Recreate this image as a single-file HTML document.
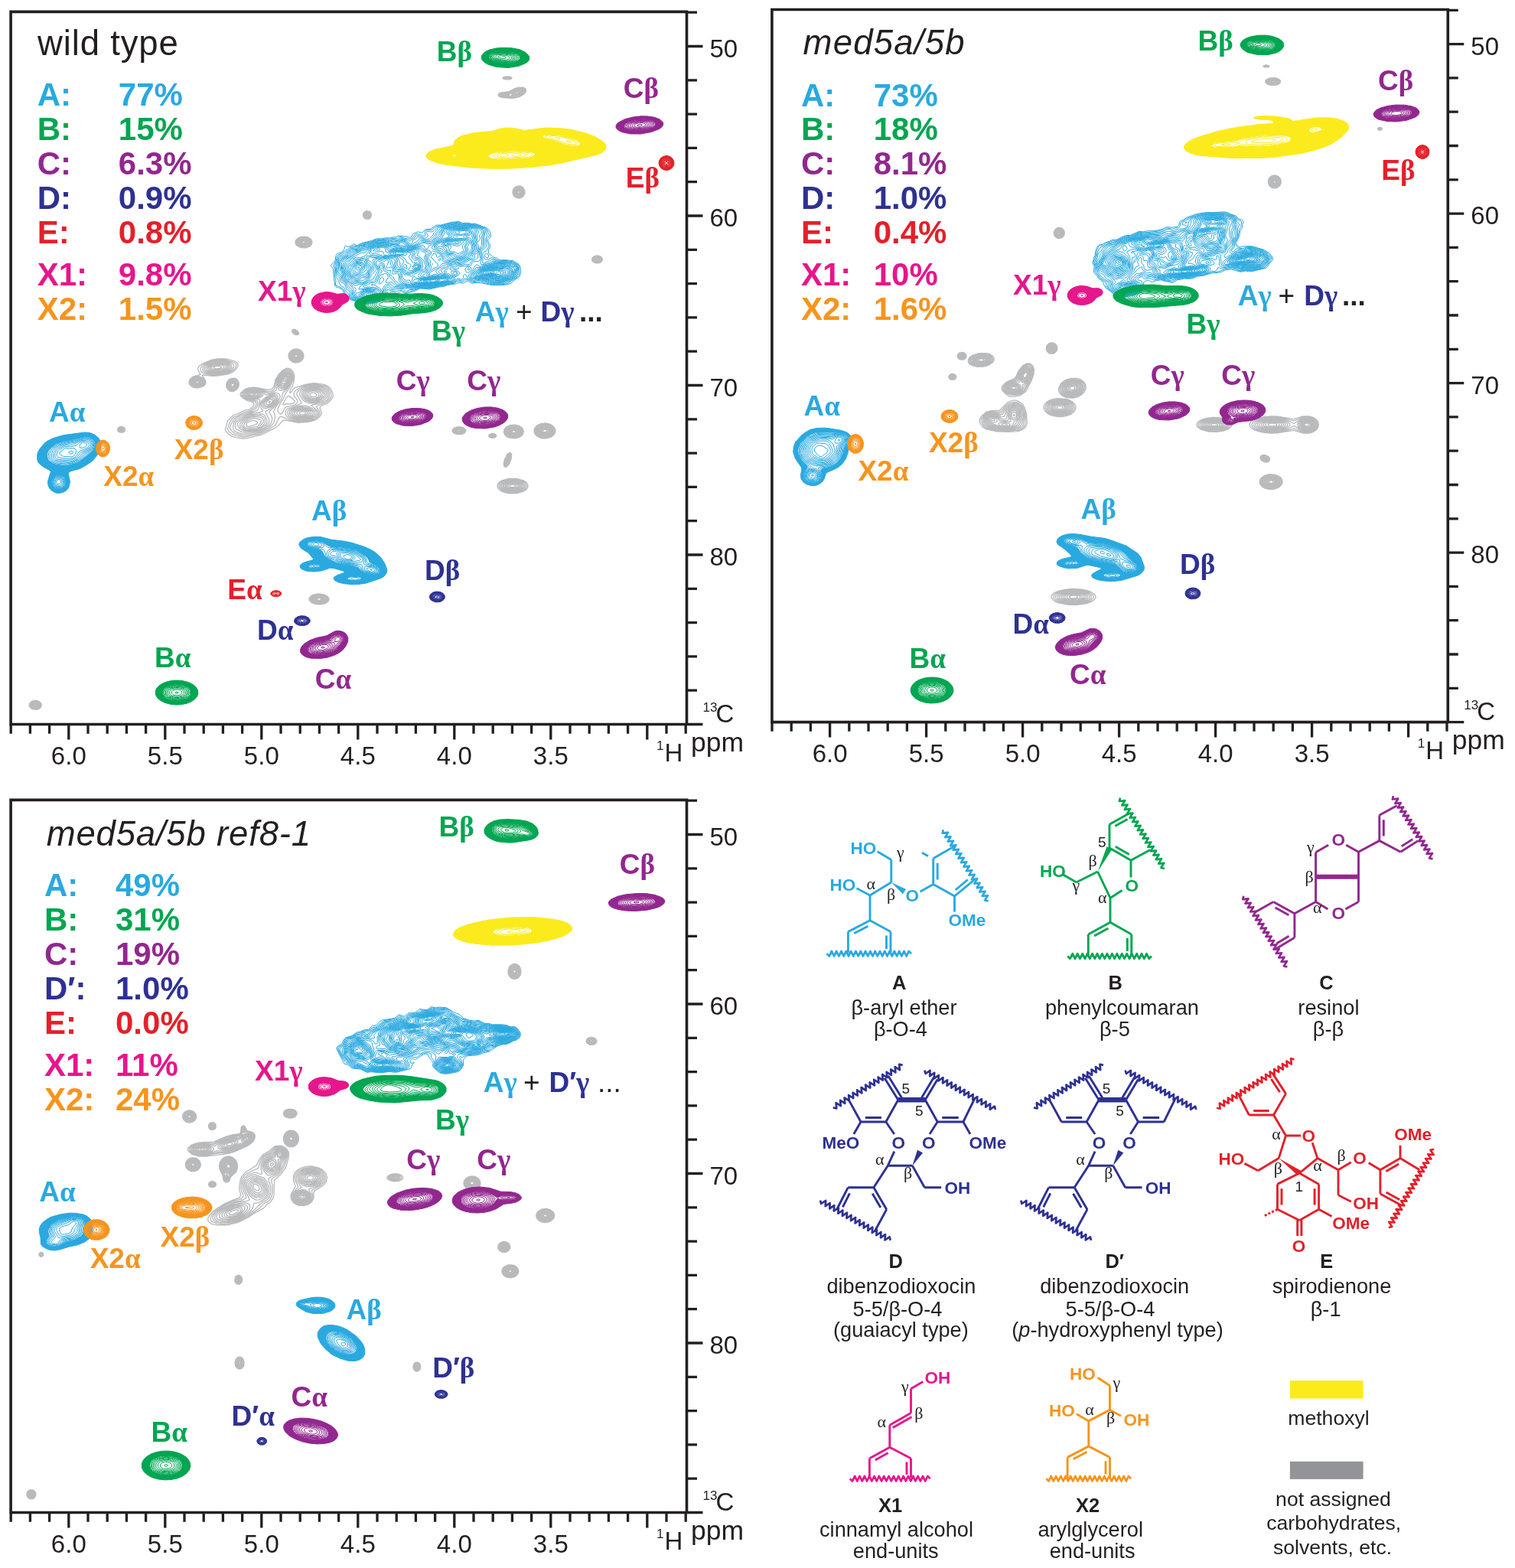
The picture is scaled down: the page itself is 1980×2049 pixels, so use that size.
<!DOCTYPE html>
<html><head><meta charset="utf-8"><title>HSQC NMR spectra</title><style>html,body{margin:0;padding:0;background:#fff;overflow:hidden}svg{display:block}</style></head><body>
<svg width="1980" height="2049" viewBox="0 0 1980 2049" font-family="'Liberation Sans', Arial, Helvetica, sans-serif">
<rect width="1980" height="2049" fill="#fff"/>
<g stroke-width="1" stroke-linejoin="round">
<path fill="none" stroke="#b9babc" stroke-width="1.35" d="M665.3 103.9l-6-.3-1.8-.8-.5-1 1.8-1.3 4-.6 4 .5 2.2 1.4-.7 1.1zM666.3 103.4l-6 .2-2-.8-.6-1 2.6-1.4 5.5 .1 2.5 1.3-.6 1zM665.3 103.3l-5 0-1.5-.7-.4-.8 1.4-.9 3-.5 3.5 .5 1.3 .9-.7 1zM663.3 103.3l-3-.3-1.2-1.2 3.7-1.2 2.5 .3 1.6 .9-1.1 1.1zM664.8 102.9l-3.5 .1-1.5-1.2 2-.9 3 .1 1.4 .8zM663.8 102.8l-2.5-.1-.9-.9 2.4-.7 2.8 .7zM664.3 102.5l-2 .1-1.1-.8 2.6-.4 1 .4zM663.3 102.3l-1-.5 1.4 0z"/>
<path fill="#b9babc" fill-rule="evenodd" d="M672.5 128.2l-5 .1-11.5-.9-4-1.6-1-2.2 1-1.3 2-1.1 11.5-1.6 7-3.7 4.5-1.5 6-.2 2.5 .8 1.4 1.1 .6 1.5-.3 2-3.2 3.9-5 2.9zM674.5 126.6l-16.5 .3-4-1.2-1.3-1.6 .9-1.5 2.9-1.2 10-.6 5.5-3.5 4-1.5 5-.5 3.6 1.3 .8 2.5-1.8 3-4.1 2.8z"/>
<path fill="none" stroke="#b9babc" stroke-width="1.35" d="M672.5 128.2l-5 .1-11.5-.9-4-1.6-1-2.2 1-1.3 2-1.1 11.5-1.6 7-3.7 4.5-1.5 6-.2 2.5 .8 1.4 1.1 .6 1.5-.3 2-3.2 3.9-5 2.9zM674.5 126.6l-16.5 .3-4-1.2-1.3-1.6 .9-1.5 2.9-1.2 10-.6 5.5-3.5 4-1.5 5-.5 3.6 1.3 .8 2.5-1.8 3-4.1 2.8zM662.5 126.6l-6.5-.5-1.9-1-.5-1.5 1.4-1.3 3-.8 8.5 .1 6-3.9 5-1.7 4.5 .2 2.3 1.9-.2 2-1.4 2-5.2 3.1-4.5 1.1-6-.2zM663 126.1l-6.5-.3-1.9-1.2-.1-1 1.5-1.2 3-.7 8 .8 4.5-3.6 5-2.1 4.5-.2 2.3 1.5 .1 1.5-1.1 2-4.3 2.9-4.5 1.1-6-.5zM676 124.6l-5 .3-1.8-.8-.4-1 2-3 3.7-2.2 4.5-.9 3 1 .5 1.6-1.1 2-2.4 1.8zM663 125.7l-5.5 0-2.1-1.1-.1-1 1.7-1.1 3-.5 3.5 .5 2.1 1.1-.2 1zM675.5 124.2l-4.5-.2-.8-.9 .3-1.5 2-2.1 3-1.4 3.5-.5 2 .7 .6 1.3-1.1 2zM660.5 125.6l-3.3-.5-.8-.5-.2-1 3.8-1.2 2.5 .3 1.7 .9-.7 1.3zM675.5 123.7l-3.5-.3-.7-.8 .4-1.5 1.8-1.6 3-1.2 2.5 0 1.4 .8 .2 1-1 1.5zM661 125.2l-3-.3-1-.8 .2-.5 2.8-.8 3 .8-.2 1zM675 123.2l-2.4-.6-.2-1 1.1-1.3 3.5-1.4 2.4 .7 0 1-.9 1.1zM661 124.6l-2.8-.5 .8-.7 2 0 .9 .7zM676 122.2l-2-.1-.1-1 2.1-1.3 2 .2-.1 1.1z"/>
<path fill="#b9babc" fill-rule="evenodd" d="M678.9 259l-3-.3-3-1.5-1.9-2.3-1-3 .3-3 1.5-3 2.1-1.8 3-1 3 .1 3 1.5 2 2.2 1 3-.1 3-1.5 3-2.4 2.1zM679.4 257.4l-2.5 .1-2.5-1-1.7-1.6-1.1-2.5-.1-2.5 1-2.5 1.9-1.9 2-.9 2.5-.1 2.5 .9 1.7 1.5 1.3 2.5 .1 2.5-.9 2.5-1.7 1.9z"/>
<path fill="none" stroke="#b9babc" stroke-width="1.35" d="M678.9 259l-3-.3-3-1.5-1.9-2.3-1-3 .3-3 1.5-3 2.1-1.8 3-1 3 .1 3 1.5 2 2.2 1 3-.1 3-1.5 3-2.4 2.1zM679.4 257.4l-2.5 .1-2.5-1-1.7-1.6-1.1-2.5-.1-2.5 1-2.5 1.9-1.9 2-.9 2.5-.1 2.5 .9 1.7 1.5 1.3 2.5 .1 2.5-.9 2.5-1.7 1.9zM679.9 256.6l-2.5 .3-2-.6-1.8-1.4-1.2-2-.3-2.5 .6-2 3.2-2.9 2.5-.4 2 .5 1.8 1.3 1.3 2 .4 2.5-.5 2-1.5 2zM679.4 256l-2 .2-2-.7-2.4-3.1-.2-2 .7-2 2.9-2.4 2-.2 2 .6 2.6 3 .2 2-.6 2-1.2 1.6zM678.9 255.5l-3.5-.8-1.9-2.8 .8-3.5 2.6-1.8 3.5 .5 2 2.8-.5 3.5zM679.4 254.6l-3 0-2-2.2 0-3 2.5-2.1 3 .3 1.8 2.3-.3 3zM678.9 254.1l-2.5-.3-1.5-1.9 .3-2.5 1.7-1.4 2.5 .1 1.6 1.8-.1 2.5zM678.4 253.4l-2-.5-.8-1.5 .3-1.7 1.5-1.1 2 .4 1 1.4-.4 2zM678.4 252.5l-1.1-.1-.8-1 .9-1.8 1-.1 1 .9 0 1.2z"/>
<path fill="#b9babc" fill-rule="evenodd" d="M480.9 286.4l-4-.8-1.6-1.7-.7-2 0-2 .9-2 3.4-2.3 4 .7 1.7 1.6 .8 2-.7 4-1.8 1.8zM480.9 285.4l-3.5-.7-1.8-2.8 .7-3.5 2.6-1.8 3.5 .6 2 2.7-.6 3.5z"/>
<path fill="none" stroke="#b9babc" stroke-width="1.35" d="M480.9 286.4l-4-.8-1.6-1.7-.7-2 0-2 .9-2 3.4-2.3 4 .7 1.7 1.6 .8 2-.7 4-1.8 1.8zM480.9 285.4l-3.5-.7-1.8-2.8 .7-3.5 2.6-1.8 3.5 .6 2 2.7-.6 3.5zM480.9 284.9l-3-.4-1.9-2.6 .5-3 2.4-1.8 3 .3 2 2.5-.3 3zM480.9 284.5l-2.5-.3-1.9-2.3 .3-2.5 2.1-1.8 2.5 .1 2 2.2-.4 3zM480.9 284l-2.5-.3-1.4-1.8 .3-2.5 1.6-1.3 2.5 .1 1.5 1.7-.1 2.5zM480.9 283.5l-2-.1-1.4-1.5 0-2 1.4-1.4 2 0 1.5 1.4 .1 2zM480.9 283l-1.5 .1-1.4-1.2-.1-1.5 1-1.3 1.5-.3 1.5 1.1 .1 2zM480.9 282.4l-1.5 .2-.8-.7-.3-1 .6-1.2 1-.4 1.4 .6 .4 1.5zM480.4 282l-1.4-.6 .1-1 .8-.5 1.2 1z"/>
<path fill="#b9babc" fill-rule="evenodd" d="M399.3 323.9l-6-.2-5.3-2.8-1.5-2-.5-2 .5-2.5 1.4-2 3.9-2.4 5-.9 5.5 .9 3.8 2.4 1.9 3.5-.8 3.5-2.9 2.8zM399.8 322.4l-5.5 .1-4.4-2.1-1.9-3.5 1.3-3.5 3-2.1 4-.8 4.5 .5 3.4 1.9 1.6 2.5-.2 3-2.3 2.6z"/>
<path fill="none" stroke="#b9babc" stroke-width="1.35" d="M399.3 323.9l-6-.2-5.3-2.8-1.5-2-.5-2 .5-2.5 1.4-2 3.9-2.4 5-.9 5.5 .9 3.8 2.4 1.9 3.5-.8 3.5-2.9 2.8zM399.8 322.4l-5.5 .1-4.4-2.1-1.9-3.5 1.3-3.5 3-2.1 4-.8 4.5 .5 3.4 1.9 1.6 2.5-.2 3-2.3 2.6zM398.8 322l-5-.3-3.5-2-1.4-3.3 1.5-3 2.9-1.7 3.5-.6 4 .6 2.8 1.7 1.4 2.5-.4 2.5-2.3 2.4zM398.3 321.4l-4-.3-3.5-2.1-1-2.6 1.5-2.8 2.5-1.4 3.5-.5 3 .6 2.7 1.6 1.1 2-.4 2.5-2.2 2zM399.8 320.4l-3.5 .4-3.5-1-2-2.4 .5-2.5 2-1.8 2.5-.7 3 .1 2.5 1 1.7 1.9 .2 2-1.4 1.9zM398.8 320l-3 .2-3-1.3-1.1-2 .6-2 1.5-1.2 2.5-.7 4.5 1 1.3 1.4 .1 2-1 1.5zM398.3 319.5l-2.5 0-2.3-1.1-.9-1.5 .8-2 3.4-1.3 3.8 1.3 .7 2.5-1 1.2zM397.3 318.9l-2-.3-1.5-1.2 0-1.5 .9-1 3.1-.5 2.4 1.5-.4 2zM397.8 317.9l-2.5-.4-.2-1.6 1.7-.7 2 .6 .3 1.1z"/>
<path fill="#b9babc" fill-rule="evenodd" d="M783.1 343.6l-4.5 .2-3.5-1.6-1.6-2.6 .8-3 2.3-1.8 3-.8 3.5 .3 2.5 1.3 1.6 2 .1 2.5-1.7 2.3zM782.6 342.7l-3.5 .2-2.9-1.3-1.3-2 .6-2.5 1.6-1.3 2.5-.8 3 .3 2 .9 1.4 1.9-.1 2-1.3 1.7z"/>
<path fill="none" stroke="#b9babc" stroke-width="1.35" d="M783.1 343.6l-4.5 .2-3.5-1.6-1.6-2.6 .8-3 2.3-1.8 3-.8 3.5 .3 2.5 1.3 1.6 2 .1 2.5-1.7 2.3zM782.6 342.7l-3.5 .2-2.9-1.3-1.3-2 .6-2.5 1.6-1.3 2.5-.8 3 .3 2 .9 1.4 1.9-.1 2-1.3 1.7zM782.6 342.2l-3.5 .2-2.5-1.2-1.1-2.1 .8-2 1.8-1.2 2-.5 4.1 1.2 1.1 1.5 .1 1.5-.9 1.5zM780.6 342.1l-3-.8-1.4-1.7 .9-2.5 2.5-1.2 3.5 .6 1.7 2.1-1.1 2.5zM781.1 341.6l-2.5-.3-1.5-1.2-.3-1.5 1.3-1.6 3.5-.5 2.4 1.6-.4 2.4zM781.1 341.2l-2-.2-1.3-.9-.3-1.5 .6-1 2.5-.8 2.5 1 .4 1.8zM781.1 340.7l-2.4-.6-.6-1 .4-1 2.1-.8 1.9 .8 .2 1.5zM780.6 340.1l-1.5-.6 .5-1.4 1.5-.1 .9 .6-.2 1z"/>
<path fill="none" stroke="#b9babc" stroke-width="1.35" d="M388.5 437.6l-2.5-.3-3-1.8-1.5-2.5 .5-1.9 1.5-.7 2 .2 3.5 1.9 1.6 3-.6 1.4zM388.5 436.8l-2 0-2.5-1.3-1.3-1.5-.2-2 2.5-.9 3 1.4 1.7 2.5zM388 436.1l-1.5 .1-2-1-1.3-1.7 .1-1 1.7-.7 2.5 1 1.3 1.7zM387 435.5l-2.4-1-.5-1 .4-.9 1.5 0 1.4 .9 .5 1.5zM386.5 434.7l-1-.4-.3-.8 1.3 .2z"/>
<path fill="#b9babc" fill-rule="evenodd" d="M390 473.6l-4 .4-3.5-1-3-2-1.9-3-.6-3.5 .8-3 2.2-2.9 3-1.9 4-.7 4 .7 3.5 2.3 1.9 3 .6 3.5-1 3.5-2.5 2.8zM389.5 472l-3 .4-3-.7-2.5-1.7-1.7-2.5-.5-2.5 .5-2.5 1.7-2.5 2.5-1.7 3-.7 3.5 .5 3 1.9 1.7 2.5 .5 3-1 3-2.2 2.4z"/>
<path fill="none" stroke="#b9babc" stroke-width="1.35" d="M390 473.6l-4 .4-3.5-1-3-2-1.9-3-.6-3.5 .8-3 2.2-2.9 3-1.9 4-.7 4 .7 3.5 2.3 1.9 3 .6 3.5-1 3.5-2.5 2.8zM389.5 472l-3 .4-3-.7-2.5-1.7-1.7-2.5-.5-2.5 .5-2.5 1.7-2.5 2.5-1.7 3-.7 3.5 .5 3 1.9 1.7 2.5 .5 3-1 3-2.2 2.4zM388 471.6l-2.5-.1-2.5-1-2-1.7-1.2-2.3-.1-2.5 1.1-2.5 1.7-1.7 2.5-1.2 2.5-.2 3 .8 2.4 1.8 1.3 2.5 0 3-1.2 2.3-2.5 2zM389 470.6l-2.5 .3-2.5-.7-1.8-1.2-1.3-2 0-4 1.3-2 1.8-1.2 2.5-.7 3 .5 2.3 1.4 1.3 2 .4 2.5-.6 2-1.7 2zM388 470l-4-.6-1.6-1.4-1-2 .6-3.5 1.5-1.5 2-.9 2.5-.1 2 .6 1.6 1.4 1 2 0 2-1 2zM388.5 469.2l-3.5-.2-2.3-2-.4-3 2.2-2.8 4-.4 2.8 2.2 .5 1.5-.2 2-1.1 1.5zM387.5 468.6l-3-.8-1.5-2.3 .7-2.5 2.8-1.6 3 .8 1.5 2.3-.7 2.5zM388 467.6l-2.3-.1-1.6-1.5 0-2 1.4-1.4 2.5-.2 1.9 1.6 0 2zM387.5 466.7l-1.5-.2-.9-1 .9-2 1.5-.2 1.4 1.2-.3 1.5z"/>
<path fill="none" stroke="#b9babc" stroke-width="1.35" d="M303.7 511.5l-3.5-.5-2.6-2-1.6-3-.2-3.5 1.1-3.5 2.3-2.8 3.5-1.9 3-.2 3 1 2 1.9 1.4 3 .1 3-.8 3-2.2 3-2.5 1.8zM304.7 510l-3 0-2.5-1.3-1.6-2.2-.6-3 .6-3 1.6-2.5 2.5-1.9 3-.7 2.5 .5 2 1.4 1.3 2.2 .5 2.5-.4 2.5-1.3 2.5-2.1 2zM305.2 508.6l-2.5 .3-2-.8-1.6-1.6-.8-2.5 .2-2.5 1.4-2.5 1.8-1.5 2.5-.8 2 .2 1.8 1.1 1.7 3.5-.2 2.5-.9 2zM304.7 507.5l-2 .1-1.5-.7-1.3-1.4-.5-2 1.3-3.7 1.5-1.3 2-.6 3 1.1 1.4 3-1.1 3.5zM305.2 506l-2.5 .2-2-2.2 .6-3 2.4-1.7 2 .2 1.6 2-.2 2.5zM304.7 504.7l-1.5 .1-1.1-1.3 .1-1.5 1.5-1.2 1.5 .2 .7 1-.1 1.5z"/>
<path fill="none" stroke="#b9babc" stroke-width="1.35" d="M259.3 506.8l-5-.2-4-1.8-2.6-2.5-.7-3.5 1.7-3.5 3.1-2.9 10-2.7 0-.9-2.9-5-.2-2.5 1.7-3 3.7-3 11.7-4.8 7-1.3 7.5-.5 6 .5 10 2.7 2.5 1.1 1.8 1.8 .5 3.5-2.7 4.5-4.1 3.3-6 2.8-14 2.3-7.5 .1-10-1.3-2.8 .3 4.6 7 .3 3.5-1.1 2-2.5 2.1zM321.8 572.8l-5 .2-9.5-1.7-5-1.7-2.5-1.4-2.6-2.4-2.2-2.5-.7-2 2.8-10.5 6.2-6.8 2.5-1.6 5.5-1.8 8.5-4.5 7-1.3 2.5-2 2.6-3.5 .1-2-1.4-1.5-9.3-3.2-4.3-2.8-2.3-2.5-.6-2 .6-2 5.1-4.3 4.5-1.8 6.5-1 8 .9 11 2.4 5.5-1.2 2.5-2.3 2.1-9.7 4.6-7.5 6.3-5.8 3-1.5 2.5-.4 3 .9 3 2.7 1.6 3.1 .8 4-.7 8-5.2 11.4 0 2.4 1.5-.7 3.5-5.1 2-1.2 13.5-4.1 10.5-1.9 11 1.3 4 1 5 2.7 2.8 3.2 2.5 6 .1 2.5-.6 2.5-2.3 3-4.5 4.2-7.5 3.2-2 1.6-.3 2 2.1 4.5 .1 2.5-2.3 3.5-4.6 3.9-5 1.9-7.5 1.5-11 .7-17-3.1-2.5 .2-2 1.2-3.5 4.7-4 3-19 9.8zM371.3 528.8l3-1.2 5 .4 3-.6 2.4-1.6 .3-2-2.2-2.4-5-4-1-.1-2.5 2.4-4.1 7.6-.4 1.5zM288.8 489.8l-12 .4-9.5-2.1-2.9-1.3-1.6-1.5-.9-2 .2-2 1.9-3.5 2.8-2.2 8-3.6 8-1.8 7-.5 5 .4 11.1 3.7 2.3 1.5 .6 2-.5 2-2 3-2.5 2.3-6.5 3.4zM319.8 571.4l-11.5-2.3-5.1-1.8-4.3-3.5-1.7-3.5 2.8-8 4.8-6.9 6.9-2.6 7.6-4.1 8.5-2.4 5-4 1.8-2.5 .3-3-1.1-1.6-12-3.8-3-1.8-2.3-2.3-.5-1.5 .4-2 4.9-4.4 5-1.8 5.5-.4 9 1.3 9.5 3.5 4.8-1.2 2.7-1.4 1.3-1.6 2-11 3-5.5 2.6-3.5 3.6-3 3.5-1.8 3-.2 2.5 1.2 2.2 2.3 1.4 3 .5 3.5-.4 4-4.5 9.5-5.8 8.5-2.2 6-4.2 6.1-2.8 6.4-.5 2.5 .4 2 1.4 2.2 2 1.1 2.5-1.7 2.1-5.1 2.4-2.5 8.9-2 3.7-1.5 1.9-1.5 .7-1.5-.2-2.1-4.4-5.9-.5-3 2.2-4 7.2-4.2 8.5-2.9 10.5-1.2 12.5 2.5 3.6 2.3 2.5 3 1.4 3.5 .6 3.5-.5 2.5-1.7 2.5-4.9 4.4-10.1 3.6-2.3 1.5 4.1 6 .7 3-1.9 3.4-4.5 3.6-4.5 1.7-7.5 1.6-10.5 .4-11.5-2.4-11-4.7-3 2.8-2.3 6.1-1.5 2.5-9.7 6.7-10.5 5-12 2.2zM260.8 505.8l-6 .2-3.5-1.5-2.1-1.7-1-2-.1-2 1-2.5 2.2-2.4 4-1.7 5-.4 3 1.1 2.7 2.4 1.7 3-.2 3-2.7 2.9zM288.3 488.8l-11.5 .3-7.5-1.9-2.7-1.4-1.4-1.5-.5-2 .3-2 2.1-3 6.7-3.7 4.5-1.7 6.5-1 6-.2 4.5 .7 5.5 2.1 4.3 2.8 .6 1.5-.4 2-1.4 2.5-2.1 2-5.5 2.9zM320.3 569.3l-4-.2-10-3-3.4-2.8-1.9-2.5-.6-2 1.3-4 4.6-7.6 12.5-6.2 10.4-3.7 5.1-3.5 2-2.6 .7-4.4-.7-2.7-12-3-3.5-1.5-3-3.3 .6-3 1.9-2 3-1.8 6.5-1.5 11 1.4 9 4.5 2.5-.2 7-2.6 1.2-.8 .7-1.5 1-11.5 3.8-7 3.3-3.4 3.5-2.1 3-.5 2.5 .9 2.2 2.1 1.2 2.5 .5 3.5-.7 4-5.5 10-6.2 6-1.6 7-10.6 16.5-.1 1.5 1.6 3.5 .5 3.5-1 5-1.4 3.5-6.9 6.1-9 5zM259.8 505.3l-5.5-.2-4.3-2.8-.9-2 .1-2 1-2 2.1-2 3.5-1.4 4.5-.1 3 1.3 2.5 2.7 1 2.5-.7 2.5-2.8 2.4zM395.3 549.8l-6.5-.1-10-2.6-4.1-2.8-1.4-3 0-4.5 1.6-2.5 12.8-4.5 6.5-3-6-10.5-.4-2 .8-2 2.4-2.5 4.3-2.8 4.5-2.1 4-.8 9.5-.7 8.5 1.7 4 1.9 3.2 3.3 1.3 4 .2 4-1.7 2.9-2.5 2.4-2.5 1.4-9.5 3-6.5 1-1.1 .8 8.7 7.5 .9 2.5-1 2.5-3.5 3.2-4 2-8 2zM288.3 487.8l-10.5 .4-5-1-5-2.9-.9-2 .2-2 2-2.5 5.7-3.6 3.5-1.3 5-.9 6-.4 4.5 .5 5 1.9 3.1 2.3 .9 1.5 .1 2-.8 2-1.8 1.9-5 2.7zM367.8 510.4l-3-.8-1.7-2.8-.4-5 .8-5 3-5.5 2.8-3 4-2.3 3.5 .1 2.3 1.7 1.4 2.5 .5 3.5-.8 4-3 5.5-2.9 3.9-3 2.2zM258.8 504.8l-5-.6-3.4-2.9 0-3.5 2.9-3.2 3.5-1.1 3.5 .2 2.5 1.1 2.3 2.5 .6 2.5-.7 2-2.7 2zM412.3 526.8l-10-.3-4.5-2.3-3.5-3.5-2.3-3.9-.4-3 1.1-2.5 2.7-2.5 4.4-2.5 9-1.7 7 .5 5.5 1.4 3.5 1.9 2.2 2.4 1.1 2.5 .5 3.5-.8 2.5-4.5 3.7zM319.3 567.3l-3-.3-7-2.2-2.5-1.5-1.6-2.5-.8-3 1.4-6 2.5-3.3 9.5-5 19-7.7 1.3-2.5 1.5-10.5-1.3-.9-8-.3-8-2.5-2.8-2.8-.1-1.5 1-2 4.9-3.2 7-.8 5.5 .8 4 1.2 2.6 1.5 2.9 3.5 1 .3 10-2.8 3.5 .3 2.8 1.2 1.2 1.8 .2 2.2-3 7-4.3 6-6.5 5.5 .1 2 2.8 5 .7 3-.9 4.5-2.1 3.5-4.5 3.8-8.5 4.8zM399.8 548.3l-10 .3-9.5-2.7-2.4-1.6-1.4-2-.8-3 .5-2.5 2.1-1.8 6-2.4 6.5-2.1 3.5-.4 6 .4 3.5 .9 7 4.1 2.7 2.3 .6 1.5-.1 1.5-2.7 3.1-4.5 2.6zM288.3 486.8l-9 .4-5-.6-4.5-2.8-.7-1.5 0-1.5 1.8-2.5 3.9-2.9 3-1.4 4.5-1 6.5-.5 4 .4 4.5 1.7 2.8 2.2 .9 3-2.2 3.5-4 2.2zM370.8 507.8l-3.5 .2-2.4-1.7-1-3 .3-5 1.9-4.5 2.7-3.7 3.5-2.4 3.5-.4 2 1.1 1.4 1.9 .6 3-.3 3-3.9 7.5-2.3 2.5zM260.3 503.9l-4.5 .2-3.6-1.8-1.3-3 1.4-3 2-1.4 3-.8 3 .4 2.5 1.3 1.8 2.5 .1 2-1.4 2zM413.3 525.3l-3.5 .4-5.5-.6-4.5-1.8-3.5-3.5-1.8-3-.3-3 1.1-2.5 5.5-4 8.5-1.6 6 .6 8 3.1 1.8 1.9 1.2 2.5 .2 2.5-.7 2-4 3.2zM335.3 520.8l-5-.1-6.5-2-2.7-2.4 .2-2.5 3.5-3 5.5-1.2 8 .9 4.6 2.3 1.2 2-.8 2.5-3.5 2.2zM320.8 565.3l-4-.6-8-3.9-1.1-2-.4-3 .3-2.5 1.2-2.4 10.5-6.4 7-3 5.5-1.9 7-.6 4.5-1.6 .3-.6-2.7-4-.7-3 .3-3.5 1.4-2.5 4.9-4.2 7-3.7 4.5-1 3.4 1.4 1.4 2 .1 2.5-1 3.5-2 3.5-3.9 4.2-9.7 5.8 5.1 10.5 0 4-1.6 3-2.8 2.4-8 5zM399.3 547.4l-9 .1-8-2.3-2.2-1.4-1.5-2-.6-2 .3-2 2-1.9 5-2.2 5-1.7 4-.4 9.5 1.5 7.2 4.7 .8 2.5-2.3 3-3.7 2.1zM288.3 485.8l-8 .5-5-.6-3.2-1.9-.8-1.5 0-1.5 1.1-2 2.9-2.5 6-2.2 10-.4 4 1.2 2.8 1.9 1.1 3-1.4 2.6-3.5 2.1zM370.3 506.4l-2.5-.1-2-1.7-.8-2.8 .4-4 1.8-4 2.2-3 2.9-1.9 3-.2 1.5 .8 1.4 1.8 .3 5-3.7 6.8-2 2.1zM259.8 503.3l-4 .1-3-1.6-1-2.5 1.5-2.9 2.5-1.4 2.5-.2 2.5 .6 1.9 1.4 1.1 2-.3 2-1.4 1.5zM412.3 524.4l-7.5-.5-4.4-2.1-2.7-3-1.4-2.5 0-2.5 1.3-2.5 4.7-3.2 8-1.3 5 .8 7.1 3.2 2 3.5 0 2-.8 1.5-4.3 3.3zM335.3 519.8l-4 .3-5.5-1.6-2.6-1.7-.6-2.5 2.7-2.7 4.5-1.2 6.5 .5 4.5 1.9 1.2 1.5-.4 2-2.4 2zM347.3 533.8l-3-.7-2-2.3-.6-3 1.3-3 3.8-3.4 6.5-4 3.5-.9 3 .8 1.4 2 .2 2.5-.8 3-1.9 3-4.4 3.9zM398.8 546.4l-8 0-7-2-3.1-2.6-.6-2 .4-1.5 1.8-1.7 4-2 8-1.8 8.5 1.3 5.7 3.7 .9 2-1.3 2.5-3.8 2.3zM325.3 563.4l-6 .1-5.5-3.2-3.3-4-.2-2.5 1-2 9-6.2 9.5-3.9 12-.9 3.5 1.3 2.1 3.2 1.6 5-.1 2.5-1.4 2.5-8.7 6.2zM283.3 485.3l-5-.1-3.3-.9-1.8-2 .2-2.5 1.9-2.2 3-1.8 8-1.3 6.5 .7 3 1.4 1.5 1.7-.2 2.5-2.8 2.4-4.5 1.4zM370.3 504.9l-2-.2-1.5-1.4-.7-2.5 .4-3 3.3-6 2.5-1.7 2.5-.1 2.4 2.3 .1 4.5-3.2 5.5zM259.3 502.8l-3.5 0-2.4-1.5-.7-2 1.2-2.5 1.9-1.1 2.5-.2 2 .5 1.8 1.3 .8 2-.4 1.5zM411.3 523.3l-6.5-.6-4-2.5-2.1-2.9-.6-2 .4-2 1.5-2 4.8-2.6 6-.7 4.5 1 6 3.3 1.1 2.5-1.3 3-5.8 4.2zM335.3 518.9l-4 .3-4-1.1-2.8-1.8-.4-2 1.7-1.8 3-1.1 4-.2 4.5 .8 2.1 1.3 .8 2-1.6 2zM349.8 531.9l-3 0-2.2-1.1-1.2-2.5 .6-2.5 2.8-2.9 6-4 3-.9 2.5 .5 1.1 1.3 .5 2-1.5 4.5-3.6 3.7zM398.8 545.3l-5.5 .3-7-1.5-3.5-2.3-.5-2.5 3-2.8 6.5-2.3 4.5-.3 5.5 1.2 4.2 2.7 .8 2.5-2.5 2.7zM323.3 562.3l-2.5-.1-2.5-.9-4.3-4-.6-3.5 2.3-3 6.1-4.3 9-3.6 10.5 .1 3.3 1.8 1.7 3.5 .3 4-1.3 2.3-4.8 4.2-4.7 2.1zM283.8 484.3l-4.5-.1-3-.8-1.4-1.6 .2-2 1.7-2 2-1.1 6.5-1.2 6 .5 3.9 2.3 .2 2-2.2 2-3.9 1.3zM370.3 503.3l-1.5-.2-1.1-1.3-.4-2 .4-2.5 2.6-4.6 2-1.3 2-.1 2 2 0 3.5-2.7 4.5zM258.3 502.3l-2.5-.3-2-1.7 0-2 2-1.8 3.5-.1 2.4 1.9-.3 2.5zM412.3 521.9l-5.5-.1-4-1.7-2.6-3.8 0-2 .8-1.5 3.8-2.6 4.5-.9 4.5 .8 4.8 2.7 1.3 2-.8 2.5-3.3 2.9zM333.8 518.3l-3 0-3-1-1.9-1.5-.1-1.5 1.6-1.5 3.4-.8 4 .2 2.7 1.1 1 1.5-.6 1.5zM350.3 530.4l-2.5 0-2-1.1-.6-1.5 .5-2 2.1-2.2 4.5-3 2.5-1 2 .2 1.5 2.5-1.1 3.5-2.9 3.1zM398.3 544.3l-4.5 .2-5.6-1.2-3.2-2-.2-2 2.5-2.2 5-1.9 4-.2 4 .9 3.2 1.9 .8 2.5-2 2.3zM324.3 560.9l-2.5 0-2.5-.9-3.2-3.7 .3-3 4.1-4 3.8-2.2 7-2.6 9.5 .9 2.5 1.6 .9 2.3-.1 2.5-5.3 6.3-3.5 1.5zM283.3 483.3l-5.5-.9-1-1.1 .1-1.5 2.9-2.3 5.5-.8 4.5 .2 3 1.9-.1 1.5-1.9 1.4zM371.3 501.3l-2.2-.5-.2-3.5 1.9-3.5 1.5-1 1.5-.1 1.4 1.6-.1 2.5-1.8 3zM259.3 501.3l-3.5-.1-1.2-1.4 .3-1.5 2.4-1.4 2.5 .5 1.1 1.9zM412.3 520.4l-4 .2-4-1.3-2-2.5 .4-3 2.3-2 3.3-1.1 3.5 .5 3.2 1.6 1.8 1.8 .2 1.7-1.9 2.5zM333.8 517.3l-4.6-.5-1.3-1-.1-1.5 3-1.4 4.5 .5 1.2 .9 .2 1-.9 1.1zM350.3 528.8l-2.8-1 .5-2.5 4.8-3.5 3-.1 .7 2.1-1.2 2.4-2 1.7zM397.3 543.3l-3.5 .1-4-1.1-2-1.5 0-1.5 2-1.8 3.5-1.2 3-.2 3 .8 2.1 1.4 .5 2-1.6 1.9zM324.3 559.4l-3.6-.6-1.6-1.5-.5-1.5 1-3 3.2-3 9-3.4 7.5 1.6 1.7 1.3 .2 1.5-.7 2-3.7 4.3zM284.3 481.8l-4-.3-.8-.7 0-1 1.8-1.1 3.5-.5 3 .1 1.5 1-1 1.5zM371.3 498.8l-.7-1 .3-1.5 .9-1.3 1.3-.2 .5 1-.3 1.5zM258.8 500.5l-2.5-.2-.4-1.5 1.4-1 1.5 .2 .9 1.3zM411.8 518.5l-2.5 .3-3-.8-1.4-1.2 0-2 2.9-2.1 3.7 .6 2.4 2.5-.5 1.5zM333.8 515.8l-2.5 .3-1-1.3 3-.6 .9 .6zM352.8 525.8l-1.5 .5-.4-.5 1.9-1.6 .6 .6zM397.3 541.9l-4.5-.3-1.5-.9-.2-1.4 3.2-1.7 3.5 .3 1.7 1.9-.7 1.3zM325.8 557.4l-2.9-.1-1.4-1.5 .4-2.5 2.2-2 6.7-2 2.7 .5 2.8 1.5 0 2-1.5 1.4z"/>
<path fill="#b9babc" fill-rule="evenodd" d="M602.7 567.6l-4.5 .1-4.5-1.3-2.4-2.4 0-2.5 2.4-2.3 4-1.2 4.5-.1 4 1.3 2.5 2.3 0 2.5-2 2.1zM602.7 566.5l-4 .3-3.5-1-2.1-1.8-.2-2 1.3-1.6 3-1.3 4-.3 3.5 .9 2.2 1.8 .2 2-1.4 1.8z"/>
<path fill="none" stroke="#b9babc" stroke-width="1.35" d="M602.7 567.6l-4.5 .1-4.5-1.3-2.4-2.4 0-2.5 2.4-2.3 4-1.2 4.5-.1 4 1.3 2.5 2.3 0 2.5-2 2.1zM602.7 566.5l-4 .3-3.5-1-2.1-1.8-.2-2 1.3-1.6 3-1.3 4-.3 3.5 .9 2.2 1.8 .2 2-1.4 1.8zM602.7 566l-3.5 .3-3-.6-2.2-1.7-.2-2 1.4-1.6 3-1 3-.1 3 .8 1.8 1.4 .3 2-1.3 1.5zM602.7 565.5l-3 .4-3-.6-1.9-1.3-.2-2 1.1-1.2 2.5-1 5 .4 1.9 1.3 .5 1.5-.9 1.5zM602.2 565.2l-3 .2-2.5-.7-1.3-1.2 0-1.5 3.3-1.8 4.5 .6 1.4 1.2 .2 1-.6 1.1zM602.2 564.6l-4 .2-1.5-.8-.6-1.5 2.1-1.7 4 .2 1.5 1 .2 1zM600.2 564.5l-3-1 .1-1.5 2.9-.9 2.5 .9 .1 1.5zM601.2 563.7l-2.5 0-.7-1.2 1.2-.7 2 .1 .8 1.1z"/>
<path fill="none" stroke="#b9babc" stroke-width="1.35" d="M646.2 572l-3 .4-2.5-.6-1.7-1.4 0-2 3.2-1.9 4.5 .5 1.3 .9 .7 1.5-.7 1.5zM645.7 571.5l-2.5 .3-2-.5-1.1-.9-.3-1.5 2.4-1.8 4 .4 1.5 1.9-.5 1.1zM645.2 571l-3.5-.2-.9-.9 0-1 1.9-1.3 3 .4 1.1 1.4zM644.7 570.5l-2.5-.2-.4-1.4 1.4-.8 2 .4 .6 .9zM643.7 570l-1-.6 .5-.5 1.5 .5z"/>
<path fill="#b9babc" fill-rule="evenodd" d="M673.3 572.9l-7.5-.8-3-1.3-2.7-2.4-1.4-2.5-.2-3 1-2.5 2.3-2.5 5-2.3 6.5-.5 5.5 1.5 4.2 3.3 1.4 4-1.3 4-3.8 3.3zM674.8 571l-6 .2-5.5-2.4-1.7-1.9-.8-2 .2-2.5 1.1-2 3.7-2.7 4.5-1.1 5 .5 4.4 2.3 2.1 3-.1 3.5-2.4 3.1z"/>
<path fill="none" stroke="#b9babc" stroke-width="1.35" d="M673.3 572.9l-7.5-.8-3-1.3-2.7-2.4-1.4-2.5-.2-3 1-2.5 2.3-2.5 5-2.3 6.5-.5 5.5 1.5 4.2 3.3 1.4 4-1.3 4-3.8 3.3zM674.8 571l-6 .2-5.5-2.4-1.7-1.9-.8-2 .2-2.5 1.1-2 3.7-2.7 4.5-1.1 5 .5 4.4 2.3 2.1 3-.1 3.5-2.4 3.1zM673.3 570.5l-5.5-.4-4.6-2.7-1.1-2-.2-2 2-3.5 3.4-1.9 4.5-.6 4 .7 3.6 2.3 1.5 3-.6 3-3 2.8zM674.3 569.5l-5 .2-4.5-2-1.9-3.3 1.3-3.5 2.6-1.8 4-1 4 .5 3.3 1.8 1.6 2.5-.1 2.5-1.9 2.5zM673.3 569l-4.5-.2-3.5-1.9-1.3-3 1.3-2.8 2.5-1.6 3.5-.6 3.5 .5 2.5 1.5 1.3 2-.1 2.5-1.7 2.1zM673.8 568.1l-4 .1-3.1-1.3-1.6-2.5 .7-2.5 2-1.5 3-.8 3 .3 2.5 1.3 1.2 1.7 .1 2-1.3 1.9zM672.8 567.5l-3.5-.2-2.3-1.4-.8-2 1-2 1.6-1 2.5-.5 2.5 .4 1.8 1.1 .9 1.5-.3 2-1.4 1.3zM673.3 566.4l-2.5 .3-2-.6-1.4-1.7 .3-1.5 2.6-1.6 3.7 .6 1.1 1 .3 1.5zM672.8 565.4l-2.9 0-1-1 .1-1 1.8-1.1 2 .3 1.1 1.3z"/>
<path fill="none" stroke="#b9babc" stroke-width="1.35" d="M715.2 572.7l-4.5 .3-4-.7-4-1.8-2.7-2.3-1.7-3-.3-3 1-3 2.1-2.5 5.1-2.8 6.5-.9 6.5 1.4 4.7 3.3 2.1 4.5-1 4.5-3.8 3.8zM715.2 571.8l-4 .3-3.5-.5-3.5-1.4-2.6-2-1.7-2.5-.6-3 .6-2.5 1.8-2.5 4.5-2.8 6-1 5.5 1 4.6 2.8 2.3 4-.7 4.5-3.3 3.5zM715.7 570.8l-7 .1-5.6-2.7-1.7-2-.8-2.5 .2-2.5 1.4-2.5 4-2.8 5-1.1 5.5 .7 4.1 2.2 2.4 3.5-.1 4-2.8 3.5zM713.7 570.2l-6.5-.7-2.5-1.3-2-2-.9-2 .1-2.5 .9-2 1.9-1.9 4-1.8 5-.2 4.5 1.3 3 2.6 1.1 3-1 3.5-3.1 2.7zM714.7 569.2l-6-.1-4.2-2.4-1.3-2-.3-2 1.7-3.5 3.6-2.1 4-.6 4 .7 3.2 2 1.7 3-.5 3-2.4 2.6zM715.2 568.2l-5 .4-4-1.7-2.1-3.2 1-3.5 2.6-2 3.5-.9 3.5 .3 3.2 1.6 1.9 2.5 0 2.5-1.6 2.4zM713.7 567.7l-4-.1-3.4-1.9-1.1-3 1.2-2.5 2.8-1.6 3-.5 3 .6 2.4 1.5 1.1 2-.3 2.5-1.7 1.8zM713.7 566.8l-3.5 0-2.9-1.6-.9-2.5 1-2 2.3-1.4 2.5-.3 2.5 .5 1.9 1.2 .9 1.5-.1 2-1.2 1.5zM713.7 565.8l-2.5 .2-2.2-.8-1.2-1.5 .3-2 3.1-1.7 2 0 2 .9 1 1.3 0 1.5zM713.2 564.7l-3-.3-.9-1.2 .2-1 2.2-1.1 2.3 .6 .7 1.5z"/>
<path fill="none" stroke="#b9babc" stroke-width="1.35" d="M662 610.1l-2 .3-1.3-1.9-.3-3 .7-4 3.6-7.5 2.3-2.1 2-.3 1.2 1.4 .4 2-.7 5.5-2.6 6zM662 609.1l-1.5 .2-1.3-1.8 .4-6 3.1-6.5 1.8-1.8 2-.5 1 1 .4 1.8-.5 5-2.1 5zM662 608.1l-1.5-.1-.8-1.5 .5-5.5 2.8-5.5 1.5-1.4 1.5-.3 1.3 2.2-.5 5-2.1 4.5zM662 607.2l-1-.2-.8-1.5 .5-4.5 2.3-4.6 2.5-1.6 1.3 1.7-.5 4.5-1.9 4zM662.5 606.1l-1 0-.7-1.1 .4-4 2-4 1.3-1.1 1 0 .8 2.1-.5 3-1.6 3.5zM662.5 605.1l-1.2-1.1 .3-3 1.5-3 1.9-1.1 .7 1.6-.3 2.5-1.4 2.8zM662.5 604l-.6-1 .4-2.5 1.2-2 1-.5 .6 1-.4 2.5-1.2 2zM663 602.5l-.2-1.5 1.2-1.5 .2 1.5z"/>
<path fill="none" stroke="#b9babc" stroke-width="1.35" d="M676 644.5l-10.5 .3-5-1-4.5-1.7-3.3-2.1-2.1-2.5-.6-2.5 .6-2.5 2.1-2.5 3.3-2.1 9-2.6 10 0 9 2.6 3.3 2.1 2.1 2.5 .6 2.5-.6 2.5-2.1 2.5-2.8 1.9zM672 644l-9-.6-7-2.6-3.7-3.8-.4-2.5 .6-2 2.5-2.6 4-2.1 5-1.4 5-.5 5.5 .3 5 1.1 4.5 1.9 2.8 2.3 1.1 2 .2 2-.6 2-1.7 2-5.8 3.1zM673.5 643l-8-.1-7-2.1-2.8-1.8-1.6-2-.5-2 .5-2 1.9-2.3 3-1.8 4-1.3 5-.7 9.5 .8 4 1.5 2.8 1.8 2.1 3.5-.3 2-1.3 2-4.3 2.8zM674 642.1l-7.5 0-6.5-1.7-2.5-1.5-1.6-1.9-.6-1.5 .3-2 1.5-2 2.4-1.6 7.5-2.1 8.5 .4 6.5 2.6 2.6 3.2 .1 1.5-.9 2-3.8 2.9zM670.5 641.5l-6-.6-4.8-1.9-2.6-3 .5-3 1.9-1.9 2.5-1.2 7.5-1.4 7.5 1 3 1.3 2 1.7 1 3-2 3-4.5 2.2zM672.5 640.6l-6-.2-4.6-1.4-2.9-2.5-.4-1.5 .4-1.5 3.5-2.8 6-1.4 6.5 .6 4.7 2.1 1.6 2.5-.6 2.5-3.2 2.3zM673.5 639.5l-5.5 .3-4.5-1.2-2.8-2.1-.2-2.5 2.5-2.4 4-1.2 5-.2 4.5 1.2 2.8 2.1 .2 2.5-2 2.1zM670.5 639l-3.5-.3-3.3-1.2-1.5-1.5 0-2 2.8-2.1 4.5-.9 5 .7 2.9 1.8 .6 2-1 1.5-2.5 1.3zM671 638l-3-.1-2.7-.9-1.4-1.5 .3-1.5 2.2-1.5 3.1-.6 3.5 .4 2.4 1.2 .8 1.5-.8 1.5zM672 636.7l-4.5-.2-1.2-1 0-1 2.7-1.4 3.5 .4 1.4 1.5z"/>
<path fill="none" stroke="#b9babc" stroke-width="1.35" d="M160.5 565.1l-3.5 .1-2.4-1.3-1.1-2.5 1.1-2.5 1.9-1.2 2-.3 2 .3 1.9 1.2 1 1.5 0 2-1 1.5zM158.5 564.9l-3.1-1-1.3-2.5 1.3-2.5 3.1-1 3.1 1 1.3 2.5-1.3 2.5zM159 564.4l-2.5-.4-1.6-1.6 0-2 2.1-1.8 3 0 2.1 1.8-.2 2.5zM159 564l-2.5-.5-1.2-1.6 .2-1.5 1.5-1.3 3 0 1.7 1.8-.5 2zM159.5 563.4l-2 0-1.4-1-.3-1.5 .7-1 2.5-.7 1.9 1.2 .3 1.5zM159.5 563l-2.5-.3-.7-1.3 .4-1 1.8-.8 1.5 .5 .7 1.3zM159 562.6l-2-.7 .5-1.5 1.5-.2 1 .7 0 1zM158.5 562l-.8-.6 .8-.6 .8 .6z"/>
<path fill="#b9babc" fill-rule="evenodd" d="M418.9 789.9l-6-.2-5.5-2-3.1-3.3-.3-2 .6-1.5 1.8-2 2.5-1.4 6.5-1.5 7 .6 5.8 2.8 1.8 3-.3 2-.9 1.5-3.9 2.7zM419.9 788.4l-5 .1-5-1.4-3-2.7 .1-3 2.9-2.5 4.5-1.4 5.5 .1 4.5 1.4 2.6 2.4 .1 3-2.7 2.6z"/>
<path fill="none" stroke="#b9babc" stroke-width="1.35" d="M418.9 789.9l-6-.2-5.5-2-3.1-3.3-.3-2 .6-1.5 1.8-2 2.5-1.4 6.5-1.5 7 .6 5.8 2.8 1.8 3-.3 2-.9 1.5-3.9 2.7zM419.9 788.4l-5 .1-5-1.4-3-2.7 .1-3 2.9-2.5 4.5-1.4 5.5 .1 4.5 1.4 2.6 2.4 .1 3-2.7 2.6zM418.4 787.9l-4.5-.2-4-1.5-2-2.3 .3-2.5 3.2-2.4 4.5-1 5.5 .6 3.5 1.8 1.3 2-.7 2.5-3.1 2.1zM420.4 786.9l-4.5 .4-4-.9-2.5-2-.2-2.5 1.7-1.7 3.5-1.3 4-.2 3.5 .8 2.6 1.9 .5 2-1.3 2zM419.4 786.5l-3.5 .2-3.5-.9-2.1-1.9 .1-2 2-1.7 3-.8 3.5 0 3 1 1.7 1.5 .1 2-1.4 1.5zM418.4 786l-3 0-2.5-.9-1.6-1.7 .4-1.5 1.7-1.3 2.5-.6 3 .1 2.3 .8 1.4 1.5-.1 1.5-1.6 1.3zM419.4 785l-2.5 .4-2.5-.5-1.5-1-.2-1.5 2.7-1.6 4 .2 2 1.9-.5 1.2zM417.9 784.5l-3-.4-.7-.7 .1-1 2.1-.9 2.7 .4 .7 1.5z"/>
<path fill="#b9babc" fill-rule="evenodd" d="M47.6 927.3l-5.5-.7-3.2-2.8-.7-2 .3-2 1.3-2 1.8-1.3 3.5-1.1 3.5 .3 3 1.3 2.1 2.3 .5 2.5-1 2.5-2.1 1.9zM46.6 926.3l-4.5-1.1-2.4-2.9 .1-2 .8-1.5 4-2.2 3 0 2.5 .8 1.7 1.4 .9 2-.2 2-1.4 1.9z"/>
<path fill="none" stroke="#b9babc" stroke-width="1.35" d="M47.6 927.3l-5.5-.7-3.2-2.8-.7-2 .3-2 1.3-2 1.8-1.3 3.5-1.1 3.5 .3 3 1.3 2.1 2.3 .5 2.5-1 2.5-2.1 1.9zM46.6 926.3l-4.5-1.1-2.4-2.9 .1-2 .8-1.5 4-2.2 3 0 2.5 .8 1.7 1.4 .9 2-.2 2-1.4 1.9zM46.1 925.8l-4.3-1.5-1.2-1.5-.2-2 2.2-2.9 4.5-.9 3.9 1.8 1.1 3-2 2.9zM46.1 925.3l-3.5-1.1-1.3-1.4-.3-1.5 .4-1.5 1.6-1.5 4.1-.8 3 1.3 1.1 1.5 .2 1.5-1.8 2.6zM46.6 924.8l-3-.6-1.8-1.9 .1-2 2.2-1.9 3.5-.3 2.9 2.2 .2 1.5-.7 1.5zM46.6 924.3l-2.5-.4-1.6-1.6 .1-2 1.5-1.4 3-.4 2.7 1.8-.2 2.5zM46.1 923.8l-2.5-1-.5-2 1.5-1.5 2.5-.2 2 1.2 .3 1.5-1.2 1.5zM47.6 922.9l-3-.1-.8-1 .1-1 1.7-1.2 2 .3 1.1 1.4zM47.1 922.3l-1.9 0-.3-1.5 2.2-.3 .6 .8z"/>
<path fill="none" stroke="#b9babc" stroke-width="1.35" d="M1657.2 87.8l-4 .1-1.8-.7-.3-1 3.1-1.2 3.5 .4 1.3 1.3zM1657.2 87.4l-4 .1-1.3-1.3 1.8-.9 3 .1 1.4 .8zM1656.2 87.3l-2.5 0-1.1-.6 .1-.5 2.5-.7 2.1 .7 .1 .5zM1656.2 86.9l-2.8-.2 .3-.6 1.5-.3 1.3 .4z"/>
<path fill="#b9babc" fill-rule="evenodd" d="M1667.7 111.2l-5.5 .4-5-1.2-3-2.3-.3-2.5 2.3-2.3 4.5-1.5 5-.1 4.5 1.1 3 2.3 .3 2.5-2.3 2.3zM1665.2 110.6l-4-.1-3.5-1.1-2-1.8 0-2 2.5-2 4.5-1.1 4.5 .4 3.7 1.7 1 2-.7 1.7-2.5 1.6z"/>
<path fill="none" stroke="#b9babc" stroke-width="1.35" d="M1667.7 111.2l-5.5 .4-5-1.2-3-2.3-.3-2.5 2.3-2.3 4.5-1.5 5-.1 4.5 1.1 3 2.3 .3 2.5-2.3 2.3zM1665.2 110.6l-4-.1-3.5-1.1-2-1.8 0-2 2.5-2 4.5-1.1 4.5 .4 3.7 1.7 1 2-.7 1.7-2.5 1.6zM1665.7 110.1l-3.5 .1-3.5-.9-2.1-1.7 0-2 2.1-1.7 4-1 4 .3 3.2 1.4 1.1 1.5-.6 2-1.7 1.2zM1666.2 109.6l-3.5 .2-3-.6-2.2-1.6-.2-1.5 1.4-1.6 3-1 6 .5 2.2 1.6 .2 1.5-1.3 1.5zM1666.2 109.2l-3 .3-3-.6-1.8-1.3-.3-1.5 1.1-1.2 2.5-1 5.5 .4 1.8 1.3 .3 1.5-1.1 1.2zM1666.2 108.7l-3 .3-2.5-.5-1.4-.9-.4-1.5 1.3-1.2 2-.6 4.5 .4 1.9 1.9-.5 1zM1663.7 108.6l-3-.7-.9-.8 0-1 1.4-1.1 2.5-.4 2.5 .4 1.4 1.1 0 1-.9 .8zM1664.2 108.1l-2.8-.5-.6-1.5 2.9-1 2.9 1-.4 1.4zM1665.2 107.2l-2 .3-1.4-.9 .9-.8 1.5-.1 1.2 .4z"/>
<path fill="none" stroke="#b9babc" stroke-width="1.35" d="M1804.4 170.2l-2 0-1.5-.9-.4-1.1 .5-1 2.4-.9 2.5 .8 .6 1.6zM1804.4 169.8l-2.5-.3-.8-.8 .2-1 1.6-1 2.4 .5 .5 1.5zM1804.4 169.4l-2.1-.2-.4-1.5 1.5-.7 1.5 .5 .4 1.2zM1804.4 168.9l-1.5 .2-.7-.9 1.7-.7 .9 .7z"/>
<path fill="#b9babc" fill-rule="evenodd" d="M1667.6 245.8l-3.5 0-3-1.2-2.3-2.3-1.3-3 0-3.5 1.2-3 2.4-2.4 3-1.2 3.5 0 3 1.3 2.3 2.3 1.2 3 .1 3-1.4 3.5-2.2 2.2zM1667.1 244.4l-2.5 0-2.5-1-2.2-2.1-1-2.5 0-2.5 1-2.5 2.2-2.2 2.5-1 2.5 0 2.5 1 2.1 2.2 1 2.5 0 2.5-1.1 2.5-2 2z"/>
<path fill="none" stroke="#b9babc" stroke-width="1.35" d="M1667.6 245.8l-3.5 0-3-1.2-2.3-2.3-1.3-3 0-3.5 1.2-3 2.4-2.4 3-1.2 3.5 0 3 1.3 2.3 2.3 1.2 3 .1 3-1.4 3.5-2.2 2.2zM1667.1 244.4l-2.5 0-2.5-1-2.2-2.1-1-2.5 0-2.5 1-2.5 2.2-2.2 2.5-1 2.5 0 2.5 1 2.1 2.2 1 2.5 0 2.5-1.1 2.5-2 2zM1668.1 243.3l-2.5 .4-2.5-.6-1.8-1.3-1.3-2-.4-2.5 .6-2.5 1.4-1.9 2-1.3 2.5-.3 2.5 .6 1.8 1.4 1.2 2 .4 2.5-.6 2.5-1.3 1.7zM1667.1 242.9l-4-.6-1.8-1.5-.9-2 .6-4 1.6-1.8 2-.9 4 .6 1.7 1.6 .9 2-.6 4-1.5 1.7zM1666.1 242.3l-3.5-1.2-1.6-3.3 1.2-3.5 3.4-1.6 3.5 1.3 1.5 3.3-1.3 3.5zM1667.1 241.4l-3-.1-2.2-2.5 .1-3 2.6-2.3 3 .3 2.2 2.5-.3 3zM1666.6 240.8l-2.5-.3-1.6-2.2 .3-2.5 2.3-1.6 2.5 .4 1.5 2.2-.4 2.5zM1666.6 240l-2-.2-1.3-1.5 .2-2 1.6-1.3 2 .2 1.2 1.6-.2 2zM1666.6 238.9l-1 .2-1.2-.8-.1-1.5 .8-.8 1-.1 1.2 .9 .1 1z"/>
<path fill="#b9babc" fill-rule="evenodd" d="M1386.4 311.2l-2.5 .3-2.5-.6-2.4-1.8-1.4-2.5-.3-2.5 .9-3 1.7-2 2.5-1.4 2.5-.2 3 1 1.9 1.6 1.3 2.5 .2 2.5-.7 2.5-1.7 2.2zM1385.4 310.1l-4-.6-1.9-1.9-.8-2 0-2.5 1-2 1.7-1.6 2-.7 2.5 .2 2 1 2.1 3.6-.9 4-1.7 1.7z"/>
<path fill="none" stroke="#b9babc" stroke-width="1.35" d="M1386.4 311.2l-2.5 .3-2.5-.6-2.4-1.8-1.4-2.5-.3-2.5 .9-3 1.7-2 2.5-1.4 2.5-.2 3 1 1.9 1.6 1.3 2.5 .2 2.5-.7 2.5-1.7 2.2zM1385.4 310.1l-4-.6-1.9-1.9-.8-2 0-2.5 1-2 1.7-1.6 2-.7 2.5 .2 2 1 2.1 3.6-.9 4-1.7 1.7zM1384.9 309.6l-3.7-1-1.3-1.5-.7-2 .1-2 1.1-2 3.5-1.7 3.8 1.2 1.7 3.5-1 3.5-1.5 1.3zM1385.9 308.8l-3.5-.2-2.4-2.5 .1-3.5 2.3-2.3 3.5-.1 2.5 2.4 .2 3.5-.9 1.5zM1385.9 308.2l-3 0-2.3-2.1 0-3 2.3-2.3 3 0 2.1 2.3 0 3zM1385.4 307.7l-2.5-.1-1.8-2 .1-2.5 2.2-1.9 2.5 .3 1.7 2.1-.3 2.5zM1384.9 307.3l-2-.4-1.4-1.8 .4-2.1 2-1.3 2 .5 1.2 1.9-.5 2zM1384.4 306.7l-1.5-.6-.8-1.5 .6-1.5 1.7-.8 1.5 .8 .6 1.5-.6 1.3zM1384.9 305.7l-1.8-.6-.1-1 .9-.9 1.7 .9z"/>
<path fill="#b9babc" fill-rule="evenodd" d="M1376.8 461.7l-2.5 .3-2.5-.6-2.4-1.8-1.4-2.5-.3-2.5 .9-3 1.7-2 2.5-1.4 2.5-.2 3 1 1.9 1.6 1.3 2.5 .2 2.5-.7 2.5-1.7 2.2zM1375.8 460.6l-4-.6-1.9-1.9-.8-2 0-2.5 1-2 1.7-1.6 2-.7 2.5 .2 2 1 2.1 3.6-.9 4-1.7 1.7z"/>
<path fill="none" stroke="#b9babc" stroke-width="1.35" d="M1376.8 461.7l-2.5 .3-2.5-.6-2.4-1.8-1.4-2.5-.3-2.5 .9-3 1.7-2 2.5-1.4 2.5-.2 3 1 1.9 1.6 1.3 2.5 .2 2.5-.7 2.5-1.7 2.2zM1375.8 460.6l-4-.6-1.9-1.9-.8-2 0-2.5 1-2 1.7-1.6 2-.7 2.5 .2 2 1 2.1 3.6-.9 4-1.7 1.7zM1375.3 460.1l-3.7-1-1.3-1.5-.7-2 .1-2 1.1-2 3.5-1.7 3.8 1.2 1.7 3.5-1 3.5-1.5 1.3zM1376.3 459.3l-3.5-.2-2.4-2.5 .1-3.5 2.3-2.3 3.5-.1 2.5 2.4 .2 3.5-.9 1.5zM1376.3 458.7l-3 0-2.3-2.1 0-3 2.3-2.3 3 0 2.1 2.3 0 3zM1375.8 458.2l-2.5-.1-1.8-2 .1-2.5 2.2-1.9 2.5 .3 1.7 2.1-.3 2.5zM1375.3 457.8l-2-.4-1.4-1.8 .4-2.1 2-1.3 2 .5 1.2 1.9-.5 2zM1374.8 457.2l-1.5-.6-.8-1.5 .6-1.5 1.7-.8 1.5 .8 .6 1.5-.6 1.3zM1375.3 456.2l-1.8-.6-.1-1 .9-.9 1.7 .9z"/>
<path fill="none" stroke="#b9babc" stroke-width="1.35" d="M1258.3 470.2l-4-.4-2.9-2.7 0-3.5 2.9-2.8 2.5-.5 2.5 .4 2 1.1 1.4 1.8 .3 2-.7 2-1.5 1.6zM1257.8 469.7l-3.5-.6-2.4-2.5 .2-3 2.7-2.3 2.5-.4 2 .4 1.9 1.3 .9 1.5 .1 2-.7 1.5-1.7 1.4zM1257.3 469.1l-3.4-1-1.5-2.5 .9-2.6 3-1.5 3.5 .8 1.3 1.3 .5 1.5-1.3 2.9zM1258.8 468.2l-3 .2-2-1.2-.7-2.1 1-2 2.7-1.1 3.1 1.1 1 2.5-.6 1.5zM1258.3 467.8l-2.5 .1-1.7-1.3-.4-1.5 1.1-1.8 2.5-.7 2.5 1.3 .4 2.2zM1258.3 467.2l-1.5 .3-1.5-.5-.9-1.4 .4-1.5 2-1 2 .6 .8 1.9zM1257.8 466.7l-1.5 .1-.9-.7-.3-1 .7-1 1.5-.4 1.4 .9 .2 1zM1257.8 465.7l-1 .4-.7-1 1.2-.6z"/>
<path fill="none" stroke="#b9babc" stroke-width="1.35" d="M1285.4 479.1l-8.5 .2-7-2-2.7-1.8-1.4-2-.5-2 .7-2.5 1.9-2.5 3-2.1 8.5-2.7 9.5 0 4 1 3.5 1.8 2 2 .8 2-.1 2-1.2 2.5-5 3.8zM1283.4 478.5l-7.5-.2-6-2.3-1.8-1.5-1.1-2 0-2 .8-2 2.1-2.2 3.5-2 8-2 8.5 .5 4 1.5 2.3 1.7 1.5 3.5-.5 2-1.4 2-5.4 3.4zM1284.9 477.5l-7 .2-6-1.7-3.1-3-.4-2 .6-2 1.8-2 2.6-1.7 7-2.1 7.5 .1 6 2.3 1.4 1.4 .9 2-1.1 3.5-4.2 3.2zM1282.4 477l-6-.4-4.5-1.9-2-2.7 .1-2 .9-1.5 4.5-3.2 7-1.5 6.5 .6 4.8 2.6 1 3-2.1 3.5-4.2 2.3zM1284.4 476l-5.5 .2-5-1.5-2.3-2.2 .1-3 3.2-3 5.5-1.8 6 0 5 1.8 1.9 2.5-.8 3-3.1 2.5zM1282.4 475.5l-4.5-.2-3.5-1.5-1.7-2.3 .7-2.5 3-2.3 5.5-1.4 5.5 .4 3.5 1.8 1 2.5-1.3 2.5-3.7 2.1zM1284.4 474.5l-4.5 .3-3.5-1-2.1-1.8-.1-2 2.2-2.3 4-1.5 4.5-.1 3.5 1 2 1.9-.1 2-2.4 2.3zM1282.4 474l-3-.1-2.5-1-1.3-1.4 .4-2 2.4-1.8 3.5-.9 4 .3 2.6 1.4 .6 1.5-1.1 2-2.6 1.4zM1283.4 473.1l-5-.6-1.1-1-.1-1.5 1.7-1.5 2.5-.8 3 0 2.1 .8 .9 1-.2 1.5-1.3 1.2zM1282.9 472.1l-3-.4-.8-.7 .1-1 3.2-1.4 2.9 .9-.1 1.5z"/>
<path fill="none" stroke="#b9babc" stroke-width="1.35" d="M1246.8 496.2l-3.5 .1-2.4-1.3-1.1-2.5 1.1-2.5 1.9-1.2 2-.3 2 .3 1.9 1.2 1 1.5 0 2-1 1.5zM1244.8 496l-3.1-1-1.3-2.5 1.3-2.5 3.1-1 3.1 1 1.3 2.5-1.3 2.5zM1245.3 495.5l-2.5-.4-1.6-1.6 0-2 2.1-1.8 3 0 2.1 1.8-.2 2.5zM1245.3 495.1l-2.5-.5-1.2-1.6 .2-1.5 1.5-1.3 3 0 1.7 1.8-.5 2zM1245.8 494.5l-2 0-1.4-1-.3-1.5 .7-1 2.5-.7 1.9 1.2 .3 1.5zM1245.8 494.1l-2.5-.3-.7-1.3 .4-1 1.8-.8 1.5 .5 .7 1.3zM1245.3 493.7l-2-.7 .5-1.5 1.5-.2 1 .7 0 1zM1244.8 493.1l-.8-.6 .8-.6 .8 .6z"/>
<path fill="#b9babc" fill-rule="evenodd" d="M1376.4 461.9l-2.5 .3-2.5-.6-2.4-1.8-1.4-2.5-.3-2.5 .9-3 1.7-2 2.5-1.4 2.5-.2 3 1 1.9 1.6 1.3 2.5 .2 2.5-.7 2.5-1.7 2.2zM1375.4 460.8l-4-.6-1.9-1.9-.8-2 0-2.5 1-2 1.7-1.6 2-.7 2.5 .2 2 1 2.1 3.6-.9 4-1.7 1.7z"/>
<path fill="none" stroke="#b9babc" stroke-width="1.35" d="M1376.4 461.9l-2.5 .3-2.5-.6-2.4-1.8-1.4-2.5-.3-2.5 .9-3 1.7-2 2.5-1.4 2.5-.2 3 1 1.9 1.6 1.3 2.5 .2 2.5-.7 2.5-1.7 2.2zM1375.4 460.8l-4-.6-1.9-1.9-.8-2 0-2.5 1-2 1.7-1.6 2-.7 2.5 .2 2 1 2.1 3.6-.9 4-1.7 1.7zM1374.9 460.3l-3.7-1-1.3-1.5-.7-2 .1-2 1.1-2 3.5-1.7 3.8 1.2 1.7 3.5-1 3.5-1.5 1.3zM1375.9 459.5l-3.5-.2-2.4-2.5 .1-3.5 2.3-2.3 3.5-.1 2.5 2.4 .2 3.5-.9 1.5zM1375.9 458.9l-3 0-2.3-2.1 0-3 2.3-2.3 3 0 2.1 2.3 0 3zM1375.4 458.4l-2.5-.1-1.8-2 .1-2.5 2.2-1.9 2.5 .3 1.7 2.1-.3 2.5zM1374.9 458l-2-.4-1.4-1.8 .4-2.1 2-1.3 2 .5 1.2 1.9-.5 2zM1374.4 457.4l-1.5-.6-.8-1.5 .6-1.5 1.7-.8 1.5 .8 .6 1.5-.6 1.3zM1374.9 456.4l-1.8-.6-.1-1 .9-.9 1.7 .9z"/>
<path fill="none" stroke="#b9babc" stroke-width="1.35" d="M1325.9 518.3l-6 0-3.5-1.9-6.4-6.1-.8-2.5 .5-2.5 2.2-3 4.5-3.7 8-3.1 2-1.4 1.9-2.8 2.8-6.5 5.8-7.3 5.5-2.7 4 .3 3.4 3.2 1.6 4.5-.6 7-2.1 6-6.7 13.5-2.2 3-5.9 4.2zM1317.4 564.3l-14.5-.4-14.5-3.1-3.9-2.5-2.4-3-1.7-4-.1-3.5 2-3.5 6.6-5.8 7-1.9 10.5-.4 11-10.6 7-2.5 3 0 3.5 1.3 4 2.7 2.2 2.2 2 3.5 2.4 8 .7 11-.3 3-2.6 4.5-5.4 3.2-5 1.4zM1327.4 516.3l-7-.1-5-2.3-4-4.1-.5-2.5 .5-2 2.4-3 4.1-3.3 7.4-2.2 2.1-1.4 4.8-10.6 4.7-6 4.5-2.3 2.5-.3 2 .4 2.9 2.7 1.4 4-.4 6-1.8 5.5-9.2 16.5-4.9 3.6zM1314.9 563.3l-13.5-.7-13-3.3-2.6-2-2.1-3.5-1.4-4 .4-3 3.8-5 3.9-2.7 7-1.5 10 .4 1.7-1.2 4.8-5.8 5-3.9 6.5-1.8 4.5 .7 6.1 4.3 3.5 7.5 .9 6.5-.4 8.5-.8 3.5-2.8 3.3-6 2.5zM1329.4 514.8l-7 .3-5.5-1.7-4-3.6-.6-2 .4-2 2.2-3 3.5-2.8 8-2.1 2-1.2 4.3-10.9 4.7-6.1 4-1.8 4 .2 2.4 2.2 1.3 3.5-.1 4.5-1.3 5-9.9 17-3.9 3.2zM1314.9 562.3l-13.5-.7-12-3.4-2.4-1.9-1.4-2.5-1.3-4 .3-3 2.8-4.2 3.5-2.5 7-1.3 8.5 1.1 2-.3 1.8-1.3 4.6-6 4.6-3.5 6-1.8 4.5 .7 3 1.8 2.4 2.3 3.2 8 .5 5-1.8 11-2.3 2.6-5.5 2.4zM1328.9 513.8l-6.5 .2-5-1.6-3.3-3.1-.1-3.5 2.3-3 3.1-2.2 10-2.3 1-1.5 2.8-10 2.4-4 2.3-2.3 2-1 2.5-.3 2.5 .5 2 1.7 1.2 3.4-.1 4-1.3 4.5-3 5-4.6 5.5-3.2 6.5-3 2.4zM1315.9 561.3l-5.5 .2-8.5-.8-11.5-3.7-2.1-1.7-1.8-3.5-.6-3 .5-2.5 3.5-4.3 4.5-1.8 5-.3 8 1.7 2.5-.2 1.5-1.3 3.6-5.8 4.4-3.7 5.5-2 4.5 .5 2.9 1.7 1.9 2 3.1 8 .2 4.5-2.3 9.5-2.2 2.5-4.6 2.3zM1328.9 512.9l-6 .2-5-1.5-2.7-2.8 .1-3 2.1-2.7 3-1.9 11-1.4 .7-1 .1-4.5 .8-4.5 2.4-5.5 4-3.4 2.5-.4 2.5 .6 1.8 1.7 1 3-.1 3.5-1.3 4-3.9 5.7-5 3.8-1.1 5-1.1 2-2.3 1.9zM1316.9 560.3l-5.5 .4-8-.8-5.5-1.3-5.8-2.3-2.6-2-1.6-3-.5-3 .7-2.5 3.3-3.5 5-1.4 5.5 .5 8 3 2 .2 1-.9 2.6-7.4 3.4-3.7 5.5-2.5 3 0 2.5 .9 3.4 3.3 2.7 8-.4 4.5-2.3 6.5-1.9 2.8-3.5 2.1-4.5 1.3zM1338.4 499.9l-2.5-.1-1.9-2-.7-3 .4-4 1.5-4.5 1.7-2.5 2.5-1.8 3-.2 2 .9 1.2 1.6 .7 2.5-.3 3.5-3.1 6-2 2.1zM1325.9 512.3l-4.5-.4-4-2-1.2-2.6 .9-2.5 2.8-2.3 3.5-1 5.5-.1 4 1.4 1.6 3-1.1 3.5-3 2.2zM1314.4 559.8l-4.5 0-8-1.2-8.6-3.3-2.4-1.9-1.6-2.6-.5-2.5 .7-2.5 3.4-3.1 5.5-.8 6 1.7 6.5 4.2 3.5 .1 1.3-1.6 .5-7.5 2.3-4 4.9-3.1 3-.2 2.5 .8 3.2 3 2.3 7-.5 4.5-2.8 6-2.2 2.9-3.5 2.1zM1338.4 498.3l-2-.3-1.5-1.7-.6-2.5 .3-3.5 1.2-3.5 1.6-2.3 2-1.4 2.5-.2 1.9 .9 1.1 1.5 .6 2.5-.3 2.5-2.8 5.2-2 1.9zM1326.9 511.3l-4.5 0-3.4-1.5-1.5-2 .6-2.5 2.3-2 3.5-1 4.5 .1 3 1.3 1.4 2.1-.3 2.5-2.1 2zM1315.9 558.8l-4 .4-4.5-.5-10.5-3.2-3.5-2-2.1-2.2-1.1-2.5 .4-2.5 1.3-1.7 2-1.2 5-.4 5 1.7 5.5 4.6 7.5 .3 1.1-1.3-.4-8 1.5-4 1.8-1.8 2.5-1.3 2.5-.2 2 .6 2.6 2.2 2 4.5 .4 4-1.1 3.5-6.6 8.5-3.3 1.5zM1338.9 496.8l-2-.2-1.1-1.3-.5-2 .2-3 2.4-5 1.5-1 2-.3 2.5 1.8 .5 4-2 4.3zM1327.4 510.4l-3.5 .2-3-.8-2-2 .2-2 1.8-1.7 2.5-.9 3-.1 3 .8 1.6 1.4 .4 2-1.4 2zM1313.9 558.3l-7.5-.9-11-4.4-3.3-3.2-.5-2 .5-1.5 2.8-2.1 4-.1 4.3 1.7 4.2 4.7 12.5 .8 1.1-1-2-6.5 .1-3.5 .9-2.5 1.4-1.8 2-1.2 2.5-.2 2 .8 2.2 2.4 1.3 3.5 0 3-1.1 3-1.9 2.2-3.6 2.3-.9 3-1 1.1-2.5 1.1zM1338.9 495.4l-1.5-.4-.9-1.2 .1-4 1.8-3.5 1.5-1 1.5 0 2 2 0 3-2 3.5zM1327.4 509.3l-2.5 .4-2.6-.4-1.8-1.5-.1-1.5 1-1.2 2-.9 4.5 .3 1.3 .8 .7 1.5-.7 1.5zM1325.4 548.8l-2-.3-1.5-1.1-1.2-2.1-.4-2.5 1.2-4.5 1.4-1.5 2-.6 2 .4 1.5 1.3 1.7 4.4-1.2 4.3-1.5 1.5zM1300.9 551.9l-3.5 .1-2.6-1.2-1.6-2.5 .7-2 1.5-1 2-.3 4.5 1.7 1.1 1.6 .2 1.5-.8 1.4zM1314.9 557.3l-3 .2-3.6-.7-2.9-1.5-.7-1.5 1.7-1.1 6-.6 4.7 .7 3.2 1.5-1 1.5zM1339.9 493.4l-1 .3-1-.6-.4-2.3 1.1-3 2.3-1.1 1.3 1.1 .2 2-1 2.3zM1326.4 508.4l-3.2-.1-1.1-1 .2-1 2.1-1.1 2.5 .3 1.1 1.3zM1325.4 546.9l-2.5-1-1.1-3.1 1-3.5 2.1-1.2 2.5 1.2 1.2 3-.8 3zM1298.9 549.9l-3-.5-.6-1.1 .2-1 1.9-.8 2.2 .8 .6 1.5zM1313.9 556.4l-4-.5-.9-.6-.1-1 3.5-1 3.6 1 .1 1zM1325.4 543.8l-1.2-1 .7-1.5 1.2 1z"/>
<path fill="none" stroke="#b9babc" stroke-width="1.35" d="M1402.8 520.1l-8-.2-6.5-2.7-2.3-2.1-1.6-2.5-.8-2.5 .1-3 2.5-5.5 5.6-4.7 7.5-2.5 8-.1 5.5 1.9 3.8 2.9 2.3 4 .2 4.5-2 4.5-3.8 3.9-5 2.7zM1400.8 519.1l-7-.8-5.7-3.2-1.9-2.5-.9-2.5-.1-2.5 .9-3 1.7-2.8 2.5-2.4 6.5-3.2 7.5-.9 7 1.7 3.5 2.4 2.2 3.2 .6 3.5-1 4-2.5 3.5-3.8 2.8-4.5 1.9zM1403.3 517.7l-6 .2-5-1.5-3.6-2.8-1.8-3.5 .2-4 2.2-4 4-3.2 5.5-2.1 6-.3 5.5 1.4 3.6 2.7 2 4-.3 4-2.4 4-4.4 3.3zM1402.8 516.7l-5.5 0-5-1.8-2.9-2.8-1.1-4 1.2-4 3.4-3.5 4.9-2.4 5.5-.7 4.5 .8 3.5 1.8 2.3 2.5 .9 3.5-.8 3.5-2.4 3.1-4 2.6zM1402.3 515.6l-5.5-.2-4-1.7-2.5-3.1-.5-3.5 1.6-3.5 3.9-3.2 5-1.6 5 0 3.5 1.2 2.5 1.9 1.4 2.2 .3 3-1.2 3-2.2 2.5-3.3 1.9zM1401.8 514.6l-4.5-.2-3.7-1.8-2.1-3 .1-3.5 2-3 3.7-2.4 4.5-1 4.5 .6 2.7 1.3 1.8 2 .7 2-.2 2.5-1.4 2.5-2.1 1.9zM1400.8 513.6l-4-.6-2.9-1.9-1.1-2.5 .5-3 2.1-2.5 3.4-1.8 4-.5 4 1 2.9 2.8 .4 2-.5 2-3.3 3.5zM1403.3 512.1l-4.5 .2-3.5-1.8-.8-1.4-.2-2 1.8-3 2.7-1.6 3.5-.6 3 .6 2.3 1.6 .9 2-.4 2.5-1.8 2zM1402.3 511.1l-3.5-.1-2.5-1.9 0-3 2.5-2.2 4.5-.6 2.1 .8 1.3 1.5 .1 2-.9 1.5zM1401.8 509.7l-2.5-.3-1.4-1.8 1.1-2 2.8-1 2.5 1 .6 1.5-1.1 1.7z"/>
<path fill="none" stroke="#b9babc" stroke-width="1.35" d="M1388.8 544.3l-5.5 .2-6-.8-5-1.6-3.5-2-3-2.8-1.6-3 0-3.5 1.5-3 2.6-2.6 4-2.3 4.5-1.5 5.5-.8 10.5 .8 5 1.6 3.5 1.9 3 2.9 1.5 3 .1 3-1.3 3-2.3 2.5-3.5 2.3-5 1.8zM1387.3 543.3l-9.5-.7-4.5-1.5-3.5-2-2.3-2.3-1.4-3 .1-3 1.2-2.5 2.6-2.5 3.8-2.1 9-2 10 .8 4 1.4 3.5 2.1 2.3 2.3 1.4 3-.2 3-1.3 2.5-2.2 2.2-3.5 2.1-4.5 1.5zM1386.3 542.3l-8.5-.9-4-1.4-3-1.9-2-2.3-1-2.5 .2-2.5 1.4-2.5 2.4-2.1 3.5-1.8 8.5-1.7 8.5 .9 4 1.5 3 1.9 2 2.3 .9 2.5-.3 2.5-1.4 2.5-2.3 2-3.4 1.8zM1385.8 541.3l-7.5-.9-6-2.9-1.9-2.2-.8-2 .3-2.5 1.1-2 2.2-2 3.1-1.6 8-1.5 7.5 .9 6.3 3.2 1.6 2 .7 2.5-.3 2-1.3 2.1-2.5 2.1-3 1.4zM1385.8 540.3l-6.5-.7-5.5-2.6-2.4-3.7 .1-2 1-2 4.8-3.3 7-1.3 7 .9 5.2 2.7 2.1 3.5-.1 2-1.2 2.1-5 3.2zM1385.8 539.3l-6-.6-4.7-2.4-2-3.5 1.3-3.5 4.4-2.6 5.5-1 6 .7 4.8 2.4 1.9 3.5-1.5 3.5-4.2 2.5zM1385.8 538.3l-5.5-.6-3.7-1.9-1.8-3 1.1-3 3.4-2.2 5-.9 5 .5 4.2 2.1 1.7 3-1.2 3-3.7 2.2zM1385.3 537.3l-4.5-.6-3-1.7-1.2-2.2 .9-2.5 2.8-1.8 4-.8 4.5 .5 3.2 1.6 1.4 2.5-1 2.5-3.1 1.8zM1387.8 535.8l-3.5 .4-3.5-.9-2.1-2 .2-2 1.7-1.5 2.7-.9 3 0 3 .8 1.8 1.6 .4 1.5-1.2 1.8zM1385.3 534.8l-3.7-1-.6-1 .5-1.5 3.3-1.1 3.7 1.1 .5 1.5-.6 1z"/>
<path fill="none" stroke="#b9babc" stroke-width="1.35" d="M1589.9 564.4l-10-.4-9.5-2.4-5.3-3.7-1-2 .2-2.5 2.6-3 5-2.6 6.5-1.6 8-.7 8 .5 7 1.6 5 2.3 3 3 .6 2-.5 2-3.6 3.5-7 2.7zM1591.4 563.4l-10.5-.1-8.5-2.1-3.4-1.8-2.1-2-.8-2 .4-2 2.4-2.7 4.5-2.3 5.5-1.4 7.5-.6 6.5 .3 6.5 1.4 5 2.1 2.9 2.7 .5 1.5-.2 2-2.7 3-6 2.7zM1592.4 562.5l-9 .2-8.5-1.7-5.4-3.1-1.2-2 0-2 2-2.5 4.1-2.2 5.5-1.4 5.5-.6 6.5 .3 5.5 1 4.5 1.7 2.9 2.2 1 3-1.8 3-5.1 2.6zM1589.4 561.9l-8-.3-6.5-1.7-4.2-3-.4-3 2.1-2.4 3.5-1.8 4.5-1.1 6-.6 5.5 .3 5.5 1.2 4 1.9 2 2 .2 3-2.6 2.5-5.1 2zM1591.4 560.9l-7.5 .2-7-1.5-4.2-2.7-.7-1.5 .3-1.5 1.7-2 2.9-1.5 9-1.6 9 .9 4 1.5 2.2 1.7 .9 2.5-1.8 2.5-3.8 1.9zM1587.4 560.4l-5.5-.4-5-1.6-2.5-2-.2-2.5 1.7-1.8 3-1.4 8-1.1 8 1.1 3 1.3 1.9 1.9-.2 2.5-2.4 2-4.3 1.4zM1590.4 559.4l-5.5 .1-5-.9-3.1-1.7-.9-2.5 1.1-1.5 2.4-1.3 6.5-1.2 7 .7 4.6 2.3 .7 2-1 1.5-2.8 1.6zM1590.9 558.5l-5 .3-4.5-.8-3-1.6-.5-2 2.5-2.1 5.5-1.1 5.5 .4 4 1.8 .8 1.5-.6 1.5zM1587.9 557.9l-6.3-1-1.3-1-.2-1.5 2.3-1.6 4.5-.7 4.5 .6 2.5 1.7 .1 1-1.1 1.2zM1589.9 556.4l-5 .2-1.8-.7-.6-1 2.3-1.5 4.1-.1 2.6 1.6z"/>
<path fill="none" stroke="#b9babc" stroke-width="1.35" d="M1711.5 566l-8 .1-13-3.7-21 3.4-9 .2-8.5-.7-7.5-1.6-6.7-2.7-3.7-3-1.1-3.5 1.5-3 4.3-3 6.2-2.3 7.5-1.5 9-.7 8.5 .2 20.5 3.4 12-3.5 8-.3 5 1.3 4 2.4 2.9 3.5 .9 3.5-.7 4-2.6 3.5-4 2.6zM1711 565l-4 .3-4.5-.6-11.5-4.5-12.5 3.2-7.5 1.2-9 .4-9-.7-7.5-1.6-5.5-2.3-3.4-2.9-.8-3 1.7-3 3.5-2.4 5-1.9 7.5-1.6 8.5-.6 9 .4 7.5 1.2 12.5 3.2 11.5-4.5 8-.4 4.5 1.3 3.7 2.3 2.4 3 .8 3.5-.8 3.5-2.4 3-3.7 2.3zM1710.5 564l-4.5 .2-4.5-1-3.5-1.7-5.5-4.5-1.5-.5-8 4.1-7.5 2.3-10 1.1-10.5-.5-7-1.3-5.5-2.2-3.1-2.5-1-3 1.4-2.5 3.7-2.5 5-1.8 7-1.3 10.5-.4 9.5 1.1 7.5 2.3 8 4.1 9.5-6.3 5-1.3 4.5 0 4 1 3.5 2.1 2.3 3 .7 3-.7 3-2.3 3-3 1.9zM1666 563l-10-.3-8.5-1.9-5.5-3.3-.9-1.5 0-2 2.4-2.8 5-2.3 7-1.5 7.5-.5 7.5 .5 7 1.4 5.5 2.4 2.7 2.8 .2 1.5-.8 1.5-4.1 2.9-7 2.2zM1710.5 563l-7-.3-5.5-3-1.8-2.2-.7-2 .2-2 1.6-2.5 4.2-3 5.5-1.3 5.5 .8 4.4 2.5 2.2 4-.7 4-2.9 3.1zM1667 562l-9.5-.1-8-1.7-4.8-2.7-1.1-1.5 0-2 2.3-2.5 4.1-1.9 6-1.3 6.5-.5 6.5 .4 6 1.1 5 2 2.5 2.2 .4 1.5-.4 1.5-3 2.5-5 1.8zM1710.5 562.1l-6.5-.3-4.8-2.8-1.4-2-.4-2 .4-2 1.4-2 3.8-2.4 4.5-.9 4.5 .6 3.8 2.2 2 3.5-.5 3.5-2.8 3zM1668 561l-8.5 .1-7.5-1.3-4.7-2.3-1.2-1.5-.1-1.5 1.3-2 3.7-2 5-1.2 5.5-.6 11.5 1.2 4.3 1.6 2.5 2 .2 2.5-1.9 2-4.1 1.8zM1710.5 561.1l-5 0-4.5-2.1-2-3.5 .2-2 1.3-2 3-2 4-.9 4 .6 3.2 1.8 1.8 3-.3 3-2.2 2.6zM1668 560l-7.5 .3-6.5-1.1-4.5-2.2-1-2.5 1-1.5 3-1.7 9-1.6 10 .9 3.5 1.3 2.1 1.6 .5 2-1.6 2-3.5 1.6zM1710.5 560.1l-4.5 .2-4-2-1.6-3.3 1.2-3 2.4-1.6 3.5-.8 3.5 .4 2.6 1.5 1.7 2.5-.2 2.5-1.6 2.1zM1668 559l-6 .4-6-.8-4-1.8-1-2.3 1.3-1.5 2.7-1.3 7.5-1.1 7.9 .9 2.6 1 1.8 1.5 .2 1.5-1.2 1.5zM1710.5 559.1l-4 .3-3.1-1.4-1.6-2.5 1-3 2.2-1.4 2.5-.6 2.5 .3 2.5 1.2 1.4 2 0 2-1.4 2zM1667 558.1l-5 .3-4.5-.7-2.8-1.2-.9-2 2.9-2 5.8-.9 6 .7 3.4 1.7 .3 1.5-.9 1zM1710 558.1l-3 .3-2.3-.9-1.4-2 .4-2 3.3-1.9 2.5 .1 1.7 .8 1.3 1.5 .1 1.5-.8 1.5zM1665 557l-5.5-.3-1.7-.7-.6-1 1.6-1.5 3.7-.6 4 .4 2.2 1.2-.5 1.5zM1709 557.1l-3.2-.6-.8-1.5 .5-1.2 2-1 2.7 .7 .7 2z"/>
<path fill="none" stroke="#b9babc" stroke-width="1.35" d="M1655.4 604l-3.5-.5-3.5-2.1-1.5-3 1-2.7 2.5-1.2 3 .1 3 1.2 1.9 1.6 1.1 2-.1 2-1.4 1.7zM1656.4 603l-3.5 .2-3-1.4-2.1-2.9 .7-2.5 1.9-1.1 2-.2 4.5 1.8 1.2 1.5 .5 2-.6 1.5zM1655.9 602.4l-2.5 .2-3-1.2-1.8-2.5 .5-2 1.3-.9 2-.3 4 1.6 1.2 1.6 .2 1.5zM1654.9 602l-2.5-.2-2-1.2-1-1.7 .5-1.7 3-.9 3.2 1.6 .8 2.5zM1654.4 601.5l-2-.3-1.8-1.3-.4-1.5 .7-1 2.5-.4 2.3 1.4 .4 2zM1654.9 600.5l-2.5 0-1.2-1.1-.1-1 1.3-.8 1.7 .3 1.2 1.5zM1653.9 599.9l-1 0-.7-1 .7-.5 1 .4z"/>
<path fill="none" stroke="#b9babc" stroke-width="1.35" d="M1665.7 639.1l-4 .5-4.5-.4-4-1.1-3.4-2-2.4-2.5-1.1-3 .2-3 1.3-2.5 4.9-3.7 6.5-1.7 7.5 .6 5.9 2.8 2 2 1.3 2.5 .3 2.5-.7 2.5-3.8 4.1zM1662.7 638.6l-7.5-.8-3-1.4-2.8-2.3-1.5-2.5-.3-2.5 1-3 2.1-2.3 5-2.5 6.5-.8 6 1.3 4.8 3.3 1.8 4-.3 2.5-1.1 2-4.2 3.4zM1663.7 637.6l-7-.4-3.5-1.4-2.3-1.7-1.4-2-.6-2.5 .6-2.5 1.4-2 4.3-2.7 6-1 6 1 4.3 2.7 1.9 3.5-.8 4-3.4 3.2zM1664.2 636.7l-6.5-.1-5.2-2.5-1.7-2-.6-2 .2-2 1.1-2 3.7-2.7 5-1.1 5.5 .6 4.2 2.2 2.2 3.5-.5 3.5-2.9 2.9zM1661.7 636.1l-5.5-.9-4-3.1-.7-3.5 1-2 1.7-1.5 4-1.7 5-.2 4 1.3 3 2.6 .7 3-1.5 3-3.2 2.1zM1663.2 635.1l-5-.2-4-2-1.5-3.3 1.2-3 3.3-2 4-.7 4 .7 3 1.7 1.5 2.8-.5 2.5-2.5 2.4zM1663.7 634.2l-4.5 .1-3.5-1.5-1.8-2.7 .6-2.5 2.2-1.8 3.5-1 3.5 .2 3 1.4 1.6 2.2 0 2-1.6 2.2zM1661.2 633.6l-3.5-.7-2.3-2.3 .2-2.5 2.1-1.8 2.5-.7 3 .2 2.5 1.1 1.3 1.7 0 2-1.1 1.5-2.2 1.2zM1662.2 632.6l-2.5-.1-2-.9-1.1-1.5 .6-2 3.5-1.6 4 1.1 1.1 1.5-.2 1.5-1.4 1.3zM1662.7 631.3l-3.3-.2-1-1 0-1 1.8-1.3 2.8 .3 1.1 1.5z"/>
<path fill="none" stroke="#b9babc" stroke-width="1.35" d="M1409.7 790.2l-14 0-12-2.4-4.5-1.8-3.3-2.3-1.7-2.5 0-2.5 3-3.5 6-2.9 8.5-2 10-.8 9.5 .4 9 1.6 7 2.7 4.1 3.5 .7 2-.4 2-1.5 2-2.4 1.8-7.5 3zM1409.7 789.2l-12.5 .1-12-2.3-4-1.6-3-2.2-1.3-2 0-2.5 2.6-3 5.7-2.7 8.5-1.9 8.5-.6 9 .4 8 1.6 6 2.4 3.7 3.3 .4 1.5-.4 2-3.7 3.4-7 2.7zM1410.2 788.2l-12 .2-10.5-1.8-6.8-3.4-1.4-2-.2-2 2.4-3 4.5-2.3 7.5-1.8 8-.7 8.5 .4 7 1.3 6 2.4 3.1 2.7 .2 3-2.8 3-5.5 2.4zM1404.2 787.7l-9.5-.6-7.5-1.9-4.6-3-.8-1.5 .2-2 2.7-2.6 5-2.1 6-1.2 7.5-.5 7.5 .5 6 1.3 4.8 2.1 2.5 2.5 .3 1.5-.5 1.5-4.1 3.1-7 2.1zM1406.7 786.7l-9-.1-7.5-1.6-5.1-2.8-.9-1.5 0-1.5 2-2.3 4-1.9 6-1.4 6-.4 6.5 .3 6 1.1 4.5 1.9 2.3 2.2 .1 2.5-2.9 2.6-5 1.8zM1407.7 785.7l-8 .2-7.5-1.4-4.5-2.3-1.1-1.5 0-1.5 1.8-2 3.8-1.7 10-1.5 11 1.3 3.6 1.4 2.3 2 .3 2-2.2 2.3-4.5 1.8zM1408.2 784.8l-7 .3-6.5-1-4.4-1.9-1.4-2.5 .9-1.5 2.9-1.7 9-1.6 9.5 .9 3.5 1.3 1.9 1.6 .4 2-1.3 1.5-3 1.5zM1403.7 784.2l-5-.3-4.5-1.1-2.4-1.6-.2-2 1.6-1.5 2.5-1 7.5-.9 7.5 1 3.7 2.4-.2 2-2 1.4-4 1.2zM1404.2 783.2l-7.5-.9-2-1.1-.6-1.5 2.6-2 5.5-.9 6 .6 3.5 1.8 0 1.5-1.1 1zM1405.7 781.8l-5.8-.1-2.2-1-.3-1 1.3-1 3.5-.7 3.5 .2 2.5 1 .1 1.5z"/>
<path fill="#b9babc" fill-rule="evenodd" d="M675 1279.1l-3.5 .3-3-1.1-2.8-2.8-1.4-3.5-.2-4 1.3-4 2.6-3 3-1.4 3 0 3 1.4 2.3 2.5 1.4 3.5 .2 4-1 3.5-1.9 2.6zM674 1277.5l-3 0-2.5-1.3-1.8-2.2-1.1-3 0-3 1.1-3 2.2-2.5 2.6-1.1 2.5 .1 2.5 1.3 1.8 2.2 1.1 3 0 3-1.1 3-1.8 2.2z"/>
<path fill="none" stroke="#b9babc" stroke-width="1.35" d="M675 1279.1l-3.5 .3-3-1.1-2.8-2.8-1.4-3.5-.2-4 1.3-4 2.6-3 3-1.4 3 0 3 1.4 2.3 2.5 1.4 3.5 .2 4-1 3.5-1.9 2.6zM674 1277.5l-3 0-2.5-1.3-1.8-2.2-1.1-3 0-3 1.1-3 2.2-2.5 2.6-1.1 2.5 .1 2.5 1.3 1.8 2.2 1.1 3 0 3-1.1 3-1.8 2.2zM674 1276.6l-2.5 .2-2.5-1.2-1.7-2.1-.9-2.5 0-3 .9-2.5 1.7-2.1 2.5-1.2 2.5 .2 2 1 1.7 2.1 .9 2.5 0 3-.9 2.5-1.7 2.1zM672.5 1276l-2-.4-2-1.6-1.1-2-.4-2.5 .4-2.5 1.1-2 2-1.6 2-.4 2 .4 2 1.6 1.1 2 .4 2.5-.4 2.5-1.1 2-2 1.6zM673.5 1275.1l-3.5-.7-1.5-1.7-.8-2.2 .1-2.5 .9-2 1.3-1.4 2-.8 2 .3 1.5 .9 1.8 3.5-.7 4-1.1 1.5zM674 1274l-2 .3-1.5-.5-1.9-2.8 .3-4 2.6-2.2 3 .4 1.9 2.8-.1 3.5zM672.5 1273.5l-2.5-1.3-.9-2.7 .9-2.7 2.5-1.3 2.5 1.3 .9 2.7-.9 2.7zM673 1272.5l-2-.5-1.1-2 .6-2.5 1.5-1 2 .5 1.1 2-.6 2.5zM673.5 1271l-1.5 .3-.9-.8-.2-1.5 1.1-1.3 1 0 .9 .8 .2 1.5z"/>
<path fill="#b9babc" fill-rule="evenodd" d="M775.6 1365.1l-4.5 .2-3.5-1.6-1.6-2.6 .8-3 2.3-1.8 3-.8 3.5 .3 2.5 1.3 1.6 2 .1 2.5-1.7 2.3zM775.1 1364.2l-3.5 .2-2.9-1.3-1.3-2 .6-2.5 1.6-1.3 2.5-.8 3 .3 2 .9 1.4 1.9-.1 2-1.3 1.7z"/>
<path fill="none" stroke="#b9babc" stroke-width="1.35" d="M775.6 1365.1l-4.5 .2-3.5-1.6-1.6-2.6 .8-3 2.3-1.8 3-.8 3.5 .3 2.5 1.3 1.6 2 .1 2.5-1.7 2.3zM775.1 1364.2l-3.5 .2-2.9-1.3-1.3-2 .6-2.5 1.6-1.3 2.5-.8 3 .3 2 .9 1.4 1.9-.1 2-1.3 1.7zM775.1 1363.7l-3.5 .2-2.5-1.2-1.1-2.1 .8-2 1.8-1.2 2-.5 4.1 1.2 1.1 1.5 .1 1.5-.9 1.5zM773.1 1363.6l-3-.8-1.4-1.7 .9-2.5 2.5-1.2 3.5 .6 1.7 2.1-1.1 2.5zM773.6 1363.1l-2.5-.3-1.5-1.2-.3-1.5 1.3-1.6 3.5-.5 2.4 1.6-.4 2.4zM773.6 1362.7l-2-.2-1.3-.9-.3-1.5 .6-1 2.5-.8 2.5 1 .4 1.8zM773.6 1362.2l-2.4-.6-.6-1 .4-1 2.1-.8 1.9 .8 .2 1.5zM773.1 1361.6l-1.5-.6 .5-1.4 1.5-.1 .9 .6-.2 1z"/>
<path fill="none" stroke="#b9babc" stroke-width="1.35" d="M381.9 1460.9l-5 .1-4.5-1.9-2.1-3.2 .9-3.5 3.2-2.3 4-.9 4.5 .5 3.3 1.7 1.8 2.5-.2 3-2.2 2.5zM380.4 1460.4l-4.5-.4-3.5-2.1-1.1-3 1.6-2.9 2.5-1.4 4-.7 3.5 .6 3 1.9 1.2 2.5-.7 2.5-2.5 2.1zM381.9 1459.4l-4 .3-3.5-1.2-1.9-2.1 .4-3 2-1.8 3-.9 3 0 3.1 1.2 1.8 2 .2 2-1.2 2zM380.9 1459l-3 0-3-1.1-1.5-2 .6-2.5 1.9-1.5 3-.6 3 .4 2 1.1 1.1 1.6-.2 2-1.4 1.6zM379.9 1458.5l-3-.4-1.9-1.2-.7-2 .8-1.5 1.8-1.1 2.5-.4 3.9 1.5 .8 1.5-.3 1.5-1.4 1.3zM380.9 1457.6l-2.5 .2-2-.8-1-1.1 .1-1.5 .9-1 2-.8 3.5 .7 1.2 2.1-.7 1.3zM380.4 1456.9l-2 .1-1.4-.6-.6-1 .2-1 2.3-1.1 2.4 .6 .7 1.5zM379.9 1456l-1.7-.1-.4-1 2.2-.5 .6 1z"/>
<path fill="#b9babc" fill-rule="evenodd" d="M382.2 1498.8l-4-.1-3.5-1.7-2.8-3.2-1.4-4 .2-4.5 1.8-4 2.7-2.7 4-1.5 4 .3 3.3 1.9 2.5 3 1.3 4-.2 4.5-1.5 3.5-2.9 3zM381.7 1496.9l-3-.1-3-1.4-2.2-2.6-1.2-3.5 .1-3.5 1.6-3.5 2.7-2.4 3-.9 3.5 .5 2.5 1.6 2 2.7 .8 3-.2 3.5-1.3 3-2.3 2.4z"/>
<path fill="none" stroke="#b9babc" stroke-width="1.35" d="M382.2 1498.8l-4-.1-3.5-1.7-2.8-3.2-1.4-4 .2-4.5 1.8-4 2.7-2.7 4-1.5 4 .3 3.3 1.9 2.5 3 1.3 4-.2 4.5-1.5 3.5-2.9 3zM381.7 1496.9l-3-.1-3-1.4-2.2-2.6-1.2-3.5 .1-3.5 1.6-3.5 2.7-2.4 3-.9 3.5 .5 2.5 1.6 2 2.7 .8 3-.2 3.5-1.3 3-2.3 2.4zM382.2 1495.8l-3 .2-2.5-1-2.2-2.2-1.3-3 0-3.5 1.2-3 2.3-2.3 2.5-1 3 .2 2.5 1.2 1.7 1.9 1.2 3 .1 3-1.1 3-1.9 2.3zM382.2 1494.9l-2.5 .2-2.5-.9-2-1.9-1.1-2.5-.1-3 .8-2.5 1.9-2.2 2.5-1.2 2.5 .1 2.5 1.2 1.8 2.1 .7 2 .1 3-.9 2.5-1.7 2zM382.2 1493.9l-2.5 .3-2-.7-1.8-1.7-1-2-.2-2.5 .8-2.5 1.7-2 2-.9 2-.1 2 .7 1.8 1.8 .9 2-.4 4.5-1.3 1.9zM380.7 1493.3l-3.5-1.3-1.7-3.7 .3-2 1.1-2 3.3-1.7 2 .4 1.5 1.1 1.6 3.7-.3 2-1.2 2zM381.2 1492.3l-3-.6-1.8-2.9 .8-3.5 2.5-1.7 3 .8 1.7 2.9-.7 3.2zM380.7 1491.4l-2-.6-1.4-2.5 .8-2.5 2.1-1.2 2.1 .7 1.2 2.5-.8 2.5zM381.2 1489.9l-1.5 .1-1.1-1.2 0-1.5 1.1-1.3 1.5 .1 1 1.2 0 1.5z"/>
<path fill="#b9babc" fill-rule="evenodd" d="M249.8 1466.8l-3.5 .1-3-.9-2.5-1.8-1.7-2.5-.5-3 .8-3 2-2.5 2.9-1.7 4-.5 3.5 .9 2.5 1.8 1.9 3 .4 3-1 3-2.3 2.5zM249.8 1465.3l-3 .2-2.5-.6-2.4-1.7-1.3-2-.4-2.5 .5-2 1.3-2 2.3-1.6 3-.7 3 .5 2.5 1.4 1.7 2.4 .4 3-.8 2.5-1.8 1.9z"/>
<path fill="none" stroke="#b9babc" stroke-width="1.35" d="M249.8 1466.8l-3.5 .1-3-.9-2.5-1.8-1.7-2.5-.5-3 .8-3 2-2.5 2.9-1.7 4-.5 3.5 .9 2.5 1.8 1.9 3 .4 3-1 3-2.3 2.5zM249.8 1465.3l-3 .2-2.5-.6-2.4-1.7-1.3-2-.4-2.5 .5-2 1.3-2 2.3-1.6 3-.7 3 .5 2.5 1.4 1.7 2.4 .4 3-.8 2.5-1.8 1.9zM248.8 1464.8l-2.5 0-2.5-1-1.8-1.6-.9-2 0-2.5 1-2 3.7-2.4 2.5-.1 2.5 .6 2 1.6 1.3 2.3 0 2.5-.9 2-1.9 1.7zM247.8 1464.2l-4-1.2-1.5-1.8-.6-2 .4-2 1.2-1.7 4-1.7 2 .2 2.3 1.2 1.3 1.5 .6 2-.3 2-1.4 1.9zM249.3 1463.3l-4-.2-2.5-2.4 .1-3.5 2.4-2.3 4-.2 1.8 1 1.2 1.5 .1 3.5-1.2 1.5zM248.8 1462.7l-3-.1-2.4-2.4 .3-3 2.1-1.8 3.5 0 2.4 2.3-.2 3zM247.8 1462.2l-2.5-.7-1.3-2.3 .8-2.2 2.5-1.2 2.5 .7 1.4 2.2-.9 2.4zM248.8 1461.2l-2 .2-1.6-1.2-.4-1.5 1-1.6 2-.6 2.2 1.2 .3 2zM248.3 1460.4l-1.5 0-.7-.7-.2-1 .8-1 1.1-.2 1.3 .7 .2 1.1z"/>
<path fill="none" stroke="#b9babc" stroke-width="1.35" d="M279.4 1476.3l-3.5 .2-2-1.2-1.1-1.6-.2-3.5 1.2-2 1.6-1.1 3.5-.2 2 1.2 1.1 1.6 .2 3.5-1.2 2zM278.9 1475.7l-3.5-.2-2-2.3 .2-3.5 2.3-2 3.5 .2 2 2.3-.2 3.5zM278.4 1475.2l-2.5-.2-2-2.3 .2-2.5 2.3-2 2.5 .2 2 2.3-.2 2.5zM277.4 1474.7l-2-.7-1-2.3 .7-2 2.3-1 2 .7 1 2.3-.7 2zM278.4 1473.9l-2 0-1.2-1.2 0-2 1.2-1.2 2 0 1.2 1.2 0 2zM277.9 1473.3l-1.3-.1-.8-1 .1-1.3 1-.8 1.3 .1 .8 1-.1 1.3zM277.9 1472.4l-1.2-.2 .2-1.2 1.2 .2z"/>
<path fill="none" stroke="#b9babc" stroke-width="1.35" d="M267.5 1511.1l-7.5-.3-8.5-2.1-5.4-4.6-.8-2 .3-1.5 3.9-3.9 7-2.8 5.5-1.1 17.5-.7 15.5-6.7 8.5-2.4 9.3-1.4 1.7-1.8 .8-6.7 2.2-2.1 1.5 .2 1.1 .9 2.8 5.5 6.6 1.8 2 1.3 1.4 1.9 .5 2.5-.9 3.5-1.8 3-2.7 2.7-4.5 3.1-15.5 7-5.5 1.9-7 1.5zM268 1510.1l-7.5-.1-8-1.9-4.4-4-.8-2 .3-1.5 3.4-3.5 6-2.3 6-1.1 16.5 .1 16-7.5 7.5-2 10-1.3 2.4-1.9-.2-6.5 .9-2 1.4-1 1.5 .2 1.3 1.3 1.8 5.5 6.4 1.5 3.2 3 .5 2.5-.8 3-4.4 5.4-3.5 2.2-7.5 2.9-8.5 4.3-10 2.9-13.5 .9zM269 1509.1l-7.5 .2-8-1.9-3.7-3.3-.7-2 .3-1.5 3.1-3.1 6-2.2 6-.7 15.5 1 8.5-5.3 7-3 7.5-1.9 10.5-1.2 3.3-2.6-1.4-6 .9-2.5 1.2-.9 1.5 .2 1.3 1.7 .7 5.5 6.5 1.2 3.1 2.8 .4 2.5-.6 2.5-3.9 4.7-3 1.9-8 2.8-8.5 4.4-8 2.6-6 .7-9-.1zM318.5 1480.2l-1.8-1.1-.9-2.5 .4-2.5 1.8-1.4 1.6 .9 .8 2.5-.6 3zM265 1508.6l-6.5-.6-5-1.8-2.6-3.1 .4-3 3.7-2.8 7.5-1.9 8.5 .4 10 2 6.5-5.6 6.5-3.3 8.5-2.4 10-.6 8-4.5 6 .1 2 1.1 1.3 2-.5 4-3.8 4.3-3.5 1.9-7 2.2-10.5 5.4-5 1.5-4.5 .5-11.5-.8-12.5 4.2zM318.5 1479.1l-1.5-.5-.8-2 .5-2.5 1.3-.9 1.4 .9 .5 1.5-.1 2zM298 1503.1l-6 0-5.1-1.5-2-2 .5-3.5 4.6-4.2 8-3.5 6-1.1 8.5 .2 6.5-4.3 3.5-1.1 3.5 .2 2.4 1.8 .6 2-.7 2.5-3.8 4-3.5 1.6-6.1 1.4-9.4 5.3zM267.5 1507.6l-6 .1-6-1.6-2.9-2.5 0-3 1.4-1.6 2.5-1.2 4.5-1.3 4-.3 8.5 1.2 3.7 1.7 2.1 2-.2 1.5-2.1 1.7-5.5 2.4zM318.5 1478.4l-1-.1-.9-1.7 .3-2 1.1-.9 1 .6 .5 1.3 0 1.5zM298 1502.1l-5.5-.2-3.5-1.2-1.8-2.1 .4-3 3.9-3.4 6.5-2.9 7-1 8 1 5.5-4.7 4-1.7 3 .2 2 1.5 .5 1.5-.4 2-3.6 3.9-3.5 1.4-6.5 .7-7.5 5.3-4.5 1.9zM268.5 1506.6l-5.5 .4-5.5-1.2-3.3-2.2-.3-2.5 1.3-1.5 2.3-1.2 6.5-1.5 7 .8 4.5 2.4 .7 2-1 1.5-3.2 1.9zM318.5 1477.6l-1-.1-.5-.9 .1-1.5 .9-.7 1.1 1.2zM319.5 1492.7l-2.5-.4-1.4-1.2 .1-1.5 1.4-2.5 2.4-2.1 2.5-1.1 2.5-.1 1.5 .7 .9 2.1-1.3 3-2.6 2.1zM298 1501.1l-4.5-.2-3.1-1.3-1.3-2 .8-2.5 4.1-3.2 6.5-2.2 6.5-.2 2.5 .8 1.5 1.3-.1 2.5-2.9 3.2-5 2.6zM266.5 1506.1l-4.5 0-4-1.1-2.3-1.9-.1-2 3.4-2.3 5.5-1.1 5.5 .6 3.7 2.3 .2 2-1.4 1.5-2.5 1.3zM318 1476.8l-.5-.7 .5-.8 .6 .8zM320 1491.6l-2-.5-.7-1 1-3 3.2-2.1 2-.3 1.5 .5 .8 1.9-.9 2-2.4 1.9zM300.5 1499.7l-3.5 .4-3.5-.6-2-1.4-.2-2 2.7-3 5-2.2 5.5-.5 3.7 1.2 .8 2-1.1 2-3.3 2.5zM267.5 1505.2l-4 .2-3.5-.7-2.4-1.6-.3-1.5 1.7-1.7 3.5-1.2 3.5-.2 3.5 .7 2.3 1.4 .4 1.5-1.7 2zM322 1490.2l-2.5 .1-.7-1.7 1.7-2.1 3-.7 1 .8-.1 1.5zM300.5 1498.6l-3 .3-2.5-.5-1.6-1.3 .1-1.5 2-2.1 4-1.6 4-.3 2.8 1 .4 1.5-.8 1.5-2.4 1.8zM267.5 1504.2l-3 .3-3-.5-1.7-.9-.4-1.5 1.1-1.1 2.5-.9 5 .2 1.7 .8 .7 1.5-.9 1.2zM321.5 1488.7l-.5-.6 1.3-.5zM300.5 1497.2l-3.5 0-.9-.6-.2-1 1.1-1.3 2-1 2.5-.3 1.9 .6 .4 1-.5 1zM266.5 1503.1l-3.2 0-1-.5-.2-1 2.1-1 2.8 .3 1 1.2z"/>
<path fill="#b9babc" fill-rule="evenodd" d="M255.3 1530.4l-4 .4-3.5-1-3-2-1.9-3-.6-3.5 .8-3 2.2-2.9 3-1.9 4-.7 4 .7 3.5 2.3 1.9 3 .6 3.5-1 3.5-2.5 2.8zM254.8 1528.8l-3 .4-3-.7-2.5-1.7-1.7-2.5-.5-2.5 .5-2.5 1.7-2.5 2.5-1.7 3-.7 3.5 .5 3 1.9 1.7 2.5 .5 3-1 3-2.2 2.4z"/>
<path fill="none" stroke="#b9babc" stroke-width="1.35" d="M255.3 1530.4l-4 .4-3.5-1-3-2-1.9-3-.6-3.5 .8-3 2.2-2.9 3-1.9 4-.7 4 .7 3.5 2.3 1.9 3 .6 3.5-1 3.5-2.5 2.8zM254.8 1528.8l-3 .4-3-.7-2.5-1.7-1.7-2.5-.5-2.5 .5-2.5 1.7-2.5 2.5-1.7 3-.7 3.5 .5 3 1.9 1.7 2.5 .5 3-1 3-2.2 2.4zM253.3 1528.4l-2.5-.1-2.5-1-2-1.7-1.2-2.3-.1-2.5 1.1-2.5 1.7-1.7 2.5-1.2 2.5-.2 3 .8 2.4 1.8 1.3 2.5 0 3-1.2 2.3-2.5 2zM254.3 1527.4l-2.5 .3-2.5-.7-1.8-1.2-1.3-2 0-4 1.3-2 1.8-1.2 2.5-.7 3 .5 2.3 1.4 1.3 2 .4 2.5-.6 2-1.7 2zM253.3 1526.8l-4-.6-1.6-1.4-1-2 .6-3.5 1.5-1.5 2-.9 2.5-.1 2 .6 1.6 1.4 1 2 0 2-1 2zM253.8 1526l-3.5-.2-2.3-2-.4-3 2.2-2.8 4-.4 2.8 2.2 .5 1.5-.2 2-1.1 1.5zM252.8 1525.4l-3-.8-1.5-2.3 .7-2.5 2.8-1.6 3 .8 1.5 2.3-.7 2.5zM253.3 1524.4l-2.3-.1-1.6-1.5 0-2 1.4-1.4 2.5-.2 1.9 1.6 0 2zM252.8 1523.5l-1.5-.2-.9-1 .9-2 1.5-.2 1.4 1.2-.3 1.5z"/>
<path fill="none" stroke="#b9babc" stroke-width="1.35" d="M296.9 1545l-2.5-.3-2.3-2.3-1.1-7-4-7.5-.5-5 1.4-5 3-4 4-2.3 4.5-.6 4.5 1.4 3.6 3 2.2 4 .8 5.5-.9 4-1.5 3-6.2 5.7-2.2 5.3zM296.9 1544.4l-2.5-.3-1.9-2.2-.5-2.5 .3-4-3.8-6.5-.9-6 1.1-4 2.7-3.9 4-2.3 4-.5 4 1.2 3.4 3 2.1 4 .5 4.5-.6 3-1.4 3-2.2 2.5-4.3 3.2-1.3 5.3-1.2 1.7zM296.4 1544l-2-.5-1.6-2.1-.2-2.5 1.2-4-4.3-6.5-.8-5.5 1.2-4 2.5-3.3 3.5-1.9 3.5-.3 4 1.3 2.8 2.7 1.9 4 .2 4-1 3.5-1.7 2.5-6.1 4.5-.2 5.5-1.4 1.9zM298.9 1534l-2.5 .2-3.7-2.8-2.1-3-.9-4 .4-3.5 2-3.5 2.8-2.1 3.5-.9 3.5 .8 3 2.2 1.8 3 .6 3.5-.5 3.5-1.7 3-2.7 2.3zM296.4 1543.4l-2.5-1-.9-2.5 .9-2.9 2.5-1.7 1.9 1.6 .8 2.5-.6 2.5zM299.9 1532.5l-3 0-3-1.5-2.1-2.6-1-3 .1-3.5 1.4-3 2.1-2.1 3-1.2 3 .2 2.5 1.2 2.2 2.4 1.1 3-.1 3.5-1.2 3-2 2.1zM295.9 1542.9l-1.8-1-.6-2.5 .9-2 2-.8 1.5 1.1 .7 2.2-.7 2zM299.4 1531.4l-2.5-.1-2.5-1.3-1.7-2.1-1-3 .2-3 1.2-2.5 2.3-2 2.5-.8 2.5 .3 2.5 1.4 1.6 2.1 .8 3-.2 2.5-1.2 2.7-2 1.9zM296.9 1542.1l-1.5 .2-1.3-1.4 0-2 1.3-1.4 1.5 .1 1 1.3 0 2zM300.4 1530l-2.5 .3-2-.6-2-1.8-1-2-.2-2.5 .7-2.5 1.5-1.9 2-1.1 2.5-.2 2 .8 2.6 3.4 .3 2.5-.6 2.5-1.3 1.8zM296.9 1541.5l-1 .3-1.2-.9-.2-1.5 .9-1.2 1-.1 .9 .8 .2 1.5zM299.9 1529l-3.5-.3-1.6-1.3-.9-2 .4-4 1.2-1.5 1.9-1 3.5 .6 1.5 1.4 .8 2-.4 3.5zM296.4 1541l-1.2-.6 .7-1.5 1 .9zM298.9 1528l-2.5-.7-1.6-2.9 .9-3 2.7-1.4 2.5 .9 1.3 3-.8 2.6zM298.9 1526.5l-1.9-.6-.8-1.5 .5-2 1.7-.9 1.5 .5 .9 1.9-.4 1.6z"/>
<path fill="none" stroke="#b9babc" stroke-width="1.35" d="M279.4 1551.4l-3.5 .1-2.4-1.3-1.1-2.5 1.1-2.5 1.9-1.2 2-.3 2 .3 1.9 1.2 1 1.5 0 2-1 1.5zM279.4 1550.8l-2.5 .3-2.5-.9-1.3-2 .8-2.5 3-1.4 3.5 .9 1.1 1.5 .2 1.5-.8 1.5zM278.9 1550.4l-2.5 .1-2-1.1-.7-1.7 1-2 3.2-.9 2.5 1.2 .6 1.2-.2 1.5zM278.9 1549.8l-2 .3-1.9-.9-.6-1.5 .6-1.5 2.4-.9 2.4 .9 .6 2zM278.4 1549.5l-1.5 .1-1.5-.9 0-2 2-.9 2 .9 .3 1.5zM278.4 1548.8l-2 0-.6-1.6 1.1-.8 1.5 .2 .7 1.1zM277.9 1548.2l-1.1 0 0-1 1.2 0z"/>
<path fill="none" stroke="#b9babc" stroke-width="1.35" d="M297.2 1600.9l-13.5 0-7.5-1.5-2-1.3-1.6-2.2-.9-2.5 .2-2 5-7 4.8-4 12-7.5 12.5-5.6 6-1.8 1.5-1.1 .8-3.5-1.6-5.5-.2-3 1.5-10.5 1.5-4 4.5-5.6 15-9.4 4.9-9.5 4.1-4.9 7.5-4.4 6-5.2 2.5-1.2 7-.5 5.5 2.3 2.8 2.9 1.7 3.5 .2 3.5-1 6.5-2.9 9-1.6 3-4.6 6-8.8 8.5-.6 20-1 3-3 5-5.4 4-3.8 4.2-11.5 6.2-8.5 5.8-13.5 6.7zM297.2 1599.4l-5.5 .3-7.5-.6-7.1-2.7-1.5-1.5-.6-2 2-6 4.7-4.6 11.5-7.6 13-5.8 8-1.7 2.6-1.8 1-2 0-2-2.4-5.5-.5-3 .8-9 1.2-4 2.3-3.5 3-2.6 8-4.2 7-2.7 3.8-11.5 3.7-5.3 8.5-4.7 5.1-5 2.4-1.5 6-.6 5.2 2.1 2.8 3 1.3 3 0 3-1.1 5.5-4.1 10.5-3.4 5.5-4.2 4.3-7.2 4.7-1.3 1.5-.2 2 1.6 5.5-.2 10-.9 4.5-2.3 4.5-2 1.9-5.3 2.6-6.4 6.5-14.8 10.2-13.5 7zM296.7 1597.9l-11-.4-4-1.3-2.4-1.8-1.3-2-.1-2.5 1-2.5 4.5-4.5 9.8-6.7 13-5.7 8.5-1.4 6.1-2.7 .8-1.5-.4-3-3.5-6.5-.6-3 .3-8.5 2.5-5 4.3-3.7 7.5-2.9 3 0 5 2.1 2 0 .8-1.5-1.4-5 0-6 1.5-6 2.1-3.6 2.5-2.1 7.1-3.3 4.9-5.5 2-1.3 5.5-.7 4.5 1.9 3 3.6 .6 4-1.6 6-5.7 12.5-2.3 3.5-3 2.9-8.9 4.6-2.2 2 .2 3 2.3 6 .1 8-.8 5-2.1 4-2.1 1.7-6.5 3.3-12.8 12-6.7 4.7-13 7zM354.2 1535.4l-3 .5-2-.6-5.7-6.9-.8-6 1.7-6.5 3.3-4.1 8.2-3.9 5.3-6.5 3.5-1 4 .7 3 2.1 1.7 2.7 .2 3-1.2 4-4.2 7.2-1.8 5.8-2 3.5-4.2 3.6zM296.7 1596.5l-5 .1-8.3-1.7-3-3 .2-3.5 4.6-5 9-6.1 13-5.6 16-2.4 2.1-.9 .5-1-.2-1.5-6-11.5-.8-4.5 .6-6.5 3.8-4.7 5.5-3.1 4-.7 12.5 4.6 3.3 4.4 2.9 7-.1 9-2.1 5-12 6.9-5.5 .6-1.2 5.5-2.5 4-3.3 2.9-7.5 4.9-8.5 4.4zM355.7 1533l-2.5 .3-2.5-.5-5-4.4-1.5-4.5 1.1-6 1.4-2.7 2-2 8.2-3.8 2.9-5 1.9-1.9 3-1.1 3.5 .6 2.5 1.6 1.5 2.3 .4 2.5-.6 2.5-5.3 8-1.7 6.5-1.4 2.5-3.4 3.1zM338.2 1567.9l-3.5 .2-6-3.3-2.9-3.4-4.8-9-.6-5.5 1.2-3.5 3.1-2.8 6-3.3 3.5 .1 9.5 3.9 3 3.6 2.5 6 .4 7-1.2 4.5-2.2 2.1zM297.7 1594.9l-5.5 .2-6.9-1.7-2.2-2 0-2.5 2.9-4 6.1-5 13.6-6.2 14-2 4 .9 2.4 1.8 .8 3-.9 3.5-7.6 6.5-10.2 5.6zM354.7 1531.4l-4-.9-3.9-3.6-1.2-4 1-4.5 1.6-2.5 2.3-2 7.7-3.3 2.3-5.2 1.7-2 3-1 3 .6 1.9 1.4 1.3 2 .2 2-.7 2.5-5.6 6.5-1.4 6.5-1.5 3-3.7 3.1zM339.2 1564.9l-4.5 .3-4.8-2.3-2.8-3-4.2-7.5-.6-4 .6-3 2.3-2.4 5.5-3.5 3.5 0 8 3.2 2.6 2.7 2.2 4.5 .9 5.5-.8 5-2.4 2.5zM299.2 1593.4l-6 .2-4.1-1.2-2.5-2 .2-3 1.9-2.5 4.5-4 12.5-5.8 4.5-1 8.5-.3 2.5 .8 2 1.8 .6 2-.6 2-7.5 7.4-8.5 4.3zM356.2 1529.5l-3.5 0-3.9-2.6-1.6-3.5 .5-4 1.6-2.5 2.9-2.3 7.5-2.6 1.2-5.1 1.8-2.5 2.5-1 2.5 .4 1.6 1.1 1.2 2-.4 3.5-2.4 2.7-4.2 2.3-.7 7-.9 2.5-2.2 2.6zM338.2 1563l-4-.2-3.5-1.8-2.6-3.1-3.3-6-.5-3 .8-2.5 3.1-3.1 3-1.9 3.5 .1 6 2.5 2.6 2.4 2 4 .8 5-.9 4-2.5 2.2zM302.2 1591.9l-6.5 .3-3-.5-2.6-1.8-.2-2.5 1.9-3 2.9-2.7 10.5-5.1 4-1 4-.2 4.5 .7 2 1.3 .4 1.5-.5 1.5-4.2 6-7.7 4.3zM366.2 1512.4l-3-.1-1.4-2.4 .6-3.5 1.3-1.4 1.5-.6 3 .9 1.4 2.1-.7 3zM355.7 1528l-2.5 0-2.7-1.6-1.6-2.5-.2-2.5 .9-2.5 2.1-2.2 3-1.6 3-.3 1.8 .6 1.1 1.5 .7 5-1.6 3.5zM338.2 1561l-3.5-.2-2.7-1.4-2.6-3-2.6-4.5-.3-2.5 .6-2 2.1-2.6 2.5-1.6 3 0 4.5 2.1 2.5 2.1 1.6 3 .8 4-.6 3.5-1.9 2zM304.2 1590.5l-6 .2-3.5-.6-1.7-1.7 .2-2 3.1-4 8.4-4.3 6.5-1.3 3 .4 2 1.2 .5 3-2.2 4-6.8 3.9zM366.2 1511l-2-.2-1.2-1.9 .5-2 1.7-1.3 2 .4 1.3 1.9-.7 2zM356.2 1526l-2 .4-2-.9-1.4-1.6-.4-2 .6-2 1.2-1.5 4-1.8 2.5 1.2 1 3.1-.9 3zM339.2 1558.5l-2.5 .3-2.5-.7-2-1.5-2.5-3.2-1.1-4 .8-2 1.8-1.9 2-.7 2 .4 3.5 2.1 1.9 2.1 1.1 3 0 3-.9 2zM305.2 1588.9l-4 .4-4-.6-1.4-1.3 .2-2 2.3-2.5 7.4-3.6 5-1 3.1 1.1 .7 2.5-1.2 2.5zM365.7 1509l-.6-.6 .6-.9 .8 .9zM355.7 1523.6l-1.5 .1-1.2-1.3 .6-2 1.6-.9 1.5 .4 .5 1-.3 1.5zM337.7 1555.6l-3-.1-3-2.6-.9-3 1.4-2.5 2.5-.2 3.4 2.7 1 3-.4 1.6zM304.2 1587.4l-4-.4-.9-.6-.1-1 2-2 4.5-2.1 4-.7 1.8 .8 .1 1-1.2 1.5z"/>
<path fill="none" stroke="#b9babc" stroke-width="1.35" d="M397 1575.6l-5.5-.2-4.5-1.5-3.8-2.8-2.6-4-.6-3.5 .6-3.5 5.6-9.5-2.9-9 .5-6 1.9-3.5 2.8-2.8 4-2.5 4-1.6 5-1 5-.2 9.5 1.8 5.5 2.9 4.2 4.4 1.7 5-.7 5-1.7 3-3 3.1-11 6.9-.8 2-.3 7.5-2.7 5-4.2 3.2zM395.5 1574.6l-5-.6-4-1.8-3.3-3.1-1.5-3.5-.1-3.5 1.1-3 6.8-8-.2-1.5-3.9-8-.1-3.5 .8-3 1.9-2.9 2.5-2.4 7.5-3.5 9-.9 9 2 5 3 3.1 3.7 1.3 4.5-.8 4.5-2 3-3.1 2.8-11.7 6.2-.3 1.5 1 5 0 3-.9 3-1.7 2.5-4.4 3.1zM398.5 1573.1l-5 .4-4.5-1.2-3.8-2.7-2-3.5-.2-4 1.6-3.5 2.9-2.8 6.5-4.2-6-8.5-.8-3.5 .4-3 1.2-2.5 2.2-2.6 6.5-3.6 7.5-1.2 8 1.1 5 2.4 3.6 3.4 1.8 4-.3 4-1.9 3.5-3.7 3.2-4 2.1-9.7 3.2 0 1.5 3 6 .1 4.5-1.1 2.5-1.8 2.2zM405.5 1550.6l-5-.1-4.5-1.7-4-3.1-2.3-3.6-.5-4 1.3-3.5 2.9-3 4.1-2.2 7-1.4 7 .8 6 2.9 3.5 4.4 .6 2.5-.3 2.5-2.8 4.5-5.5 3.4zM398 1572.2l-4 .3-3.5-.7-3.5-2.1-2.1-2.6-.7-3 .5-3 2.1-3 3.2-2.2 4-1.2 4.5 .1 3.5 1.8 2.9 3.5 .9 4-1.1 3.5-2.7 2.8zM409 1548.7l-4.5 .4-4-.5-3.5-1.3-3.2-2.2-2.2-3-.6-3 .6-3 1.8-2.5 5.1-3.2 6.5-1.2 7 1.1 5 2.9 2.6 4.4-.6 4.5-1.5 2.2-2.5 2.1zM398 1571.1l-3.5 .4-3-.5-2.9-1.4-2-2-1-2.5 0-2.5 1.1-2.5 2.3-2.2 4-1.7 4 0 3.5 1.2 2.8 2.7 1.1 3-.6 3.5-2.3 2.8zM407 1547.6l-4 0-3.5-.8-3-1.6-2.3-2.1-1.2-2.5-.1-2.5 1-2.5 2.1-2.3 5-2.3 6-.5 5.5 1.4 4.1 3.2 1.4 4-1.6 4-3.9 3zM397.5 1570.2l-5.5-.1-2.5-1.2-1.8-1.8-.9-2 .1-2.5 2.6-3.7 3.5-1.5 3.5-.1 3 1 2.6 2.3 1 2.5-.4 3-2 2.5zM408 1546.2l-6.5-.3-5-2.7-1.4-2.1-.5-2 .4-2 1.3-2 3.7-2.4 5-1 5 .7 4 2.2 2 3.5-.6 3.5-2.9 2.9zM397.5 1569.1l-4.5 .2-3.8-2.2-1.2-3.5 .6-2 1.4-1.6 2.5-1.3 3-.4 2.5 .6 2.5 1.7 1.3 2.5-.2 2.5-1.6 2.1zM408.5 1544.7l-5 .2-4.7-1.8-1.4-1.5-.8-2 1-3.5 2.9-2.1 4-1 4 .4 3.6 1.7 1.9 2.5-.1 3-2 2.5zM397 1568.2l-3.5 .1-3.2-1.7-1-3 1.7-2.9 2-1 2.5-.2 2.5 .7 1.7 1.4 .8 2-.3 2-1.2 1.5zM406.5 1543.6l-4-.4-3-1.9-.9-2.7 1.5-2.5 2.4-1.3 3.5-.4 3 .7 2.2 1.5 1 2-.7 2.5-2 1.6zM396 1567.2l-2.5-.1-2.2-1.5-.4-2.5 1.6-1.8 3.5-.5 2.7 1.8 .4 1.5-.6 1.5zM407 1541.7l-2.5 .2-2.1-.8-1.2-1.5 .4-2 3.4-1.5 3.7 1 .8 1 .1 1.5-1.1 1.4zM395.5 1565.7l-1.5-.1-1-.8-.2-1.2 .7-.9 2-.4 1.3 .8 .1 1.5z"/>
<path fill="none" stroke="#b9babc" stroke-width="1.35" d="M515.1 1542.9l-4.5-.2-3-1.1-1.7-1.7 .1-2 3.1-2.2 4-.7 5 .6 2.9 1.8 .7 2-1 1.5-2.1 1.3zM514.6 1541.9l-5-.8-1.5-1.2-.2-1.5 2.2-1.8 3-.6 4 .6 2.1 1.3 .3 1.5-.6 1zM514.6 1540.9l-3.6-.5-1.1-1 .1-1 3.1-1.4 3.8 .9 .7 1-.4 1zM515.1 1539.4l-2 .3-1-.8 2-.7 1.2 .7z"/>
<path fill="#b9babc" fill-rule="evenodd" d="M312.5 1678.2l-2-.1-1.8-1-1.4-2-.6-2 1-4.5 1.8-1.7 2-.6 2 .4 1.5 1.1 1.7 3.8-1.1 4.5zM312 1677.1l-3-1.2-1.3-3.3 1-3.5 2.8-1.6 3 1.3 1.2 3.3-1.1 3.5z"/>
<path fill="none" stroke="#b9babc" stroke-width="1.35" d="M312.5 1678.2l-2-.1-1.8-1-1.4-2-.6-2 1-4.5 1.8-1.7 2-.6 2 .4 1.5 1.1 1.7 3.8-1.1 4.5zM312 1677.1l-3-1.2-1.3-3.3 1-3.5 2.8-1.6 3 1.3 1.2 3.3-1.1 3.5zM313 1676.3l-3-.2-1.7-2.5 .3-3.5 2.4-2 2.5 .5 1.6 2.5-.2 3zM313 1675.7l-2.5 0-1.7-2.1 .1-3 2.1-1.9 2 .2 1.7 2.2-.1 2.5zM312.5 1675.4l-2-.3-1.4-2 .4-2.5 1.5-1.4 2 .3 1.3 2.1-.4 2.5zM312.5 1674.8l-1.5 0-1.4-1.7 .1-2 1.3-1.3 1.5 0 1.3 1.8-.2 2zM312.5 1674.1l-1.5 .1-.9-1.1 .2-2 1.2-.8 1 .2 .8 1.1 0 1.5zM312 1673.6l-1.4-1 .9-1.6 1.3 1.1z"/>
<path fill="none" stroke="#b9babc" stroke-width="1.35" d="M54.2 1642.3l-2-.4-1.4-2.2 .5-2 1.9-1.4 2.5 .7 1.1 1.7-.7 2.5zM54.2 1641.4l-1.5-.3-.9-1.4 .2-1.5 1.2-.9 1.5 .1 1.1 1.3-.1 1.5zM54.2 1640.4l-1.5-.7 .1-1 .9-.6 1.3 1.1z"/>
<path fill="#b9babc" fill-rule="evenodd" d="M619.3 1554.8l-4 .1-3.5-1-3.2-2.1-2.1-3-.5-3 .7-3 2.1-2.8 3-1.9 4.5-1.1 4.5 .5 4 2.1 2.5 3.2 .7 4-1.3 3.5-2.9 2.8zM619.8 1552.9l-3.5 .3-3-.6-2.5-1.4-1.7-1.9-.9-2.5 .2-2.5 1-2 1.9-1.8 3.5-1.5 4-.1 3.5 1.3 2.3 2.1 1.2 3-.4 3-2.1 2.8z"/>
<path fill="none" stroke="#b9babc" stroke-width="1.35" d="M619.3 1554.8l-4 .1-3.5-1-3.2-2.1-2.1-3-.5-3 .7-3 2.1-2.8 3-1.9 4.5-1.1 4.5 .5 4 2.1 2.5 3.2 .7 4-1.3 3.5-2.9 2.8zM619.8 1552.9l-3.5 .3-3-.6-2.5-1.4-1.7-1.9-.9-2.5 .2-2.5 1-2 1.9-1.8 3.5-1.5 4-.1 3.5 1.3 2.3 2.1 1.2 3-.4 3-2.1 2.8zM618.3 1552.3l-3-.1-2.5-.8-2.1-1.6-1.2-2-.3-2.5 .7-2 1.4-1.7 2.5-1.4 3.5-.6 3 .6 2.6 1.6 1.6 2.5 .3 2.5-1.1 2.5-2.4 2zM618.8 1551.4l-4.5-.3-2-1-1.5-1.8-.5-3.5 2.5-3.2 2.5-1 3-.1 2.5 .9 2.2 1.9 .8 2.5-.6 2.5-1.8 2zM619.3 1550.4l-4 .2-3-1.8-1.1-3 1.6-3.1 2-1.1 2.5-.4 2.5 .6 2 1.5 1 2-.2 2-1.3 1.9zM618.3 1549.8l-3-.1-2.6-1.9-.3-3 1.9-2.1 4-.5 3.1 2.1 .4 2-.5 1.5zM618.3 1548.9l-2.5 0-1.8-1.1-.7-2 1.1-2 2.9-.9 2.8 1.4 .5 2.5zM617.8 1547.9l-1.9-.1-1.1-.9-.3-1.1 .8-1.3 2-.5 1.7 .8 .3 2z"/>
<path fill="none" stroke="#b9babc" stroke-width="1.35" d="M520.8 1543.4l-5.5 .4-5-1.2-3-2.3-.3-2.5 2.3-2.3 4.5-1.5 5-.1 4.5 1.1 3 2.3 .3 2.5-2.3 2.3zM519.8 1542.4l-4 .2-3.5-.7-2.6-1.6-.6-2 1.7-1.9 3-1.2 4-.2 3.5 .7 2.6 1.6 .6 2-1.7 1.9zM518.8 1541.4l-5.5-.4-1.7-1.2-.3-1.5 1-1.2 2.5-.9 5.5 .4 1.7 1.2 .3 1.5-1 1.2zM518.3 1540.3l-3.5-.1-1.2-.9 0-1 2.2-1.1 3 .2 1.4 1.4z"/>
<path fill="#b9babc" fill-rule="evenodd" d="M715.8 1597.2l-4 .3-3.5-.6-3.5-1.6-2.4-2.2-1.4-2.5-.2-3 .8-2.5 2.2-2.6 4.5-2.4 5.5-.6 5 1.2 4 2.9 1.8 4-.6 4-3.2 3.5zM715.3 1595.6l-3.5 .3-3-.6-3-1.5-1.7-1.7-1-2-.2-2.5 1.1-2.5 1.8-1.9 4-1.8 4-.2 4 1 3.3 2.4 1.4 3-.6 3.5-2.6 2.9z"/>
<path fill="none" stroke="#b9babc" stroke-width="1.35" d="M715.8 1597.2l-4 .3-3.5-.6-3.5-1.6-2.4-2.2-1.4-2.5-.2-3 .8-2.5 2.2-2.6 4.5-2.4 5.5-.6 5 1.2 4 2.9 1.8 4-.6 4-3.2 3.5zM715.3 1595.6l-3.5 .3-3-.6-3-1.5-1.7-1.7-1-2-.2-2.5 1.1-2.5 1.8-1.9 4-1.8 4-.2 4 1 3.3 2.4 1.4 3-.6 3.5-2.6 2.9zM712.8 1595.1l-3-.3-3-1.4-2.2-2.3-.7-2.5 .6-2.5 1.8-2.2 3-1.5 3-.5 3.5 .4 2.8 1.3 2 2 .9 2.5-.4 2.5-2.1 2.5-2.7 1.4zM714.8 1594.2l-5-.2-3.7-2.4-1.2-3.5 .7-2 1.3-1.5 3.4-1.7 3.5-.2 3.5 1.1 2.2 1.8 1 2.5-.5 2.5-2.2 2.3zM713.3 1593.6l-4.5-.9-1.5-1.1-1.3-2 0-2 .7-1.5 3.1-2.2 2.5-.5 3 .4 2.5 1.3 1.5 2 .2 2-1.2 2.3-2 1.5zM714.3 1592.7l-3.5-.1-3-1.7-.9-2.8 1.4-2.5 2.5-1.3 2.5-.2 2.5 .7 1.8 1.3 .9 2-.4 2-1.3 1.5zM712.8 1592.1l-3.4-1-1.5-2.5 1.2-2.5 3.2-1.2 3.5 .8 1.7 2.4-1.2 2.8zM713.8 1591.2l-2.5-.1-1.6-1-.7-2 1-1.5 3.3-.8 2.6 1.3 .2 2.5zM713.3 1590.2l-1.5-.1-1.3-1-.1-1 .9-1 2-.3 1.4 .8 .2 1.5z"/>
<path fill="none" stroke="#b9babc" stroke-width="1.35" d="M659.7 1636.5l-3-.2-2.5-1.1-2.4-2.3-.9-2.5 .1-2.5 1.3-2.5 1.9-1.6 3-1.2 3 0 3 1 2.5 2.3 1 2.5-.2 3-1.3 2.3-2.5 1.9zM660.7 1635.4l-2.5 .3-2.5-.7-2-1.3-1.4-1.8-.5-2 .4-2.5 1.3-2 2.2-1.4 2.5-.6 3 .3 2.5 1.4 1.7 2.3 .4 2.5-.8 2.5-1.8 1.9zM661.2 1634.4l-4.5 .1-3.4-2.6-.5-3.5 2.4-3.2 2.5-1 2.5 .1 2 .7 2 1.9 .7 2-.4 2.5-1.3 1.8zM660.2 1633.9l-4-.4-2.4-2.6 .1-3 2.8-2.6 4-.1 2 1.2 1 1.5-.1 3.5-1.4 1.6zM660.7 1633l-3 .2-2.7-1.8-.5-2.5 1.7-2.5 3.5-.7 2.8 1.7 .6 3zM659.7 1632.5l-2.5-.3-1.7-1.8 0-2 1.7-1.6 3-.1 1.9 1.7-.2 2.5zM659.7 1631.6l-2-.1-1.2-1.1-.1-1.5 .8-1.1 2-.5 1.8 1.1 .1 2zM659.2 1630.5l-1.6-.6 .6-1.4 1.7 .4 .1 1z"/>
<path fill="#b9babc" fill-rule="evenodd" d="M669.2 1669.5l-3.5 .2-3.5-.8-3-1.6-2.1-2.3-1.1-2.5 .1-3 1.2-2.5 2.4-2.2 4.5-1.8 5-.1 4.5 1.6 3.1 3 1.1 4-1.2 3.5-3 2.9zM668.7 1668l-3 .1-3-.7-2.3-1.4-1.8-2-.7-2 .3-2.5 1.1-2 1.9-1.7 3.5-1.4 4 0 3.5 1.2 2.7 2.4 1 3-.7 3-2.5 2.5z"/>
<path fill="none" stroke="#b9babc" stroke-width="1.35" d="M669.2 1669.5l-3.5 .2-3.5-.8-3-1.6-2.1-2.3-1.1-2.5 .1-3 1.2-2.5 2.4-2.2 4.5-1.8 5-.1 4.5 1.6 3.1 3 1.1 4-1.2 3.5-3 2.9zM668.7 1668l-3 .1-3-.7-2.3-1.4-1.8-2-.7-2 .3-2.5 1.1-2 1.9-1.7 3.5-1.4 4 0 3.5 1.2 2.7 2.4 1 3-.7 3-2.5 2.5zM669.7 1667.1l-5 .1-2.5-.9-2-1.6-1.4-3.7 .5-2 1.4-1.8 3-1.7 3.5-.5 3.5 .7 2.7 1.8 1.4 2.5-.2 3-1.8 2.5zM668.7 1666.6l-5-.4-3.3-2.7-.5-3.5 2.3-3 3-1.2 3-.1 3 1.1 2 1.7 .9 2.5-.7 2.5-1.7 1.8zM667.2 1666l-4.2-1-2.3-3 .1-2 .9-1.5 4-2.1 2.5 .1 2.5 .8 1.5 1.3 .9 1.9-.2 2-1.2 1.8-2 1.2zM668.7 1665.1l-3.5 0-2.8-1.6-.9-2.5 1.3-2.5 1.9-1.1 2.5-.3 2.5 .6 1.7 1.3 .8 1.5-.2 2-1.3 1.6zM667.7 1664.6l-3-.4-1.9-1.7 0-2.5 1.9-1.8 3.5-.3 2.8 2.1 .3 1.5-.7 1.5zM668.2 1663.6l-2 .2-2-1-.7-1.8 .8-1.5 2.9-.9 2.5 1.1 .4 2.3zM668.2 1662.5l-2.6 0-.8-1 .2-1 1.2-.9 2 .3 .8 1.1z"/>
<path fill="#b9babc" fill-rule="evenodd" d="M314 1789l-2.5-.2-2-1.3-1.7-2.5-.7-3 .2-3 1.2-3 2-2.1 2-.8 2.5 .4 2 1.5 1.3 2 .7 3-.2 3.5-.9 2.5-1.9 2.1zM314 1787.6l-2-.1-1.7-1-1.4-2-.7-2.5 .1-2.5 .9-2.5 1.3-1.5 2-.9 2 .2 1.5 1 2 4.2-.1 2.5-.8 2.5-1.6 1.8z"/>
<path fill="none" stroke="#b9babc" stroke-width="1.35" d="M314 1789l-2.5-.2-2-1.3-1.7-2.5-.7-3 .2-3 1.2-3 2-2.1 2-.8 2.5 .4 2 1.5 1.3 2 .7 3-.2 3.5-.9 2.5-1.9 2.1zM314 1787.6l-2-.1-1.7-1-1.4-2-.7-2.5 .1-2.5 .9-2.5 1.3-1.5 2-.9 2 .2 1.5 1 2 4.2-.1 2.5-.8 2.5-1.6 1.8zM314.5 1786.7l-2 .2-1.5-.6-1.2-1.3-1-2.5 .5-4.5 1.2-1.7 2-1 3 .9 1.9 3.3-.5 4.5zM314 1786.2l-1.5 .1-1.5-.8-1.8-3.5 .8-4.1 1.5-1.6 1.5-.4 2.5 1.1 1.5 3.5-.6 3.5zM313.5 1785.6l-2.5-.9-1.3-3.2 .9-3.5 2.4-1.5 2.5 1.4 1 3.1-.8 3zM314.5 1784.5l-2.5 .2-1.6-2.2 .2-3.5 1.9-1.7 2 .4 1.3 1.8 0 3zM314 1784.1l-2-.1-1.2-2 .5-3 1.7-1.1 1.5 .6 1 2-.2 2zM313.5 1783.5l-1.5-.4-.7-1.6 .4-2 1.3-.9 1.5 .9 .4 1.5-.3 1.5zM313.5 1782.6l-1-.2-.5-.9 0-1 1-.9 1.3 1.4z"/>
<path fill="#b9babc" fill-rule="evenodd" d="M545.7 1792l-2-.1-1.8-1-1.4-2-.6-2 1-4.5 1.8-1.7 2-.6 2 .4 1.5 1.1 1.7 3.8-1.1 4.5zM545.2 1790.9l-3-1.2-1.3-3.3 1-3.5 2.8-1.6 3 1.3 1.2 3.3-1.1 3.5z"/>
<path fill="none" stroke="#b9babc" stroke-width="1.35" d="M545.7 1792l-2-.1-1.8-1-1.4-2-.6-2 1-4.5 1.8-1.7 2-.6 2 .4 1.5 1.1 1.7 3.8-1.1 4.5zM545.2 1790.9l-3-1.2-1.3-3.3 1-3.5 2.8-1.6 3 1.3 1.2 3.3-1.1 3.5zM546.2 1790.1l-3-.2-1.7-2.5 .3-3.5 2.4-2 2.5 .5 1.6 2.5-.2 3zM546.2 1789.5l-2.5 0-1.7-2.1 .1-3 2.1-1.9 2 .2 1.7 2.2-.1 2.5zM545.7 1789.2l-2-.3-1.4-2 .4-2.5 1.5-1.4 2 .3 1.3 2.1-.4 2.5zM545.7 1788.6l-1.5 0-1.4-1.7 .1-2 1.3-1.3 1.5 0 1.3 1.8-.2 2zM545.7 1787.9l-1.5 .1-.9-1.1 .2-2 1.2-.8 1 .2 .8 1.1 0 1.5zM545.2 1787.4l-1.4-1 .9-1.6 1.3 1.1z"/>
<path fill="#b9babc" fill-rule="evenodd" d="M42.2 1958.7l-2 .1-2.5-.9-1.8-1.8-.9-2 0-2.5 .8-2 1.9-1.9 2-.8 2.5 0 2 .9 1.8 1.8 .8 2 .1 2-1 2.5-1.7 1.7zM41.7 1957.7l-3.5-.8-1.4-1.3-.8-2 .8-3.5 1.4-1.4 2-.8 3.5 .8 1.3 1.4 .8 2-.8 3.5z"/>
<path fill="none" stroke="#b9babc" stroke-width="1.35" d="M42.2 1958.7l-2 .1-2.5-.9-1.8-1.8-.9-2 0-2.5 .8-2 1.9-1.9 2-.8 2.5 0 2 .9 1.8 1.8 .8 2 .1 2-1 2.5-1.7 1.7zM41.7 1957.7l-3.5-.8-1.4-1.3-.8-2 .8-3.5 1.4-1.4 2-.8 3.5 .8 1.3 1.4 .8 2-.8 3.5zM41.7 1957.1l-3.5-.8-1.7-2.7 .9-3.5 2.8-1.7 3.5 1 1.6 2.7-1 3.5zM41.7 1956.6l-3-.6-1.6-2.4 .6-3 2.5-1.7 3 .7 1.6 2.5-.7 3zM41.7 1956.1l-2.5-.3-1.6-2.2 .3-2.5 2.3-1.7 2.5 .5 1.5 2.2-.4 2.5zM41.7 1955.6l-2-.1-1.6-1.9 .4-2.5 1.7-1.1 2 .2 1.5 1.9-.2 2zM41.2 1955.2l-1.9-.6-.8-1.5 .7-2 1.5-.7 1.9 .7 .7 1.5-.6 1.8zM41.2 1954.6l-1.5-.4-.6-1.1 .4-1.5 1.2-.6 1.5 .5 .5 1.1-.5 1.5zM41.7 1953.6l-1.6 0 .1-1.7 1.6 .2z"/>
<path fill="#fbeb1c" fill-rule="evenodd" d="M671.5 220l-19.5 .4-21-.5-17.5-1-29.5-3.5-11.5-2.2-10-3.5-4.5-3.2-1-2-.1-1.5 1.1-2 2.2-2 7.8-3.6 24-5.2 1.2-1.2 .7-4 1.6-2.5 3.9-3 5.1-2.4 14-3.4 24.2-2.2 11.8-3.4 6.5-1 10 .3 14.5 3 27-3.3 19 .5 14.5 1.6 21.5 5.5 10.5 4.1 9.9 6.2 2.8 3 1.4 3-.6 4-3.3 3.5-4.2 2.4-8 2.3-41.5 9.7-13.5 2.5-25 3zM753.5 191l-5.5 .3-8.5-1.2-18.5-6.8-10-3.1-2-1.2-.2-1 2.7-1.5 12-.9 7 .8 14 3.4 9 3.2 3.9 3 .9 1.5-.2 1.5-1.6 1.2zM663 208.6l-5.5 .3-15.5-1.8-2.6-1.1-1-2 .7-1.5 1.9-1.4 11-3.1 21.5-1.2 20 1.8 4.9 1.4 1.6 1.5-2.9 2.5-5.6 2.5zM594.5 204.5l-3.1-.5-.9-1 3-1.1 3.3 1.1-.3 1z"/>
<path fill="none" stroke="#fbeb1c" d="M671.5 220l-19.5 .4-21-.5-17.5-1-29.5-3.5-11.5-2.2-10-3.5-4.5-3.2-1-2-.1-1.5 1.1-2 2.2-2 7.8-3.6 24-5.2 1.2-1.2 .7-4 1.6-2.5 3.9-3 5.1-2.4 14-3.4 24.2-2.2 11.8-3.4 6.5-1 10 .3 14.5 3 27-3.3 19 .5 14.5 1.6 21.5 5.5 10.5 4.1 9.9 6.2 2.8 3 1.4 3-.6 4-3.3 3.5-4.2 2.4-8 2.3-41.5 9.7-13.5 2.5-25 3zM753.5 191l-5.5 .3-8.5-1.2-18.5-6.8-10-3.1-2-1.2-.2-1 2.7-1.5 12-.9 7 .8 14 3.4 9 3.2 3.9 3 .9 1.5-.2 1.5-1.6 1.2zM663 208.6l-5.5 .3-15.5-1.8-2.6-1.1-1-2 .7-1.5 1.9-1.4 11-3.1 21.5-1.2 20 1.8 4.9 1.4 1.6 1.5-2.9 2.5-5.6 2.5zM594.5 204.5l-3.1-.5-.9-1 3-1.1 3.3 1.1-.3 1zM752.5 190l-4.5 .3-7.5-1.1-25.1-8.7-3.4-2 1-.7 6.5-1.3 6.5 0 4.5 .6 13.5 3.5 8.5 3.2 2.4 1.7 .6 2.5-1 1.2zM659.5 208l-9.3-1.5-5.2-1.8-.7-1.2 4.1-3 5.1-1.8 12-.1 8.5-1 18.5 2.2 2.2 .7 .9 1-.9 2-3.7 1.8zM750.5 189l-9.3-1-7.2-3-7.5-1.9-7.6-3.1-.9-1 1.1-1 1.9-.5 7 .1 16.4 4.4 8.4 4-.1 2zM661.5 206.6l-4 .3-4.3-.9-3-1.5-.7-2 2.3-2 3.5-1 10.2 .5 9-1.4 10.4 1.9 3.9 2-8.8 2.8-13.5 .4zM730 182l-3.5-1-1.1-1 .2-.5 2.4-.4 2.9 .9 .8 1.5zM746.5 186.1l-3.6-.1-1.9-1-.6-1 3.6 .2 1.8 .8zM677 204l-5.8 0-2.7-1.5 1.9-1.5 3.6-1 3.5 .5 3.2 1.5-.7 1.3zM660.5 205.1l-5-.1-2-1-.5-1.5 2-1.5 3-.4 2.7 .4 3.5 1.5-.1 1z"/>
<path fill="#fbeb1c" fill-rule="evenodd" d="M1647 206.5l-39 0-40.5-3.3-8.5-2-6.8-2.7-3.8-3-1-3.5 1-2.5 2.1-2.5 6.5-4.1 10.5-4.2 25-7.5 24-4.9 29.5-3.8 17.5-1.2 2-.8-4.2-3.5-16.3-.9-5-1-1.6-1.1 1.3-1 3.8-.9 12-.6 12 .7 16 2.5 3.3 1.3 2.7 2.2 1.5 .2 29-4.5 17-.1 9.5 1.3 9 2.7 4.5 2.7 2.6 3.5 .2 3-1.1 3-7 8-12.7 9-10.5 4.7-13.5 4.6-16.5 4-35 5zM1718 173l-2.5 .4-3-.5-2.2-1.4 0-1.5 3.2-3 4.5-1.5 6.3 .5 3.1 2-.1 1.5-1.1 1zM1603.5 193l-16-.6-3.5-.8-.9-1.1 2.9-2.5 5-1.8 24-2.5 14-3.6 23.5-3.9 22.5 .5 10 1.7 1.5 1 .6 1.6-1.2 3-3.4 2.2-22 4.8-15 .9-14-.5-12-1.1-9 2.1z"/>
<path fill="none" stroke="#fbeb1c" d="M1647 206.5l-39 0-40.5-3.3-8.5-2-6.8-2.7-3.8-3-1-3.5 1-2.5 2.1-2.5 6.5-4.1 10.5-4.2 25-7.5 24-4.9 29.5-3.8 17.5-1.2 2-.8-4.2-3.5-16.3-.9-5-1-1.6-1.1 1.3-1 3.8-.9 12-.6 12 .7 16 2.5 3.3 1.3 2.7 2.2 1.5 .2 29-4.5 17-.1 9.5 1.3 9 2.7 4.5 2.7 2.6 3.5 .2 3-1.1 3-7 8-12.7 9-10.5 4.7-13.5 4.6-16.5 4-35 5zM1718 173l-2.5 .4-3-.5-2.2-1.4 0-1.5 3.2-3 4.5-1.5 6.3 .5 3.1 2-.1 1.5-1.1 1zM1603.5 193l-16-.6-3.5-.8-.9-1.1 2.9-2.5 5-1.8 24-2.5 14-3.6 23.5-3.9 22.5 .5 10 1.7 1.5 1 .6 1.6-1.2 3-3.4 2.2-22 4.8-15 .9-14-.5-12-1.1-9 2.1zM1718 171l-3 .1-.7-1.6 1.3-1.5 1.9-.7 4 .7-.1 1zM1603 192l-12.5-.7-3.3-1.3 .5-1 1.8-1.1 6.5-1.4 15-.8 6 .5 12-4.8 23.5-4.1 22 .7 5.6 2 2.2 2-.8 2-3.1 1.5-18.4 4.4-13.5 .7-14-.3-14.5-2.7-7.2 3.4zM1646 189l-14.5-.4-3.2-1.6-.6-2 1.2-1.5 1.6-.7 22.5-4.3 20.6 1.5 1.9 .5 1.4 1.5-.3 1-1.1 .7-4 .9-9.5 3.5zM1605.5 190l-4.5 .4-4.9-1.4 6.4-1.2 5.2 .7 .2 .5zM1658 186.5l-14 .1-9.3-1.1 4.8-2.5 7-.9 6.5-1.7 12.2 1.6 1.7 1-.4 1-2.8 1.5z"/>
<path fill="#fbeb1c" fill-rule="evenodd" d="M669.5 1235l-27 .3-25.5-2.5-12-2.7-7.6-3.1-3.8-3-1-2 .1-2 2.3-4 4.5-3.3 10-3.9 8.5-2.5 23-4.6 27-2.7 30-.3 26 2.6 9.5 2 6.5 2.4 5 2.9 2.6 3.4-.3 3.5-2.9 3-7.4 4.4-10 3.4-11 2.9-13 2.5-16.5 2zM666.5 1223l-7.5 .1-6-.7-7.8-2.9-1-1-.1-1 3.1-2.5 9.8-2.6 16.5-1.4 15 .6 4.7 1.9 2.2 2.5-1.2 2.5-3.2 1.6-14.5 2.3z"/>
<path fill="none" stroke="#fbeb1c" d="M669.5 1235l-27 .3-25.5-2.5-12-2.7-7.6-3.1-3.8-3-1-2 .1-2 2.3-4 4.5-3.3 10-3.9 8.5-2.5 23-4.6 27-2.7 30-.3 26 2.6 9.5 2 6.5 2.4 5 2.9 2.6 3.4-.3 3.5-2.9 3-7.4 4.4-10 3.4-11 2.9-13 2.5-16.5 2zM666.5 1223l-7.5 .1-6-.7-7.8-2.9-1-1-.1-1 3.1-2.5 9.8-2.6 16.5-1.4 15 .6 4.7 1.9 2.2 2.5-1.2 2.5-3.2 1.6-14.5 2.3zM667.5 1222l-7 .2-6-.7-4.9-2-1.3-2 1.7-1.6 7.5-2.5 15.5-1.5 14.5 .7 3.4 1.4 1.6 2-.7 2-2.2 1-5.6 .6-7.5 1.8zM674 1220.5l-14 .3-5.1-1.3-1.4-1.5 1.3-1.5 3.7-1.7 13.5-1.8 13.5 1 3.1 1.5 0 1-.9 .5-3.7 .7-6 2.2zM676.5 1218.6l-5 .3-8.4-.9 5.4-2.5 3.5-.9 4 0 3.2 .9 .2 1.5z"/>
<path fill="none" stroke="#29a9e0" d="M481.1 397l-4-.1-5.5-1.6-5-.4-9.5-3.9-6.1-6-3.6-6.5-4.8-2.6-3.5-.9-1.5-1.8-2.4-22.2-2.6-3.5 .1-1 5.6-6.5 .5-5.5 .8-1.8 1.5-1.4 4-.9 2-1.1 2.8-3.8 .7-3.6 .9-.9 2.6 1.4 1.5 0 3-1 3.5-2.6 3.5 1.6 1.5 0 5.5-2.7 13-3.2 7-2.7 6 .1 5.5-1 6-.1 4-1 3.5 0 3.5-1.6 9.5 .8 5 1.6 2.5-1.5 1.3-3.1 1.4-1 5.3-2 6 1.2 3.5-4.2 7.5-1 7.5-4.9 5.5 0 13.5-3.6 10-1 5 2.1 5.5-.4 5.5 1.1 5.5-.1 15 5.6 3.4 3.2 2.2 7-.6 2.1-3.2 3.4 .2 2 2.7 5-.3 2-2 4.5 .1 4 6.5 5.3 4.5 1.1 3.5 2.5 7-.2 10.5 .9 7.5 4.8 1.9 3.1 .7 7.5-1.5 5-7 5-4.1 3.8-5 1.9-6.5 .9-13.5 0-14.5-2.8-5.5-.4-6.6 .6-4.4-2.7-2-.2-5 3.1-6-.9-3 1.4-10.5 1.7-6 2-5.5 .6-13 2.9-12-1-8.5 4.1-5 1.1-4.5 1.7-2-.4-4-2.8-2.5 .7-3.5 2.8-3-2.1-5-.4-1.4 .9-1.5 3.5-3.2 2-2.9 3.1-4.5 .8-7 3.8zM637.9 336.5l.7-1.5-.7-3-2.3-.3-1.9 .8-.3 1.5 1.1 2 1.6 .8zM484.6 396l-7 .3-6-1.7-4.5-.3-8.9-3.8-6.1-6.6-3.8-6.4-5.7-3.3-3.5-1-.7-2.2 .6-4-1.6-7-.3-9.5-1.4-4 3.8-6.5 .9-5 .9-1.5 5.3-2.3 4-3.8 3.2-.9 2.9-3 5.4-2.2 5 .3 6.5-3.2 11.7-2.9 7.3-2.7 7 0 5.5-1 4.5 .3 4.5-1 5 .7 2.5-2.1 1.5-.4 5.5 1.9 7 1.2 4-1.9 2.5-4 2.5-1.1 5 1 4 2 1.5 .1 .7-1.5-.5-4 1.3-2.1 7.5-.4 7-5.1 5.5-.6 13-3.6 9.5-.8 5.5 2.1 5.5-.5 6 1 4.5-.1 14.8 5.6 2 2.5 .7 3.5 1.5 2.8-.2 1.7-2.5 2.5-.7 2 .6 3 2 4-.1 2-3.1 5.8-3.5 1.1-1.3 2.6 .2 2 2.6 4.6 5 .5 3.5-2.4 11 4.2 7-.5 10 1.3 7 4.2 1.6 2.6 0 8.5-1 3.5-3.1 2.9-12.5 7.5-6 .9-12.5 0-10-1.9-5-1.9-5 0-6 1-4.7-3-3.3-.6-2 .5-3.5 2.6-6-1.4-4.5 3.1-9 1.7-5 1.8-5.5 .4-10 2.5-5.5 .6-9.5-1-8.5 3.4-5 .8-4.5 2.2-1.5-.2-4-3.3-7 1.3-6-.4-6.5-1.6-.8 1.6 1.2 3 0 1.5-2.9 2.4-2 2.7-4.5 1.7-5.5 3.4zM595.4 359l1.5-1.5-.4-1.5-1.9-.8-2 .6-.5 1.2 .3 1 1.5 1zM482.1 395.5l-5 .2-5.2-1.7-5.3-.6-7.4-3.4-2-1.5-2.5-5.5-3.1-2.8-2-4.4-4.4-2.3-3.1-7.3-2.9-4.7-1.4-15.5 4.7-11.5 4.6-1.8 3.5-3.2 3.5-1.3 3.5-3.8 5-1.5 4.5 0 6.5-3.6 11-2.7 8-2.9 7.5 0 5-.9 4.5 .6 4.5-1 5 1 1.5-.5 2-1.9 1.5-.3 4 1.7 4 .8 3.5 1.9 2.5-2.2 3.5-1.8 1.6-3.1 1.4-.8 5 1.1 5 2.8 2.4-.1 2.6-3-2.2-3.5 .5-2 6.7 .5 2.5-1.5 4.8-5 11.2-2.4 5-1.8 10.5-1 5.5 2 6.5-.6 10 .9 13 4.9 1.7 1.5 .6 1.5-.1 3.5 1.2 3-2.3 4 .7 10-1.8 2.4-3.5 2.3-.7 1.8-.3 4.5 1.9 5-.2 5.5 1.8 .4 3.5-2.1 3.5-.7 2.5-1.7 1.5-.3 9 2.7 7.5-.6 10 1.7 6 3.4 1.5 2.2-.8 9.5-2 4-12.2 7.1-5.5 1.7-13.5 .2-15-4.3-5-.1-5 1.3-6-3.3-4.5-1-4.5 3.2-5.5-1.3-5 4-13.5 3.5-5.5 .3-11.5 2.9-4.5 .2-9-.8-9 2.8-5 .2-4 2.5-1.5-.5-1.5-2.1-1.5-.8-9 0-4.5 .9-2.5-.7-3-2.3-1.5-.4-2.6 2.8 .2 5.5-3.6 5.2-8.5 5.3zM589.3 352.5l-.2-1.8-1-.9-.5 1.7 1 1.2zM613.3 353l.8-1-.3-1-1.2-.7-1 .3-.5 .9 .4 1zM583.7 356l.1-1-1.2-.9-2-.6-.7 .5 1.2 2 1.5 .4zM596.3 360l2.1-2.5-.8-2.2-3-1.4-4.8 .1-.3 2.5 1 2 3.1 1.7zM480.6 395l-3.5 .1-5-1.7-5.5-.8-6-2.9-2.3-1.7-.9-2-.3-5.1-4.3-2.9-2.6-7.5-4.6-1.9-1.3-2.1-1.2-4.1-2.9-2.9-.7-6 .2-8.5 3.6-9 4.8-1.9 3-2.7 4-2.4 3.5-3.8 4-1.1 5 0 3.2-2.6 2.8-1.4 7.5-1.6 11.5-3.9 12.5-.8 4.5 1 5-1.1 4.5 1 4-2.4 1.5-.2 7 2.4 4 4.1 2 .6 1.1-1.2 .4-3.6 3.9-1.9 2.4-3 3.7 .4 6.5 3.1 2.5-.2 3.5-1.4 3.6-3.4 2.3-4 3.1-3 1.8-3 1.2-.7 16.5-4.6 8.5-.5 5.5 1.8 6.5-.6 9.5 .9 12.3 4.7 1.3 1 .7 1.5-1.6 9 .2 11-.9 1.7-3.4 2.8-.6 1.5-.3 6 1.7 4.5-1.7 6 .6 1.5 3.7 0 4.5-1.8 3.9-.7 3.6-2 9 1.6 7-.7 11 2.5 4 2.2 1.7 2.4-.8 6-1.4 5-1.2 2-4.3 2.7-13 5.4-12.5 .1-15-4.5-5-.3-5 1.1-8.5-4.5-1.8-3.5-.7-.3-1.5 1.1-.7 3.7-1.8 2-1.5 .2-3-1.3-1.5 0-3.8 4.1-2.2 1.2-12.5 3.2-5.5 .4-9 2.6-6.5 .3-8.5-.7-10.5 2.3-22-1.5-4 .8-2-.6-2.5-2.9-2.5-.2-1.7 1.1-2.1 3-.6 2 .3 4.5-3.6 5-6.8 4.9zM596.1 361.5l4.6-3.5 .2-1.5-3.3-2.8-5.5-2.2-3.5-3.8-1.5-.2-.8 .5-1.7 4.3-5-1.4-1.5 .6-1.2 1.5 .2 2.4 2.2 1.6 3.3 1 4-.3 4.5 2.7zM612.2 356l2.8-1.5 1.3-2.5-.9-2.5-2.3-1-3.5 .6-2 2.9 2 3.9zM479.1 394.5l-12-2.6-7.1-3.9-.9-2 .1-4.5-.6-2-4.5-3.4-2.8-7.1-5.2-2.5-1.3-5.5-2.8-2-1-1.5-.4-4 .8-5-.3-4 1.5-4.5 1.5-2.1 3.5-1.8 7-5.1 4.5-4.7 3.5-1 5 .1 3.9-3.4 2.6-1.3 6.5-1 9.5-3.6 5-1 9.5-.4 5 1.4 5-1 4.5 .9 5.5-2.8 5.5 1.9 5.3 4.9 2.7 .6 1.6-1.1 1.9-2.5 3.5-1.2 2.6-3.8 1.9 0 5.5 2.1 7-.2 5.5-5.3 2.3-4.1 3.7-2.9 1.6-3.1 3.9-1.9 10.5-3 8.5-.6 5.5 1.6 7.5-.5 9 .9 7.5 2.6 5 3.4 .2 3-1.6 6 .2 11-.7 1.5-3.1 2.9-.6 2.1-.5 6 1.5 4.5-.9 2.2-1.5 1-7.2 .8-1.3 1.2-1.4 3.3-1 .5-14.1 1.3-1.3 1.2-.4 2-.8 .3-4-.9-5-4.3-2.5-.6-1.6 1-1.4 2.8-3.5-.7-1.5 .2-5.4 5.2 .2 1.5 2 1.5 10.7 2 8.5 3.4 .2 2.1-2.4 3-12.8 3.7-6 .6-8.5 2.5-7.5 .3-8-.6-10.5 1.8-10-1.3-5 .2-10.5-1-3.5-3.2-4.5 .4-2.3 1.1-3 4 .3 7-1.8 3-3.8 4-4.9 2.7zM654.6 369.5l-11-.1-4-1.7-11-2.9-5-.5-5.5 .6-4.6-2.4-1.6-2.5 5.4-6 3.2-6 2.6-2.2 3.5 2.1 1.5 .2 7.5-2.8 5-.8 4-2 8.5 .8 6-.7 4 .5 7.5 2.2 4.3 2.2 1 1.5 0 2.5-3.4 10-4.4 2.8zM496.6 371l3-2.2 2-2.8-.1-2-1.9-1.7-1-.2-1 .9-2 4.9-.4 2.6zM481.6 393.5l-4.5 .3-8.5-2.3-6.8-3.5-1.3-2.5 .2-5-.5-2-4.6-4.4-3.3-5.6-5.2-3.5-1-5.5-3-2-1-1.5-.2-3 1-4.5-.6-4.5 .9-3 1.4-1.5 10.5-7.1 4.5-4.8 3.5-1.1 5-.1 6-4.7 6-.7 9.5-4.1 3.5-.7 11-.6 5.5 1.7 5.5-.7 3.5 .7 1.5-.3 3.5-2.6 1.5-.1 4 1.5 5.5 4.8 3 1.1 8.2-3.7 3.8-3.6 12.5 1.4 1.5-.7 5.6-5.6 2-3.5 3.9-3.5 3-4.5 12-3.6 8-.6 5 1.4 8.5-.4 8 .8 7.5 2.9 3.9 3 .4 3-1.8 4.5-.1 11.5-3.3 5.5-1.8 7.5 .2 3.5-3.9 2.5-4.6 1.9-1.6 3.1-1.3 1-5.1-.2-3.5 1.2-4.5 .5-4.5 2-2-.5-5-3.3-3-.2-3 1.4-4 .8-8.9 6.8 0 2 3.5 2.5 11.4 1.8 8 3 .8 1.7-1.8 2.5-12 3.6-6 .7-9 2.5-15.5-.2-10.5 1.4-9.5-1.5-5.5 .1-7.3-1.6-4.2-4-6 .8-1.8-.3 0-2 2.7-3 .4-1.5-1.5-4.5-2.3-1.1-2.5 1.5-4 1-4.3 9.1-3.6 4 5.9 3.2 2.8 2.3 1.6 3.5-.6 3-3.9 5-2.9 2.3-3 .9zM652.1 369l-8-.3-4-1.9-11-2.7-11.5-.6-2.6-1.5-.6-2 8.2-10.7 5.7 .2 5.8-2.8 6.5-1.2 4.5-1.9 16.5 .1 12.5 4.3 1 1.5-.1 2.5-3.8 9.5-3.6 2.2-11 4.5zM499.7 351l.6-1.5-.6-2-1.1-.9-1.5 0-.9 1.4 .4 2.1 1.5 1.2zM487.6 373l1.1-.5-1.6-1-1.7 .5 .5 1zM480.1 393.1l-3 0-7.8-2.1-6.4-3.5-1.1-2.5 .5-5.5-.5-2-4.1-5.5-9.1-7.5-.7-1.5-.5-4.5-3.1-4-.9-10.5 .7-2.4 6.5-5.2 5.3-2.9 3.7-4.1 4-1.6 5-.6 5.5-4.4 6-.7 12-5.1 12-.6 5.5 1.9 9 .3 2-.6 3-2.5 1.5-.3 2.9 1.3 6.4 5 3.2 1 9-3.4 4.5-2.9 11.5 1.1 1.5-.7 3-3.6 4.1-3 7.9-11.5 11.5-3.4 7-.6 5.5 1.3 8.5-.4 8 .9 6.4 3.2 3.4 3 .2 2-3.3 3.5 1.2 3 0 1.5-2.4 2.6-1.2 2.4 .2 1.5 1.9 3-1.4 6.9-1 1.7-3.6 2.4 .7 3.5-1.1 1.7-6.5 2-8.5 4.8-7 1.4-3-.1-8-2.6-9 1-4.5 5.2-10 5.4-1.7 2.2 .1 2 1.6 .8 5.5-2 6 1.8 5.5 .1 4.5 1 6.9 3.3 .2 1-1.1 1.5-10 3.3-7 1-9 2.4-16-.1-10 1.1-9.5-1.6-5.5-.1-4-1.1-2-1.2-8-8.6-2.5-5.8-5.5-2.8 0-4.5-1-3-2-1.3-2.5-.1-1.4 1.4 .6 4 1.8 2.6 3 1.9-4 3.1-5 10.3-2 1.4-4.5 .3-3.5 2.3-4.9 1.1-1.9 1.5 1.3 .8 6.5-.3 10.5 1.2 4.5 3.3 1.1 2 0 2-3.7 5.5-2.4 2-3.5 1.1zM575.1 340.5l.9-2-.4-1.1-1 .4-1.2 1.7 .7 1.4zM654.6 368l-10-.1-4.5-2.1-6-.9-4.4-1.4-11.6-1.4-1.5-.8-.3-1.3 1.7-3 5.6-5.7 5-.8 6-3.1 6.5-1.3 5-1.7 15.5 .1 3 .9 4 2.3 4.8 1.3 .7 1.3-.1 1.7-3.7 9-4.7 2.7zM478.6 392.5l-9-2.2-6-3.8-.6-3 2.2-5-.2-1.5-3.4-2.6-2.7-3.4-9-7-.9-1.5-.4-4.2-2.7-4.8-1.2-9.5 .4-1.5 5.5-4.9 6-3.1 3.5-3.2 4-2.2 5.5-1.5 4.5-3.4 5-.5 10.5-5.3 2.5-.7 11.5-.4 5.5 1.9 9 .6 2.5-.5 3-2.4 1.5-.4 3.8 3 8.2 3.7 9.5-2.8 6-2.7 2.5 0 4 1.2 4-.2 1.5-.8 3.4-3.9 6.2-4.5 5.8-10.5 11.6-3.3 6-.5 5 1.2 9.5-.4 7 .9 3.4 1.6 2.9 3.5 .3 1.5-2.6 4.5 .9 5-1.9 5.5 1.9 4.5-.1 3.5-1.3 2.5-4.4 3.5-.5 1.5 .4 2.5-1 1-5.1 1.5-8.9 5-6 1.2-5.5-1.7-12.1-1.5-1.1-1-.3-4-1-1.9-2-.8-3 1.9-1 0-.7-.7-.3-3-2-1.5-1.5 0-1.5 2.9-1.8 1.6-.1 1 2.4 1.4 2 3.1 4.3 3.5 .9 2.5-1.3 2-4.9 1.7-5 3.7-1.8 3.1 0 2.5 3.3 1.3 6-1.5 6 1.3 6-.1 4 1.3 4.2 2.7 .2 1-1.1 1-5.8 2.2-18 4-17 0-9 .8-9.5-1.8-5-.3-2.8-1.4-5.2-4.1-2.5-4.4-3.5-2.5-.4-2 .8-4-3.9 .1-2.5-1.3-2.4-7.8-8.1-3.7-1.5 .2-.6 1 .1 2 4.1 10-5.8 12.5-1.3 1.1-5 .7-11.3 4.7-2.5 2-1.1 3 12.4-1.5 10 .7 2.1 .8 2.5 2 1.1 1.5 .1 2-2.9 5-2.4 2-3.5 .9zM565.3 345.5l-.2-1.1-.6 .6zM653.1 367.5l-7.5-.4-5.5-2.3-5.5-.6-13.5-2.8-2.3-.9-.4-1.5 1.6-2.5 4.6-3.9 5-1.6 5-2.8 12-3.1 15 .3 10.7 5.1 .2 2.5-2.2 6-1.2 1.7-3.5 2.2-7.5 3.3zM542.1 373l-4.5 .1-8.5-2-4-.3-1.5-.7-2.2-3.6-.2-5.5-1.1-2.8-1.5-.8-5 .8-1.1-.7 .7-5.5-.8-2.5-1.8-.6-4 1.5-1.2-.9 0-2 2.4-4.5-.2-2.6-2-.7-3.5 1.7-1.5 0-7.5-2.8-2.9 .9-.9 2.5 .8 3 3.4 6 .4 2.5-6.6 11.5-5.2 2-6.5 3.7-7 1.1-3.5 1.3-1.5-.1-10.5-7.3-2.5-2.7-1-5-2.1-3.5-1-3 .1-8 4.5-4.8 5.5-2.8 8-5.6 5-1.8 4.5-2.8 4.5-.5 12.5-6.6 12-.5 5.5 1.9 7.5 1.1 7-1.1 3.5 1.4 4.5 .4 6 2.1 15.5-3.4 1.2 .5 1.7 3.5 2.1 .9 1.6-.9 1.4-3.3 4-1.2 3.5-4.4 8-5.2 3.7-9.4 1.8-1.7 10-2.9 5-.6 6 1.3 11-.3 6 1.1 2 1.2 1.3 2.9-1.5 6 1.1 5.5-1.8 5 1.8 5 .1 2-.9 2-5.1 5-1.3 3-1.2 1.2-13 6.6-4.5 .6-4-1.6-11.1-1.8-1.1-1-1.1-3.5-1.7-2.3-12-6.1-1.3 .9-1.2 4-3.7 3 .2 2.4 3.1 2.6-.5 4 1.7 5-.7 1.5-3.5 3.5-2.4 5 .1 1 5.2 1.5 6.5-1.3 6 1.1 6.5 0 4.8 2.2 1.1 1.5-.4 1-5 2.4-16.5 3.7zM654.6 366.6l-7-.1-7-2.5-6.5-.6-9-1.9-4-1.4-.8-1.6 .8-1.5 3.5-2.9 9.5-4.9 13-3.3 6 .4 5-.5 3.5 .5 2.5 1 6.5 4.6 .3 1.6-1 4-1.8 2.8-4 2.5zM480.6 391.5l-4 .2-6.5-2-4.9-3.7-.3-2.5 .7-.6 3.5-.2 3.5-3.6 4.5-1.5 4.5-.1 9 1 2 .7 2 1.8 .7 1.5-.1 1.5-1.6 3.5-1.5 1.7-3.5 1.4zM598.6 342.5l-10.5-1.7-4.5-2-5.5-6.2-14.1-8.6 4.6-7.3 9.5-5.7 1.3-4 1.6-2.5 .3-3 1.5-1.5 8.8-2.9 4.5-.6 6 1.2 10.6-.2 6.9 1.8 1.4 2.2-1.1 5.5 1.2 6.5-1.7 4.5 1.6 5.5-.3 2.5-8.1 9.9zM540.6 372.5l-2.5-.1-12-2.9-1.5-1-1.1-2.5-1.9-9.2-1.2-.8-5.3-.8-1-6.2-3.8-3.5-.4-5-1.1-1.5-1.7-.8-2-.1-5 1.2-8-1.9-2.5 .5-1.8 1.1-.4 1.5 .7 3.5 3.6 7 0 2-6.1 6.1-2.5 5.4-6.5 4.7-2.5 1-5-.3-6 .7-2.5-1.3-3-2.8-4-1.9-1.7-2.1-1.1-4.5-2.7-4.5-.7-2.5 .2-2.5 1.9-5.5 2.5-3 14.1-9 7.5-3.6 5-.6 5-3.8 8-3.7 11-.4 11 3.7 8.5-1 4 1.3 5 0 5.5 1.7 8-1.6 5.5-.2 6 4 5.5 .2 .5 2-.4 2.5-3.3 3-.8 2 2.6 6.5 1.6 6.5-2.7 3.2-2.5 4.4-4 2.4 .1 1.5 2.4 .9 7.5 .7 6.5-1.2 6.2 1.1 5.8-.2 3.9 1.7 1 2-1.4 1.4-2.5 1-16.5 3.6-13 .4-7.5-.5zM652.6 366l-4.5-.4-8.5-2.7-5.5-.3-8.5-1.6-3.1-1.5-.5-1.5 3.6-3.3 9-4.9 12.5-3.1 5.5 .5 8-.3 3.5 1.5 4.6 3.6 .8 1.5-.2 2.5-.7 2.1-1.5 1.8-9 4.8zM479.1 391l-3-.1-4-1.2-2.2-1.2-1.2-1.5 0-1.5 4.9-5.8 3-1.2 5-.3 8.5 1.6 2.5 1.7 .8 3.5-2 3.5-3.3 1.3zM597.6 341l-9.9-2-7.4-6.5-12.2-7.9-.7-1.6 .5-3.5 1.7-2.4 4.5-2.6 6.5-3.2 4-.7 1.5-1 .2-1.6-2.4-3-.7-2 .3-1.5 1.4-1 6.7-2.7 4-.7 6.5 1.2 5.5-.5 6.5 1 2.8 1.7 1.4 2.5 .2 5 1.1 4.5-1.6 4.5 1.4 6-.3 3-1.8 3-3.7 3-2.4 3-9.1 4.8zM565.6 371.5l-13.5 .5-7.5-.8-5.5 .6-5-2.6-7.3-1.7-2.4-4-.9-8-1.4-1.1-4-.2-1.3-.7-1.4-4.5-2.5-4.5-1.1-4.5-2.2-1.9-2.5-1-7.5 .7-7-1.4-5.5 .2-4-.8-1.5 .5-.6 1.7 .6 2.3 4 2.7 2.7 5.5 .5 3-1.2 2.5-3.5 3.1-2 6.3-6 4.7-2 .9-4-.7-5 .8-2.5-.3-1.5-.8-2.5-3-4-1.6-5.3-9.9-.8-4 3.6-7 7-5.3 13-7 3.5 .3 2.5-1.1 5.5-5.5 8-3.8 11.5-.3 6 2.4 3.5 2.6 8.5-2 5 1.3 5-.1 5.5 1.3 7.5-1.4 4 .2 5.9 3.4 5.1 1.6 1 1.4-3.3 4-.6 2 3.5 9.5 .3 2.5-4.3 7-4.1 .7-1 .8-.9 3 .4 1.5 5 1.2 8.5 .3 6-1 6 1.2 5-.3 2.5 .7 1.6 1.4-.3 1.5-2.3 1.3zM654.1 365l-4.5 .1-10.9-3.1-5.1-.2-7-1.3-2.2-1-.7-1.5 1.7-2 4.7-3.1 5-2.6 5-1.4 7.5-1.4 5 .6 6.5-.6 3.5 1 5.3 4.5 .5 2-.6 2.5-1.7 2-3 1.9-5.5 2.8zM481.1 390l-5 .2-5.2-2.2-.5-1 .2-1.5 3.4-5 2.6-1.2 4.5-.4 7.5 1.8 2.2 1.3 1 3-1.2 2.6-3 1.4zM598.1 339.6l-8.6-1.6-12.9-10.3-3.5-1.3-3.3-2.4-1.1-2 .3-2.5 1.1-1.6 4-2.2 7-3.2 4.3-1 2.5-1.5 .4-1.5-2.8-4-.3-2 .9-1.1 4.6-2.4 5.9-1.2 5 1.1 5.5-.5 5.5 .9 2.6 1.7 1.5 3 0 4.5 1.2 4-1.2 4.5 1.3 5.5-.6 4-1.3 2.1-10 8-4 2zM554.1 371.5l-9-1.1-5.6 .6-1.9-1-2.5-4-4.5 .3-2.5-.9-2-2.7-1.4-8.2-2.1-1.5-4-.7-1-1.2-2.4-5.6 1.1-4.5-.4-1.5-1.2-1-7.6-2.3-7.5 .4-9-1.6-11-.8-.4 1.8 1.1 5.5 5.8 6.3 .8 3.2-.8 2-3.3 3.5-1.6 6-6.6 4-3-.3-6 1.5-3-.6-2.5-2.8-5-2.9-4.8-8.4-.6-3 3.8-6 6.9-6 5.7-2 5 .9 7-3.1 2.5-3.2 3-5.6 8.5-4.2 11-.1 4.5 1.9 2.5 2.9 1.5 .6 9-2 16 1.9 6.5-1.2 3 .1 2.5 1.1 2.5 2.5 4 1.1 1.9 1.4-2.6 5.5 3.9 10.5-2.7 6.3-1 .7-3.5 .2-1.5 .8-3 5.5 .1 1 1.9 1.1 4.5 .7 10 .2 6-.9 6.5 1.3 5-.2 2 .6 1 1.2-.5 1-2 1-14.5 3.4zM655.1 364l-5 .3-11.5-3-7-.5-5-1.2-1.3-1.6 1.5-2 3.3-2.5 9-3.8 8-1.4 5 .7 6.5-.6 2.5 .4 5.4 4.2 .7 2-.3 2-3.8 3.4-4.7 2.6zM479.6 389.6l-4.5-.4-2-.9-1.2-1.3 1-3.5 2.2-2.7 3-1 3.5-.1 6.1 1.8 2 1.5 .6 2.5-1.2 1.7-2.5 1zM600.1 338.1l-3 .3-2.5-.5-3-1.3-2.2-2.1-4.3-1.4-5.5-5.1-2.5-3.4-4-.3-2-1.1-1-1.3-.2-1.9 1.1-1.5 1.6-1 17.9-7.5-.1-1.5-3-3.5-.5-1.5 .8-1.5 3.4-2.2 5.5-1.4 5.5 1.2 4.5-.6 3.4 .5 4 2 1 1.5 .3 2-1.2 2.2-4.5 1.3-1.2 1 5.7 1.5 1.6 1 .4 1.5-.8 5 1.1 3.5-.1 2.5-1.5 3-9.7 8.5zM539.1 360.6l-2 .3-4.5-1.6-4.5-.4-2.6-5.4-6.4-3.2-2.2-4.3 1.3-5.5-.5-2-1.2-1.5-10.4-1.7-6.5 .2-9-2.3-6-.3-1.5-.9-.3-1 1.3-5 1.7-1.5 6.3-2.8 9-.5 5 1.8 2.5 3.4 1.5 .6 10.5-1.9 15.5 1.6 7-1 3 .5 1.1 1.3 .1 1.5-2.2 5 2.5 1.2 5.7 4.3 2.9 7 .2 1.5-1.8 3.8-5 1.5-3.5 3-5.2 2.2zM466.1 366.5l-2.3-.5-2.5-2.5-5.2-2.9-4.5-8.1-.2-2.5 3.3-4.5 3.4-2.5 4-4.3 7.8-.2 6.7-2 1.5 1.5 1.9 6 5.1 5 .1 2.5-3.4 4.5-.8 4.5-.9 1.4-2.5 .9-4.5-.1-4.5 3.2zM652.1 363.5l-2.5-.1-4-1.4-8-1.5-7.2-.5-2.9-1-.6-1.5 2.7-3 5.5-2.8 4.5-1.5 6-1 7 .7 7-.5 2.4 1.1 2.8 2.5 1 3-1.7 2.5-6.5 3.9zM555.6 371l-5.5-.1-5-1.3-4.5 .5-1.5-.4-.9-2.2 1.8-6 1.1-.2 3.5 2 2 .4 16.5 .3 6.5-.9 6 1.6 5-.1 1.4 .9-1.9 1.4-13 3.4zM481.1 388.6l-4 .3-3.3-1.4-.6-2 1.9-3.5 2.5-1.3 3.5-.4 5.5 1.8 1.9 1.4 .3 1.5-.9 1.5zM599.6 337.1l-3.7-.1-4.8-3.9-5.5-1-2.3-2.1-4.3-7-2.4-1.1-4 .2-1-.9-.1-1.2 1.1-1.1 9-4.7 11-3.2 .7-1-.2-1-4.4-5 .5-1.5 2.6-2 4.8-1.4 5.5 1.1 4-.6 2.5 .3 3.7 1.6 1.5 2.5-1.1 2-5.6 1.8-1.9 1.7 1.7 1.5 5.7 1.3 1.7 1.2-.5 4-2.9 5 1 4.5-1.5 2.5-6.3 5.8zM536.1 358.6l-7-1.4-2.5-4.2-5.8-4-1.7-3 .4-6.5-.8-2-1.6-1.5-2.5-.8-14-.8-6-1.8-3.5-1.9-5 .6-1.5-1.7 .6-3.1 1.4-1.2 5.7-2.8 8.8-.4 4 1.6 1.5 3.5 1.5 .8 12-2 16 1.4 6.5-.7 1.8 .3 .8 1-.1 1-3 3.6-.2 2.4 1.2 1.2 5 1.2 2.4 2.1 1 2 1.3 7.5-.9 1.5-5.3 3.5zM467.6 365l-2.5 0-2.9-2.5-5-2.5-4-7.5-.1-2 2.5-3.5 3.9-2.5 3.1-4 6-.5 7.5-1.9 1 1.2 2 5.7 4.5 4.3 .1 2.2-2.9 4-1.7 5.3-2 .4-4.5-.7zM653.1 362.5l-3 .2-12-2.7-6.5-.3-2.5-.9-.9-1.3 1.2-2 2-1.5 8.7-3.4 6.5-.8 6 .8 6-.2 2 .6 3 3.5 .4 1.5-.5 1-5.4 4.1zM556.1 370.5l-6-.1-5.5-1.8-3.5 .2-1-1.3 1-1.9 1.5-.8 20.5-.4 5.5-.8 3.5 .6 3.1 1.8-.4 1-1.7 1-5.5 1.7zM480.1 388l-3.5-.1-2-1.4 .3-2.5 1.9-2 2.3-.8 2.5-.1 4 1.7 1.5 1.2 .1 1-1 1zM598.1 308l-2.5 .4-2.5-1.6-2.2-2.3 .3-2 3.1-2 3.3-.6 4.5 1.1 5.5-.5 3 1.3 1.5 1.7-1 1.7-6.5 2.3zM598.6 336l-2.6-.5-3.4-3.6-5.5-.3-2-1.1-1.5-2.5-.3-3.5-6.1-4.5-.3-1 .7-1 4.5-3.3 5.5-1.6 4.5-.5 4-1.9 4 .7 4-.1 8 2.3 .8 1.4-.4 1.5-4 5.5 1.5 4.5-.4 2-7 6.1zM536.1 357.1l-2 .1-3.6-1.2-2.7-3.5-3.9-3-.9-1.5-.1-4-1.6-4.5-1.3-2.5-1.9-1.5-3-1.1-5 .1-8.1-1.5-.8-1 0-2.5-2.1-1.4-5 1.2-4-1.5-2.5 .2 0-.8 5-3.8 8.5-.2 2.7 1.3 .3 4.5 1.5 .7 14-2.9 22.5 1.6 .1 1.1-2.1 4 0 2 2 2.2 4.5 .5 2.1 1.3 .7 1.5 1.3 8-1.2 2-2.4 1.7zM467.1 363.5l-1.5-.1-7.6-4.4-2.9-6-.1-2.5 1.3-2 3.8-2.4 3.5-4.1 11-1.8 1 .7 3.5 6.1 2.6 2.5 .2 2-2.7 4-1.4 3.5-5.2-.3zM653.6 361.6l-3.5 .3-4.5-1.3-13.5-1.5-2-.7-.7-1.4 2.7-2.7 8.5-3.2 6-.6 12.6 1.5 1.7 3-.4 2.5-2.9 2.8zM556.6 370l-7-.2-2.5-1.3-1.2-1.5 1.2-1 3.5-.9 12.5-.2 5.5-.8 3 .6 1.8 1.3-.9 1.5-4.9 1.7zM480.6 387l-2.5 .2-1.7-.7-.5-1.5 .8-1.5 1.9-1.3 2-.4 3.8 1.7 .2 1.5zM598.1 306.5l-2 .2-2-1-1.2-1.7 .5-1.5 2.2-1.4 2-.4 4.5 1.2 5-.5 2.5 1.6-.7 1.5-3.8 1.5zM599.6 334.1l-2.5 .1-4-3.7-5.4 0-1.6-.7-1-2.3 1.6-4.5-6.6-2.3-1.3-1.7 .6-1.5 3.7-2.4 4.5-1.3 4.5-.3 4-1.4 8.5 .3 6 2.1 .1 2-3.9 5.5 1.7 4.5-.2 1.5zM495.6 327l-2.5 .1-1-1.6 1.5-1.2 2 .3 1.1 .9zM536.6 355.6l-2 .4-2-.7-7.2-6.3-.3-2.5 2.8-4.5-.8-2.1-5-3.9-6.5-2.2-7-.7-1.2-1.1 .3-1 3.4-1.7 8.5-1.8 12 .7 7.5 1.7 .2 1.1-1.2 4 .5 2 3 3.1 4-.4 1.5 .7 2.6 8.1-.9 2-2.2 1.6zM467.6 361l-2.5 .1-5.8-3.1-1.9-3-.5-4 7.7-8.1 5-.9 4 .3 3 2.7 2.8 5 .2 1.5-2 2.7-5.5 3zM651.6 361.1l-5.5-1.2-13.5-1.4-1.4-.5-.6-1 .9-1.5 1.5-1 8.6-2.9 5.5-.4 10.9 2.3 1 2.5-1.1 2.5-2.1 1.5zM556.6 369.5l-6-.1-1.9-.9-.6-1.5 4-1.4 10.5-.1 5.5-.8 2.5 .3 1.4 1-.9 1.5-4 1.3-6-.1zM481.1 385.7l-2.5 .1-.5-1.3 1.5-1.4 2 .1 .8 1.3zM598.6 305l-2.5 0-1-1 .1-1 1.2-1 1.7-.3 3 1.8-.8 1zM599.6 331.6l-2 0-3.5-2.7-6.5-.2-.5-1.7 2.4-3.5 .1-1.5-2-1.1-6-.3-1.5-1.6 .4-1.5 3.6-2 4-1.1 4-.2 4.5-1.4 7.5 .5 4 1.3 .8 .9-.1 1-3.9 4-.6 1.5 .1 2 1.7 2.4 0 1.1zM538.6 353.5l-3.5 .4-1.4-.9-.4-1 3.2-3 .5-2.5-1.9-1.9-3.3-1.1-1.3-3.5-2.4-3-4.8-2.5-12.7-1.9-.9-.6 .3-1 3.3-1.5 6.3-1.4 11.8 .9 4.7 1.7 .6 1.3-2.1 3-.1 1.5 3.3 3.5 1.3 3 1.5 .8 4.5-.7 2.5 2.3 1.2 2.6-.6 2-1.6 1.3zM467.1 359.7l-2.5-.1-2.4-1.6-2.9-3.5-.3-3 6.1-7.6 4-.8 4.5 .8 2.7 2.6 .9 4.5zM532.1 351.1l-2-.5-2.3-1.6-.6-1.5 .6-1 1.8-.9 1.4 .4zM651.6 360.1l-18-2.3-1.1-.3-.5-1 1.6-1.4 4.5-2.1 6.5-1.2 3.5 .3 8.5 2.7 .6 1.7-.6 1.5-1.5 1.1zM554.6 369l-3.5-.3-1.3-1.2 1.8-1.1 5.5-.6 5 .5 6-1 1.5 .3 .8 .9-3.8 1.7-5-.4zM599.1 321.2l-2.5 .2-4.5-1.3-4-.4-5 .3-1.2-.5-.6-1 .5-1 1.8-1.1 4-1.1 4.5-.2 4.5-1.5 7.5 .9 2 1-.4 1.5zM528.6 334l-10-.8-5.4-2.2 2.7-1.5 3.7-.7 9 .7 3.7 1.5-.8 1.5zM466.1 358.5l-2.3-1-2.5-4-.4-1.5 .6-1.5 2.8-4.5 1.8-1.5 3-.3 4.5 1.1 1.8 2.2 0 3-4.2 3.5-3.1 3.7zM544.1 351.6l-4 .2-1-.3-.5-1 1.5-4 2-1.4 2-.4 2.9 1.3 1 2.5-1.3 2zM652.6 358.5l-11.5-.2-6.7-1.8 .7-1 4-2.2 7.5-.7 3.1 .9 4.8 2.5 0 1.5zM556.6 368l-3.3-.5 3.3-.7 2 .2zM598.6 319l-2.5 .3-4.5-1.1-7.5 .2-.3-.4 3.7-1.5 4.1-.2 4-1.8 2-.2 3.1 .7 1.3 1-.9 1.5zM527.1 332.6l-8.5-.2-2.4-1.4 1-1 1.9-.5 7 .6 2.2 .9-.2 1zM466.6 356.7l-1.7-.7-1.5-3.5 1.6-5.5 1.1-1.2 1.5-.5 5.5 1.4 1.1 1.3-.2 2zM545.1 350.6l-2.5 .3-1.8-.9 0-2 1.1-1.5 2.7-.8 2 1.1 .4 2.2zM643.6 357.6l-4.5-.5-1.4-.6-.3-1 2.7-1.7 5-.5 3 .6 1.8 1.6-.1 1-.7 .4zM597.1 318l-2.3-.5-.4-1 2.2-1.3 2.8 .8-.3 1.1zM467.6 353.1l-1.1-.1-.9-1.5 .8-4 2.2-.8 3.5 1.2 .5 1.1-.7 1.5zM544.1 350l-1.5-.2-.7-1.3 1-1.5 1.7-.4 1.4 .9 .2 1zM643.1 356.5l-2.4 0-1-1 3.4-1.1 3.4 .6-1 1zM469.1 350.6l-1.3-.6 .8-1.2 1.5 .7z"/>
<path fill="#29a9e0" fill-rule="evenodd" d="M77.5 644.5l-4-.3-4-1.8-3.5-2.7-2.2-3.2-1.2-4 0-4 3.8-12-1.5-2-6.4-3.3-5.5-3.8-3.2-3.4-1.1-4 0-5.5 .6-3 2.4-4.5 6.1-7.5 3.7-2.9 8-4 13-3.9 28-3.7 7 .6 6 2.3 5.9 5.1 2.6 6-.6 7-3.2 7-6.5 8.5-7.2 5.2-10 5.7-11.3 3.1-3.2 1.6-.8 2.4 2.4 10-1.7 7-1.9 3-2.5 2.2-4 1.9zM89.5 608.1l-6.5 .3-10-1.3-3-1.1-5.4-3.5-2.1-2.5-.9-4 .4-4.5 1.4-3 3.1-3.1 7.5-5.7 9.5-3.2 7-1 19.5-5.1 6 .6 5 3 2.8 3.5 1 3-.8 4-2.5 4-7.5 6.8-10 7.8-4.5 2.2zM78.5 639.1l-3.5-.1-3-1.3-3-2.7-1.3-3 0-3.5 1.5-3.5 2.7-3 3.1-1.4 3.5 .3 4 1.8 2.1 2.3 1.1 3 .2 4-1.3 3.5-2.6 2.3z"/>
<path fill="none" stroke="#29a9e0" d="M77.5 644.5l-4-.3-4-1.8-3.5-2.7-2.2-3.2-1.2-4 0-4 3.8-12-1.5-2-6.4-3.3-5.5-3.8-3.2-3.4-1.1-4 0-5.5 .6-3 2.4-4.5 6.1-7.5 3.7-2.9 8-4 13-3.9 28-3.7 7 .6 6 2.3 5.9 5.1 2.6 6-.6 7-3.2 7-6.5 8.5-7.2 5.2-10 5.7-11.3 3.1-3.2 1.6-.8 2.4 2.4 10-1.7 7-1.9 3-2.5 2.2-4 1.9zM89.5 608.1l-6.5 .3-10-1.3-3-1.1-5.4-3.5-2.1-2.5-.9-4 .4-4.5 1.4-3 3.1-3.1 7.5-5.7 9.5-3.2 7-1 19.5-5.1 6 .6 5 3 2.8 3.5 1 3-.8 4-2.5 4-7.5 6.8-10 7.8-4.5 2.2zM78.5 639.1l-3.5-.1-3-1.3-3-2.7-1.3-3 0-3.5 1.5-3.5 2.7-3 3.1-1.4 3.5 .3 4 1.8 2.1 2.3 1.1 3 .2 4-1.3 3.5-2.6 2.3zM89.5 607l-6.5 .2-8.5-1-3.5-1-4.2-2.7-2.4-2.5-1.1-3.5 .3-4.5 1.6-3.5 3.6-3.5 7.7-5.4 7.5-2.2 12.3-2.4 10.2-3.3 4-.6 4 .2 3 1.2 2.7 2 2.8 3.5 .8 3-.8 3.5-2.3 3.5-17.2 14.2-4.5 2.1zM77 638.5l-3-.6-3.5-2.3-1.6-2.1-.7-3 .4-3 1.9-3.2 2.5-2.1 3-.9 3.5 .7 3.4 2 1.6 2.5 .7 3.5-.4 3.5-1.5 2.5-2.8 1.8zM92 605.5l-5.5 .5-9-.7-5-.9-2.8-1.4-2.9-2.5-1.4-3 0-5 1.4-3.5 2.3-2.5 6.4-5.1 8-2.8 13-2.6 12.5-4 5.5 .2 4.5 2.4 2.5 2.9 1.2 3-.3 3-1.9 3.2-9.7 7.3-7.7 7zM78.5 637.6l-3 0-3-1.4-2.4-2.2-1-2.5 0-3 1.1-2.5 2.2-2.5 2.6-1.2 3 0 3 1.3 2.1 1.9 1 2.5 .3 3.5-1 3-1.9 1.9zM90.5 604.6l-14-.9-6-1.8-2.2-2.4-.8-2.5 .1-4.5 1.4-3.5 5-4.9 3.5-2.2 7-2.4 13-2.6 9.5-3.7 6.5-.3 2.5 .9 2.5 1.8 2.3 2.9 .8 2.5-.4 2.5-1.7 2.7-9.5 6.3-8 7.7-7 3.1zM79 636.5l-2.5 .3-2.5-.7-2.5-1.8-1.4-2.3-.3-2.5 .7-2.5 2-2.5 2-1.2 2.5-.3 3 .9 2 1.6 1.1 2 .4 3-.6 3-1.4 1.8zM91 603.1l-15-1.1-4.5-1.5-1.5-2-.4-3.5 .5-3.5 1.6-3 3.8-3.7 3.5-2 6-2.1 12.5-2.4 9.5-4.1 6-.3 2.5 1 2.1 1.6 2 2.5 .7 2-.5 2.5-1.3 2-10.5 6.5-7 7.2-5.5 2.6zM78.5 635.6l-2.5 .1-2-.7-1.9-1.5-1.2-2-.1-2.5 .7-2 1.5-1.7 2-1.1 2-.2 2.5 .7 1.6 1.3 1.1 2 .3 2.5-.6 2.5-1.4 1.7zM93 601l-5 .4-11.5-1.1-2.8-.8-1.4-1.5-.5-2 .2-3.5 1.2-3 3.3-3.5 6.5-3.2 3-.9 5.5-.2 4-.9 11.5-5.5 5.5-.2 4 2.3 1.6 2.1 .5 2-.4 2-1.2 1.5-11.5 6.5-5.5 6.5zM77.5 634.5l-3.7-1-1.9-3 1-3.5 3.1-1.9 3.5 .9 1.7 3-.7 3.6zM91 599.5l-9-.7-6.2-1.3-1.1-1-.5-2 .9-4.5 2.4-2.4 7-3.8 8 0 6.5-1.5 6-4.6 2.5-1.2 4.5 .1 3.1 1.9 1.5 3-1.6 3-11.5 5.6-4 5.9-1.8 1.5-3.2 1.4zM77.5 632.7l-2.5-.3-1.5-1.9 .4-2.5 2.1-1.4 2 .2 1.5 1.7-.2 2.5zM108.5 585.1l-2.5 .3-1.3-.4-.6-1.5 .5-2.5 1.4-1.9 1.5-.9 3.8 .3 1.9 1.5 .3 2-1.5 1.7zM93 597.1l-10.5-.8-4-2.3-.7-1 .1-1.5 5.1-4.5 2.5-1.3 5.5 .5 5-.4 2 .5 1.8 2.2-1.5 5-2.2 2.5zM94 593l-2.6 0-1.3-1-.2-1 2.1-1.5 2.5-.1 .9 1.6z"/>
<path fill="#29a9e0" fill-rule="evenodd" d="M468.5 763.5l-7.5 .3-11-1-7-1.6-4.8-2.2-2.1-2.5 .8-2.5 4.6-2.7 6.8-2.3 1.9-1.5-1.9-1.5-10.8-3-6-.9-10.5 3.7-10.5 1.2-9.5-.7-7-2.8-2-3 .5-2 1.3-1.5 4.7-2.4 9.6-2.6 1.6-1.5-6.6-8-8.1-4.9-2.3-2.1-2-4 1-3 4.8-3.6 5.5-2.3 7.5-1.1 9.5 .1 14 3.6 17 2 9 1.9 16.5 5.1 9 4 6.1 3.8 6.7 6 5.4 8 3.1 8.5-.1 2.5-.9 2.5-3.3 4-4 2.3-19.5 6.4zM489 751.1l-4 0-8-2.1-3-1.7-6-5.2-8.5-3.1-3-.7-6.5-.1-9.9-2.7-9.6-4.6-4.2-2.9-2.9-3-1.9-4.3-1.5-1.5-4-1.7-10-2.2-4-2.8-.5-2.5 1.3-1.5 2.2-1 5.5-1.3 4 .1 7.5 2 6 4.4 2.5 1.1 8 1.8 7-.7 10 1.4 10.5 3 12.3 7.7 2.4 2.5 2.7 5.5 7.1 3.5 5.3 4.5 .9 2.5-1.2 2.9-2.5 1.6zM413 742.5l-7-.6-2-.9-.5-1 2.5-1.9 5-1 4.5 .4 2.3 1.5 .1 1.5-.9 .9zM467.5 758.6l-5.5 .1-7.4-1.7-1-1 2.1-1.5 4.3-.8 7.5-.2 3.5 1 .8 1-.5 1.5z"/>
<path fill="none" stroke="#29a9e0" d="M468.5 763.5l-7.5 .3-11-1-7-1.6-4.8-2.2-2.1-2.5 .8-2.5 4.6-2.7 6.8-2.3 1.9-1.5-1.9-1.5-10.8-3-6-.9-10.5 3.7-10.5 1.2-9.5-.7-7-2.8-2-3 .5-2 1.3-1.5 4.7-2.4 9.6-2.6 1.6-1.5-6.6-8-8.1-4.9-2.3-2.1-2-4 1-3 4.8-3.6 5.5-2.3 7.5-1.1 9.5 .1 14 3.6 17 2 9 1.9 16.5 5.1 9 4 6.1 3.8 6.7 6 5.4 8 3.1 8.5-.1 2.5-.9 2.5-3.3 4-4 2.3-19.5 6.4zM489 751.1l-4 0-8-2.1-3-1.7-6-5.2-8.5-3.1-3-.7-6.5-.1-9.9-2.7-9.6-4.6-4.2-2.9-2.9-3-1.9-4.3-1.5-1.5-4-1.7-10-2.2-4-2.8-.5-2.5 1.3-1.5 2.2-1 5.5-1.3 4 .1 7.5 2 6 4.4 2.5 1.1 8 1.8 7-.7 10 1.4 10.5 3 12.3 7.7 2.4 2.5 2.7 5.5 7.1 3.5 5.3 4.5 .9 2.5-1.2 2.9-2.5 1.6zM413 742.5l-7-.6-2-.9-.5-1 2.5-1.9 5-1 4.5 .4 2.3 1.5 .1 1.5-.9 .9zM467.5 758.6l-5.5 .1-7.4-1.7-1-1 2.1-1.5 4.3-.8 7.5-.2 3.5 1 .8 1-.5 1.5zM488 750.6l-4-.3-7.5-2.4-2.9-1.9-4.1-4.3-2.5-1.3-9-2.8-7.5-.1-7-1.7-7-3.9-5-1.6-3.5-2.3-2.4-2.5-1.5-5.5-1-1.5-4.7-1.5-10.9-1.8-4.1-2.7-.8-1.5 .1-1 1.7-1.5 3.2-1 3.9-.8 3 .1 7.5 2.5 5.5 5.4 1.5 .7 5 .2 5 1.1 8-.9 9.5 1.4 8 2.5 6 3.3 7 5 1.4 2 .7 4.5 .9 1.3 8.5 2.8 5.7 4.4 1 2.5-1 2.5-2.7 1.6zM415 741.5l-5.5 .2-2.7-.7-1-1 .8-1 2.4-.9 5-.3 1.9 .7 .8 1-.1 1zM465.5 758l-4.1-.5-2.3-1.5 1.3-1 3.6-.5 3.5 .1 2 .9-.6 1.5zM422 715.6l-13-.7-3.3-1.9-1.4-2.5 1.7-1.5 4.5-1.5 6 .5 3.9 1.5 2.4 2 .8 2.5zM489.5 749.6l-4.5 .2-8-2.5-2.7-1.8-3.6-5-1.7-1.2-11-2.6-8-.1-7.5-2.2-5-4.1-5-.8-3.4-2-2.2-3 .4-3.5 2.2-2.5 3-1.4 7 .7 6-1.2 10.5 1.2 7 2.3 7 3.9 6.2 4.5 1.3 2.5 .1 4.5 1.3 1.5 9.1 2.1 5.5 3.9 1.1 2-.4 2-1.7 1.5zM413 741l-3.4-.5-.4-1 2.8-.9 2.4 .4 .6 1zM415 714.5l-6-.7-2.1-1.8 0-1.5 3.2-2 3.4-.4 4.4 1.4 2.5 2 .2 1.5-.6 .7zM488.5 749l-4 0-8-3-2.3-2.5-1.2-5-1.5-1.2-6.5-.1-7.5-1.5-6.5 .2-7.5-2.2-2-1.3-3.5-4.2-5-.1-2.3-1.1-1.6-2 .2-2.5 2-2.5 2.2-1.4 6 .3 6-1.5 10 1.1 6.5 2.2 7.5 4.3 5.5 4 .9 2.5-.7 4.5 .6 1.5 3.7 1.4 8 1 4.6 3.1 1.2 2-.3 1.5-1.7 1.5zM415 713.1l-4.3-.1-1.2-1-.1-1 2.1-1.7 3.4 .2 2.2 2-.5 1zM466 735.5l-14.5-.5-7-2.2-2.5-1.8-3.5-4.8-6-.6-.7-1.1 .2-1.5 2.5-2.6 5-.1 5.5-1.9 12.5 1.5 5.5 2.6 9 5.6 1.9 1.9 .3 2-1.2 2zM488.5 748.1l-3.5 .2-6.5-2.4-2.2-1.9-.3-2.5 1-.8 2-.3 6 0 3 .8 2.5 1.8 1.2 2-.7 1.7zM456 734l-5-.1-7.1-2.9-1.4-1.5-2.2-4.5-.2-2.5 2.6-2 2.8-1 10.5 .9 6.2 3.1 8.2 6 1.2 1.5-1.1 1.1-5.5 1.2zM488 747.1l-2.5 .3-2.6-.9-3.5-2-.3-1.5 3.9-1.3 4 .4 1.9 1.4 .7 1.5-.2 1zM457 733l-5.5-.1-7-3.3-2.1-4.1 .4-3 3.2-1.7 8.5 .4 2.8 .8 3.4 2 3 3 .4 2.5-2.6 2.5zM486 745.4l-1.6-.4-.1-1 1.7 .1 .5 .9zM457 732l-5-.2-5.9-3.3-1.6-2.5 .3-2.5 1.7-.9 8 0 4.7 1.9 2 2 .4 2.5-1.6 2zM455.5 731l-2.5-.2-2-1.1-2-2.2 .1-1.5 4.9-1.6 4 1.1 1.4 1.5 .1 2-1.5 1.4z"/>
<path fill="none" stroke="#29a9e0" d="M1474 387.5l-9.5 .1-9.5-3.7-3-2.9-6.8-4.5-1.6-2.5-1.8-5-2.4-2.5-3.7-2.5-1.9-3.5-3.9-4-.7-2.5 1-5.5-2.1-4.5-.2-2 3.4-9 .3-4.5 2.9-7 2-1.5 4.5-.7 3.6-2.3 5.4-1.5 4-2.4 5.5 0 8-4 4.5-1.4 5.5-.4 11.5-5 5 .6 6-1.2 10 0 10-2.7 4.5-2.3 7.5 .4 7-.9 1.5-1.2 .9-4.5 1.1-1.4 4-1.8 4-2.9 13-4.8 14-2.2 8 .4 13-.9 5 .5 5.5 2.8 6 1.7 3 3.9 5.5 1.6 1.7 2.6-1.6 3.5 0 4-2.7 4-1.2 7-3.8 8 0 2 1.6 2.5 2 1.6 1.5 .3 4-1.1 11-.1 15 4.4 7.7 4.4 3.1 3.5 1.5 3 .2 2-.5 1.5-3.5 2.7-2.6 4.8-2.4 2.3-17.5 4.2-4.5 .3-5-.7-6.5 1.2-11.4-3.3-5.6 .4-3.5 .8-5.5 2.8-12 1-10 3.2-8.5 .9-5.5 2.7-6 .5-5.5-.4-4.5 1.4-4 .2-6.5 4.2-4.5-1.5-4.5-.4-6-2-6 .7-6 2.2-1.5-.4-2.5-2.1-2 .2-3.5 1.2-1.3 1.4-.2 3.3 2.3 4.7-6 5.5-8.3 3.3zM1577.9 344.5l2.1-1.5-1-1.6-1.9 .1-1.3 1.5 .3 1zM1499.5 377l-1.8-.5 1.8-1.6 1.5-.1-.1 1.2zM1466.5 387l-9-2.7-9.6-6.8-2.5-3.5 .5-4-8.8-6.5-2-3.5-3.4-3.5-.6-2 .1-6-2-6 3-8.5 .9-5.5 2.9-6.5 1.5-.9 4-.5 5-3.1 7.5-2.7 5.9-.8 8.6-4.3 4-1.1 5.5-.4 11-5 5 .8 16-1.4 10-1.9 5.5-2.8 7.5 1.4 3.5-1.4 4-.5 1.6-1.4 .6-4 1.4-2 6.4-4.2 13.5-5.1 13.5-2.6 23.5-.2 2.5 .4 5 2.5 5.5 1.6 1.5 1.5 2 3.7 4.3 .9 .9 1.5-1.1 6.5-2.1 4-1.3 9-4 7.5 .2 2 1.6 2.3 2.5 2.2 2.5 1 3.5 0 5-2 5 0 4.5 .7 11 3.4 7.7 4.9 3.2 3.5 1 2-.4 2.5-7.6 9.5-3.4 1.6-13.5 3.1-9-.5-7 1.3-6-2.7-5.5-1.2-2.5 .1-5.5 .9-6 2.4-7.8 2-4.7-.1-10.5 3.7-8.5 .9-5.5 2.3-5.5 .8-5.5-.4-9 1.5-2.5 .9-4 2.7-8.5-1.4-6.5-2-9.5 .9-4.5-2.5-6.5 1.4-1.3-.7-1.7-2.5-1.5 0-3.5 1.3-1.7 2.2 .7 1 4.4 1 2.2 8.5-.3 2-3.3 4-2 1.3-8.5 3zM1578.9 346l2.8-1.5 1-1.5-.7-2-2.5-1.4-2-.2-7 1.4-1.5 1.8 0 1.9 1 .7 6.5 1zM1469 386l-3.5 .1-6.5-2.1-10.1-7-1.7-3 2.3-3.5-.1-1-6-3-4.8-3.5-5.4-7-1-7.5-1.6-6 1.9-5 2-8.5 3.4-5.5 5.1-2 5-3.4 11-2.9 11-5.1 8.5-1 10.5-5 5 .9 10.5-.6 13.5-1.6 4.5-1.5 3.5-1.9 2.5 .2 3.5 1.8 1.5 .2 4.5-2 11-1.1 1.6-1 .4-2-1-1.1-4.6-.9-.3-1.5 1.5-2 10.4-5.9 12-3.6 9.5-1.7 22.5 0 12.5 4.5 1.5 1.7 1.5 4.5 2.7 2.5 .5 2-2.1 4-.4 11.5-4.3 7.5 .8 5.5-3.8 4-.3 1.5 .4 .9 1 .3 1.5-.6 4-4.2 8 1.8 5.5-2.9 7 .3 14 4.2 6.1 4.7 3.2 4.5-.3 2-4 6-4 3.7-3 1.5-11.5 2.6-10-.4-6 1.4-2-.6-3.5-2.2-7-1.8-11.5 2.1-5.5-1.9-1.6 3.6-2.4 1.6-4.5-.4-5 2.7-6 1.9-8.9 1.2-4.6 1.7-5 1-6.5-.1-10 1.4-7 2.5-6.5-.4-7.5-2-7.5-.2-5-2.6-6 1.3-3.4-3.1-1.6-.2-5.5 2.1-3.9 3.6 1 2 5.2 2.5 2.2 4 .5 3-2.5 4.2-2 1.4-8 3.1zM1580.6 347l5.4-1.5 1.3-1-3.4-4.5-4.9-2-5 .3-4.5-1.3-1.5 .9-1.1 5.6 1.1 2.3 9 1.6zM1477 385l-11 .3-7.5-2.6-9.1-7.2-.1-1.5 2.2-3.5-.5-2.2-4.7-1.8-3.1-2-3.7-3-4.5-5.5-3.1-13.5 2-4.5 1.6-7 1-1.3 2.5-1.3 1.9-3.9 7.6-5.5 5.5-1 15-6.6 4.5-1.1 5.1-.3 9.9-4.9 5.5 1 11.5-.6 12-1 9-2.4 6.5 1.1 16.5-3.6 2.8-2.1 .7-6.5 3.1-5 2.4-1.4 11-3.5 10-1.7 9.5-.3 12 .6 10.9 3.8 2 1.5 1.5 5.5 1.5 3-1.2 4.5 .5 10.5-4.2 8-.1 5.5-4.4 5.5-.2 2 1.2 1.6 1.5 .3 1.5-.4 6-4.5 7.5 .8 5-2.8 7-.1 13.5 4.1 6 4.8 2.3 3.2-.2 2.5-2.6 4.4-6.5 5.7-11.5 2.8-10.5-.3-5.5 1.3-5.5-2.8-8-2.1-9 1.7-3-.6-3.4-3.1 .7-5-.9-5.5-.9-1.5-2 .6-.5 4.3-1 1-4.5-2.4-9.5-.6-4-1.6-2.5-.2-1.5 .8-.7 1.6-.7 5 .6 2.5 2.4 2 5.4 .6 7.5 1.9 .7 1.5-.2 2-3 3-5.5 1.8-9.5 1.7-9 2.4-7 .1-13 1.5-7 1.8-17.5-2.5-5.5-2.9-6 .9-3.5-3-2-.2-6.5 2.3-5.5 4.6 1.5 2.5 5.5 3.3 1.9 2.2 1.1 3-.9 3.5-2.6 2.4-6.5 2.8zM1550.5 291.6l-1.5 0-.2-.6 1.9-1 .7 1zM1475.5 384.5l-9-.1-7.5-2.5-7.5-6.4-.2-1.5 1.7-4-.5-2.6-5.8-2.9-2.4-2.5-2-3.5-3.3-1-2.7-2.5-2.9-9.5-.2-2.5 1.3-2.8 3-3.7 .4-4 3.1-3 1.8-4 6.2-5.5 5.5-.7 14-6.7 5-1.4 5.5-.5 9.5-4.7 6 1 22.5-.8 5-1.5 5.5 .7 12.5-1.8 10.5-3.1 2.1-1 1.2-1.5 2.4-5.5 .6-4.5 .9-1.5 1.8-1.1 11-3.7 7.5-1.4 8.5-.6 14 .9 10.2 3.4 2.6 2 1.4 7.5-1 9.5 .7 6-3.4 7.5-1 5.3-4 3.1-2.2 5.1-3.5 3.5-.1 1.5 .8 1.7 1.5-.2 3.5-2.8 5.4-1.2 6.1-4.4 8 0 5-2.4 6-.4 13.5 3.9 6 4.8 1.7 3-.3 2.5-1.8 3-7.1 6.2-10 2.4-11-.3-5.5 1-5-2.5-4-.7-4.5-1.6-8 1.4-3-.7-1.7-2.7 .2-4-.8-4 .4-3.5-2.1-2-2.5-.1-5 2.9-10 1.5-7-2.4-2.5-.2-2 1.3-1 1.5-1.2 6 .3 1.5 2 2.5 2.3 1.5 7.1 .9 5 2.1 .7 2.5-2.2 2.5-23.5 5.7-20.5 1.5-7 1.6-15.5-2.3-7-3.6-5 .6-3-2.7-2-.8-4.5 1.9-4-.2-2.9 3.3-3.6 2-.6 1.5 1.7 2.5 8.1 6 1.4 3-.2 2.5-1.2 2-1.7 1-6.5 2.9zM1479 383.6l-11.5 0-8-2.4-6.3-5.7-.1-2 1.7-4.5-.9-2.5-3.9-4.2-4-2-3-4.1-4-1.4-1.6-1.8-2.7-7 .1-3.5 4.7-5.6 1.7-4.9 3.1-5 4.7-5.4 5.5-.7 11.5-6.4 8-2.5 5-.6 9.5-4.5 5 .9 14 .1 5.5-.5 5 .5 3.5-.9 6 .3 8.5-1.9 6 2.1 2.9-3.5 9.8-4 5.2-6.5 .4-2-.7-3.5 1.1-1.5 9.8-3.7 7-1.7 10.5-.9 12 1.4 9 2.7 3.4 2.2 .6 2 0 9.5-2.1 4.5-.4 3 1.4 4.5-.1 2-2.8 6.2-4.1 3.8-3.8 7.5-3.1 1.4-6-1.4-5.5 2.7-10.5 2.5-2.5-.6-6.5-3.6-2-.2-3.5 3.2-2.5 4.9-4 2-1 1.2-.9 2.9 .4 .3 3-.7 10 4.1 6.5 .7 3.5 1.3 1.7 2.3-1.2 2.1-10 3.3-13.5 2.8-11.5 1.2-8.4 .1-8.1 1.2-14-2.2-8-4.8-4 .3-6.4-4-.6-3.2-1-.7-5 3.4-4 4.8-5 4.2-1.2 2 .2 2.5 9.5 6.7 1.7 1.8 .8 2-.1 2-1.4 1.8zM1624 350.5l-2.5 0-4-1.9-4.5-.7-5-1.9-8 1.1-1.7-1.1-.4-2.5 1.1-1.8 7-6 5.5-2.1 5-3.7 9.5-1.2 4.5-1.5 5.5-.9 2.5 .1 5 2.2 5.5 1.1 5.5 4 1.9 2.3 .3 2.5-1.2 2.8-7.5 6.8-9 2.3-11.5-.4zM1479 383l-4.5 .4-6.5-.5-6-1.3-2-1.1-4.8-4.5-.7-1.5 .5-2 2.8-3.5 .1-1-6.4-7-4.5-2-3.5-4.3-4.5-2.3-2.1-3.4-1.1-4 .7-3 4.3-5 2.1-5 2.6-3.6 5-4.4 4.5-1.7 9-6 10.5-3.6 5-.8 9-4.1 19 1.3 6-.5 6.5 1.5 15-3.3 5.5 2.8 3 .1 6.5-6.3 6.4-2.4 4.6-5 1.3-2.5-.2-5 .9-1.5 8.5-3.5 6.5-1.6 8.5-1.1 7 .6 6.5 1.2 4 1.9 5 1.1 2.2 1.4 .7 2-1 4.5 .2 4-2 3.5-.4 5 1.6 6.5-1.8 3.4-4.5 4.7-2.8 6.4-1.2 1.4-2.5 .8-5-1.2-5.5 2.6-11.5 2.9-3.5-1.3-6-4.4-10-2.5-1.6 .2-.9 .8 0 1.2 1 1.5 1.5 .8 2.5 .1 .1 1.6-1.7 3.5-4.4 3.8-4 7.7 0 1 3 .8 6-1.2 9.5 2 6 .6 3.4 1.8 .3 1.5-.7 1-10 3.6-13.5 2.7-25.5 2-9.5-.6-6.5-2.1-3.2-2.1-1.1-2 .3-3-1-.8-6 1.7-4-1.1-.8-1.3-.3-4-3-3.5 0-6-.9-1-1-.1-2 2.5-1.1 3.1 0 1.5 1.4 2 0 1.5-4.3 2.3-2 5.2-5.8 5.5-3.2 5.5 0 1.2 1 .8 4.5 .7 3 1.6 4.5 3.9 1.4 2.3-.1 2-1.2 1.5zM1640 349.6l-18-.2-14-4.1-7 .4-1-1.7 6.1-7 5.7-2.5 4.2-3.1 14.5-3.2 7.5-1 5.5 2.3 6 1.5 4.9 3.5 1.5 3-1.1 3.5-6.3 5.9zM1459 365l-2.5-.5-4-4.4-5-2.4-3-4.3-5-2.6-2.1-3.3-.4-3.5 .7-2 4.2-5 2.2-4.5 1.9-2.3 17.6-12.7 11.4-4.1 4.5-.8 9-3.9 19 1.4 6-.4 6 2.1 14.5-3.5 5.5 2.7 5 1.1 6.5-7.9 6-1.8 6.9-6.9 1.1-2-1.1-4 .6-1.7 8-3.6 8-2 6.5-.8 11 1.6 6.5 3.1 4 .9 1.5 1.2 .2 1.8-3.7 9 .3 8.5 1.5 3.5 0 1.5-4.8 6.4-3.2 7.1-1.3 1.3-1.5 .3-4.5-1.1-5.5 2.6-12.5 3.1-2.7-1.2-4-4-7.3-4-9.5 1.2-2.7-.2 .1 1 1.6 1.2 2.7 3.8 .9 2.5-.4 1.5-2.5 3.5-4.5 9.5 0 1 3.3 1.1 10.5-.6 12 1.9 2.6 1.6 0 1-1.1 .9-8.5 3.3-13 2.5-25 1.8-10.5-.6-7.5-3.9-.7-1.5 0-3-1.3-2.1-6.4-.9-1.3-3.5-.1-4-.7-1.4-1-.5-3 .4-1.2-5-2.3-1.8-2-.5-1 .8-3 5.9-4.6 4.6-.4 1.5 .7 5-1.7 4-8.5 8.1-8 .3zM1557.6 316.5l.5-.5-.5-1.5-1.6-.6-.1 1.6zM1641.5 348.6l-10 .3-9.5-.5-9-1.9-4.5-1.9-4-.7-.8-.9 2.8-5.1 9.5-5.2 3.9-.7 4.1-1.7 14-2.1 6.5 2.6 5.5 1.5 3.9 2.7 1.2 2-.1 2-.9 1.5-5.8 5.5zM1478.5 382.6l-8 0-8.5-1.8-1.8-1.3-3.4-4-.4-2 1.2-1.5 5.4-2.8 5-3.6 1 .1 3.5 3.1 7 .9 5.7 4.8 1.2 2.5-1.4 2.2zM1458.5 363l-1.5-.3-3.3-3.2-5.1-2.5-3.6-5.2-5-2.4-1.6-2.4-.2-3 .9-2.5 3.9-4.5 3.5-5.4 19.5-14.1 5.5-1.5 3.5-1.8 4.5-1 9.5-3.7 18 1.6 6.5-.3 5.5 2.3 5.5-1.4 4-.1 4.5-1.6 12.5 5.2 1.5-1.5 1.7-4.2 2.5-4 1.8-1.1 3.5-.5 1.6-.9 8.1-8 .7-2-.7-3.5 .5-1 5.8-3.5 11-2.7 4.5-.1 11.5 2.1 6.8 5.2-.1 2.5-2.1 4.5-.1 4-2.2 5.5 .2 3.5 2 3 .3 1.5-4.3 9.4-1.5 2-5-.4-5.5 2.7-13.5 2.7-1.5-1.4 .8-2.5-.3-1.2-1-.5-4 .2-6-4-4.5-9-1.5-1.3-2 1.3-1 2.5 .7 2 2.6 3 .2 1.5-3.5 1.4-5-1.6-1.5 .7-.8 2.5 .3 2 4.5 3.2 1.3 3.3-7.3 14.5 0 1.5 4 1.2 12.5-.4 10.9 2.7-.3 1-5.6 3.3-14 3-10 .9-6-.2-9 .9-10.5-.8-5.5-3.7-1.4-4.4-1.6-2.3-4.8-2.2-1.2-1.3-1.6-6.7 .1-4-1-1.5-2-1.1-4.5-.2-6-2.6-1.2 .9-.8 6-6.2 7.5-.4 2 .7 4.5-1.6 3.5-6.5 5.3zM1640.5 348.1l-10 0-16.5-2-7.4-3.1-.8-2 2-3 8.2-4.2 4-.7 5-2.3 13.5-1.6 6.5 2.8 5.5 1.4 2.9 2.1 1 2-.9 2.5-6.5 5.9zM1478 382.1l-6.5 .1-8.5-1.9-2.9-2.3-1.4-2.5-.1-1.5 1.4-1.5 7.5-4.4 4.5 1.7 7.5 .9 4.3 3.8 1.4 2.5-1.3 2zM1582.5 327.5l-5 0-1.5-2.5-1.8-1.5-1.7-.7-4-.1-4-2.4-4.7-7.3-2.3-4.8-1.5 .2-5 4.1-.7-1.5 .3-2 2.4-3.3 4.5-.6 9.5-9.1 1.1-2 .7-5 3.7-3.1 13-3.1 13 1.9 4 2.8 1.7 3.5-.4 2-2.7 3 1.1 4-2 6 .7 7-2.1 3 1.1 3-.3 2-2.1 2.3-4.5 .6-4.5 2.4zM1462.5 360.5l-4.5 0-8-4.1-4-5.5-6-3.3-.8-2.6 .4-2.5 7.4-9.5 5.5-4.3 6.9-4.2 7.1-6 5.5-1.6 3.5-2 13.5-4.7 6 .2 7 1.4 11 .3 5.5 1.9 5.5-1.4 5.5 .5 3.5-.9 8.5 2.7 2.4 2.1 1.2 2 .4 8 1 1.2 3.5 2.1 .7 1.7-5.2 12-2.6 3-.2 1.5 1.3 1 3 .6 15.5 .1 5 1.3 1.5 1.5-1.5 2-2.5 1.4-13 2.5-23.5 1.3-11-.8-3.5-2.9-4.5-7.4-6.1-5.6-1.2-4 .9-5-.6-2.5-3.5-1.4-5.5 .5-5-3.1-2.5-.5-4 1.2-2.1-.2-1.4 1 0 1 .5 .3 2-1.2 1 .1 1.5 2.2 .5 2.6-1 1.7-3-.2-.3 .5-.2 4-1.7 4.5 .2 6-1 2.4-5.5 4.2zM1553.5 320l-2 0-2-2.2-.3-2.3 1.3-1.9 3 5.4zM1641.5 347.1l-11 .3-16-1.8-6.1-2.6-1-1-.2-1.5 2.3-2.5 6-3 4.7-1 4.3-2.4 14-1.6 6.5 3 5.5 1.3 2.3 1.7 .7 1.5-.7 2-6.3 5.6zM1478 381.5l-6 .2-8-1.8-2.7-1.9-.8-3.5 2-2.2 4.5-2.6 12 1.7 3.2 2.6 1.6 3-1.9 2.5zM1583.5 326.1l-3.5-.4-6.5-3.8-6.5-2.1-2-1.3-4.7-6.5-1.3-5.5 .2-1.5 2.2-3 7.7-6 .7-2 .4-4.5 2.8-3 12.5-3 12.5 1.7 3.4 2.3 1.4 3.5-1.2 2-3.8 1.5-1 1 3.3 3 .7 2-1.7 5 .3 6-2.5 4 .6 5-1.7 1.5zM1531.5 359.5l-12.5-.8-2.3-1.2-.7-1.5 0-3-3.5-2-5.5-6.8-3-2.7-.5-3 1.6-4.5 .2-2.5-1.3-3-2.5-1.5-2.5 .3-5 2.2-6-3-7-1.1-7 2.6-.9 1-.1 1.5 2.8 3.5 1.2 3.5-.6 13.5-1.4 2.3-3 2.3-8.5 3.5-3.5-.1-8.8-3.5-5.2-6.3-5-2.4-.7-3.3 1-2 7.2-8.1 9-5.9 7-2.6 1.5-3.9 1.5-1.7 5-1.1 3.5-2.7 11-4.2 7-.4 7 2.6 9.5-.3 8 1.5 6-1.4 5 1.3 4.5-.4 6.5 2 2 1.5 1.3 2.8 .9 7.5 4.1 4-4.7 11.5-3.5 3.5-.6 2.1 1.7 .9 4.3 .6 16 .2 4.3 1.2 1.1 1.5-1.1 1.5-1.9 1-11.9 2.4zM1634 346.5l-9-.2-11-1.4-4.8-2.4-.8-2 1.2-1.5 4.9-2.6 6-1.7 4-2.4 10-1.6 5.5 .5 5 2.8 5 1.1 2.2 1.9-.5 2-7.2 6.2-4 1.2zM1477.5 381.1l-5 .1-7.6-1.7-2.6-2-.2-3 1.9-2.1 3-1.4 12 1.3 2.5 2.2 1 2.5-1.8 2.5zM1583.5 324.6l-2.5-.2-14.5-7.1-5.1-5.3-1.2-7 1.3-2.1 5-4 2-.6 4.5 .3 3-2 .5-1.1-.3-1.5-3.7-2.1-.9-1.4 .4-2 1.7-1.5 11.8-2.8 12 1.5 3 2 1 2.8-1 1.6-4.5 1.4-1.9 1.5 .5 1.5 3.9 2.1 1.1 1.9-1.6 5 .5 5-2.5 4.5-.5 5-2 1.5zM1523 350.5l-9.5-.9-5.2-6.6-3.1-2.5-.4-2 1.7-5 .1-2-.7-2.5-1.7-2-4.2-1.2-6.5 2-11.5-4.6-4-.2-2.9-3.5 .3-2 1.1-1.1 10-4.3 5.5-.7 4.5 1 2.6 3.1 1.4 .7 2.7-.2 5.3-1.7 10.5 1.1 6-1.4 5 1.9 5-.1 5.5 2.8 1.7 2.4 1.6 8 3 3.5-1.2 4.5-2.7 5.5-2.9 2.3-5 1.8-7.2 1.4zM1469.5 328.1l-1.2-1.1-1-3.5 .7-2.4 1.5-.7 1.5 .6 2.1 3.5-1 2zM1462.5 358l-10-3.6-6.5-7.1-3.5-1.2-1-1.6 .9-2.5 6.6-7.2 9-5.8 3.5-1.1 6.5 2.1 6.3 5.5 .6 2 .8 10-.6 3-2.4 3zM1632 346l-17.5-1.6-3.8-1.9-.9-2 4.7-3.3 6-1.8 4.5-2.5 8.5-1.5 6 .4 5 2.9 5.7 2.3 0 1-6.7 6.7-3 .8zM1531.5 359l-5.5-.3-4.5-1.7-.9-1 4.4-3.6 4.9-.9 4.6-2.2 5 1.8 21.5 .2 3.5 .9 1.5 1.3-.5 1-2 1.1-11.5 2.4zM1477 380.6l-4.5 0-6.9-1.6-2.2-2 .1-2.5 1.5-1.6 2-.8 7.5 .2 4 .7 2 1.6 .9 2.4-1.4 2.2zM1583.5 322.7l-1.5 .1-6.5-2-6.5-4.3-2.5-2.5-3.5-1.9-1.1-2.1-.8-5 1.4-2 4-3 6.8-.5 2.2-1.1 2-1.9 .6-1.5-.3-1-4.7-4 .2-1.5 1.2-.9 11-2.6 11.5 1.3 2.7 1.7 .5 2.5-1.2 1-5.2 2-1.5 2 1.5 2 4 2 .7 1.5-1.6 4.5 .4 5-2.1 4-.9 4.5-2.3 1.8zM1523.5 348.6l-2 .3-7-.9-1.5-2.5 .6-3-.5-1.5-4.6-.6-1.7-.9-.5-1.5 1.4-7-.7-2.5-1.8-2-4.7-1.6-6 1.5-2-.1-7-2.8-7-4.9-.1-1.1 7.6-4.5 6-1 3.6 1 2.1 3.5 1.8 .9 4-.3 5.5-1.7 10 .6 5.5-1.3 6.5 2.8 4.5 .2 1.2 1.8-.5 3.5 4.8 2.4 1.2 4.6 2.7 3-.6 4-3.3 4.7-4 .5-5 3.6zM1463 356.2l-2 .1-7.5-3.3-4.4-4-4.4-6 1.3-3 3.5-3.5 8.5-5.6 2.5-1 8 3.6 3.5 2.5 1.1 2 1.2 5.5 .1 5-2 3.5-2.4 1.7-4 .8zM1634 345l-7 .3-10.5-1.1-3.6-1.2-1.7-2 1.1-1.5 3.7-2.3 4.6-1.2 5.9-2.9 6.5-1.1 6.5 .7 7.7 4.8-.7 2.5-3 3.6-3 1zM1530.5 358.5l-5-.9-1.3-1.1 0-1 1.8-1.8 8-2.6 5 1 10.5-.5 10 .3 3.2 .6 1.6 1-.4 1-2.2 1-10.2 2.2zM1476.5 380l-4 0-6-1.4-1.8-1.6-.1-2 .9-1.2 2-.8 6.5-.1 4 .7 2.1 1.9 .2 2-1.3 1.5zM1590.5 320l-14.3 0-5-4-3.1-3.5-3.9-1.5-1.3-1.5-1-4 1.6-2.3 4-2.5 6.5-.8 6.7-4.4-.2-1-5.6-4.5-.1-1 1.3-1 5.9-1.7 4.5-.6 8.5 .8 2.5 .9 1.3 1.1 .2 1-.6 1-4.6 2-3.6 2.5 .3 1 1.6 1.5 4.5 2.5 .7 1.5-1.4 4 .2 5-2.6 7.3-1 1.4zM1523.5 347.1l-6.7-1.1-1-4-1.2-2-6.1-2.1-.4-1.4 .7-7-2-3-2.8-1.5-3.5-.8-6.5 1.2-2-.4-5.5-2.4-3.3-2.6-1.5-2 .4-1.5 4.4-3 5-.9 3.1 .9 1.9 4 2 .9 4.9-.4 5.6-1.7 10.5 .2 4.5-1.1 2 .3 2 1.3 1.9 2 1.4 4 7.7 4 .5 3.5 3.4 3 .4 2-1.8 3.1-5 2-5 4.2zM1462.5 354.5l-2 .1-3.5-1.3-6-4.2-1.8-2.1-1.8-5 .3-1.5 1.3-1.5 6.5-5.1 4-1.6 10 3.4 2.2 2.8 1.4 4.5 0 4.5-1.6 3.5-2 1.4zM1631 344.5l-14-.7-3-1.1-1.3-1.7 1-1.5 2.8-1.8 10.5-4 6-1.2 3 .1 4 1.2 5.4 4.2-.4 2.5-2.5 2.6zM1549 357.5l-19 .3-3-.6-1-1.2 1.3-1.5 6.7-2.4 5 .8 12.5-.8 8 .6 2.4 1.3-2.7 1.5zM1477 379.2l-3.5 .2-5-1-2-1-.6-1.9 .8-1 1.8-.6 8.5 .3 1.5 .8 .9 1.5-.5 1.5zM1591 293l-10 0-2.8-1.5-1.4-2 .8-1 2.4-1 5.5-1 7.5 .4 4 1.6-.4 1.5zM1589 319.1l-12.7-.6-2.7-2.5-3.6-4.9-6-2.3-1-1.8 0-2 4-3.2 7-1.3 6-3.2 7-.5 3.5 .8 4.6 2.9 .7 1.5-1.2 4.5 .2 4-2 6-1.3 1.8zM1525.5 345.5l-2.7-.5-7.3-5.9-4.9-2.1-.8-1 .2-3 1-2.8 1.5-1.1 4.8-1.1 1.1-1-.1-1-1.8-.3-5.5 1.5-10-3.7-8 .7-8.3-4.7-1.1-1.5 .1-1.5 3.3-2.4 4-.7 2.5 .6 1.6 4.5 2.4 1.1 12-2.5 10.5-.1 4.5-.8 2.1 .8 1.9 2 1.3 4.5 6.1 4 1.6 4 2.9 2.5 .7 1.5-1.2 2-4.3 2.5-5 4zM1628 344l-11-.8-2.5-1.2-.3-1.5 2.8-2.3 11-4.2 5-.9 3 .2 4 1.5 3.1 2.2 1 1.5-.6 2.5-2.5 1.7zM1462.5 353.1l-3 0-4-2.1-4.5-3.8-1.4-3.2-.3-2 .6-1.5 5.6-5.2 2.5-1.2 2 0 3.3 1.4 5.2 1 1.9 2 1.4 3.5-.1 4.5-1.4 3.5-1.8 1.2zM1550 357l-7 .2-6-.6-5.5 .4-2.9-1 1.7-1.5 3.7-1.3 5 .6 5.5-1.1 6-.2 8.1 1.5-4.6 2.1zM1475.5 378.5l-6.5-1-1.3-1.5 2.8-1.1 6 .2 1.3 .9 .3 1-.9 1zM1591 292.1l-10-.2-1.7-.9-.6-1.5 1.8-1.3 3-.6 7-.3 4 1.2-.1 1.5zM1589 317.6l-3 .2-8.5-1.2-2.4-2.1-3.4-4.5-6.7-2.3-.9-1.2 .2-1.5 3.2-2.5 6.5-1.5 6-2.8 6.5-.4 4 .9 2.8 1.8 1 2-1.8 11.5-1.4 2.5zM1492 320.3l-5.5-1.4-1-.9-.1-1.5 3.1-1.9 3.5 0 1 1.9zM1527 344l-2.8-.5-6.7-5-5-2-1.3-1.5 .3-2 1-1.1 5.5-1.5 2.9-1.9 .6-2-1-1.9-3-.7-8.5 1.3-10.3-3.7 2.6-1.5 8.2-2.3 14.5-.6 2.4 .9 1 1.5 1.1 4.5 5 3.5 2 4 3.4 4-1.7 2.5-7.7 5zM1495.5 322.5l-2.4 0-.7-1 .1-1 3.7 1zM1629.5 343.1l-3.5 .4-7.5-.6-2.6-.9-.5-1.5 2.6-2 11-4.2 3.5-.6 2.5 .1 4 1.6 3.8 3.1-.3 2-2 1.4zM1462 352l-2.5-.1-3.4-1.9-3.7-3.5-1.3-2.5 .6-3 4.1-4.5 2.2-1.2 9.5 1.9 2 1.8 1.1 2.5 0 3.5-1.6 4-2 1.3zM1550.5 356.5l-7.5 0-3.1-1 3.1-1.8 5-.7 4.5 .2 2.4 1.3-1.4 1.1zM1534 355.5l-1 0 0-.5 2 0zM1591 291.1l-2.4-.1-1.6-1.5 2-1.2 2.9 .2 .8 1zM1582.5 290.6l-1.1-.1-.5-1 1.6-.6 1.5 .6zM1587 316l-4.5 .1-2.6-.6-3.6-2.5-2.4-3.5-7-2.5-1-1 .2-1 1.9-1.7 6-1.7 6-2.7 6-.2 4.5 1 1.8 1.3 .7 1.5-2.1 6 .5 4-1.4 2.2zM1489.5 317.5l-1-.1-.4-.9 2.1-.5 .3 1zM1529.5 340.5l-3-.5-3-4.6-3 1.5-5.6-1.4-1.2-1 .8-.9 6.5-1.9 2.7-2.7 .5-2-1.8-3.5-3.4-.6-10.5 1.2-5.3-1.6-1-1.5 3-1.5 5.3-1.2 6-.3 8.5 .9 2.3 6.6 4.8 2.5 2.4 4.5 2.8 3-.4 1.5-1.8 1.5zM1628.5 342.5l-9.5-.1-2-.8-.4-1.1 1.9-1.5 11-4.2 3-.6 2.5 .3 3.5 1.7 2 1.3 1 1.5-.6 1.5-1.9 .9zM1463 350.6l-2.5 .3-3-1.2-2.4-2.2-1.9-3 0-2.5 4.3-5.3 2-.3 7 1.5 1.5 .8 1.2 1.8 .5 3-1.4 4-1.8 1.7zM1549.5 356l-5-.2-1.4-.8 1.8-1 4.1-.5 3.8 1-.9 1zM1584 314.1l-2 .3-2.5-1.2-2.3-1.7-1.6-3-6.6-2.2-.9-.8 .3-1 12.1-4.9 5-.2 4.5 1.1 1.5 1.5-.1 2-1.4 1.6-3.9 1.4 .2 5zM1511 323.1l-5-.4-1.5-.7-.2-1 3.7-1.6 6.5-.8 4.5 .3 2.3 1.1-.2 1-1.6 .7zM1533 338.6l-3.5-.3-2.1-2.3-.8-4 2.4-3.1 1.5-.1 1 .7 1.4 3.5 3 2.5-.4 1.7zM1627.5 342l-7.5-.2-1.5-.5-.4-.8 1.9-1.3 12-4.3 3.5 .7 3 1.9 1.2 1.5-.5 1-1.2 .6zM1462 349.6l-2 0-2-1-2.7-4.1-.1-2 .7-2 1.2-2 1.4-.9 7.5 1 1.5 .9 1.1 2-.2 3-1.4 2.7zM1582.5 311.8l-1.5 .1-1.7-.9-1.8-3.8-6-1.1-.9-.6 0-1 9.9-4.2 4.5-.1 4.1 1.3 .7 1-.4 1-3.9 1.2-2.2 1.8 0 4zM1511 322.1l-3.4-.1-.8-1 2.4-1 4.3-.5 4.7 .5-.7 1zM1532.5 337.5l-2.1-1 .1-1.7 1.5-.1 2.1 .8 0 1.5zM1628 341.1l-3.5 .3-3.8-.9 2.1-1.5 8.7-3.4 3 .5 2.5 2.4-1.5 1.3zM1463 347.5l-3.5 0-1.8-2-.7-3.5 1.5-3 2-.4 4 .5 2 .8 .9 1.1 .4 2-.9 2.5-1.4 1.4zM1581 305.7l-7-.2-1.2-1 3.1-2 4.1-1.4 3.5-.1 2.1 1-1 1.5zM1627.5 340l-2.7 0 1.1-1 5.6-2.4 2 .3 .9 1.1-1.2 1zM1464.5 345.6l-3-.4-2-1.2-.8-2 .4-1.5 2.9-.9 4 1.1 .7 1.3 0 1.5-.7 1.2zM1581 304l-4.9 0 2.9-1.8 3.5 .3zM1464.5 343.7l-2.8-.7-.5-1.5 1.8-.6 1.9 .6 .5 1z"/>
<path fill="#29a9e0" fill-rule="evenodd" d="M1065.5 634.6l-5.5 0-6-1.8-4-2.7-2.8-4.1-.8-4.5 1.3-8-.2-2.5-7.9-11.5-2.9-8.5 .5-7 2.2-6 7.6-8.7 3.5-2.9 8-4.8 9-2.2 10.5-.2 6.5 .7 16 2.7 6.5 2.6 3 2.3 1.9 2.5 .9 2.5 .3 3.5-.6 3-2.8 6-2.1 8.5-2.5 6.5-4.8 6.5-4.3 3.7-3.5 2.1-12 5.3-1.3 1.9-2.1 6.5-2 3-4.6 3.8zM1063 632l-4-.4-4-1.7-3-2.4-1.9-3-.4-3 .6-3 4.7-7 .5-2-1-1.7-6.6-5.8-4.6-9.5-.6-3 .2-3 3-7 8.5-9 6.1-3.6 6.5-2.4 30.5 .5 4 .8 3.5 1.8 3.4 3.4 .8 2.5-.1 2.5-1 2.5-4.6 6-1.2 7-3.5 7-4.2 5.5-3.6 2.9-9.5 3.9-5.5 1.1-1.9 1.1-.7 2 .9 7-1.3 4-4.2 4.5z"/>
<path fill="none" stroke="#29a9e0" d="M1065.5 634.6l-5.5 0-6-1.8-4-2.7-2.8-4.1-.8-4.5 1.3-8-.2-2.5-7.9-11.5-2.9-8.5 .5-7 2.2-6 7.6-8.7 3.5-2.9 8-4.8 9-2.2 10.5-.2 6.5 .7 16 2.7 6.5 2.6 3 2.3 1.9 2.5 .9 2.5 .3 3.5-.6 3-2.8 6-2.1 8.5-2.5 6.5-4.8 6.5-4.3 3.7-3.5 2.1-12 5.3-1.3 1.9-2.1 6.5-2 3-4.6 3.8zM1063 632l-4-.4-4-1.7-3-2.4-1.9-3-.4-3 .6-3 4.7-7 .5-2-1-1.7-6.6-5.8-4.6-9.5-.6-3 .2-3 3-7 8.5-9 6.1-3.6 6.5-2.4 30.5 .5 4 .8 3.5 1.8 3.4 3.4 .8 2.5-.1 2.5-1 2.5-4.6 6-1.2 7-3.5 7-4.2 5.5-3.6 2.9-9.5 3.9-5.5 1.1-1.9 1.1-.7 2 .9 7-1.3 4-4.2 4.5zM1066 631l-4.5 .5-4.5-1.2-4-2.6-2.2-3.2-.5-3 1-3.5 5.8-7 .4-1.5-1.6-2.5-7-5.5-4.5-9-.3-5.5 2.9-7 3.1-4 4.9-4.6 6-3.5 6-2.3 20 .4 10.5-.5 3.5 .7 2.8 1.3 3.7 3.5 .9 2.5-.1 2.5-1.1 2.5-4.9 6-1 6.5-2.9 6-4.6 6-3.3 2.8-9.5 4-6 1.1-2.5 1.2-.6 1.9 1.6 6-.4 4-3.1 4.8zM1065.5 630.5l-4 .4-4-1-4-2.6-2.2-3.3-.2-3 1.3-3.5 2.1-2.6 4.8-3.9 .7-1.5-2.5-3-7.3-5.5-4.6-8.5-.5-2.5 .4-3 3.3-7.5 3.3-4 4.4-3.8 11-5.1 18.5 .4 11-.9 3 .4 3 1.3 3.6 3.2 .9 2 .1 2.5-1.4 3-5.2 6-1 6.5-2.6 5.5-4.4 5.5-3 2.6-9.5 4.2-7.5 1.2-3.3 1.5 0 1.5 2.8 6.5 0 3.5-2.7 5zM1069.5 609l-4-.3-4.5-1.5-8.5-5.9-2.4-2.8-3.1-6-.4-3.5 2.7-7.5 2.6-4 6.1-5.5 11-4.5 16 .6 12.5-1.4 3.5 .8 3.3 2 2.3 3.5-.2 3.5-6.5 7.5-1.4 7.5-4.1 7-4.4 4.5-9 4.5zM1064.5 630l-4 .1-4-1.5-3.3-2.6-1.4-3 .4-3.5 1.9-3 3.9-3.2 4-1.5 3.5 .3 2.5 1.5 2.5 3.4 1.3 3.5-.3 3-1.9 3.5-2.1 1.9zM1071 607.5l-4-.3-6-1.8-7.3-4.9-2.2-2.5-2.8-5.5-.5-3 1.9-6.5 2.7-4.5 5.7-5.4 11-4.5 16 .7 12-2 3 .7 2.5 1.5 2.4 3 .2 3.5-1.1 2-6 6-1.5 7.5-3.2 5.5-4.3 4.5-8.5 4.7zM1062.5 629.5l-3.5-.5-3.5-1.9-2.4-2.6-.6-2.5 .8-3 2.4-3 3.3-2.1 3.5-.7 3 .5 2.5 1.7 2.2 3.1 .7 3-.8 3-2.1 3-2.5 1.5zM1073 606l-4.5 .1-6-1.9-5.5-3-3.6-3.2-2.7-5.5-.6-3.5 1.1-5 2.5-4.5 5.3-5.2 11-4.5 15.5 .9 11.5-2.6 2.6 .4 2.7 1.5 2.1 3 .1 3-1.3 2-6.2 6-1.3 7-2.5 4.5-4.7 4.9-7.5 4.4-2.5 .8zM1064 628.5l-3 .2-3-.9-3.1-2.3-1.4-2.4 .1-2.6 1.4-2.5 2.5-2.3 2.5-1.2 3-.2 3 .9 2.5 2.3 1.2 2.5 .1 2.5-1.3 3-2 2zM1074 604.6l-3.5 .3-3-.5-8.5-3.7-3.5-2.7-2.4-4.5-1.1-5 .6-4 2.1-4 5.3-5.2 10.5-4.3 16 1.1 10.5-3.2 2.5 .5 1.9 1.1 1.8 2.5 .1 3-1.8 2.4-6 5.1-.7 2-.5 5-1.8 3.5-4.6 5-6.9 4.3-2.5 .9zM1063.5 627.6l-2.5 .1-2.5-.7-2.8-2-1.2-2 0-2 1.3-2.5 2.2-2 2.5-1.1 2.5-.1 2.5 .8 2.1 1.9 1.2 2.5-.2 2.5-1.1 2.1-1.5 1.5zM1076 603l-7 .2-9-3.8-2.6-1.9-2-3.5-1.4-5.5 .2-3.5 1.7-3.5 5.1-5 9.5-4.1 8.5 0 8.5 1.6 8-3.9 2.5-.1 2.2 1 1.8 2.5-.1 2.5-1.9 2.3-6.5 4.7-.7 2 .1 5-1.4 2.9-6 6-5.5 3.3zM1063 626.5l-2.5 0-2-.7-2-1.7-.8-1.6 1.1-3.5 3.7-2.5 2.5-.1 2 .7 1.6 1.4 1 2-.1 2-1 2zM1095.5 579.1l-3.8-.1-.6-1.5 .3-2 1.1-2 1.8-1.5 2.2-.8 1.9 .3 1.8 1.5 .3 2.5-1.5 2zM1076.5 601.6l-6.5 .2-9.5-4.2-2.6-3.1-1.8-5.5 .3-5 3.5-4.5 3.5-2.5 8.1-3.1 8.5 .1 4.9 2 4.2 5 1.8 7.5-.5 3-4.9 5.5-5.5 3.6zM1062.5 625.1l-3.1-.6-2-2.5 .8-2.5 2.8-1.8 3 .4 2.1 2.4-.7 3zM1097 576.1l-1.7-.6 .1-1 1.1-.9 1.6 .9zM1076.5 600.1l-4 .4-3-.6-7-3.5-2.4-2.4-1.7-5 0-4 1.7-3 3.9-3.3 7-2.5 8-.1 3 .9 2 2.4 3.8 7.6 .4 3.5-4.4 5.5-4.3 3zM1063 622.1l-2-.1-.1-1.5 1.1-.6 1 .3 .5 .8zM1075.5 598.6l-3 .2-3-.8-5.5-3.3-2-2.4-1-3.8 .3-3.5 2.2-3 3-2.1 4.5-1.1 8.5 1.2 2.5 1.9 2.8 4.1 .9 3.5-1.1 2.5-5.8 5zM1074.5 596.5l-2.5 .1-2.4-1.1-4.7-5.5-.5-2 .4-2 1.7-2 2.5-1.6 3-.4 3.3 1 5.1 3 1.7 2-.6 2.5z"/>
<path fill="#29a9e0" fill-rule="evenodd" d="M1456 759.5l-7 .2-11.5-1.4-6-1.7-3.9-2.1-1.1-2.5 1.6-2.5 11.3-6-.4-1-2.5-1.1-14.5-3.2-3.5 .6-10 3.5-11.5 .6-7-1.1-7.3-2.8-1.3-1.5-.3-1.5 .6-1.5 1.8-1.8 5-2.3 10.5-2.4 1.2-1.5-1.3-2-6.9-6.5-9.4-6.5-1.6-3.5 1-3.5 3-2.7 4-2.1 6-1.6 6.5-.5 9 .6 16 3.1 16.5 2 7 1.9 22 8 15.4 10.3 3.7 5 4.2 11.5 .2 3.5-1.9 3.5-3.8 3.5-3.3 1.7-21 6.2zM1477.5 748.1l-5-.1-4-1-10.5-9.5-14.5-1.9-13-2.9-7.5-2.6-10.5-7.7-4-6.5-14.6-5.4-2.8-2.5 0-2.5 2.1-2 3.8-1.2 4.5-.4 6 .5 6.2 2.1 7.8 3.9 11 1.5 6.5-.3 3.5 .6 13 4.5 8.5 4 4 2.8 9.9 10 6.6 5.4 1.6 2.1 .5 3-1.4 3-3.2 1.9zM1400 739l-6.5-.7-1.9-1.3-.2-1.5 3.1-2 6-.9 6 .6 2.6 1.8-.1 1.5-1.1 1zM1455.5 755l-5.5 .3-3-.5-3.6-1.8-.9-1 0-1 2.5-1.3 11-1 4.7 .8 2.6 1 1 1-1.1 1.5-1.9 1z"/>
<path fill="none" stroke="#29a9e0" d="M1456 759.5l-7 .2-11.5-1.4-6-1.7-3.9-2.1-1.1-2.5 1.6-2.5 11.3-6-.4-1-2.5-1.1-14.5-3.2-3.5 .6-10 3.5-11.5 .6-7-1.1-7.3-2.8-1.3-1.5-.3-1.5 .6-1.5 1.8-1.8 5-2.3 10.5-2.4 1.2-1.5-1.3-2-6.9-6.5-9.4-6.5-1.6-3.5 1-3.5 3-2.7 4-2.1 6-1.6 6.5-.5 9 .6 16 3.1 16.5 2 7 1.9 22 8 15.4 10.3 3.7 5 4.2 11.5 .2 3.5-1.9 3.5-3.8 3.5-3.3 1.7-21 6.2zM1477.5 748.1l-5-.1-4-1-10.5-9.5-14.5-1.9-13-2.9-7.5-2.6-10.5-7.7-4-6.5-14.6-5.4-2.8-2.5 0-2.5 2.1-2 3.8-1.2 4.5-.4 6 .5 6.2 2.1 7.8 3.9 11 1.5 6.5-.3 3.5 .6 13 4.5 8.5 4 4 2.8 9.9 10 6.6 5.4 1.6 2.1 .5 3-1.4 3-3.2 1.9zM1400 739l-6.5-.7-1.9-1.3-.2-1.5 3.1-2 6-.9 6 .6 2.6 1.8-.1 1.5-1.1 1zM1455.5 755l-5.5 .3-3-.5-3.6-1.8-.9-1 0-1 2.5-1.3 11-1 4.7 .8 2.6 1 1 1-1.1 1.5-1.9 1zM1475.5 747.5l-4.5-.7-3-1.4-9.5-9.1-6.5-.1-7.5-1.1-11.5-2.5-9-2.9-10.6-8.2-2.9-6.9-10-2.2-4.5-1.6-3.7-2.8-.1-2.5 1.8-1.6 3.5-1.2 9.5 .2 5.8 2.1 7.7 4.3 12.5 1.4 8-.1 15.5 5.4 9.2 5 5.3 5.5 12.5 10.4 1.7 2.1 .7 3-1.4 2.6-4 2.1zM1400 738.5l-5.5-.5-1.7-1-.2-1.5 2.4-1.5 5-.9 5 .5 2.7 1.4 .2 1-1.1 1zM1453.5 754.5l-6-.4-1.9-1.1-.7-1.5 2.1-1 8.5-1 3.5 .5 2.4 1.5 0 1-1.5 1zM1478 746.6l-5-.2-4.5-1.8-3.8-3.1-4.2-5.6-1.5-1.1-6.5 .6-4.5-.5-14-2.7-9.5-3.1-9.8-8.6-.8-2.5 .6-4-1-1.5-8.5 0-6-1.3-4.8-2.7-.9-1.5 .2-1.5 2-1.5 3-.8 8 .2 4.3 1.6 8.7 5.9 21 .5 14.5 4.7 8.7 4.9 6.8 7 13.4 10.5 1.1 2.5-.7 2.5-2.3 1.8zM1398.5 738l-4-1-.3-1.5 2.3-1.2 3.5-.5 4.5 .7 1.2 1-2.2 1.5zM1455 753.5l-4.5-.1-1.9-.9 1.4-1 4-1 2.5 0 2.1 1-.6 1.3zM1408.5 711l-4 .5-5-1.1-4-2.4-.5-2 1.5-1.3 3-.8 8.1 .6 2.6 1.5 1.5 2-.5 1.5zM1479 745.5l-5 .3-5.5-2.3-3.9-3.5-3.1-5.6-1.5-1.1-7 1.1-3.5-.1-15-2.8-9-2.8-2.5-1.7-5.5-6-.8-2 .3-1.5 3.2-3.5 5.3-1.8 15 .2 13.5 4.1 7.6 4.5 7.3 8 9.6 6 4.3 3.5 1.1 2-.2 2-1.7 1.7zM1400 737l-2.6 0-1.3-1 2.9-1.3 3.1 .8-.7 1zM1406.5 710.1l-3 .2-3.2-.8-2.4-1.5-.6-1.5 1.1-1 2.6-.7 6 .6 1.5 1.1 .5 1.5-1 1.5zM1477 745l-5.4-1-4.6-3-2.7-4-1.3-5.9-2.5 .1-9 2.4-17.5-3.1-7-2.3-2.5-1.4-4.3-5.8-.2-3 2.1-2.5 2.9-1.5 13.5-.7 4.5 .7 10.5 3.4 7.5 5.1 3.2 7.5 12.8 5.2 4.8 3.8 .9 2-.5 1.5-2.2 1.6zM1405 708.5l-2.5-.2-.9-1.3 1.4-.7 2.2 .2 .9 1zM1452 732.5l-16.5-2.8-8.5-2.8-1.7-1.4-1.2-2-1.3-3.5 .4-2 1.3-1.3 2-.8 5.5-1.1 6.5-.3 5.5 .9 8.5 2.9 6.5 4.4 1.1 1.8 .4 2.5-.7 2-1.8 1.5zM1478 743.6l-3.5 .1-5-2.3-2.7-3.4-.1-3 .8-.6 2 0 6.5 1.8 2.5 1.4 1.9 1.9 .5 1.5-.9 1.5zM1454 731l-3.5 .3-12.5-2.5-8.5-3-1.5-.8-1.1-1.5 0-4 1.6-1.5 2.5-1.1 7-1 5.5 .7 6.5 2.3 6.7 4.1 1.6 2 .1 2-.7 1.5zM1476.5 742l-3.3-1-1.6-2 2.9-.8 2.5 .6 1.2 1.7-.5 1zM1453.5 729.6l-3 .1-12-3-6.8-3.7-.9-1 .1-1.5 1.9-1.5 5.2-1.5 3.5 .3 4.1 1.2 5.4 2.5 4.6 3.5 .3 2.5zM1443 723.6l-3.3-.1-1.7-1.4-.2-1.1 1.7-.9 2.2 .4 2 2zM1451 727l-3.2-1-1.8-2 2-.6 2.5 .9 1.5 1.7z"/>
<path fill="none" stroke="#29a9e0" d="M585.1 1403l-4 .3-6.5-1.4-7.3-6.4-1.8-2.5 .5-3.5-.4-2-5.2-6-1.2-3.5-2.1-.9-3.8 .9-10.7 6.7-3-1.2-2 .8-1.5 2.2 .5 2.3 1.5 .8 2.5-1.6 .7 0-.1 .5-2.6 3.1-1.2 3.9-2.4 1.5-15.9 4-4.5 .2-5.5-.8-10.5 1.4-13-1.1-6 .7-8.5-4.4-10.9-1-5.1-4.6-5-1.1-9.9-18.8-.4-2 1.3-1.9 5.7-3.6 2.1-5 3-3 8-2.5 6.7-4.6 4-.6 5.5-2.5 5.5-.4 5-5 5-.5 5-5.1 3.2-1.8 15.8-2.6 1.7-.9 2.8-3 1.5-.6 7 2.4 5-4.3 1.5-.4 4 .2 3-.7 3-1.5 3-3.1 9 1.2 2.1-.7 3.4-2.8 1.5-.5 5.5 1.1 5-.7 8.5 .6 9.5 5.7 8.5 3.7 4.5 4.3 8.5 3 6 .6 5-.7 8.5 4.2 5-.2 5 1.5 12.5 0 6 .9 5 2.1 6 0 2.5 1.6 4.4 5.6 .3 4-1.2 3-4 2.9-4.7 1.6-4.8 2.7-3 1.1-5.5 .6-5.5 1.5-3.5 1.7-8.1 5.9-8.9 1.9-6.5 2.8-15 1.3-3.9 4.5-.2 8-4.4 6.3-3.5 2zM584.1 1402.6l-3.5 0-5.5-1.2-7.1-6.4-1.1-2 .4-4.5-.5-2.5-3.5-5 .4-3-1.8-2-2.8-.5-5.5 .9-6 3-3 2.2-5.5 0-6.4 2.9-.5 1.5 2.7 5 .1 3-1.5 2-3.8 1.5-8.6 2.5-4.5 .5-7.5-.8-11 1.6-7.5-.4-5-.9-6.5 .4-8-4.2-10.5-1.3-5-4.7-4-1.9-5.2-7.3-5.1-9.5-.2-2 1.3-1.5 5.7-3.2 2.2-5.8 2.3-2.5 7-2 6.5-4.1 4.5-.8 4.5-2.4 7-.9 4.5-3.7 4-.6 2-1 9-7.3 14-2.2 2.3-1 3.7-3.1 7.5 2.9 5-5.1 7.8-.7 4.6-2 3.1-2.6 5.5 .6 3.5-.3 6-3.5 5 1.3 4.5-.8 8.5 .2 3.1 1.6 10.7 8 8.7 4.3 8 2.9 7 1.1 5-1 8.9 4.2 4.6-.2 5 1.2 14 .2 4.5 .6 5 2 5.5 .1 2.5 1.6 3.7 4.5 .6 4-1.6 3.5-3.2 2.4-4.5 1.6-6 3.3-12.5 2.2-9 4.3-3.5 3.5-7.5 1.2-7.5 3.2-14 1-5.5 2.9-3.5-1-.4 1.4 2.7 4.5 1.1 4.5-.5 2.5-1.8 3-2.1 2.1-2.5 1.4zM583.6 1402l-4-.1-4-1-6.9-6.4-.8-3 2-10.5-1.6-3.5-5.7-3.7-8.5 .8-4 2.1-4.5 .5-14.9 5.8-.6 2.5 2.9 5.5 .2 2-.8 2-2.8 1.7-11 2.9-10-.4-11.5 1.6-6.5-.4-5-1.1-6 .4-3-1.1-5.5-3.2-6.5-.5-3.5-.9-5-4.9-3.5-2.3-5-5.5-4.8-9.3-.3-2 1.1-1.3 5.3-3.2 2.6-6.5 2.1-2.2 6-1.5 6-3.5 4.5-.7 5-2.8 6-.1 5-3.5 4.5-1.3 3-1.6 9-7.3 12-1.6 3.5-1.2 4-2.5 5.5 2.4 2 .2 1.4-.8 1.8-3.5 1.8-1.3 7-.6 5.7-2.1 3.8-2.2 8-.5 5.5-2.9 5 1.1 13-.7 2.3 1.2 3.6 3.5 6.6 4.6 6.5 3.8 11 3.7 7.5 1.3 5.5-.8 4.6 2.4 4.4 1.4 3.5-.2 4.5 .9 19 .7 5 1.8 6.5 .9 4.9 5 .7 3.5-.7 2.5-1.2 1.5-2.7 2-4.3 1.5-6.2 3.5-11 1.3-7.5 3.4-3.5 .2-1 .7-2 3.5-6.6 .9-8.9 4-13 .7-4.5 1-4-1.3-2.4 .6-1.1 1.5-.2 2.5 .6 1.5 3.3 3 1.2 2.5 .5 3-1.2 3-2.2 2.6-3 1.8zM584.1 1376.5l1.1-2.5-.2-1-.9-.7-1.5 .8-1.4 2.4 1 1zM594.2 1379l1.1-1-.3-1-1.4-.6-1.5 .6-.4 1.5zM500.6 1400l-4 .3-5.5-.4-5.5-1.2-6.5 .1-8-4.2-9-1.3-14-12.8-3.9-8.5 0-1.5 5.4-4.4 3.2-7.1 1.4-1.5 5.4-1.3 6-3.2 4.5-.3 5-3.2 2 .2 2 1.7 1.5 0 4-4.3 10-4.6 8.5-7.1 3-.7 6.5 .1 10-3.9 5 1.9 2.5 .1 1.6-.9 1.7-3.5 1.2-1.2 6.5-.6 10.5-4.2 7.6-1 5.4-2.4 5 .9 13-.6 2 1.1 3.5 3.9 3.5 1.6 11 7.6 16.5 3.7 6-.4 9.5 3.3 27 1.1 5 1.8 6.5 1.2 3.4 3.2 1.4 2.5-.3 3.5-1.7 2.5-11.3 6-3 .9-9 .6-7 2.9-4.5 .2-4 4.1-5.5 1.2-5 3-4 1.3-8.5 .9-8-.1-12-2.3-1.7 .3-3.8 2.1-1.4-1.1-.7-4-1.9-1.4-1.7 .4-9.8 6.3-3.4-2.3-3.6-1.2-3.5-2.5-11.5 1.4-14 6.5-9.2 3.3-.2 1.5 3.8 8-.6 2.5-1.7 1.5-11.1 2.9-9.5-.2zM582.6 1401.5l-6.5-1.1-6.5-6-.8-2.9 1.7-6 2.1-2.9 2-1.2 10 .1 5-1.2 5 .8 2.5 3.6 3 1.9 1.6 1.9 .9 3-.8 3-2.7 2.9-3.5 1.7zM500.6 1399.6l-8 0-7-1.5-7.5-.4-7-3.8-8-1.2-9-7.5-5.8-6.2-1.4-7.5 4.2-6.3 3.1-6.2 1.4-1.1 4.5-1 5-2.7 5.5-.1 4.5-3.2 3.5 1.9 2.5 0 4-4.6 10-4.7 9-7.5 2.5-.4 5.5 .8 10.5-4.2 5.5 1.7 2.5-.1 2-1.3 1.7-3.5 1.3-1 5.3-.5 11.7-4.3 7.3-1.2 5.2-1.8 5 .8 13-.1 4 4.3 4.5 2 11.5 8.3 4 0 12 2.8 5.5 .1 11 2.7 26 .8 11 2.9 3.2 2.7 1.5 2.5-.3 3.5-1.9 2.4-11 5.7-2.5 .8-9.5 .5-6.5 2.5-4.5 0-4.5 3.9-5.3 1.7-5.2 3.2-4 1.3-8 .8-8-.6-5.5-.7-7-1.9-4 1.3-2.5-3.8-2.5-1.2-2 .5-3.5 2.1-5.5 1.7-6.5-1.5-5-3.3-3.6 1.1-8.9 .9-5.5 3.3-12.5 5.4-7.5 1.8-4-.5-1.5 1-.3 2.1 1.3 1.7 2 .7 4.5 .1 2 1.8 1.8 4.2-.4 1.5-1.5 1.5-3.9 1.5-7 1.4-9-.2zM585.6 1400.6l-4.5 .3-4-.7-6.8-6.2-.7-2 .5-3 1.4-3 2.1-2.4 3-1 7.5-.1 5.5-1 2.5 .2 1.8 .8 2.6 3.5 4.3 3 .9 3.5-.9 2-1.8 2-4.9 2.4zM501.1 1399l-8.5 .1-7-1.6-8-.7-6.5-3.7-7.1-1.1-9.4-7.6-5.1-5.4-.6-7.5 1.1-3 5.2-8.5 9.4-4.6 6.5-.1 3.5-2.5 4.5 1.3 3-.4 3.5-4.2 10.5-5.4 8.5-7.1 2-.3 5.5 1.1 10.5-4.4 6 1.5 2.5-.2 2-1.2 1.8-3.5 1.2-1 4.5-.6 13-4.6 11.5-2.5 5.5 .7 12 .2 4 4.2 4.5 1.8 7.5 5.4 4 3.8 5-.5 10 2.2 12.5 1.3 6.5 1.7 25 .3 10.5 2.9 3 2.2 1.5 2.5-.1 3-1.9 2.5-11 5.8-2.5 .6-9 .3-6.5 2-4-.2-6 4.7-5 1.7-5.5 3.4-3.5 .9-8 .8-12-1.1-8-3.4-4-.6-4.5-2.1-2.5 .4-4 2.1-4.5 .6-6.5-.7-6.5-3.9-9.5 2.1-4 1.4-8 4.8-9 3.6-7 1.1-4.5-.7-3 1.8-3.5-.3-.8 1.4 .8 1.2 3.5 1 3.5 2.9 6.5 2.1 1.7 2.3-.1 2.5-3.1 2-7.5 1.7-9.5 .1zM503.4 1382.5l2.3-2 .4-1.5-.5-1.1-4-2.2-3.4 .8-.1 1 3.8 4.5zM585.6 1400l-4.5 .4-4-.9-6.2-6-.5-1.5 .5-2.5 1.4-3 1.8-2 3.5-1.2 13.5-.8 2 .9 2.9 3.6 4.1 3 .5 3-2.5 3.1-4.5 2.3zM501.6 1398.5l-4 .5-5-.3-6.5-1.7-8-1-6.5-3.5-7.1-1.5-9.4-7.3-4.3-4.7-.7-7.5 1.8-4.5 4.2-5.3 8-5 6.9-.2 4.6-1.9 5.5 .6 3-.4 3-4.6 4.6-3.2 4.7-2 3.2-2.9 6-4 6.5 .8 10.5-4.4 6.5 1.3 2.8-.3 2.2-1.2 1.6-3.3 1.4-1.2 4-.8 5-2.2 8.5-2.6 10.5-2 17 1.6 4.1 3.7 4.4 1.9 7.5 4.9 3.1 4.2 1.4 1 5-1.5 9.1 2 4.9 .4 4 1.2 5-.2 6.5 1.6 10.5-.6 14 .5 10 2.8 3 2.1 1.4 2.2 0 2.5-1.8 2.5-11.1 5.9-11 .7-5.5 1.3-5-.3-6 5.2-5 1.8-5 3.1-4 1.1-8 .8-6.5-1-5.5 0-7.9-4.6-4.1-.4-4.5-1.4-7.3 2.3-5.7-.9-4 .6-7-3.8-4.5 1.2-5.5 .3-12 7.1-10 4-5.5 .5-5.5-1.2-5.5 .6-3 1.1-7-4.3-6-.1-1.8 1.4 .1 2 4 2.5 2.7 3.5 2.5-.1 4.5-2.7 3.5 3.6 3.5 1 3.7 2.2 4.8 1.8 2 2.7-.4 1.5-1.3 1-6.8 1.9-10.5 .5zM585.6 1399.5l-4.5 .3-3.5-.7-5.6-5.6-.7-1.5 .3-2 1.4-3 1.6-1.7 3-1.2 13-.7 2 1 3 3.6 3.6 3-.1 2.6-3.5 3.1-3 1.4zM498.6 1398.5l-6.5-.4-15.5-3.6-4.5-2.8-6-1.3-5-3.1-6.5-5.3-2.7-3.5-.8-7 1.5-4.1 3-3.3 9-6.5 7-.2 5.5-1.4 7.5 .9 4.5-.2 .5-.7-1.1-3.5 3.2-4 14.4-8.7 6.5-.1 10.5-4.4 6.5 1.3 6-.4 1-.7 .1-3 1.2-1.5 8.2-3.6 9-2.7 10.5-1.7 10 .7 4.5 1.1 6.5 4.4 11 5.9 2.8 4.4 2.2 1.3 5.5-1.6 8.4 1.8 4.6 .3 4.5 1.4 5-.3 7 1.5 9.5-1 15 .5 9.5 2.8 2.4 1.8 1.4 2-.1 2.5-1.5 2-10.7 5.8-15.5 1.5-6-.6-1.5 .8-4.5 4.9-5.5 2-4.5 3-3.5 1-8 .6-7-.9-5 .3-2.2-.9-3.8-3.3-3-1.3-3.5-.2-4.5-1.2-6.5 1.6-6-1.1-5 1-6.5-3.3-5 1.3-6-.8-3.5 3.4-2.5 .9-3.5-.3-2.5 4-10 4.4-4.5 .3-9.5-2.2-5 .8-7-2.6-7.3 .1-2.6 2-2.1 5 .1 1.5 1.9 .5 3-1.3 2 0 3.3 3.3 1.7 .6 6.5-1.4 3.5 2.3 3.5 1 7 3.3 1.7 2.2-1.2 1.8-6.5 2.1-9.5 .6zM585.6 1399l-4 .3-3.5-.7-5.3-5.6-.2-3 2.4-4 3.1-1.3 12-.5 2 1.1 5.3 6.2-.3 2.5-3 2.7zM499.1 1398l-6.5-.3-8.5-2.4-4.5-2-3.5-.4-3.5-2.3-4.5-1.1-6.5-2.9-6.4-5.6-2-2.5-1.3-6.5 1.1-3.5 2.7-3 7.4-5.8 3-1.2 14.5-.9 6.5 1.8 3 4.5 2 .4 1.1-1.3-.1-7 1.5-4-.1-3 6.1-5.2 6.5-2.9 6-.5 10-4.2 7 1.3 5.5 .2 3.4-.7 1.2-.5 .5-1-1-3 3.8-3 3.1-1.7 9-2.6 10-1.6 11.5 1.3 15.5 9.1 4.5 1.9 2.4 4.1 3.1 1.7 6.5-1.5 16.5 3.4 6 0 6.5 1.3 9-1.5 15 .4 9 2.8 2.5 1.7 1.1 1.7 .1 2-1.7 2.3-10 5.4-3 .7-12 .5-4.5-1-2.5 .2-1.7 .9-3.8 4.9-5.5 2.1-4.5 3.2-3 .9-5.5 .3-10-.9-5 .6-1.5-.7-3.5-3.5-3.5-1.7-4-.2-4-1.2-7 1.1-5.5-1.3-5.5 1.3-7-2.8-4.5 1.3-5-1.2-2 .2-3.5 3.4-4.5 .1-1.5 .6-3.2 4.5-6.3 3.3-3 .8-3.5 .1-9.5-2.4-6.5 .5-5.5-2-9.5 .2-2.4 2-2.6 7.5 .5 1.2 4 .8 4.5-1.1 3 2.1 2.5 .8 6-.7 8 3.1 6.2 3.8-.6 1.5-5.1 2.2zM585.6 1398.5l-6 0-3-2-3.2-5 .6-2.5 1.8-2.5 2.8-1.1 10-.6 2.3 .7 2.4 2.5 2.5 4-.6 2.5-3.1 2.5zM527.6 1374.6l-4.5 .1-9.5-2-6 .2-4.5-2.6-8.5 .5-2.7-.8-.3-1 .9-1.5 3.6-1.6 .7-.9-1.7-4-.4-4.5 2.2-8 3.2-3.1 2.5-1.6 5-2 6-.8 9-3.9 2-.2 4.5 1.3 5.5 .3 6.5-1 1.4-1.5-.1-4 3-3 3.2-1.3 12.5-3.1 5-.4 10.1 1.3 1.8 1.5 1.6 3.1 4.5 .3 4.5 2.1 3.5 2.6 4 1.4 2.6 4 3.9 2 2 0 5-1.4 16.5 3.4 6.5 .3 5.5 1 9-1.9 15 .3 8.5 2.6 2.4 1.7 1.2 2-.4 2-1.4 1.5-10.8 5.6-13 .5-5.5-1.3-3.5 .6-1.4 1.1-2.8 4.5-5.3 1.8-4 3.4-3 1.1-5 .2-11-1.1-4.5 .7-1.4-.6-2.6-3.1-2.9-1.9-5.6-.7-3.5-1.2-7 1.1-6.5-1.8-6 1.6-6-2.5-5 1.3-6.5-1.4-2.1 .6-2.9 2.7-5 1-4.5 5.2zM499.6 1397.5l-7-.2-8.5-2.8-2.2-1.5-2.3-3.2-3-.7-3.5-2.3-3.5 .4-5.5-.7-2.5-1-7.2-8-1.5-5 .7-3.2 3.5-3.8 8.5-5.9 13-.3 6 1.3 1.6 1.9 .9 4.5 1.7 4-.9 7-2.2 5 .4 1.3 6 .7 4-.6 5.5 2 6.5-.3 8 3 3.7 2.9-.7 1.5-3 1.6zM585.6 1398.1l-5.5-.1-3-1.9-2.6-4.6 .5-2.5 1.5-2 3.1-1.1 8.5-.5 2.5 .9 2.2 2.2 1.7 3.5-.8 3-2.6 1.7zM525.1 1373.1l-4.5 .2-6-1.4-6.5-.4-2-1.3-2.5-3.6-3.8-2.1-2.7-4.4-1.1-3.6 .3-2.5 2.2-5.5 2.6-2.7 3.5-2 9-2.2 9.5-3.8 11 1.3 8.2-1.1 1.5-1.5 0-4.5 2.3-2.6 9.5-3.2 6.5-1.3 4-.2 9.5 1.5 1.3 1.3 1 3 1 1 4.7 0 3.5 1.2 4.5 3.6 3.9 1.2 3.1 4 4 1.7 2.5 0 5-1.2 17.1 3.5 10.4 1.3 3-.3 6.5-2.1 15 .1 8 2.6 2.5 1.8 .9 1.6-.6 2-1.6 1.5-10.2 5.2-12 .2-5.5-1.5-5 .9-1.5 1.2-2.4 4-5.6 1.3-2.5 3.7-3.5 1.6-12-.6-5-1-3.5 .4-6.5-5.3-8.5-1.9-8 1.5-6.5-2.2-6 1.9-6.5-2.6-5 1.3-8-2-3.9 3.4-5.5 2.5-4.1 4.8-3.5 1.4zM499.6 1397.1l-7-.3-8-3-1.9-1.8-1.6-4-7.5-3-9.5 .2-2-.7-2.6-2.5-4.6-7-1-3 .8-2.5 3.1-3.5 7.8-5.5 6-.7 6.5 1.8 5.8 4.4 2.6 6 .4 5.5-2.7 6 .3 2 11.6 .1 5 1.3 6.5-.1 7.5 2.8 2.8 2.4-.7 1.5-1.6 .8zM585.6 1397.6l-5 0-2.8-1.6-2.2-4.5 .3-2 1.5-2 3.2-1.1 7-.4 2 .6 2.2 1.9 1.6 3-.4 3-1.9 1.6zM522.6 1372l-3 .2-11-1.8-1.9-1.4-2.1-3.3-3.5-2.4-3.9-7.8 .9-3.3 2.3-4.2 5.2-3.7 8-2 10-3.7 5.5 1 4.5 .1 9.6-1.2 1.7-1.5 .2-5 2-2.5 8.5-2.7 6.5-1.4 4-.2 8.5 1.5 1.1 .8 1.3 3.5 1.1 1.2 8.5 1.2 4.5 4.6 3 .5 3 3 5.5 2.3 2.5 .1 5.5-1 26.5 5 4-.6 6-2.4 15 0 7.5 2.5 2.3 1.6 .8 1.5-.3 1.5-1.8 1.8-9.5 4.9-11.5 .1-6-1.8-5.7 1-1.5 1-2.8 3.7-5.5 .9-1.6 4.4-1.4 1.3-2 .6-13.5-1.2-9-3.4-10-6-1.9 .2-8.1 3.2-2-.3-5-2.1-7 2-6.5-2.7-4 1.1-1.5-.2-2.8-1.5-2.2-2.3-2-.3-2 1-3.3 4.6-4.9 3.5-3.8 4.5-3 1zM481.1 1385l-3 .1-6-1.4-8.5-.3-1.5-.6-2.5-2.9-4-6.4-.4-2 1.1-2.5 2.3-2.8 8-5.1 5-.5 5.5 2 5.9 4.9 2.7 7 .2 2.5-.7 2.5-2.6 4.2zM500.1 1396.5l-7.5-.3-7.5-3.1-1.7-2.1 .1-3 1.6-.8 4-.6 18 .9 6.8 2.5 2.1 2-.9 1.3-4 1.5zM585.6 1397.1l-4.5 0-2.9-1.6-1.6-4 .5-2 1.2-1.5 3.3-1.1 5.5-.3 2.5 .8 1.8 1.6 1.3 3-.6 2.5-2 1.4zM520.1 1371l-11.5-1.8-3.5-4.5-3.3-2.7-3.2-7.5 3.8-7 4.2-2.8 17-5.1 7 .7 13.3-1.3 2.5-2.5-.1-4.5 1.4-2 7.9-2.8 6.5-1.4 4.5 0 7.2 1.7 1.1 1 1.2 3 1.5 1.3 8.5 1.5 1.6 1.2 2.4 4.2 3.5 .7 3 1.8 6 2.2 8.5-.6 25.5 5.4 4.5-1 6-2.7 15-.2 6.8 2.2 2.1 1.5 .9 1.5-.4 1.5-2.2 2-5.2 3.1-3.5 1.2-10.5-.1-6.5-2.2-6.5 1.2-4.5 4.2-5.2 1.1-1.8 5.4-3 1.4-14-2.1-8.5-3.5-9.5-6.2-5.5 .4-2.4 2.6-2.1 1-2-.2-5.5-2.1-6.5 2-7-2.8-4.5 .5-1.3-.9-1.7-3.2-5.5 .1-2.3 1.1-4.1 6-4.3 3.5-3.3 3.9-2.5 .8zM478.6 1383.6l-2.5 .1-11.5-1.9-2.5-1-2.9-3.3-2.4-4.5-.1-2.5 1.2-2.5 7.2-5.4 2.5-1 4.5-.2 5 2.5 5 4.6 2.7 7.5-.2 2.5-1.5 2.7-2 1.7zM585.6 1396.6l-4.5 0-2.5-1.6-1-3.5 1.5-2.9 3-1.2 4-.4 2.5 .6 2 1.5 1.2 2.4-.3 2.5-1.9 1.5zM500.1 1396.1l-5 0-3.5-.8-6.4-3.3-.7-2.5 1.1-1.2 3-.8 17 .4 5 1.3 3.1 2.3-.7 1.5-2.4 1.3zM520.1 1369.6l-3 .2-8-1.6-3.1-4.2-3.4-2.8-2-6.7 1.6-4.5 1.7-2.5 3.2-2.1 17-4.9 6 .4 14.4-1.4 3.5-3-.5-4.5 1-1.5 7.1-2.8 7-1.6 3.5 0 3.1 .9 3.9 1.8 2.1 3.2 2.2 1.5 8.2 1.7 1.5 1.3 1.5 4 1 .9 3.5 .5 9.5 3.1 8-.5 7.5 1 7 1.6 10.5 4 6-1.9 5.5-3.2 15-.4 6 2 2.1 1.4 .8 1.5-.8 2-2.6 2-4 2.4-3.5 1-10-.3-7-2.7-7.5 1.4-3.5 3.8-5.5 1.7-.9 1.7-.6 3.6-1 1.1-1.5 .3-7.5-1.7-7-.8-7-3-7.6-5.5-3.4-1.2-6.5-.7-1.2 .9-1.2 3-1.1 .7-7-1.9-7 1.7-6.5-2.8-3.5-.2-3.5-3.9-8.3 .4-1.5 1-3.7 7-4.5 3.5-2.5 3.5-2.5 .8zM477.1 1382.6l-2.5 0-9.5-1.9-3-1.3-2.3-2.4-2-4-.1-2.5 1.1-2.5 6.8-4.8 3-1.1 3.5 .1 4.5 2.4 4.8 4.9 1.6 3.5 .6 3-.3 2.5-1.2 1.8zM585.6 1396l-3.5 .2-2.7-1.2-1-3 1.7-3 2.5-1.1 3.5-.3 2 .5 2 1.5 1 2.4-.5 2-1.5 1.1zM500.6 1395.5l-8-.4-6.1-3.6-.6-1.5 1-1 2.2-.5 15.5-.1 4.5 .9 2.9 2.2-.6 1.5-1.7 1zM528.6 1368.5l-7-.8-5 1.1-7.5-2.1-2.3-3.7-3.2-2.4-.8-1.6-.2-2.5 1-5.5 1.3-3 2.2-1.7 11.5-3.7 6-1.1 20.5-1.6 3.2-1.9 1.9-2 .1-1-1.3-2.5 .6-1.5 5.5-2.6 7-1.8 3-.1 3 .7 2.2 1.3 2.6 3.5 5.2 2.5 7 1.7 1.5 1.8 1 3.7 1.5 1.2 8.5 1.1 6 1.8 7.5-.5 13 2.4 6.9 3.3 1.9 3.5-.1 2-1 2-5.7 2.5-1.2 2-.8 3.9-2 .7-7-2-7-.5-6.8-3.1-7.2-5.4-5-1.5-6-.6-1.7 1-2.3 3-6.5-1-7 1.4-9-3.7-3.5-3.2-5 .4-6.9-1.4-1.3 1 .2 4-2 5-4.5 3.3-2.1 3.2zM659.6 1357.5l-9.5-.6-7-3.7-3.3-.2 0-.5 5.6-5 3.2-1.2 14.5-.2 4 1.4 2.6 2 .3 2-1.9 2-4.5 2.9zM476.1 1381.6l-11-1.8-3-1.4-2.1-2.4-1.2-3-.2-2.5 .9-2 6.6-4.7 2.5-1 3.5 .2 4 2.2 4.4 4.8 1.8 5-.7 2.5zM585.1 1395.6l-3.5 0-2-1.6 0-3 2-2 5-.7 2 .8 1.3 1.4 .4 2-.7 1.4zM500.1 1395.1l-7.3-.6-2.2-1.5-2-2.5 4-1.2 11.5-.4 4 .8 2.4 1.8-.1 1-1.5 1zM528.6 1367.6l-7-1-5.5 1.2-6-2.4-2.2-3.4-3.4-3.5 .2-1.5 1.8-2.5-1.2-4 .8-2.2 1.9-1.3 10.6-3.7 27.5-3.1 4-2.2 2.1-2 .2-1.5-1.5-2.5 1.1-1.5 4.1-1.9 6.5-1.6 3.1 0 2.7 1 1.1 1.5 .5 2.5 1.2 1 13.2 4 1.2 1.5 .9 4.5 1.6 1.2 9.5 .5 7 1.7 6.5-.4 7 .8 8.1 2.7 3.9 2.9 1.2 2.6-.7 2.6-5 2.6-2.5 5.7-1.5 .5-6-1.7-7.5-.5-6-2.9-3.5-3.3-3.3-2-7.2-2-5.5-.2-4.5 3.1-6.5-.1-6.5 1-7.9-3.8-4.1-3.2-4 .2-8.5-1.4-2.3 .9-2 2.5-.1 1.5 1.9 3-.9 3-4.5 3-2.5 3.5zM659.6 1357.1l-6.5-.2-4-1.1-4.3-3.3-.5-1.5 .4-1.5 1.4-1.6 2.5-1 12.5-.6 4.5 .9 3.3 2.3 .1 2-1.8 2-3.6 2.3zM475.1 1380.7l-10-1.8-2.5-1.1-1.7-1.8-1.2-2.5-.3-2.5 .8-2 8.4-5.5 3 0 3.7 2 4.5 5 1.3 4-1 2zM585.1 1395l-4-.4-.9-1.1-.1-1.5 .8-1.5 1.7-1.2 4-.4 2.4 1.6 .4 2-1.2 1.5zM499.6 1394.5l-6.5-.7-1.6-1.3-.2-1.5 2.8-1 9-.6 3.7 .6 2.2 1.5-.3 1-1 .5zM557.1 1333.6l-3-.2-1.3-1.4 .2-1 3.4-2 6.2-1.6 3.5 .2 2.1 1.4-.1 2.1-1.5 1.7zM528.1 1366.6l-6-.9-6 1-4.6-2.7-3.6-5 .6-4.5-1.6-4 .3-1.5 10.4-4.9 20.5-2.7 7-.3 5-1.9 4.5-3 5.5 .8 7-3.5 9 1.7 7 2.2 1.4 1.6 .6 4.7 2 1.7 10-.1 7.5 1.7 6.5-.4 6.5 .8 7.4 2.6 3.8 3 1 2-.7 2-3.5 1.8-3.5 5.4-1.5 .5-5-1-7-.3-5.8-2.9-3.7-4-4.5-1.8-7-1.7-5 0-5.5 2.7-12.5 1.1-6.9-3.8-4.1-3.3-13.5-.9-2.9 1.2-2.9 3 .1 2 2.1 3-.4 2-4 2.4-2.5 3.5zM659.6 1356.6l-6-.2-4-1.1-3.5-2.8-.6-1.5 .3-1.5 1.3-1.3 2-.8 11-.8 4 .5 3.5 1.9 .7 2-1.4 2-3.3 2.3zM473.6 1379.5l-8.5-1.4-2.5-1.2-2.2-3.9 .7-3.5 8-5.3 2.5 .1 3.3 1.7 3.8 4.5 1.3 3.5-.9 1.7-4 3.3zM584.1 1394.5l-2-.2-.9-.8 .4-2.5 3-1.5 3.2 1 .7 1.5-.4 1zM501.6 1393.6l-6.5-.2-1.4-.4-.7-1 1.3-1 7.8-1 3 .4 1.6 1.1-1.1 1zM562.1 1332.1l-6 .4-1.6-1 1.6-1.7 5.5-1.7 3.5-.1 1.8 1 .1 1-.9 1zM518.6 1365.6l-2 .2-1.8-.8-3.8-3.5-1.6-3 .3-4.5-.6-4 4.7-3.5 5.8-2.2 7.5-.3 11-2.2 7.5-.3 4.9-1.5 4.1-2.4 5 .7 4.5-1.9 3.5-.6 8 .1 6.5 1.9 1.3 1.7 .3 5 2.4 2 3.5 .3 7.5-.9 8.5 1.8 5.5-.4 5.5 .5 7 2.7 3.6 3 .8 1.5-6.9 7.9-10.5-.1-2.5-.6-4-2.2-2-3.7-1-.8-14.5-3.6-4 .3-6 2.6-12 1.1-2.5-1.1-3.9-2.8-2.9-3-2.2-.9-13.5 .2-7.5 3.5-2.1-2.3-1.4-.6-.8 .6 .1 1.5 3.7 2.1 2.8 5.9-3.6 2-1.4 3-1.3 1.2-6-.3zM659.6 1356.1l-5 0-4.5-1.3-3.1-2.8 0-2.5 2.6-1.5 10.5-1 3.5 .3 3.1 1.7 .8 1.5-1 2-2.9 2.2zM473.6 1378l-7.5-.6-2.5-.8-2.1-2.6 .3-3.5 7.3-5.4 2-.2 2.5 1 3.4 3.6 1.8 4-.8 1.5zM584.6 1393.6l-2-.3-.4-.8 .4-1 2-1 2 .5 .2 1.5zM501.6 1392.6l-2-.1-.5-.5 2.5-1 1.9 .5zM562.6 1331.1l-5.4-.1 .6-1 2.8-1.1 2.5-.4 2.1 .5 0 1zM519.6 1364.6l-2.5 .2-1.5-.7-4-3.6-1-2 .7-7.5 4.1-4.5 5.2-1.7 7 .4 3.4-1.7 3.6-.9 11.4-.6 5.1-1.2 3.5-2 5 .4 6-2 10-.4 4.9 1.2 1.5 1.5 .6 6.4 3 2.2 11.5-1.6 9 2 5.5-.6 4 .4 7 2.9 2.5 3.3-2.5 5-2 2-9.5 .2-5.5-2.3-1.8-3.9-1.2-1-10.5-1.9-5.5-1.9-3 .2-7 2.9-12 1-4.2-2.3-3.8-4.6-2.5-1.2-14.5 1-6 2.2-5.5-2.8-1.5 1.3-.5 2.6 3.6 5.5-2.2 3-.2 3.5-1.2 .7zM659.6 1355.6l-4.5 .1-4-1.1-3-2.6-.1-2 2.1-1.4 9-1.2 4 .2 2.8 1.4 .8 1.5-1.1 2-2.5 1.8zM473.1 1376.5l-8.5-.4-2-1.9 0-2.6 3.5-2.1 3-3.4 1.5-.4 2 .4 2.7 2.4 2 4-.7 1.7zM576.1 1353l-12.5 .3-3.4-2.3-3.1-4.8-2.5-1.1-10 1.8-5 .2-6 1.9-2.8-1.5-1.1-2 1.7-1.5 3.2-.9 16.5-1.1 4-2 4.5 .2 5.5-2 12-.3 2 .7 1.4 1.4 .5 5.5 1.3 4-2.7 2.4zM521.6 1363.5l-3 .4-2-.5-4.4-3.9-.7-2.5 .9-4 3.2-5.5 3-1.7 3.5-.4 2.7 .6 .7 1.5-1.1 7.5 .6 6.5-.9 1.2zM615.1 1360.1l-3 .2-1.9-.8-3.2-2.5-1.1-2.5-1.2-1-6.1-.3-6-1.3-2.2-.9-.9-1.5 7.6-2.3 9.5 2.3 5.5-.8 5 .9 4.8 2.9 .8 3-2.1 4zM659.1 1355.1l-3.5 .1-3.5-.9-2.4-1.8-.5-2 1.9-1.3 7-1.4 4 0 2.9 1.2 .8 1.5-1.1 2-2.6 1.7zM472.1 1375.2l-6.5-.1-1.7-1.6 .7-1.3 3-1.1 1.5-3.6 1.5-.9 3 1.1 2 3.8-.5 1.7zM576.6 1352.1l-14-.6-1.7-1.5-2.8-4.8-2.3-2.7 9.3-3.4 12.2 .4 1.6 2 1.5 7.5-1.1 2zM535.1 1348l-1.5 .2-1.5-.7-1.1-1.5 .3-1 2.3-1.2 4.5-.6 10.5 0 1.5 .8-2.6 1.5-7.9 1zM519.6 1363l-2.3-.5-3.7-3.2-.8-1.3-.1-2 2.7-4 1.7-4.3 2.2-1.2 2.8-.2 1.9 1.2-1.8 7 1.2 6.5-1.3 1.4zM601.1 1352.5l-4-.3-3.9-1.2-1-1 2.1-1.5 3.3-.7 4.9 1.2 2.1 1.5-.5 1.2zM658.6 1354.6l-3 .1-2.5-.7-2-1.5-.4-1.5 2.3-1.5 5.1-1.2 4 0 2.5 1.2 .3 1.5-1.3 1.5zM613.1 1356.5l-1.5-.3-2.2-3.2-.3-2 1.1-1 1.9-.4 3 .4 1.9 1 1.3 1.5-.2 1zM473.1 1372.1l-1.5 .4-1-1-.5-2 .8-1.5 1.2 0 1.4 1.5 .3 1.5zM576.6 1351.1l-7.5-1.3-6 0-1.5-1.2-1.6-2.6-.7-2 .2-1 3.1-2.1 2.5-.9 6-.1 4 .8 2.5 2.7 1.4 4.6-.4 2zM535.6 1347.2l-2.5-.1-.9-1.6 1.4-1.1 3-.5 3.4 .1 3.6 1-4.5 .7zM519.6 1362l-2.2-1-2.5-2.5-.6-1.5 .7-1.5 3.5-3.5 .2-3.5 1.9-.8 1.1 .8-1.8 4 2.1 7.5-.7 1.5zM601.1 1351.6l-4-.2-1.8-.9-.2-1 2-.9 3.2 .4 2.2 1.5zM658.1 1354.1l-4.3-.6-1.3-1 0-1.5 2.4-1.5 2.7-.7 4-.1 2 .8 .4 1-.9 1.5zM575.6 1350l-8-2.1-4.5-.5-1.8-1.9-.2-2 1.6-1.5 2.4-1 5-.3 3 .8 2.5 2 1.8 3 .1 2.5zM535.6 1346.1l-1.5 .1-.2-.7 2.7-.5 .1 .5zM658.6 1353.2l-3.5-.1-1.2-1.6 1.6-1.5 2.1-.7 3.5 0 1.6 .7-.5 1.5zM519.6 1359.7l-1-.3-.2-1.4 1 .5zM575.6 1348.1l-1.5 .3-3-.8-4.5-2.6-2.5-.6-.2-.9 4.2-1.6 3.2 .1 3.9 3.5 .7 1.5zM658.6 1352.1l-2 .3-.9-.9 1.9-1.3 3 .3z"/>
<path fill="#29a9e0" fill-rule="evenodd" d="M71 1634l-5-.4-6.5-2.3-4.2-2.8-2-3-.2-8-1.7-7-.2-4.5 1.5-4.5 3.6-4.5 6.7-4.8 4-2 12.5-3.5 12-1.6 8 .3 9.5 1.7 4.5 2 4.2 3.4 1.8 2.5 1.1 3 .4 9.5-1.8 7.5-3.2 4.2-5.5 3.9-9 3.7-11 2.3-11.5 3.6zM72 1629.5l-4-.4-4-1.5-2.7-2.1-1-2 .6-3 3.3-5-1.5-6 .2-2.5 4.2-7 9.9-6 16.5-4.2 4.5-.2 4.5 .8 4 1.4 3.1 2.2 1.3 3.5-1.2 11-1.4 4-2.3 3-8.5 4.8-10.5 2.2-4 1.8-5.5 3.9z"/>
<path fill="none" stroke="#29a9e0" d="M71 1634l-5-.4-6.5-2.3-4.2-2.8-2-3-.2-8-1.7-7-.2-4.5 1.5-4.5 3.6-4.5 6.7-4.8 4-2 12.5-3.5 12-1.6 8 .3 9.5 1.7 4.5 2 4.2 3.4 1.8 2.5 1.1 3 .4 9.5-1.8 7.5-3.2 4.2-5.5 3.9-9 3.7-11 2.3-11.5 3.6zM72 1629.5l-4-.4-4-1.5-2.7-2.1-1-2 .6-3 3.3-5-1.5-6 .2-2.5 4.2-7 9.9-6 16.5-4.2 4.5-.2 4.5 .8 4 1.4 3.1 2.2 1.3 3.5-1.2 11-1.4 4-2.3 3-8.5 4.8-10.5 2.2-4 1.8-5.5 3.9zM74.5 1628.5l-4 .3-3.7-.8-3.6-2-1.7-2.5 .5-2.7 4-5.1-1.9-7.7 1.1-3 2.8-4.3 9.5-6 16-4.3 4-.3 4 .6 4 1.4 2.8 1.9 1.2 2 .1 2.5-1.8 11.5-2.5 4.5-2.8 2.1-6 3.1-8 1.2-4.6 1.6-5.9 4.6zM73 1628l-3.5-.1-3-1-2.7-1.9-1-2 .7-2.2 4.2-4.8 0-2-1.8-3.5-.3-2.5 1.6-4 2.2-3 8.1-5.4 16.5-4.6 3.5-.2 4 .6 3.5 1.3 2.4 1.8 1 2 0 2-1.7 6-.5 6-2.2 3.6-8.5 4.8-7.5 1-5 1.6-5.7 5zM73.5 1627l-5.5-.6-2.3-1.4-1.1-2 .7-2 3.2-3 1.2-2-.2-2-2.4-5.5 .8-3 2.4-3.5 7.2-5.2 16-4.9 6.5-.2 3.5 1.2 2.4 1.6 1.2 2 0 2-2.1 6-.4 6-1.6 2.8-8 4.6-7.5 .9-5.5 1.7-2.2 1.5-3.3 3.8zM74 1625.6l-4.5-.1-1.7-1-.9-1.5 .6-1.5 3.8-3.5 .8-1.5-.4-2.5-2.9-5.5 .8-3 2.2-3 6.2-4.7 15.5-5.1 6-.3 3.1 1.1 2.1 1.5 .9 1.5 0 2-2.4 6-.2 5.5-1.4 2.5-7.6 4.3-7 .8-7 2.2-2 1.5-2.2 3.2zM78.5 1618l-2.3-1-5.2-8.5 .5-3 3-3.5 4.4-3 15.6-5.5 5-.1 3.8 2.1 .7 1.5-.1 2-2.8 5.5-.4 5-1.2 1.9-6.5 4zM83 1615.6l-3.7-.1-2.6-2.5-3-5.5 .3-2 1.4-2 3.6-2.6 6.5-2 9-4.2 3.5-.4 3.1 1.2 1 1.5 0 2-3.6 5.5-2.2 6-4.3 3.2zM84.5 1613l-3.5 0-1.8-1.5-1.9-4.5 .8-2.5 2.9-1.7 8.5-2.3 5.5-4.1 2-.5 2 .6 .7 1-.2 1.5-4.3 4.5-2.5 6.5-2.7 1.8z"/>
<path fill="#29a9e0" fill-rule="evenodd" d="M421.5 1716.5l-11.5 .2-10-2.4-11.2-6.8-1.6-2 0-2.5 2.2-2.5 4.1-1.8 13-2.9 6-.7 7 .1 6 1 5.5 1.9 3.9 2.4 1.9 2 1.1 2.5-.1 2.5-1.4 2.5-2.4 2.2-3.5 1.9zM418 1713l-6.5 0-5.5-1.3-12-5.1-1.8-1.6-.1-1.5 1.4-1.5 3-1.2 18-2 8 1 3.5 1.4 2.6 1.8 1.4 3-1.5 3.1-4.5 2.6z"/>
<path fill="none" stroke="#29a9e0" d="M421.5 1716.5l-11.5 .2-10-2.4-11.2-6.8-1.6-2 0-2.5 2.2-2.5 4.1-1.8 13-2.9 6-.7 7 .1 6 1 5.5 1.9 3.9 2.4 1.9 2 1.1 2.5-.1 2.5-1.4 2.5-2.4 2.2-3.5 1.9zM418 1713l-6.5 0-5.5-1.3-12-5.1-1.8-1.6-.1-1.5 1.4-1.5 3-1.2 18-2 8 1 3.5 1.4 2.6 1.8 1.4 3-1.5 3.1-4.5 2.6zM418 1712.5l-6 0-5.5-1.2-12-4.9-1.6-1.4-.1-1.5 1.5-1.5 2.7-.9 17.5-1.8 7.5 .9 5.5 2.8 1.5 3-1.5 3-4 2.3zM418 1712l-5.5 .1-5.5-1.2-12-4.8-1.3-1.1-.2-1.5 1.5-1.3 2.5-.8 17.5-1.6 7 1 4.9 2.7 1.1 2.5-1.5 2.9-3.5 2zM417.5 1711.5l-5 0-4.5-.9-12.1-4.6-1.3-1-.2-1.5 1.1-1 2.5-.8 17-1.4 6.5 1 4.1 2.2 1.3 2.5-1.3 2.5-3.4 2zM416.5 1711l-7.5-.8-6-2.7-6-1.7-1.7-1.8 .7-1 2.5-.8 7-.1 9.5-1.2 6 .9 3.8 2.2 .8 2.5-1.3 2-3.3 1.7zM418.5 1710.1l-4.5 .3-4-.7-6.5-3.1-5.5-1.2-1.3-1.4 2.3-1.2 6.5 .1 7.5-1.2 6.5 .4 3.7 1.9 1 2.5-1.7 2.1zM417 1709.5l-3.5 .1-3.5-.8-3-1.8-1.8-2 4.8-2 4.5-.6 4.5 .5 2.9 1.6 .7 1.5-.7 1.5-1.9 1.2zM416.5 1708.5l-5.1-.5-1.7-1-.7-1.5 1.5-1.3 3-.7 3.1 0 2.9 1 .9 1-.3 1.5z"/>
<path fill="#29a9e0" fill-rule="evenodd" d="M464 1778.6l-9.5-.4-10.5-3.3-10-4.7-9-7.6-5.9-7.1-3.7-8-.3-6 3.5-5.5 3.9-3 5-1.3 6.5-.2 7.5 1.2 5 1.5 7.5 3.5 11.5 8.2 5.2 5.6 3.9 5.5 1.7 4.5 .6 5.5-.8 4-2.6 3.6-4 2.5zM456.5 1770l-7-.5-6-1.9-4.9-2.6-6.8-5.5-3.8-4.5-2.1-5 .1-4 2.4-3.5 2.6-1.9 2.5-.8 10 .8 8.5 3.5 6.8 4.9 2.5 3 3.7 6 1 2.5 .1 2.5-.8 2.5-1.8 2-3 1.5z"/>
<path fill="none" stroke="#29a9e0" d="M464 1778.6l-9.5-.4-10.5-3.3-10-4.7-9-7.6-5.9-7.1-3.7-8-.3-6 3.5-5.5 3.9-3 5-1.3 6.5-.2 7.5 1.2 5 1.5 7.5 3.5 11.5 8.2 5.2 5.6 3.9 5.5 1.7 4.5 .6 5.5-.8 4-2.6 3.6-4 2.5zM456.5 1770l-7-.5-6-1.9-4.9-2.6-6.8-5.5-3.8-4.5-2.1-5 .1-4 2.4-3.5 2.6-1.9 2.5-.8 10 .8 8.5 3.5 6.8 4.9 2.5 3 3.7 6 1 2.5 .1 2.5-.8 2.5-1.8 2-3 1.5zM456 1769l-6-.2-4.5-1.2-5.5-2.7-6.5-4.9-4.2-5-2.1-4.5-.1-3.5 2-3.5 2.4-1.9 2.5-.7 9.5 .6 8.5 3.6 5.7 3.9 2.6 3 3 5 1.6 5-.7 2.5-1.7 1.9zM455 1768l-5.5-.1-4-1.1-5-2.6-6.3-4.7-3.9-5-1.8-4 .1-3.5 1.9-3 4-1.9 9.5 .5 8.5 3.7 4.6 3.2 5 7.5 1 2.5 .2 2.5-.7 2-1.6 1.6zM453.5 1767l-4.5-.1-3.5-1-10.4-6.9-2.6-3.5-2.4-5 .1-3 1.4-2.5 3.9-1.7 8.5 .4 9 3.9 3.5 2.5 4.4 6.9 .9 4.5-.9 2-1.9 1.7zM455 1765.5l-5 .5-3.5-.8-9.8-6.2-2.4-3-2.1-5-.3-2.5 1.1-2.3 3.5-1.6 7 .2 9 3.7 3 2 2.9 4 1.9 5.5-1.3 3.2zM453 1764.5l-4 .2-3-.8-8.5-5.9-1.8-2.5-1.4-4-.1-2.5 .8-1.7 3-1.3 5.5 .1 9 3.6 2.5 1.7 2.6 4.1 1.1 4.5-1.8 3zM452.5 1763l-3.5 .3-2.5-.6-7.2-5.2-2.4-4-.3-2.5 .5-2 2.4-1.3 4 0 10.5 4.5 2.1 3.3 .7 4-1.3 2.2zM450 1761.5l-3.5-.5-3.6-3-2.9-4.4-.2-1.6 .7-1.2 1.5-.7 2.5 .2 6.5 1.9 2.1 1.3 1.4 2.5-.1 3-1.4 1.6zM450 1758.7l-2 .2-1.4-.9-.7-1.5 .6-1.8 2-.6 2.5 1 .5 1.9z"/>
<path fill="#00a651" fill-rule="evenodd" d="M664.5 88.5l-15.5-.9-11-3.3-5-2.9-2.9-2.9-1-3 .5-3 3.4-4.1 6-3.2 10-2.3 8-.5 11.5 .3 10.5 2 7.5 3.6 4.4 4.2 .9 2.5-.3 3-1.5 2.4-2.5 1.9-9.5 4zM664.5 83.6l-9.5-.4-10.5-3-4.9-3.2-1-2 .1-2 1.8-2.5 3-1.9 5.5-1.4 6-.5 15 1.4 5.6 2.4 3.7 3 .6 1.5-.2 1.5-2.4 2.5-6.3 3.1z"/>
<path fill="none" stroke="#00a651" d="M664.5 88.5l-15.5-.9-11-3.3-5-2.9-2.9-2.9-1-3 .5-3 3.4-4.1 6-3.2 10-2.3 8-.5 11.5 .3 10.5 2 7.5 3.6 4.4 4.2 .9 2.5-.3 3-1.5 2.4-2.5 1.9-9.5 4zM664.5 83.6l-9.5-.4-10.5-3-4.9-3.2-1-2 .1-2 1.8-2.5 3-1.9 5.5-1.4 6-.5 15 1.4 5.6 2.4 3.7 3 .6 1.5-.2 1.5-2.4 2.5-6.3 3.1zM664 83l-9-.4-10.5-3.1-4.3-3-.8-2 .4-2 1.7-2 3-1.7 6-1.3 5-.3 14 1.4 4.5 1.9 3.7 3 .5 2.5-2.8 3-5.4 2.8zM663 82.5l-8.5-.6-10-3.2-3.5-2.7-.6-1.5 .4-2 1.7-2 2.5-1.3 10.5-1.5 13.5 1.5 4.1 1.8 2.8 2.5 .4 2.5-2.7 3-5 2.5zM665.5 81.5l-9 .1-9.5-2.6-4.5-2.5-1-1.5 .1-2 .9-1.5 2.2-1.5 7.3-1.7 5.5 .1 11.6 1.6 4.6 3 .8 1.5-.1 1.5-3.4 3.5zM664 81l-8-.1-9-2.7-3.6-2.2-.8-1.5 .1-1.5 1.1-1.5 2.2-1.2 8-1.5 12 1.2 4.9 2 1.8 2.5-1 3-3.2 2.3zM664.5 80.1l-6 .3-6-1.2-6.8-2.7-1.6-1.5-.2-1.5 .9-1.5 1.7-1 6-1.4 6 .2 8.5 1.5 3.4 2.2 .4 2.5-2.2 2.5zM661 79.5l-5.5-.4-6-1.9-3.1-1.7-.8-2 .9-1.2 2-1 6-1.1 10 1.6 2.5 .9 1.5 1.3 .2 2-1.2 1.5-3 1.5zM662.5 78l-4.5 .4-4.4-.9-4.7-2-.9-1-.1-1 2-1.5 3.1-.7 9.3 1.2 3.1 1.5 .7 1.5-1.1 1.5zM659.5 76.5l-5.5-.5-2.2-1-.6-1 2.3-1.3 5.6 .8 2.3 1.5-.4 1z"/>
<path fill="#00a651" fill-rule="evenodd" d="M509.5 413l-14.5-.7-13-2-5.5-1.6-7.5-3.2-3.5-2.5-1.9-3.5 .4-4 3.2-3.5 10.3-4.9 12.5-3 15-1.1 27 1.4 17.5-.9 10 .8 6.5 1.4 5 2.1 5.5 3.6 2 3.1-.2 3.5-2.8 3.5-5 3.3-7.5 2.5-8 1.4-16.5 1.2-13 2.1zM516 407.5l-17 .3-10-1.9-9-3.9-2.2-2.5-.1-2.5 1.2-2 2.1-1.6 8.5-3.6 16.5-2 10 .5 15 1.9 16.5-1.9 6.5 .1 10 2.6 2.7 2 1.3 2.5-.4 2.5-1.7 2-6.9 3-9.5 1-11 .1z"/>
<path fill="none" stroke="#00a651" d="M509.5 413l-14.5-.7-13-2-5.5-1.6-7.5-3.2-3.5-2.5-1.9-3.5 .4-4 3.2-3.5 10.3-4.9 12.5-3 15-1.1 27 1.4 17.5-.9 10 .8 6.5 1.4 5 2.1 5.5 3.6 2 3.1-.2 3.5-2.8 3.5-5 3.3-7.5 2.5-8 1.4-16.5 1.2-13 2.1zM516 407.5l-17 .3-10-1.9-9-3.9-2.2-2.5-.1-2.5 1.2-2 2.1-1.6 8.5-3.6 16.5-2 10 .5 15 1.9 16.5-1.9 6.5 .1 10 2.6 2.7 2 1.3 2.5-.4 2.5-1.7 2-6.9 3-9.5 1-11 .1zM513 407l-14 .1-9.5-1.9-8.5-4-1.7-2.2 0-2 2.8-3 7.9-3.5 16-2.1 10 .5 8.5 1.7 7 .4 16-2.1 6 .1 9.5 2.5 2.5 1.8 1.1 2.2-.2 2-1.5 2-6.4 2.9-9 1-12-.1-8 1-9 2.1zM510.5 406.5l-12-.2-8-1.6-8-4.2-1.2-1.5-.1-2 2.8-2.7 7-3.3 15-1.9 10 .6 8 1.7 7.5 .6 16-2.4 5.5 .1 8.5 2.1 2.5 1.7 1.1 2-.2 2-1.4 1.7-6 2.5-8 .9-8-.5-6.5 .5-6 .8-9 2.4zM512.5 405.5l-13.5 0-7-1.3-3.5-1.5-3.1-2.2-1.6-2 0-1.5 2.4-2.5 5.3-2.7 14.5-1.9 10 .5 7.5 1.9 8.5 .9 15.5-2.8 4.5 0 7.5 1.7 2.4 1.4 1.4 2 0 1.5-1.3 1.8-5 2.1-7.5 .9-7.5-.7-9.5 .5-12 3.3zM514 404.5l-6.5 .5-13.5-1.3-5.6-2.7-1.6-2-.3-2 2.1-2.5 3.4-1.8 14-2 10.5 .7 7 2.1 9 1.5 14.6-3.5 4.9-.2 6.7 1.7 1.9 1.5 .7 1.5-1.4 2.5-4.4 1.6-6.5 .7-6.5-1-9.5-.2-3.5 .8-8.5 3.4zM509 404l-11.5-.7-3.5-.8-4.2-2.5-.9-3 1.5-2 2.6-1.3 13-2 10.8 .8 9.8 3.5 1.4 1 0 1-1.4 1.5-5.2 3zM551.5 399.5l-4.5-.4-6.9-2.6 5.3-3 4.1-1.1 5.6 .6 3.3 2 .4 1.5-1.3 1.5zM511.5 402.6l-4 .2-11.5-1.2-3.5-1.6-1.3-2.5 .9-1.5 2.9-1.4 6.5-1.4 5-.3 10 .8 3.6 1.8 2.5 2.5-.5 2-2.3 1.5zM553 397.5l-4 0-1.4-1-.1-1 2.5-1.5 3.7 .5 1.4 1.5zM511.5 401l-4.5 .2-9-1.4-2.1-.8-.6-1.5 2.1-1.5 4.1-1.3 10-.2 4.5 .6 2.8 2.4 .1 1.5-1 1z"/>
<path fill="#00a651" fill-rule="evenodd" d="M237.5 920.6l-7.5 .4-7.5-.8-7-1.9-5.5-2.7-4.2-3.6-2.3-4-.4-4.5 1.6-4 3.3-3.6 5-3.1 6-2.2 7-1.3 7-.2 7 .8 6.5 1.8 5.5 2.7 4 3.4 2.3 3.7 .6 4.5-1.3 4-3.1 3.7-4.5 3-6 2.5zM234.5 915.5l-10-.5-4.5-1.3-3.5-1.9-2.5-2.3-1.5-3 0-3 1.1-2.5 2.5-2.5 3.4-1.9 9-2.2 9.5 .7 7.5 3.1 2.5 2.3 1.4 2.5 .2 3-.9 2.5-2.2 2.5-3.5 2.2z"/>
<path fill="none" stroke="#00a651" d="M237.5 920.6l-7.5 .4-7.5-.8-7-1.9-5.5-2.7-4.2-3.6-2.3-4-.4-4.5 1.6-4 3.3-3.6 5-3.1 6-2.2 7-1.3 7-.2 7 .8 6.5 1.8 5.5 2.7 4 3.4 2.3 3.7 .6 4.5-1.3 4-3.1 3.7-4.5 3-6 2.5zM234.5 915.5l-10-.5-4.5-1.3-3.5-1.9-2.5-2.3-1.5-3 0-3 1.1-2.5 2.5-2.5 3.4-1.9 9-2.2 9.5 .7 7.5 3.1 2.5 2.3 1.4 2.5 .2 3-.9 2.5-2.2 2.5-3.5 2.2zM231.5 915l-8.5-1.1-6.6-3.4-2.1-2.5-.8-2.5 .3-2.5 1.5-2.5 2.7-2.2 3.5-1.7 9-1.6 9 1.2 4 1.8 2.7 2 1.8 2.5 .5 2.5-.5 2.5-1.8 2.5-6.2 3.6zM234.5 914.1l-8.5-.3-7.4-2.8-2.3-2-1.3-2.5-.1-2.5 1.1-2.5 2-2.1 3-1.7 7.5-1.9 8 .5 6.9 2.7 2.3 2 1.3 2.5 .1 2.5-.7 2-4.4 3.8zM235.5 913.1l-8 .1-7-2.2-2.5-1.9-1.4-2.1-.4-2.5 .6-2 1.6-2 2.6-1.8 6.5-1.9 7.5 0 6.5 2.2 3.7 3.5 .6 2-.4 2.5-3.4 3.7zM233 912.5l-7-.4-5.5-2.4-1.7-1.7-1-2 0-2 1-2 4.2-3.1 6.5-1.5 6.5 .5 5.5 2.4 1.7 1.7 1 2 0 2-1 2-4 3zM233 911.5l-6-.3-5-2-2.4-3.2 0-2 .7-1.5 3.7-2.8 5.5-1.3 6 .5 4.5 1.9 2.4 3.2 0 2-.7 1.5-3.2 2.5zM234.5 910.1l-5 .3-5-1.4-2.7-2.5 0-3 2.7-2.5 4-1.3 5 0 4 1.3 2.7 2.5 .2 2.5-2.1 2.5zM234 908.5l-4 .4-3.5-.9-2.2-2 0-2 1.7-1.7 3-1.1 3.5 0 3 .8 1.9 1.5 .4 2-1.3 1.9zM232 906l-2.1 0-.8-.5 0-1 3-.5 1 1z"/>
<path fill="#00a651" fill-rule="evenodd" d="M1657.5 71.6l-14 0-12.5-2.9-4.5-2.4-3.6-3.3-1.9-3.5 .3-3 3.2-3.9 5-3 6-1.9 9-1.5 9.5-.1 8.5 1.2 8 2.8 4.4 2.9 2 2.5 .9 3-.6 3-2.1 3-3.1 2.4-4 2zM1656.5 66.5l-10 .2-9-2-6.6-3.7-1.5-2 0-2 1.4-2 2.1-1.5 7.1-2.3 11.5-.3 8 1.4 3 1.4 2.9 2.3 1 1.5 .3 2-1.3 2.5-2.2 2-3.2 1.6z"/>
<path fill="none" stroke="#00a651" d="M1657.5 71.6l-14 0-12.5-2.9-4.5-2.4-3.6-3.3-1.9-3.5 .3-3 3.2-3.9 5-3 6-1.9 9-1.5 9.5-.1 8.5 1.2 8 2.8 4.4 2.9 2 2.5 .9 3-.6 3-2.1 3-3.1 2.4-4 2zM1656.5 66.5l-10 .2-9-2-6.6-3.7-1.5-2 0-2 1.4-2 2.1-1.5 7.1-2.3 11.5-.3 8 1.4 3 1.4 2.9 2.3 1 1.5 .3 2-1.3 2.5-2.2 2-3.2 1.6zM1655.5 66.1l-9 0-8.5-1.9-6.5-3.7-1.1-1.5-.1-2 3.2-3.2 6.5-2.2 11-.2 8 1.4 5.1 3.2 1.2 2-.1 2-1.1 2-2.4 2zM1654.5 65.5l-8.5-.1-7.5-1.6-5.8-3.3-1.4-2 0-1.5 3.2-3.1 6-1.9 10.5 0 7.5 1.4 4.7 3.1 .8 1.5-.1 2-1.2 2-2.2 1.8zM1656 64.5l-8.5 .4-8-1.5-5.5-2.9-1.6-2 0-1.5 1-1.5 2.2-1.5 5.4-1.5 9.5 .1 7 1.2 4 2.4 1.1 1.8 .1 1.5-2.2 3.1zM1654 64l-7.5 .1-7-1.4-4.7-2.7-1.1-1.5-.1-1.5 2.9-2.8 5-1.3 8.5 .3 7 1.4 3.6 2.4 .6 1.5-.1 1.5-2.6 2.7zM1654 63.1l-7.5 .2-6.5-1.2-4-2.2-1-1.4-.2-1.5 2.2-2.2 4-1.2 7.5 .2 6.2 1.2 3.4 1.5 1.4 2.5-1.5 2.5zM1653 62l-6.5 .3-6-.9-3.4-1.9-.9-2.5 1.8-1.9 3.5-.9 5.5 .2 5 1 3.8 1.6 1.3 1.5-.7 2zM1650 61l-4.5 .2-4.5-.7-2.7-1.5-.6-2 1.3-1.2 2.5-.7 8.2 .9 3.1 1.5 .9 1.5-1.2 1.4zM1647 59.5l-5-.3-1.6-.7-.5-1 2.1-1.1 4.9 .6 1.9 1.5z"/>
<path fill="#00a651" fill-rule="evenodd" d="M1510.5 401.5l-21.5 .2-8.5-.9-7-1.7-7.5-2.4-7.5-3.7-3.3-4-.3-3.5 1.6-2.5 2.4-2 9.1-4.5 16-3.6 11-.7 13-.1 17 1.6 17.5-.2 6.5 .7 6.5 1.5 4.5 2 4.2 3.3 1.8 3 .1 4-2.1 3.5-4 2.9-7 2.7-6 1.2zM1508.5 396.5l-16 .4-10-1.7-10.5-4.3-2.1-2.4-.1-2.5 2.2-2.7 6.5-3 7.5-2.4 8.5-.9 15 .6 14.5 2.1 12.5-1.4 8.5 .1 8.5 2.3 2.4 1.8 1.3 2.5-.2 2.5-1.5 2.1-3.5 2.3-4 1.4-6 .7-16.5 .1z"/>
<path fill="none" stroke="#00a651" d="M1510.5 401.5l-21.5 .2-8.5-.9-7-1.7-7.5-2.4-7.5-3.7-3.3-4-.3-3.5 1.6-2.5 2.4-2 9.1-4.5 16-3.6 11-.7 13-.1 17 1.6 17.5-.2 6.5 .7 6.5 1.5 4.5 2 4.2 3.3 1.8 3 .1 4-2.1 3.5-4 2.9-7 2.7-6 1.2zM1508.5 396.5l-16 .4-10-1.7-10.5-4.3-2.1-2.4-.1-2.5 2.2-2.7 6.5-3 7.5-2.4 8.5-.9 15 .6 14.5 2.1 12.5-1.4 8.5 .1 8.5 2.3 2.4 1.8 1.3 2.5-.2 2.5-1.5 2.1-3.5 2.3-4 1.4-6 .7-16.5 .1zM1506.5 396l-14 .3-9-1.7-10-4.3-1.7-1.8-.2-2.5 2.9-2.8 9.5-4 10.5-1.6 19 1.1 10.5 1.9 12-1.6 8.5-.1 8 2.3 2.4 1.8 1.1 2-.3 2.5-1.6 2-3.1 2-3.5 1.3-5.5 .6-16.5-.1zM1498.5 395.5l-8-.1-8.5-2.3-7.5-4.1-.9-1.5 .2-1.5 2.1-2 8.6-4.1 10-1.6 19.5 1.2 10 2.1 12-1.9 8-.1 7 1.9 2.2 1.5 1.3 2-.1 2-1.4 2-2.8 2-3.7 1.3-5 .4-16-.3-17 2.6zM1501 394.5l-8 .4-7.5-1.6-6.7-3.3-2.1-2-.3-1.5 2-2 6.6-3.8 4-1.1 5.5-.6 20 1.5 9.5 2.2 12-2.2 7.5-.1 6.5 1.9 2 1.5 .8 1.7-.4 2-1.7 2-5.2 2.1-20.5-.2-14 2.5zM1497 394.1l-6-.3-6.5-2.1-3.9-2.7-.7-1.5 .3-1.5 2.4-2.5 3.4-2 4-1.2 5-.5 19.5 1.7 9.5 2.5 12-2.6 7-.2 5.6 1.8 1.7 1.5 .5 1.5-.3 1.5-1.2 1.5-4.8 1.9-19.5-.8-14.5 2.9zM1497.5 393l-5.2 0-5.8-1.8-3.5-2.7-.1-2.5 1.6-2 3-1.8 4-1.2 4-.2 19.5 2.2 8.8 4-2.9 2-8.7 2.5zM1545 389.6l-4 .4-8.5-.6-4.5-.9-2.7-1.5 3.2-2 6-2.1 8-.6 3.7 1.2 2.1 2-.4 2.5zM1496 392l-4-.3-4.5-1.7-1.9-2 .3-2.5 4.1-2.8 5.5-.8 8 .6 9 1.8 2 .8 1.4 1.4-1.2 2-4.2 1.9zM1542 388.5l-6.6-.5-2.5-1.5 1.3-1.5 2.3-1 5.5-.2 2.6 1.2 .7 1.5-1.2 1.5zM1497.5 390.1l-3.5 .3-3-.9-1.8-1.5-.1-2 1.4-1.5 2.5-.9 7.5 .1 4.3 .8 5 2.5-.4 1-1.4 .6z"/>
<path fill="#00a651" fill-rule="evenodd" d="M1224.5 918.5l-7.5 .5-7.5-.8-7-2.1-6-3.2-4-3.9-2.2-4.5 0-5 2.2-4.5 4-3.9 5-2.8 6-2.1 6.5-1 7-.1 7 1 6.5 2.2 5 2.8 4 3.9 2 4 .4 4.5-1.4 4-3.3 4-4.7 3.2-6 2.5zM1222.5 913l-5 .4-5-.5-4.5-1.3-4.1-2.1-2.7-2.5-1.6-3-.2-3.5 1.4-3 2.5-2.5 3.2-2 8.5-2.2 9.5 .5 7.6 3.2 2.7 2.5 1.5 2.5 .4 3-.9 3-1.9 2.5-2.9 2.2-4 1.8z"/>
<path fill="none" stroke="#00a651" d="M1224.5 918.5l-7.5 .5-7.5-.8-7-2.1-6-3.2-4-3.9-2.2-4.5 0-5 2.2-4.5 4-3.9 5-2.8 6-2.1 6.5-1 7-.1 7 1 6.5 2.2 5 2.8 4 3.9 2 4 .4 4.5-1.4 4-3.3 4-4.7 3.2-6 2.5zM1222.5 913l-5 .4-5-.5-4.5-1.3-4.1-2.1-2.7-2.5-1.6-3-.2-3.5 1.4-3 2.5-2.5 3.2-2 8.5-2.2 9.5 .5 7.6 3.2 2.7 2.5 1.5 2.5 .4 3-.9 3-1.9 2.5-2.9 2.2-4 1.8zM1220.5 912.5l-5 0-4.5-.7-4-1.5-3.5-2.3-2-2.5-1-3 .5-3 1.5-2.5 2.5-2.1 3.5-1.8 8.5-1.7 8.5 1 4 1.6 3 2 2 2.5 .9 2.5-.1 2.5-1.3 2.8-2.1 2.2-3.4 2zM1222 911.6l-9-.2-4-1.2-3.5-1.9-2.3-2.3-1.3-2.5 0-3 1.3-2.5 2.3-2.3 3-1.7 7.5-1.8 8 .6 6.5 2.9 2 1.9 1.4 2.4 .3 2.5-.7 2.5-2 2.5-2.5 1.8zM1218.5 911l-7.5-1-3.3-1.5-2.6-2-1.6-2.5-.3-2.5 .8-2.5 1.6-2 5.6-3 7.3-1 7 1.2 5.4 3.3 1.4 2 .5 2.5-.5 2.5-1.4 2-5.4 3.3zM1219.5 910l-7-.6-5.6-2.9-1.6-2-.6-2 .4-2.5 1.3-2 4.6-2.9 6.5-1.2 6.5 .9 5.1 2.7 1.6 2 .6 2-.2 2-1.1 2-4.5 3.2zM1219 909l-6-.7-4.5-2.3-2-3.5 .2-2 1.3-2 4-2.5 5.5-1 5.5 .7 4.5 2.3 2 3.5-1 3.5-4 2.8zM1220.5 907.6l-5 0-4.5-1.7-2.4-2.9 .5-3 2.9-2.5 4-1.2 5 .2 4 1.6 2.2 2.4 0 3-2.3 2.5zM1220 906l-4 0-3-1.1-1.7-1.9 .3-2.5 1.9-1.7 3-.9 3.5 .1 3 1.1 1.7 1.9 0 2-1.7 1.9zM1219 903.1l-2.2-.1-.7-.5 0-1 1.4-.7 1.7 .2 .9 1z"/>
<path fill="#00a651" fill-rule="evenodd" d="M670.5 1101l-6.5 .1-12-1.1-5-1.3-6.1-2.7-5-3.5-2.5-3.5-.5-4 1.4-4 4.2-4.5 7-3.7 7.5-1.7 11-.5 14.5 .8 10 1.7 7.5 3.2 4.9 4.2 1.9 4 .6 4.5-1 3-2.9 2.8-3.5 1.8-4 1.1zM672 1095l-12.5 0-5.5-1.1-4.5-1.6-3.5-2.4-2.8-3.4-.7-2.5 .8-3 1.7-2.2 2.5-1.6 7-1.6 10.5-.1 11.5 1.4 6 1.8 8.5 4.9 3.7 2.9 1.5 2.5-.2 1.5-1 1.5-3.5 1.7-11 .1z"/>
<path fill="none" stroke="#00a651" d="M670.5 1101l-6.5 .1-12-1.1-5-1.3-6.1-2.7-5-3.5-2.5-3.5-.5-4 1.4-4 4.2-4.5 7-3.7 7.5-1.7 11-.5 14.5 .8 10 1.7 7.5 3.2 4.9 4.2 1.9 4 .6 4.5-1 3-2.9 2.8-3.5 1.8-4 1.1zM672 1095l-12.5 0-5.5-1.1-4.5-1.6-3.5-2.4-2.8-3.4-.7-2.5 .8-3 1.7-2.2 2.5-1.6 7-1.6 10.5-.1 11.5 1.4 6 1.8 8.5 4.9 3.7 2.9 1.5 2.5-.2 1.5-1 1.5-3.5 1.7-11 .1zM669.5 1094.5l-11-.4-9-2.8-3.2-2.3-2.3-3-.5-2.5 .7-2.5 1.6-2 2.2-1.4 7-1.5 10 0 11 1.5 5.5 1.6 10 5.7 2.6 2.1 1.2 2-.9 2.5-3.4 1.8-10.5-.2zM671.5 1093.5l-11 .1-9.5-2.5-3-1.8-2.6-2.8-.9-2.5 .4-2.5 2.6-2.9 4.5-1.4 7-.7 9.5 .7 11.5 2.3 12 6.7 2.2 2.8-.7 2.2-3 1.5-10-.4zM668 1093l-9.5-.6-8-2.6-2.5-1.8-1.9-2.5-.6-2.5 .7-2 2.8-2.3 6-1.2 6.5-.3 7.5 .8 10 2.2 6.5 4.2 5.5 2.3 2 2.3-.6 2-2.9 1.2-8.5-1zM669 1092l-9-.3-8-2.3-2.9-1.9-1.7-2-.6-2 .4-2 2.4-2 6.4-1.4 5.5-.2 6.5 .8 10 2.3 6 4.6 6.1 1.9 1.4 2-.5 1-2 .8-7.5-1.5zM668.5 1091l-8-.2-7-2-4.4-3.3-.8-2 .3-1.5 1.8-1.5 3.1-.9 9-.7 13.2 2.6 2.8 1.5 1.6 2 .2 2-1.5 1.5-4.3 1.5zM671 1089.5l-8.5 .3-5-.9-5.5-2.8-1.2-1.6-.1-1.5 3-2 7.3-1.2 12.5 2.5 3.1 1.7 .8 1.5-.9 1.9zM670 1088.1l-7 .3-3.5-.4-4.1-2-1-2 1.3-1.5 2.8-1.1 5.6 .1 7.9 2.4 1.5 1.1 .1 1-.6 .8zM663 1086l-2.5-.4-.7-1.1 2.2-1.1 2.6 1.1 .1 1z"/>
<path fill="#00a651" fill-rule="evenodd" d="M516.5 1441l-21.5-.9-12.5-2-13-3.4-5.5-2.7-4.4-4-1.9-4 .1-3.5 2.1-3 4.6-3.5 9.5-3.9 16-3.7 13-1.1 12.5-.1 9 .2 12 1.2 33 5.1 4.5 1.6 4.9 2.7 2.4 2.5 1.8 3.5-.2 4.5-3.3 4.5-4.1 2.8-8.5 2.9-4.5 .8-15 .4zM517 1435l-16-.6-10.5-1.6-8-2.6-5.4-2.7-2.3-2.5-.1-2.5 1.3-2 3-2.5 6-3.1 13-3 9-1 19.5 .6 18 3.7 10 0 10 1.3 3.5 1 2.8 1.5 2 2 .7 2-.2 3-1.3 2-3.5 2.2-4.5 1.6-9.5 .3-12-.9z"/>
<path fill="none" stroke="#00a651" d="M516.5 1441l-21.5-.9-12.5-2-13-3.4-5.5-2.7-4.4-4-1.9-4 .1-3.5 2.1-3 4.6-3.5 9.5-3.9 16-3.7 13-1.1 12.5-.1 9 .2 12 1.2 33 5.1 4.5 1.6 4.9 2.7 2.4 2.5 1.8 3.5-.2 4.5-3.3 4.5-4.1 2.8-8.5 2.9-4.5 .8-15 .4zM517 1435l-16-.6-10.5-1.6-8-2.6-5.4-2.7-2.3-2.5-.1-2.5 1.3-2 3-2.5 6-3.1 13-3 9-1 19.5 .6 18 3.7 10 0 10 1.3 3.5 1 2.8 1.5 2 2 .7 2-.2 3-1.3 2-3.5 2.2-4.5 1.6-9.5 .3-12-.9zM518.5 1434l-8 .4-18.5-2.1-12-4.8-2.4-2-.6-2.5 3.3-4 5.7-3.3 12-3 9-1.1 19.5 .7 18 3.9 10-.2 9.5 1.2 5.5 2.1 1.8 1.7 .9 2 0 2.5-1.2 2-3 2-4 1.5-10 .3-12-1.2-6 1.5zM516 1433.5l-7.5-.1-16.5-2.1-10-4.5-1.8-1.8-.4-2 2.7-3.6 5-2.9 10.5-2.9 9.5-1.2 19.5 .8 18 4.2 9.5-.5 9 1.1 5 1.9 2.3 3.6-.1 2-1.4 2-2.8 1.8-3 .9-9.5 .2-12.5-1.6-6 1.7zM516.5 1432.5l-7.5 0-16-2-8.9-5-1.1-1.5 .1-1.5 2.2-3 4.2-2.3 9.5-2.9 9.5-1 11.5 1 7 0 6 1.9 12 2.6 9-.9 8.5 .9 4.5 1.6 2.1 3.1-.1 2-1 1.5-4.5 2.1-9.5 .3-13.5-2.4-6 2.4-9 2zM515.5 1431.5l-14-.7-8-1.4-2.9-1.4-2.9-2.5-1.1-2 0-1.5 2.9-3 7.5-3.1 7-1.5 5.5-.2 17.5 1.4 16.5 5.3 3-.1 7-1.6 7.5 .5 4.5 1.5 1.8 2.8-.6 2-1.7 1.3-7 1.1-7.5-1-10-3.3-6.5 3.6-6.5 2.1zM519 1430l-9 .3-14-1.5-4.6-2.3-1.6-2-.3-2 2-2.3 6-3.1 5-1.4 5-.5 19.5 2.1 5.3 2.2 2.4 2-.4 2.5-3.2 3-5.1 2zM559 1427l-3.5-.3-3.7-1.2-1.6-1-.3-1.5 2.6-1.8 4-.6 4.5 .4 3.1 1.5 .7 1.5-.6 1.5-2 1zM520.5 1428.5l-10 .4-11.6-.9-4.8-2-1.2-1.5-.1-1.5 1.7-2 5-3 8-1.7 5.5 .4 12.7 2.8 3 1 1.7 1.5 .1 2-2 2.2-3.5 1.6zM559.5 1424.5l-1.7 0-.7-1 2.4-.3 .7 .8zM520 1426.5l-10 .5-9.5-.9-2.6-1.1-.5-1.5 2.4-3 3.3-2 3.4-.7 5 .2 7.4 2 6.1 3.5 0 1-1 1z"/>
<path fill="#00a651" fill-rule="evenodd" d="M224 1933.5l-9 .4-8.5-1-7.5-2.2-6.5-3.5-4.9-4.7-2.3-5 0-5 2.3-5 4.4-4.3 6-3.5 7-2.3 7.5-1.2 8-.1 8 1.2 7.5 2.4 5.5 3.1 4.5 4.2 2.4 4.5 .5 5-1.6 4.5-3.7 4.5-5.1 3.6-6.5 2.7zM220.5 1927.5l-6 .1-5.5-.8-5-1.7-4.3-2.6-2.7-3-1.3-3.5 .3-3.5 1.7-3 2.8-2.6 4-2.2 5-1.6 5.5-.7 10.5 .9 5 1.8 3.8 2.4 2.7 3 1.2 3-.1 3.5-1.4 3-2.7 2.7-4 2.4-4.5 1.6z"/>
<path fill="none" stroke="#00a651" d="M224 1933.5l-9 .4-8.5-1-7.5-2.2-6.5-3.5-4.9-4.7-2.3-5 0-5 2.3-5 4.4-4.3 6-3.5 7-2.3 7.5-1.2 8-.1 8 1.2 7.5 2.4 5.5 3.1 4.5 4.2 2.4 4.5 .5 5-1.6 4.5-3.7 4.5-5.1 3.6-6.5 2.7zM220.5 1927.5l-6 .1-5.5-.8-5-1.7-4.3-2.6-2.7-3-1.3-3.5 .3-3.5 1.7-3 2.8-2.6 4-2.2 5-1.6 5.5-.7 10.5 .9 5 1.8 3.8 2.4 2.7 3 1.2 3-.1 3.5-1.4 3-2.7 2.7-4 2.4-4.5 1.6zM222 1926.5l-5.5 .4-5.5-.6-5-1.4-4-2-3.2-2.9-1.5-3-.2-3.5 1.4-3 2.5-2.6 3.5-2.2 9-2.4 10 .5 4.5 1.3 4 2 2.8 2.4 1.8 3 .4 3-.9 3-2.1 2.8-3 2.2-4 1.8zM218 1926l-5-.2-5-1.2-4-1.7-3-2.3-1.9-2.6-.7-3 .7-3 1.8-2.5 3.1-2.4 4-1.7 9-1.4 9 1.4 4 1.7 3 2.3 1.9 2.6 .6 2.5-.4 3-1.6 2.5-2.9 2.5-3.6 1.8zM219 1925l-9-.8-4-1.5-3-2-2.2-2.7-.7-2.5 .3-2.5 1.4-2.5 2.2-2 3.5-1.8 8.5-1.8 8.5 1.1 6.5 3.3 1.9 2.2 1 2.5-.1 2.5-1.2 2.5-2.6 2.5-3 1.6zM218 1924l-8-1-3.5-1.5-2.5-1.8-1.6-2.2-.6-2.5 .6-2.5 1.4-2 5.7-3.4 7.5-1.1 7.5 1.1 5.5 3.2 1.6 2.2 .6 2-.4 2.5-1.2 2-5.1 3.5zM220.5 1922.6l-7.5-.1-6-2.4-3-3.6-.1-2.5 .9-2 4.2-3.3 6-1.5 6.5 .4 5.5 2.3 3 3.6 .2 2-.7 2-3.5 3.3zM221 1921l-6 .4-5.5-1.7-3.1-3.2 .2-3.5 2.9-2.7 5-1.6 5.5 .1 4.5 1.5 2.9 2.7 .4 3-2.2 3zM219 1919.5l-4.5-.1-3.5-1.4-1.7-2 .2-2.5 2.3-2 3.7-1.1 4 .2 3.5 1.4 1.7 2-.2 2.5-2.3 2zM218.5 1916.1l-3 0-.7-.6 0-1 1.7-.9 2 .3 .9 1.1z"/>
<path fill="#92278f" fill-rule="evenodd" d="M837 175l-13.5-.1-10-2.1-4.5-2.1-2.8-2.2-1.1-2 0-2.5 1.1-2 2.3-2.1 8-4.1 11-2.9 10.5-1.1 8 .1 9.5 1.4 6.8 2.7 3.8 3.5 .7 2.5-.8 2.5-2 2.3-3 2-10.5 3.9zM839.5 171l-9 .3-8.5-1.5-5-2.3-1.3-1.5-.2-2 1.7-2.5 3.8-2.3 7.5-2.4 6.5-.9 7-.4 5.5 .7 5.5 1.9 3.1 2.4 .7 1.5-.3 1.5-2.4 2.5-7.1 3.2z"/>
<path fill="none" stroke="#92278f" d="M837 175l-13.5-.1-10-2.1-4.5-2.1-2.8-2.2-1.1-2 0-2.5 1.1-2 2.3-2.1 8-4.1 11-2.9 10.5-1.1 8 .1 9.5 1.4 6.8 2.7 3.8 3.5 .7 2.5-.8 2.5-2 2.3-3 2-10.5 3.9zM839.5 171l-9 .3-8.5-1.5-5-2.3-1.3-1.5-.2-2 1.7-2.5 3.8-2.3 7.5-2.4 6.5-.9 7-.4 5.5 .7 5.5 1.9 3.1 2.4 .7 1.5-.3 1.5-2.4 2.5-7.1 3.2zM839.5 170.6l-8.5 .2-7.7-1.3-5.4-2.5-1.1-1.5-.1-1.5 1.8-2.5 4-2.2 6.5-2.1 7-.9 6-.2 5 .6 5 1.8 3 2.5 .2 2.5-2.7 2.5-6.5 3zM839.5 170l-7.5 .4-7-1.2-5.4-2.2-1.3-1.5-.2-1.5 1.9-2.5 3.8-2 5.7-1.8 6-.9 6-.2 4.5 .5 4.5 1.6 3 2.3 .1 2.5-2 2-5.6 2.8zM839 169.5l-7 .3-6-1-5.1-2.3-1.2-2.5 1.4-2 3.9-2.2 4.5-1.5 5.5-.8 10 .1 4 1.4 2.7 2 .4 2-2.3 2.5-4.8 2.5zM838 169l-6 .2-5.5-1.1-4-2.1-.8-1 0-1.5 1.9-2 2.9-1.5 9-2 8.5 .2 3.5 1.1 2.2 1.7 .5 1-.2 1.5-2.5 2.3-4.5 2.2zM836 168.5l-4.5-.1-4-1-3.2-1.9-.6-2 1.3-1.5 2.6-1.5 8.4-1.8 7.8 .3 2.6 1 1.6 1.5 0 2-2.6 2.5-4.4 1.8zM838 167.5l-4.5 .2-4-.7-2.8-1.5-.7-2 3-2.4 6.5-1.5 6.5 .1 3.8 1.8 .4 1.5-1.4 2-2.8 1.5zM837.5 166.5l-6.5-.3-2-1.2-.4-1.5 1.9-1.5 5-1.4 5 .1 2.9 1.3 .4 1-.9 1.5zM836 165l-2.8-.5-.2-1 3-1.2 3.4 .7-.9 1.4z"/>
<path fill="#92278f" fill-rule="evenodd" d="M539 556.5l-11.5-.2-9.5-2.6-3-1.8-2.2-2.4-.7-2.5 .6-2.5 3.3-3.8 6-3.4 8-2.5 9-1.3 8.5 0 8 1.2 6 2.4 3.7 3.4 .7 2.5-.6 2.5-1.8 2.5-3.5 2.7-10 4zM541 552.5l-8 .2-7-1.4-4.2-2.8-.7-1.5 .2-2 1.8-2.5 3.9-2.4 5-1.7 6-1 6-.2 5 .7 4.5 1.5 2.7 2.1 .7 1.5-.2 2-2.7 3.2-5.5 2.7z"/>
<path fill="none" stroke="#92278f" d="M539 556.5l-11.5-.2-9.5-2.6-3-1.8-2.2-2.4-.7-2.5 .6-2.5 3.3-3.8 6-3.4 8-2.5 9-1.3 8.5 0 8 1.2 6 2.4 3.7 3.4 .7 2.5-.6 2.5-1.8 2.5-3.5 2.7-10 4zM541 552.5l-8 .2-7-1.4-4.2-2.8-.7-1.5 .2-2 1.8-2.5 3.9-2.4 5-1.7 6-1 6-.2 5 .7 4.5 1.5 2.7 2.1 .7 1.5-.2 2-2.7 3.2-5.5 2.7zM541 552l-7.5 .2-6.5-1.3-3.9-2.4-.8-1.5 .1-2 1.9-2.5 3.7-2.2 5-1.6 5.5-.9 5.5-.1 5 .8 4 1.5 2.3 2 .3 3-2.6 3-5.5 2.6zM540.5 551.6l-7 .1-6-1.4-3.4-2.3-.7-1.5 .2-1.5 1.4-2 3.5-2.2 9.5-2.4 10 .5 3.5 1.2 2.4 1.9 .7 1.5-.2 1.5-2.4 2.8-5 2.4zM540 551l-6 .1-5.5-1.2-3.3-2.4-.3-2.5 1.5-2 3.1-1.9 9-2.2 9 .6 3.5 1.3 1.8 1.7 .3 2.5-2.6 2.8-4.5 2zM538.5 550.5l-5.5-.2-4-1.2-2.2-1.6-.4-2.5 1.6-2 2.5-1.5 8-1.9 8.5 .5 3 1.3 1.5 1.6-.1 2.5-2.9 2.5-4.5 1.7zM541 549.5l-5 .3-4.7-.8-2.8-1.7-.5-2.3 1.1-1.5 2.4-1.5 7-1.7 7 .4 2.5 .9 1.8 1.4 .2 2-1.8 2-3.2 1.6zM541.5 548.6l-4.5 .4-4-.6-2.6-1.4-.4-2 2.9-2.5 5.1-1.3 6 .2 3.6 1.6 .6 1.5-.8 1.5-2.3 1.5zM541 547.6l-6.2-.1-1.9-1-.4-1.5 2-1.8 4-1 4 .1 2.6 1.2 .5 1-.9 1.5zM540 545.6l-2 .2-1-.8 2-.8 1.8 .3 .2 .5z"/>
<path fill="#92278f" fill-rule="evenodd" d="M634 560l-12.5-.4-6-1.3-5-2-3.5-2.4-2.2-2.9-.7-3 .9-3.5 4-4.5 6.5-3.8 8-2.6 9.5-1.6 9-.1 9 1.4 7.5 3 4.1 3.7 1.2 3-.4 3.5-1.8 3-3.6 3.2-4.5 2.6-6.5 2.5zM637.5 555l-9.5 .4-8.4-1.9-2.7-1.5-2.1-2-.7-2 .3-2.5 2.3-3 3.8-2.5 5.5-2.1 6-1.1 6.5-.3 5.5 .7 5 1.6 3.3 2.2 1.4 2 .3 2-.6 2-1.9 2.3-6 3.6z"/>
<path fill="none" stroke="#92278f" d="M634 560l-12.5-.4-6-1.3-5-2-3.5-2.4-2.2-2.9-.7-3 .9-3.5 4-4.5 6.5-3.8 8-2.6 9.5-1.6 9-.1 9 1.4 7.5 3 4.1 3.7 1.2 3-.4 3.5-1.8 3-3.6 3.2-4.5 2.6-6.5 2.5zM637.5 555l-9.5 .4-8.4-1.9-2.7-1.5-2.1-2-.7-2 .3-2.5 2.3-3 3.8-2.5 5.5-2.1 6-1.1 6.5-.3 5.5 .7 5 1.6 3.3 2.2 1.4 2 .3 2-.6 2-1.9 2.3-6 3.6zM636.5 554.5l-8.5 .2-7.5-1.7-2.7-1.5-1.9-2-.6-2 .4-2 2.3-3 3.5-2.2 5.5-2 5.5-1 6-.1 5.5 .7 4.5 1.6 2.8 2 1.2 2 .1 2-.8 2-1.8 2-6 3.2zM635.5 554l-8 0-6.5-1.7-2.5-1.6-1.4-1.7-.4-1.5 .3-2 1.9-2.5 3.6-2.3 4.5-1.7 5.5-1 5.5-.2 5 .6 4.5 1.6 2.7 2 .9 1.5 .2 2-.9 2-1.9 2-5.5 2.8zM633 553.5l-6.5-.4-5.5-1.9-2.6-2.7-.3-1.5 .6-2 2.3-2.4 3.5-1.9 9.5-2.1 5 0 4.5 .8 3.7 1.6 2.1 2 .5 1.5-.3 2-3.4 3.5-5.6 2.3zM635.5 552.5l-6.5 .1-5.5-1.4-3.3-2.7-.1-3 1.6-2 3.2-2 8.6-2.1 8.5 .5 3.5 1.4 2 1.7 .6 3-2.4 3-4.2 2.2zM636.5 551.5l-6 .3-5.5-1.2-2.8-2.1-.6-1.5 .4-1.5 1.5-1.8 2.5-1.6 7-1.8 7.5 .3 4.9 2.4 .9 2.5-1.4 2.5-3.4 2.1zM636 550.5l-5 .3-4-.9-2.8-1.9-.3-2 1-1.5 2.1-1.5 5.5-1.6 6.5 .1 4.4 2 .8 2-1.1 2-3.1 1.9zM636.5 549.1l-3.5 .4-3.6-.5-2.4-1.5-.3-1.5 1.9-2 4.4-1.4 4.5 .1 3.1 1.3 .8 1.5-.7 1.5zM634 547l-1.5-.2-.7-.8 1.9-1 2.4 .5-.3 1z"/>
<path fill="#92278f" fill-rule="evenodd" d="M418.5 860.5l-12-.3-5.5-1.3-4-1.9-3-2.5-1.3-2.5-.2-3 1.3-3.5 4.2-4.5 7-4.3 8.5-3.1 13.5-2.9 10.5-5.8 4-.6 4 .4 4 1.6 2.8 2.2 2.4 4.5 0 5-2.5 6-4.4 5.5-5.3 3.9-7 3.4-8.5 2.5zM421.5 855.5l-8.5 .2-6.5-1.7-2.4-1.5-1.5-2-.4-2 .5-2 2.8-3.5 5-3.1 7.5-2.6 12.5-2 5.9-4.8 2.6-1.3 4.5-.3 4.1 2.1 1.5 3-.7 3.5-8.9 10.6-3.5 2.7-4 2z"/>
<path fill="none" stroke="#92278f" d="M418.5 860.5l-12-.3-5.5-1.3-4-1.9-3-2.5-1.3-2.5-.2-3 1.3-3.5 4.2-4.5 7-4.3 8.5-3.1 13.5-2.9 10.5-5.8 4-.6 4 .4 4 1.6 2.8 2.2 2.4 4.5 0 5-2.5 6-4.4 5.5-5.3 3.9-7 3.4-8.5 2.5zM421.5 855.5l-8.5 .2-6.5-1.7-2.4-1.5-1.5-2-.4-2 .5-2 2.8-3.5 5-3.1 7.5-2.6 12.5-2 5.9-4.8 2.6-1.3 4.5-.3 4.1 2.1 1.5 3-.7 3.5-8.9 10.6-3.5 2.7-4 2zM420.5 855l-8-.1-6-1.9-2.8-3-.2-2 .7-2 2.6-3 4.7-2.9 7.5-2.4 12.5-1.9 7.5-5.9 4.5-.4 3.5 2 1.3 3-.8 2.9-9.7 11.1-7.3 4.2zM419 854.5l-7-.4-5-2-2.1-3.1 .9-3.5 3.8-3.5 5.9-2.7 5.5-1.4 11.5-1.5 4.5-4.4 2.5-1.5 4-.2 2.8 1.7 1 2.5-.6 2.5-5.2 5.1-5 6.4-3.5 2.3-4.5 1.9zM422 853.5l-6.5 .2-5.5-1.2-3.2-2.5-.5-1.5 .3-2 3.1-3.5 5.8-3 6.5-1.5 11.3-1 1.7-1.1 3-3.9 2.5-1.3 2.5 0 2.3 1.3 .9 2-.7 2.3-5.6 4.7-4.4 6.5-5.8 3.5zM440 838.6l-2.5-.1 .6-4 2.4-2 3 .3 1 1.2-.2 2-1.8 1.7zM418.5 853l-5.5-.6-3.9-1.9-1.2-2.5 1.2-3 4.4-3.2 6.5-2.2 6.5-.7 10.2 .6 .3 2-.5 3-3.2 4-6.8 3.3zM420.5 852l-5-.1-3.9-1.4-1.7-2 .3-2.5 4.1-3.5 7.2-2.3 8-.1 3 .8 1.6 1.1 .3 3-2.9 3.4-5 2.4zM419.5 851l-4.3-.5-2.6-1.5-.7-2 1.2-2 3.9-2.5 5.5-1.4 6 .2 3.3 1.7 .2 2.5-2.5 2.7-4.5 2zM421.5 849.5l-5.5-.7-1.2-1.3 .2-1.5 2.5-2.1 4.5-1.4 4.5 .1 2.6 1.4 .2 1.5-1.7 2zM422 847l-1.5 0-.6-1 2.1-1 2.2 .5-.6 1z"/>
<path fill="#92278f" fill-rule="evenodd" d="M1824.5 159l-11.5-.4-11-2.4-3.4-1.7-2.3-2-1.2-2.5 .3-2.5 3-3.5 5.6-2.9 9.5-2.7 10.5-1.3 11.5 .1 9 1.5 6.3 2.3 3.6 3.5 .5 2.5-.9 2.5-2 2.1-3.5 2.1-10.5 3.6zM1829.5 155l-10 .3-8-1.1-5.4-2.7-.9-1.5 0-2 2-2.5 4.3-2.3 5.5-1.5 6-.8 8-.1 5.5 .6 5.5 1.8 2.7 2.3 .3 1.5-.4 1.5-2.6 2.6-6 2.6z"/>
<path fill="none" stroke="#92278f" d="M1824.5 159l-11.5-.4-11-2.4-3.4-1.7-2.3-2-1.2-2.5 .3-2.5 3-3.5 5.6-2.9 9.5-2.7 10.5-1.3 11.5 .1 9 1.5 6.3 2.3 3.6 3.5 .5 2.5-.9 2.5-2 2.1-3.5 2.1-10.5 3.6zM1829.5 155l-10 .3-8-1.1-5.4-2.7-.9-1.5 0-2 2-2.5 4.3-2.3 5.5-1.5 6-.8 8-.1 5.5 .6 5.5 1.8 2.7 2.3 .3 1.5-.4 1.5-2.6 2.6-6 2.6zM1829.5 154.6l-8.5 .3-8-.9-5.5-2.5-1.1-1.5-.1-1.5 1.6-2.5 3.6-2.1 5-1.6 6-.9 13 .4 5.2 1.7 2.6 2 .3 2.5-2.6 2.8-5.5 2.4zM1829.5 154l-8 .4-7.9-.9-4.6-2-1.2-1.5-.2-1.5 1.2-2 3.2-2.1 5-1.6 5.5-.9 12 .3 4.5 1.4 2.8 1.9 .4 2.5-2.3 2.5-4.9 2.3zM1829 153.5l-7.5 .4-7-.9-4.4-2-1.1-2.5 1.3-2 2.7-1.7 10-2.4 11 .4 3.7 1.2 2.7 2 .2 2-2.4 2.5-4.2 1.9zM1828 153l-6.5 .3-6-.8-3.5-1.5-1-1-.4-1.5 1.4-2 2.5-1.4 8.5-2 10 .2 3.5 1.2 1.9 1.5 .4 2-1.8 2.1-4 1.9zM1826.5 152.5l-6 .1-4.5-.9-3-1.7-.3-2 1.4-1.5 2.9-1.4 7.5-1.4 8 .3 2.6 1 1.7 1.5-.1 2-2.2 2zM1827.5 151.6l-4.5 .3-4.5-.5-3-1.4-.7-1.5 1-1.5 1.7-1 6-1.4 7.5 .1 3.6 1.8 .3 1.5-1.1 1.5zM1827 150.6l-6.9-.1-2.1-1-.4-1 2.2-2 4.2-.9 5.5 .1 2.7 1.3 .2 1-.7 1z"/>
<path fill="#92278f" fill-rule="evenodd" d="M1528 549l-12-.4-5.5-1.2-4-1.7-3-2-1.7-2.2-.7-2.5 .8-3 3.1-3.6 6-3.5 8-2.6 8-1.3 8.5-.1 8.5 1.3 6 2.3 3.9 3.5 1 2.5-.5 3-1.7 2.5-3.2 2.7-9 4.1zM1528.5 545l-8-.2-6.5-1.8-3.6-3-.4-1.5 .4-2 2.1-2.5 4-2.4 5-1.6 5.5-1 6-.1 5.5 .8 4 1.5 2.7 2.3 .7 1.5-.1 2-3.3 3.7-6.5 2.9z"/>
<path fill="none" stroke="#92278f" d="M1528 549l-12-.4-5.5-1.2-4-1.7-3-2-1.7-2.2-.7-2.5 .8-3 3.1-3.6 6-3.5 8-2.6 8-1.3 8.5-.1 8.5 1.3 6 2.3 3.9 3.5 1 2.5-.5 3-1.7 2.5-3.2 2.7-9 4.1zM1528.5 545l-8-.2-6.5-1.8-3.6-3-.4-1.5 .4-2 2.1-2.5 4-2.4 5-1.6 5.5-1 6-.1 5.5 .8 4 1.5 2.7 2.3 .7 1.5-.1 2-3.3 3.7-6.5 2.9zM1528 544.5l-7-.2-6-1.6-3.3-2.7-.5-1.5 .4-2 2.1-2.5 3.8-2.2 5-1.5 5.5-.8 5.5 0 5 .9 3.8 1.6 2 2 .5 1.5-.4 2-2.9 3.1-6 2.6zM1527.5 544l-6.5-.3-5.5-1.6-2.8-2.6 .1-3 1.7-2.1 3.5-2.1 9.5-2.2 9.5 .6 3.6 1.3 2.4 2 .6 1.5-.4 2-3 3-5.7 2.4zM1531 543l-7 .4-6-1.1-3.5-2.3-.7-1.5 .1-1.5 1.4-2 3-2 8.7-2.3 9 .5 3.5 1.2 2 1.6 .7 2.5-1.7 2.7-4 2.3zM1530 542.5l-6 .2-5-1-3.3-2.2-.3-2.5 1.4-2 2.3-1.5 7.9-2.1 8 .3 3.5 1.3 1.8 1.5 .3 2.5-2 2.5-3.6 1.8zM1527.5 542l-5-.3-3.5-1.1-2-2.1 .2-2 4.1-3 6.7-1.5 6.5 .5 2.6 1 1.7 1.5 0 2.5-2.1 2-4.2 1.7zM1529 541l-4 .1-3.5-.8-2.1-1.3-.4-2 2.6-2.5 5.4-1.5 6 .2 3.6 1.8 .6 1.5-1.3 2-2.9 1.6zM1527 540l-4.6-1-.9-1 .2-1.5 2.8-1.8 4-.7 4 .5 2 1.5-.2 1.5-1.3 1.1zM1529 537.7l-2 .1-1-.8 3-.8 1 .8z"/>
<path fill="#92278f" fill-rule="evenodd" d="M1610 555.1l-6.5-.2-4.4-2.4-1.4-2.5 0-4.5-3.4-5.5 0-3.5 1.5-3 2.7-2.8 4-2.6 6-2.5 8-1.9 8-.7 7.5 .2 7 1.1 6.5 2.1 4.5 2.6 3.1 3.5 .8 3.5-1 3.5-3 3.5-4.4 2.9-5.5 2.3-6 1.6-15.5 1.6zM1609.5 552.5l-2.5 .4-2.5-.4-1.6-1-.8-1.5 1.4-2.5 5.6-2.5-4.3-4.5-.8-3 1.6-3.5 3.9-2.9 9-2.9 10.5-.5 9 2 3.2 1.8 2.3 2.5 .5 2-.6 2.5-1.9 2.3-3 2.1-5 2-6 1.2-15 .1-.3 4.3z"/>
<path fill="none" stroke="#92278f" d="M1610 555.1l-6.5-.2-4.4-2.4-1.4-2.5 0-4.5-3.4-5.5 0-3.5 1.5-3 2.7-2.8 4-2.6 6-2.5 8-1.9 8-.7 7.5 .2 7 1.1 6.5 2.1 4.5 2.6 3.1 3.5 .8 3.5-1 3.5-3 3.5-4.4 2.9-5.5 2.3-6 1.6-15.5 1.6zM1609.5 552.5l-2.5 .4-2.5-.4-1.6-1-.8-1.5 1.4-2.5 5.6-2.5-4.3-4.5-.8-3 1.6-3.5 3.9-2.9 9-2.9 10.5-.5 9 2 3.2 1.8 2.3 2.5 .5 2-.6 2.5-1.9 2.3-3 2.1-5 2-6 1.2-15 .1-.3 4.3zM1627 545.5l-8.5 .1-7.5-1.4-4.8-3.7-.9-2 .3-2.5 1.9-2.5 4-2.5 5-1.7 6-1 6 0 5.5 .9 4.5 1.6 2.9 2.2 1.3 3.5-.6 2-1.6 2-5.5 3.2zM1607 552.5l-3.5-1.1-.8-1.4 .3-1.2 3.5-2.1 4 .4 1.2 1.4-.2 2-1.8 1.5zM1625.5 545l-8-.2-6-1.5-4.2-3.3-.7-2 .4-2 2-2.5 3.5-2.1 5-1.7 5.5-.8 5.5 .1 5 .8 4 1.5 2.8 2.2 .9 1.5 .1 2-.9 2-1.9 1.9-5.5 2.7zM1608 552l-3.5-.6-.9-.9 0-1.5 2.9-1.6 3.5 .5 .9 1.1-.2 1.5zM1628 544l-7.5 .4-7.1-1.4-4.5-3-.7-1.5 .1-2 1.8-2.5 2.9-1.9 4-1.5 5-.9 10 .5 4 1.4 2.6 1.9 1.3 3-1.4 3-4.5 2.9zM1607.5 551.5l-2.5-.5-.7-1 .3-1 2.4-1 2.5 .6 .5 .9-.3 1zM1626 543.5l-7-.1-5.5-1.5-3.4-2.9 .1-3 1.7-2 3.1-1.8 8-1.8 8.5 .6 3.5 1.3 2.2 1.7 1 3-2.1 3-4.1 2.2zM1608 550.5l-1.8 0-.4-1 2.2-.5 .6 1zM1626.5 542.6l-6 .1-5.2-1.2-2.9-2-.7-1.5 .1-1.5 1.5-2 2.5-1.5 7.2-1.7 7.5 .5 3.2 1.2 1.9 1.5 .7 2.5-1.6 2.5-3.7 2zM1626.5 541.5l-5 .2-4.5-1-2.6-1.7-.4-2.5 3-2.7 5.5-1.5 6 .2 4.6 2 1.1 2-.8 2-2.9 1.9zM1627 540l-3.5 .5-3.7-.5-2.3-1.1-.8-1.9 1.3-1.7 2.9-1.3 3.6-.5 3.7 .5 2.3 1.1 .8 1.9-1.3 1.7zM1624 538l-1.5-.2-.7-.8 1.8-1 2.4 .5-.2 1z"/>
<path fill="#92278f" fill-rule="evenodd" d="M1404.5 856.5l-6.5 .1-6-.7-4.5-1.3-4-2-2.8-2.6-1.2-3 .1-3 1.7-3.5 4.7-4.6 7.5-4.2 7.5-2.5 12.5-2.5 10.5-5 4-.4 4 .5 3.5 1.5 2.8 2.2 2.4 4.5-.1 4.5-2.3 5-5.3 6.2-5.5 4.1-6.5 3.1-8 2.4zM1407.5 851.5l-8.5 .1-6.5-2-2.2-1.6-1.2-2-.2-2 .6-2 3-3.5 5.5-3.2 7-2.3 11.5-1.7 8.5-5.2 5-.2 3.7 2.1 1.4 3-.8 3.5-9.6 10-3.3 2.5-4.4 2.2z"/>
<path fill="none" stroke="#92278f" d="M1404.5 856.5l-6.5 .1-6-.7-4.5-1.3-4-2-2.8-2.6-1.2-3 .1-3 1.7-3.5 4.7-4.6 7.5-4.2 7.5-2.5 12.5-2.5 10.5-5 4-.4 4 .5 3.5 1.5 2.8 2.2 2.4 4.5-.1 4.5-2.3 5-5.3 6.2-5.5 4.1-6.5 3.1-8 2.4zM1407.5 851.5l-8.5 .1-6.5-2-2.2-1.6-1.2-2-.2-2 .6-2 3-3.5 5.5-3.2 7-2.3 11.5-1.7 8.5-5.2 5-.2 3.7 2.1 1.4 3-.8 3.5-9.6 10-3.3 2.5-4.4 2.2zM1406.5 851l-7.5-.1-6-2-1.7-1.4-1.1-2 0-2 .8-2 2.8-3 4.7-2.7 7-2.2 11.5-1.6 8-5.2 4.5-.3 3.6 2 1.2 3-.9 3-10.4 10.4-7 4zM1404.5 850.5l-7-.7-4.6-2.3-1.1-1.5-.4-2 2-4 4.1-3 5.5-2.2 15-2.2 7.5-5.2 4-.1 3 1.8 .9 2.4-1.1 3-5.3 4.6-5.5 5.9-7.5 3.9zM1408 849.5l-6.5 .2-5.5-1.5-2.9-2.7-.3-1.5 .5-2 3.4-3.5 5.8-2.8 5.5-1.2 10.9-1 5.1-4.4 2.5-1 3 .1 2 1.3 .7 2-.8 2.5-5.8 4.5-4.9 6-5.7 3.2zM1409 848.6l-6 .3-5-1-3.2-2.4-.2-3 2.9-3.4 5-2.5 7-1.5 11-.2 1.4-.9 2-3 1.6-1.3 2.5-.6 2 .9 .8 1.5-.7 2-6.1 3.5-2.3 4.5-2.1 2.5-4.6 2.8zM1406.5 848l-5-.2-3.5-1.3-1.8-2.5 .7-2.5 4.1-3.3 6.5-2 8 0 3 .7 1.5 1.1 .1 3-2.9 3.5-4.7 2.3zM1409.5 846.6l-4.5 .4-4-.7-2.4-1.8-.2-2 2.7-3 5.4-2.1 6-.3 4.5 1.4 1 2-1.3 2.5-2.7 2zM1407.5 845.5l-5-.6-1.5-1.4 .2-1.5 2.3-2.1 4.5-1.4 4 .1 2.8 1.4 .3 1.5-1.7 2zM1408 843l-1.5-.1-.5-.9 2-1 2.1 .5-.5 1z"/>
<path fill="#92278f" fill-rule="evenodd" d="M831 1190.5l-11-.3-10-1.3-6.5-1.6-4-1.7-2.7-2.1-1.4-2.5 0-2 1.2-2 2.4-2 8.5-3.8 11-2.5 14-1.2 12 .1 11.5 1.8 8.5 3.2 2.8 1.9 1.3 2 .1 2.5-1.7 2.5-3.7 2.5-4.8 2.2-13 3.1zM834.5 1186.5l-10 .2-9.5-1.8-6.3-2.4-1.3-1.5-.1-1.5 2.2-2.9 4-2.1 8.5-2.2 7.5-.9 11 0 6.5 .8 6 2 3.2 2.8 .3 1.5-.5 1.5-4.4 3-7.6 2.4z"/>
<path fill="none" stroke="#92278f" d="M831 1190.5l-11-.3-10-1.3-6.5-1.6-4-1.7-2.7-2.1-1.4-2.5 0-2 1.2-2 2.4-2 8.5-3.8 11-2.5 14-1.2 12 .1 11.5 1.8 8.5 3.2 2.8 1.9 1.3 2 .1 2.5-1.7 2.5-3.7 2.5-4.8 2.2-13 3.1zM834.5 1186.5l-10 .2-9.5-1.8-6.3-2.4-1.3-1.5-.1-1.5 2.2-2.9 4-2.1 8.5-2.2 7.5-.9 11 0 6.5 .8 6 2 3.2 2.8 .3 1.5-.5 1.5-4.4 3-7.6 2.4zM835 1186l-9.5 .3-8-1.4-6.7-2.4-1.7-1.5-.3-1.5 1.7-2.5 4-2.1 8-2.2 7.5-.9 10.5 .1 6.5 .9 5 1.8 2.9 2.9 .1 1.5-1 1.5-4 2.4-6.5 2zM834.5 1185.5l-9 .2-7.5-1.4-5.8-2.3-1.4-1.5-.1-1.5 1.8-2.2 4.5-2 7-1.8 6.5-.7 15.5 .9 4.9 1.8 2.4 2.5-.5 2.5-4.3 2.7-6 1.8zM833.5 1185l-7.5 .2-6.5-1.2-5.8-2.5-.9-1-.2-1.5 1.8-2 4.6-2 6-1.6 5.5-.5 15 .9 4 1.5 2.1 2.2-.6 2.5-4 2.5-5.5 1.6zM831.5 1184.5l-6 0-5.5-1.2-3.9-1.8-1-1-.3-1.5 1.7-1.8 4-1.8 9.5-1.9 14 .8 3.6 1.2 2.1 2 0 1.5-.7 1-4 2.3-6 1.5zM835.5 1183.5l-7.5 .4-4.5-.5-4.8-1.9-1.1-1-.3-1.5 1.4-1.5 3.3-1.7 8-1.6 12.5 .8 3.3 1 1.7 1.5-.3 2-2.2 1.7zM829.5 1183l-4-.2-3-.8-2.2-1.5-.3-1.5 1.3-1.5 2.7-1.4 6.5-1.2 10 .8 3 1 1.4 1.3-.9 2-3.3 1.5-4.7 1.1zM835.5 1181.5l-9.5 .2-2.6-1.2-.5-1.5 2.6-2 5-1 7 .5 3.5 1.5 .1 1-1.1 1zM834 1179.6l-4 .2-2-.8 1.9-1 3.1-.1 2 .6 .2 .5z"/>
<path fill="#92278f" fill-rule="evenodd" d="M537.5 1581.5l-13.5-.2-10.5-2.4-3.6-1.9-2.5-2.5-1-2.5 .4-3 3.8-5 7.9-4.8 11-3.9 11-2.2 12.5-.8 11 1 8.4 2.7 2.9 2 1.6 2 .8 3-1.2 3.5-3.1 3.5-4.9 3.3-6.5 3-7.5 2.4-9 1.9zM541 1576.5l-9.5 .2-8-1.5-4.5-3-.8-1.7 .2-2 2.6-3.5 5-3.1 7-2.6 8-1.6 8-.6 7.5 .7 5.5 1.7 3.2 2.5 .7 2-.7 2.5-4.7 4.3-8.5 3.6z"/>
<path fill="none" stroke="#92278f" d="M537.5 1581.5l-13.5-.2-10.5-2.4-3.6-1.9-2.5-2.5-1-2.5 .4-3 3.8-5 7.9-4.8 11-3.9 11-2.2 12.5-.8 11 1 8.4 2.7 2.9 2 1.6 2 .8 3-1.2 3.5-3.1 3.5-4.9 3.3-6.5 3-7.5 2.4-9 1.9zM541 1576.5l-9.5 .2-8-1.5-4.5-3-.8-1.7 .2-2 2.6-3.5 5-3.1 7-2.6 8-1.6 8-.6 7.5 .7 5.5 1.7 3.2 2.5 .7 2-.7 2.5-4.7 4.3-8.5 3.6zM540 1576l-8.5 0-7.2-1.5-2.7-1.5-1.4-1.5-.5-1.5 .3-2 2.5-3 5-3 6.5-2.3 7.5-1.5 7.5-.4 6.5 .6 5.3 1.6 3 2.5 .5 2-.6 2-4.7 4.2-8.5 3.5zM538 1575.5l-7.5-.3-5.5-1.5-3.3-2.7-.1-3 2.5-3 4.4-2.6 6-2.1 7.5-1.5 7-.3 6 .6 4.5 1.4 2.8 2.5 .4 2-.9 2-5.1 4-8.7 3.1zM541.5 1574.5l-8 .2-6.1-1.2-3.8-2.5-.3-3 2-2.5 3.9-2.5 5.8-2.1 6-1.3 6.5-.4 6 .5 4.3 1.3 2.6 2 .5 1.5-.5 2-3.7 3.5-6.7 2.8zM537.5 1574l-5.5-.4-4.5-1.4-2.3-2.2 .2-2.5 2.4-2.5 3.7-2 5-1.7 6-1.1 5.5-.2 5 .6 3.9 1.4 1.9 2 .1 1.5-1 2-4.4 3.1-7.5 2.4zM540 1573l-5.5-.1-4.5-1.1-2.4-1.8 0-2.5 1.7-2 3.6-2 9.1-2.3 9 .1 3.5 1.1 1.9 1.6 .3 1.5-.6 1.5-3.1 2.6-6 2.3zM539 1572l-7-1.1-1.8-1.4-.1-2 1.8-2 2.6-1.4 7.5-1.9 7.5 .1 2.5 .8 1.8 1.4-.2 2.5-3.3 2.5-5.3 1.8zM541.5 1570.5l-6.3-.5-1.6-1-.3-1.5 3.1-2.5 5.1-1.4 5.5-.1 3.5 1.6-.1 1.9-1.8 1.5zM542 1568l-2-.1-.5-.9 2.5-1 2.6 .5-.7 1z"/>
<path fill="#92278f" fill-rule="evenodd" d="M624.5 1585l-8-.3-8-1.4-6.5-2.2-5-2.8-3.6-3.3-2.1-4 0-4 1.8-4 5.4-4.9 8-3.9 10-2.4 11-.8 12.5 1.4 14.5 4.8 12.5 .4 6 1 5.5 2.3 2.7 3.1 0 2-.8 1.5-4.9 3.1-6 1.5-11.2 1.4-9.8 6.2-8 3-7.5 1.6zM629.5 1579l-11 .1-5.5-1.1-4.5-1.8-3.4-2.2-2-2.5-.8-2.5 .6-3 2.8-3.5 5.3-3.1 7-2 7-.8 7.5 .5 6 1.4 4.5 2 7.5 4.8 6.1-3.3 6.9-1.3 7.5 1 2.4 1.3 1 1.5-.2 1.5-1.7 1.6-6.5 1.7-7-.4-8.5-2.7-4.6 5.8-3.7 3-5.7 2.5z"/>
<path fill="none" stroke="#92278f" d="M624.5 1585l-8-.3-8-1.4-6.5-2.2-5-2.8-3.6-3.3-2.1-4 0-4 1.8-4 5.4-4.9 8-3.9 10-2.4 11-.8 12.5 1.4 14.5 4.8 12.5 .4 6 1 5.5 2.3 2.7 3.1 0 2-.8 1.5-4.9 3.1-6 1.5-11.2 1.4-9.8 6.2-8 3-7.5 1.6zM629.5 1579l-11 .1-5.5-1.1-4.5-1.8-3.4-2.2-2-2.5-.8-2.5 .6-3 2.8-3.5 5.3-3.1 7-2 7-.8 7.5 .5 6 1.4 4.5 2 7.5 4.8 6.1-3.3 6.9-1.3 7.5 1 2.4 1.3 1 1.5-.2 1.5-1.7 1.6-6.5 1.7-7-.4-8.5-2.7-4.6 5.8-3.7 3-5.7 2.5zM627.5 1578.5l-10.5-.4-8.5-3-2.8-2.1-1.6-2.5-.3-2.5 .8-2.5 2.9-3.1 5-2.7 6-1.7 6.5-.6 6.5 .3 6 1.4 5 2.3 3.6 3.1 .9 2-.4 2-1.4 2.5-2.6 2.5-6.6 3.3zM668 1568.6l-4.5 .3-4.5-.6-3.3-1.3-1.4-2 2.7-2.4 5-1.3 6 .1 4.2 1.6 1.2 1.5-.2 1.5-1.8 1.5zM629 1577.6l-10 0-8.5-2.5-3-2.1-1.6-2-.6-2.5 .6-2.5 2.6-3 4-2.3 5-1.6 6-.9 6 .1 5.5 .9 4.6 1.8 3.6 2.5 1.5 2 .3 2-.8 2.5-1.6 2-5.6 3.5zM668 1568.1l-4 .3-4-.5-3.1-1.4-.8-1.5 1-1.5 3.4-1.4 4-.5 4 .5 3 1.3 .9 1.6-1.4 1.9zM625.5 1577l-8.5-.7-6.5-2.6-2.1-1.7-1.2-2-.1-2.5 .9-2 2.5-2.5 4-2.1 5-1.3 5.5-.6 5.5 .3 5 1.1 4 1.8 2.6 2.3 1 2-.1 2-.9 2-2.1 2.1-6.5 3.1zM667.5 1567.5l-6.5-.1-2.2-.9-1-1.5 1.2-1.5 2.5-.9 6.5 0 2.1 .9 1 1.5-1 1.5zM626.5 1576l-7.5-.3-6.5-2.2-3.3-3.5-.3-2 .7-2 1.9-2.1 3.5-2 4.5-1.4 5-.6 9.3 1.1 3.6 1.5 2.6 2 1.2 3.5-.8 2-1.8 2-5.1 2.7zM665.5 1567l-4.2-.5-1.4-1 .1-1 1.5-1 3-.5 3 .4 1.7 1.1-.4 1.5zM625.5 1575l-6.5-.5-5.3-2-2.6-3 0-2 .7-1.5 2.1-2 2.9-1.5 7.7-1.5 8 .9 3 1.2 2.5 1.9 .9 1.5 .1 2-2.2 3-4.8 2.4zM666 1565.5l-2 .2-1.1-.7 2.6-.6 1 .6zM628 1573.5l-6 .2-5-1.3-3-2.4-.3-3 3.4-3 5.9-1.6 6.5 .2 5.1 1.9 1.9 2.5-.5 2.5-3.1 2.5zM627 1572l-4.5 .1-3.6-1.1-2.1-2 .2-2 2.5-2 4-1.1 4.5 .1 4 1.5 1.3 2-.7 2-2.1 1.5zM626 1569.1l-2.5-.1-1-1 1.5-1.1 2.5 .1 1 1z"/>
<path fill="#92278f" fill-rule="evenodd" d="M423.5 1886.5l-9.5 .4-10-1-9.5-2.2-9-3.4-7-3.9-5.4-4.9-2.5-5 .5-4.5 2.9-3.5 4.5-2.6 6-1.8 8-1 8.5 .2 8.5 1.1 9.5 2.4 7.5 2.9 6.5 3.6 5 4.2 2.9 4.5 .6 4-1.9 4-3.6 2.9-5.5 2.3zM418 1881l-6.5 .3-6.5-.6-6.5-1.5-6.5-2.4-5-3-3.4-3.3-1.3-3 .4-3 1.8-2.1 3.5-2 9.5-1.7 11.5 1 11 3.5 4.5 2.6 3.1 2.7 1.8 3 .3 2.5-1.1 2.5-2.3 2-3.8 1.6z"/>
<path fill="none" stroke="#92278f" d="M423.5 1886.5l-9.5 .4-10-1-9.5-2.2-9-3.4-7-3.9-5.4-4.9-2.5-5 .5-4.5 2.9-3.5 4.5-2.6 6-1.8 8-1 8.5 .2 8.5 1.1 9.5 2.4 7.5 2.9 6.5 3.6 5 4.2 2.9 4.5 .6 4-1.9 4-3.6 2.9-5.5 2.3zM418 1881l-6.5 .3-6.5-.6-6.5-1.5-6.5-2.4-5-3-3.4-3.3-1.3-3 .4-3 1.8-2.1 3.5-2 9.5-1.7 11.5 1 11 3.5 4.5 2.6 3.1 2.7 1.8 3 .3 2.5-1.1 2.5-2.3 2-3.8 1.6zM415.5 1880.5l-12-.8-11-3.5-4.4-2.7-3-3-1.3-3 .4-2.5 1.8-2.3 3-1.6 9-1.7 11 1 10.5 3.4 4 2.4 3 2.8 1.5 2.5 .2 2.5-1.4 2.5-2.8 2-4 1.3zM416.5 1879.6l-11-.3-11-3.1-4.5-2.5-3-2.7-1.5-3 .2-2.5 1.5-2 2.8-1.7 8-1.6 10 .7 9.5 2.9 6.6 4.2 1.9 2.5 .6 2.5-.6 2.1-2 2-3 1.5zM417 1878.5l-10.5 .2-10.5-2.8-4.4-2.4-2.9-2.5-1.4-2.5 .1-2.5 1.5-2 2.1-1.3 7-1.6 9 .5 9 2.5 6.3 3.9 2 2.5 .6 2-.5 2-1.4 1.6zM412.5 1878l-9-.7-8.5-3-3-2-2.2-2.3-.7-2 .4-2 1.5-1.7 2.5-1.2 7-1.2 8.5 .9 8 2.9 4.8 3.8 1 2-.1 2-.9 1.5-2.3 1.5zM411 1877l-8-.9-7-2.6-4-3.5-.7-2 .4-1.5 3.3-2.5 6.5-1 7.5 .9 7 2.6 4 3.5 .7 2-.4 1.5-3.3 2.5zM412.5 1875.6l-6.5-.1-6.5-1.8-4.5-3-1-1.7 0-1.5 2.5-2.2 4.5-1 6 .3 5.5 1.7 4 2.4 1.6 2.8-1.3 2.5zM410.5 1874.1l-5-.2-4.7-1.4-2.8-2-.6-2.5 1.9-1.5 3.7-.7 4 .4 4.2 1.3 2.8 2 .7 2-1.2 1.6zM408 1871l-2.9 0-1.7-1.5 1.1-.7 2.4 .2 1.6 1z"/>
<path fill="#2e3192" fill-rule="evenodd" d="M574.9 786.6l-6 .2-5.2-2.3-1.6-2-.7-2 .2-2 1.1-2 3.2-2.4 4.5-1.1 5 .6 3.7 1.9 2.1 3 0 3-2.3 3.1zM571.9 784.5l-4-.7-2.6-2.3 0-3 2.1-2.1 3-.9 3 .2 2.5 1 1.6 1.8 .4 2-1.1 2-1.9 1.3z"/>
<path fill="none" stroke="#2e3192" d="M574.9 786.6l-6 .2-5.2-2.3-1.6-2-.7-2 .2-2 1.1-2 3.2-2.4 4.5-1.1 5 .6 3.7 1.9 2.1 3 0 3-2.3 3.1zM571.9 784.5l-4-.7-2.6-2.3 0-3 2.1-2.1 3-.9 3 .2 2.5 1 1.6 1.8 .4 2-1.1 2-1.9 1.3zM572.4 784l-3.5-.3-2.6-1.7-.7-2.5 1.3-2.1 2-1.1 3-.4 2.5 .6 2.1 1.5 .7 1.5-.4 2-1.9 1.8zM571.9 783.5l-3-.4-2.1-1.6-.4-2 1.5-2.1 2-.8 2.5-.1 2 .6 1.6 1.4 .5 1.5-.6 1.6-1.5 1.3zM573.4 782.6l-2.5 .3-2-.5-1.4-1.4 0-2 2.9-1.8 3.5 .4 1.7 2.4-.6 1.5zM572.4 782l-3.2-.5-.8-1 .3-1.5 2.2-1.1 2.7 .6 .8 2zM571.9 780.6l-1 0-.5-.7 1.5-.5 .5 .6z"/>
<path fill="#2e3192" fill-rule="evenodd" d="M397.6 817.5l-6-.1-4.6-1.9-1.6-1.5-.9-2 .9-3.5 3.8-2.7 4.4-1.1 5 .4 4.2 1.9 2.4 3-.2 3-2.9 2.9zM396.2 815.5l-3.6-.2-3.1-1.3-1.5-2 .5-2.5 2.1-1.7 3.5-.9 3.5 .3 2.7 1.2 1.5 2.1-.2 2-2 1.9z"/>
<path fill="none" stroke="#2e3192" d="M397.6 817.5l-6-.1-4.6-1.9-1.6-1.5-.9-2 .9-3.5 3.8-2.7 4.4-1.1 5 .4 4.2 1.9 2.4 3-.2 3-2.9 2.9zM396.2 815.5l-3.6-.2-3.1-1.3-1.5-2 .5-2.5 2.1-1.7 3.5-.9 3.5 .3 2.7 1.2 1.5 2.1-.2 2-2 1.9zM396.2 815l-3.6-.2-2.7-1.3-1.2-2 .7-2 2.2-1.6 3-.6 3 .4 2.3 1.2 1.1 1.6-.2 2-1.7 1.5zM395.6 814.5l-3-.3-2.2-1.2-.8-1.5 .8-2 1.8-1.1 2.4-.5 2.5 .3 2.3 1.2 .8 1.6-.4 1.5-1.7 1.3zM396.6 813.6l-2.5 .2-2-.6-1.3-1.2 0-1.5 2.8-1.8 4 .5 1.1 .8 .5 1.5-1.1 1.4zM395.2 813l-2.6-.8-.5-.8 .2-.9 2.3-1.1 2.5 .8 .6 .8-.2 1z"/>
<path fill="#2e3192" fill-rule="evenodd" d="M1384 814.3l-6-.2-5-2.7-1.8-3.6 .3-2 1.3-2 3.7-2.4 5-.9 5.5 .9 3.5 2.2 1.6 3.1-.7 3.5-3 2.7zM1384.4 811.8l-4 .3-3.5-1.2-2.1-2.6 .4-2.5 1.8-1.7 3-1.1 3.5 0 3 1.1 1.7 1.6 .4 2.5-1.3 2z"/>
<path fill="none" stroke="#2e3192" d="M1384 814.3l-6-.2-5-2.7-1.8-3.6 .3-2 1.3-2 3.7-2.4 5-.9 5.5 .9 3.5 2.2 1.6 3.1-.7 3.5-3 2.7zM1384.4 811.8l-4 .3-3.5-1.2-2.1-2.6 .4-2.5 1.8-1.7 3-1.1 3.5 0 3 1.1 1.7 1.6 .4 2.5-1.3 2zM1384 811.4l-3.5 .2-3.5-1.4-1.4-2 .5-2.5 1.9-1.5 3-.8 3 .2 2.4 1.1 1.2 1.5 .2 2-1.3 2zM1383.4 810.9l-3 .1-2.8-1.2-1.2-2 .7-2 1.9-1.3 2.5-.6 4.3 1.4 1.1 1.5 0 1.5-1.1 1.5zM1382.4 810.3l-2.5-.2-2-1.2-.5-1.6 .9-1.5 3.7-1.1 3.5 1.4 .5 1.1-.5 1.5zM1382.4 809.3l-2.8-.5-.7-1 .2-1 2.4-1.2 2.3 .6 .7 1-.2 1z"/>
<path fill="#2e3192" fill-rule="evenodd" d="M1562.5 782.5l-6 .3-3-1-2.5-1.8-1.4-2-.6-2.5 .6-2.5 1.4-2 3.5-2.2 4.5-.8 4.5 .8 3.5 2.2 1.8 3-.2 3.5-2.2 3zM1561 780.1l-4 0-3.1-1.6-1.4-3 1.4-3 2.1-1.3 3-.6 3 .6 2.1 1.3 1.3 2-.2 2.5-1.7 2z"/>
<path fill="none" stroke="#2e3192" d="M1562.5 782.5l-6 .3-3-1-2.5-1.8-1.4-2-.6-2.5 .6-2.5 1.4-2 3.5-2.2 4.5-.8 4.5 .8 3.5 2.2 1.8 3-.2 3.5-2.2 3zM1561 780.1l-4 0-3.1-1.6-1.4-3 1.4-3 2.1-1.3 3-.6 3 .6 2.1 1.3 1.3 2-.2 2.5-1.7 2zM1561 779.6l-3.5 .1-3.3-1.7-1-2.5 1-2.5 2.3-1.5 2.5-.4 2.5 .4 2.3 1.5 1 2-.3 2-1.5 1.7zM1561 779l-3 .2-2.8-1.2-1.2-2 .7-2.5 1.8-1.3 2-.5 2.5 .3 1.8 1 1.1 1.5 0 2-1.1 1.5zM1560 778.6l-2.5-.2-2.2-1.4-.4-2 1.1-1.7 3.5-.9 3.2 1.6 .5 1.5-.5 1.5zM1560 777.7l-2 0-1.5-.9-.6-1.3 .8-1.5 2.3-.8 2.5 1 .5 1.8zM1559.5 776.2l-1.3-.2 0-1 1.6 0z"/>
<path fill="#2e3192" fill-rule="evenodd" d="M578.8 1827.3l-5.4-.2-3.5-1.8-1.8-3 1.1-3 2.6-1.9 4.1-.9 4 .4 3.5 1.8 1.6 2.5-.3 2.5-2.4 2.4zM578.8 1825.4l-2.9 .2-3-.9-1.8-2 .2-2 1.6-1.4 2.5-.9 2.5 0 2.5 .9 1.5 1.5 .2 2-1 1.5z"/>
<path fill="none" stroke="#2e3192" d="M578.8 1827.3l-5.4-.2-3.5-1.8-1.8-3 1.1-3 2.6-1.9 4.1-.9 4 .4 3.5 1.8 1.6 2.5-.3 2.5-2.4 2.4zM578.8 1825.4l-2.9 .2-3-.9-1.8-2 .2-2 1.6-1.4 2.5-.9 2.5 0 2.5 .9 1.5 1.5 .2 2-1 1.5zM576.8 1825.3l-2.9-.6-2-1.5-.2-2 1.1-1.4 2.1-.9 2.5-.1 2.5 .7 1.4 1.2 .3 1.5-.8 1.5zM577.4 1824.8l-2.5-.2-1.7-.8-.9-1.5 .4-1.5 1.6-1.2 2.1-.4 3.6 1 .8 1 0 1.5-1.4 1.5zM578.4 1823.9l-4-.2-1.1-1 0-1.5 2.6-1.4 2.9 .5 1.2 2zM577.4 1823.4l-2.5-.5-.6-.7 .3-1 1.8-.7 2 .6 .5 1.2z"/>
<path fill="#2e3192" fill-rule="evenodd" d="M344 1888.1l-4.1-.1-3.1-2-1.1-3 1.8-3.1 2.4-1.3 3.1-.3 2.4 .7 2.2 1.5 1 2-.3 2.5-1.9 2.1zM343 1886.6l-3.1-.5-1.7-1.5 0-2.5 1.8-1.6 3.4-.4 2.8 2 .3 1.5-.6 1.5z"/>
<path fill="none" stroke="#2e3192" d="M344 1888.1l-4.1-.1-3.1-2-1.1-3 1.8-3.1 2.4-1.3 3.1-.3 2.4 .7 2.2 1.5 1 2-.3 2.5-1.9 2.1zM343 1886.6l-3.1-.5-1.7-1.5 0-2.5 1.8-1.6 3.4-.4 2.8 2 .3 1.5-.6 1.5zM343 1886.1l-2.6-.3-1.5-1.2-.3-2 1.3-1.6 3.1-.5 2.5 1.5 0 2.5zM342.4 1885.6l-1.9-.4-1.1-1.2 0-1.5 1.6-1.3 2.4 0 1.6 1.3-.3 2zM343.4 1884.6l-2.5 0-.7-1 .2-1 1.6-.9 1.5 .3 .7 1.5z"/>
<path fill="#e3202a" fill-rule="evenodd" d="M874 222.1l-3.5 .4-3.5-.8-3.3-2.2-2-3-.7-3.5 .7-3.5 2-3 3.3-2.2 4-.8 4 .8 3.3 2.2 2 3 .7 4-.9 3.5-2.6 3.2zM873 219.1l-2.5 .3-2.5-.7-2-1.4-1.4-2.3-.3-2.5 .5-2 1.4-2 2.3-1.4 3-.5 2.5 .7 2 1.4 1.4 2.3 .3 2.5-.8 2.5-1.7 2z"/>
<path fill="none" stroke="#e3202a" d="M874 222.1l-3.5 .4-3.5-.8-3.3-2.2-2-3-.7-3.5 .7-3.5 2-3 3.3-2.2 4-.8 4 .8 3.3 2.2 2 3 .7 4-.9 3.5-2.6 3.2zM873 219.1l-2.5 .3-2.5-.7-2-1.4-1.4-2.3-.3-2.5 .5-2 1.4-2 2.3-1.4 3-.5 2.5 .7 2 1.4 1.4 2.3 .3 2.5-.8 2.5-1.7 2zM873 218.6l-4.5-.2-2.1-1.4-1.3-2-.3-2.5 .5-2 3.2-2.9 2.5-.5 2.5 .5 2.1 1.4 1.3 2 .3 2.5-.5 2-1.6 2zM873 218.1l-2.5 .3-2-.5-2.8-2.9-.4-2 .4-2 2.8-2.9 2-.5 2.5 .3 2 1.2 1.3 1.9 .4 2-.4 2-1.3 1.9zM873 217.5l-4 0-2.7-2.5-.2-3.5 2.4-2.8 4-.4 2 1.1 1.2 1.6 .5 2-.5 2zM872.5 217.1l-3.5-.2-2.3-2.4 0-3 2.3-2.4 3.5-.2 1.8 1.1 1 1.5-.2 3.5zM872 216.5l-3-.4-1.7-2.1 .5-3 2.2-1.5 3 .4 1.7 2.1-.5 3zM872 215.6l-2.3-.1-1.4-1.5 0-2 1.7-1.6 2.3 .1 1.4 1.5 0 2zM871 214.5l-1.2-.5-.4-1 .4-1 1.2-.5 1.2 .5 .4 1-.4 1z"/>
<path fill="#e3202a" fill-rule="evenodd" d="M363.7 779.3l-4 .4-3.5-.9-2.3-2.1 0-2 1.8-1.8 3-1.1 3.5 0 3 .8 2 1.6 .4 2-1.4 2zM363.2 778.3l-3 .3-2.5-.5-1.8-1.4-.3-1.5 1.1-1.3 2-.9 5 .3 1.4 .9 .7 1.5-.7 1.5z"/>
<path fill="none" stroke="#e3202a" d="M363.7 779.3l-4 .4-3.5-.9-2.3-2.1 0-2 1.8-1.8 3-1.1 3.5 0 3 .8 2 1.6 .4 2-1.4 2zM363.2 778.3l-3 .3-2.5-.5-1.8-1.4-.3-1.5 1.1-1.3 2-.9 5 .3 1.4 .9 .7 1.5-.7 1.5zM362.2 777.7l-4-.3-1.3-1.2 0-1 2.8-1.6 3.5 .4 1.3 1.2 0 1zM361.2 776.7l-2-.4-.2-1.1 1.7-.6 1.5 .5 .2 1.1z"/>
<path fill="#e3202a" fill-rule="evenodd" d="M1861.5 207.2l-3.5 .2-3.5-1.1-2.6-2.3-1.6-3-.2-3.5 1.1-3.5 2.3-2.6 3-1.6 3.5-.2 3.5 1.1 2.6 2.3 1.6 3 .2 3.5-1.1 3.5-2.3 2.6zM1859.5 204.5l-2.5-.3-2-1.2-1.3-1.5-.7-2.5 .3-2.5 1.2-2 1.5-1.3 2.5-.7 2.5 .3 2 1.2 1.3 1.5 .7 2.5-.3 2.5-1.2 2-1.5 1.3z"/>
<path fill="none" stroke="#e3202a" d="M1861.5 207.2l-3.5 .2-3.5-1.1-2.6-2.3-1.6-3-.2-3.5 1.1-3.5 2.3-2.6 3-1.6 3.5-.2 3.5 1.1 2.6 2.3 1.6 3 .2 3.5-1.1 3.5-2.3 2.6zM1859.5 204.5l-2.5-.3-2-1.2-1.3-1.5-.7-2.5 .3-2.5 1.2-2 1.5-1.3 2.5-.7 2.5 .3 2 1.2 1.3 1.5 .7 2.5-.3 2.5-1.2 2-1.5 1.3zM1860 204l-4-.7-1.8-1.8-.7-2 .7-4 1.8-1.8 2-.7 4 .7 1.8 1.8 .7 2-.7 4-1.8 1.8zM1860 203.6l-2 0-2-.9-2.1-3.2 0-2 .9-2 3.2-2.1 2 0 2 .9 2.1 3.2 0 2-.9 2zM1860 203.1l-3.5-.7-2.1-2.9 .7-3.5 2.9-2.1 3.5 .7 2.1 2.9-.7 3.5zM1859.5 202.6l-3-.8-1.6-2.8 .8-3 2.8-1.6 3 .8 1.6 2.8-.8 3zM1860.5 201.6l-2.5 .2-2.1-1.8-.2-2.5 1.8-2.1 2.5-.2 2.1 1.8 .2 2.5zM1859.5 201.1l-2-.4-1.1-1.7 .4-2 1.7-1.1 2 .4 1.1 1.7-.4 2zM1860 199.5l-1 .4-1-.4-.4-1 .4-1 1-.4 1 .4 .4 1z"/>
<path fill="#e6168c" fill-rule="evenodd" d="M432 408.1l-6 .4-5.5-.7-5.5-2-4.1-2.8-2.7-3.5-1.2-4 .7-4 2.2-3.5 3.1-2.6 4-2.1 8.5-1.8 6.5 .4 8.5 2.4 9-.7 3 1 2 1.5 1.3 1.9 .4 2-.4 2-1.3 2-7.1 4-3.8 4.5-3.1 2.4-4 2zM428 400.5l-5-.6-3.4-2.4-.8-3 1.8-3 3.4-1.7 4-.3 3.9 1 2.5 2 .9 2.5-.9 2.5-2.5 2zM448.5 390.7l-1.5-.1 0-1.1 1.7 0z"/>
<path fill="none" stroke="#e6168c" d="M432 408.1l-6 .4-5.5-.7-5.5-2-4.1-2.8-2.7-3.5-1.2-4 .7-4 2.2-3.5 3.1-2.6 4-2.1 8.5-1.8 6.5 .4 8.5 2.4 9-.7 3 1 2 1.5 1.3 1.9 .4 2-.4 2-1.3 2-7.1 4-3.8 4.5-3.1 2.4-4 2zM428 400.5l-5-.6-3.4-2.4-.8-3 1.8-3 3.4-1.7 4-.3 3.9 1 2.5 2 .9 2.5-.9 2.5-2.5 2zM448.5 390.7l-1.5-.1 0-1.1 1.7 0zM428 399.5l-4-.4-3-1.9-.8-2.7 1.6-2.5 2.7-1.3 3.5-.2 3 .8 2 1.5 .8 2.2-.7 2-2.1 1.7zM429 398l-3 .2-2.5-.9-1.4-1.8 .5-2 3.4-1.7 2.5 0 2 .9 1.2 1.3 .2 1.5-1 1.5zM427 396l-1.5-1 1.5-1 1.5 1z"/>
<path fill="#e6168c" fill-rule="evenodd" d="M1419 398.1l-5.5 .4-5.5-.6-5-1.7-4-2.5-2.7-3.2-1.2-3.5 .3-3.5 1.9-3.5 3.2-2.8 3.5-1.8 4.5-1.4 5-.5 6.5 .6 8 2.7 8-.1 4.1 2.3 1.2 3.5-1.8 3.2-6.4 3.3-3.4 4-2.7 2.1-3.5 1.7zM1416 390l-4 0-3-1.3-1.4-2.2 .7-2.5 2.2-1.6 3-.6 3 .3 2.5 1.2 1.3 1.7 0 2-1.7 2z"/>
<path fill="none" stroke="#e6168c" d="M1419 398.1l-5.5 .4-5.5-.6-5-1.7-4-2.5-2.7-3.2-1.2-3.5 .3-3.5 1.9-3.5 3.2-2.8 3.5-1.8 4.5-1.4 5-.5 6.5 .6 8 2.7 8-.1 4.1 2.3 1.2 3.5-1.8 3.2-6.4 3.3-3.4 4-2.7 2.1-3.5 1.7zM1416 390l-4 0-3-1.3-1.4-2.2 .7-2.5 2.2-1.6 3-.6 3 .3 2.5 1.2 1.3 1.7 0 2-1.7 2zM1415 389l-2.5-.1-2.1-.9-1-1.5 .5-2 3.6-1.6 4.1 1.1 1 1.5-.2 1.5-1.4 1.4zM1415 386.6l-1.5 .2-.9-.8 .4-.6 1.5-.2 .9 .8z"/>
<path fill="#e6168c" fill-rule="evenodd" d="M429.5 1432.1l-5.5 .4-5.5-.4-5.5-1.5-4.5-2.2-3.3-2.9-1.9-3.5-.1-3.5 1.2-3 3.1-3.2 4.5-2.6 5.5-1.6 7-.6 8.5 1.2 8.5 3.4 9 1 3 1.3 1.7 1.6 .5 3-2.7 2.9-8.4 2.6-7.1 5.1zM426 1425l-4.5-.1-4-1.5-2-2.4 .5-3 2.5-2 4-1.1 4.5 .3 3.5 1.4 2 2.4-.2 2.5-2.3 2.2z"/>
<path fill="none" stroke="#e6168c" d="M429.5 1432.1l-5.5 .4-5.5-.4-5.5-1.5-4.5-2.2-3.3-2.9-1.9-3.5-.1-3.5 1.2-3 3.1-3.2 4.5-2.6 5.5-1.6 7-.6 8.5 1.2 8.5 3.4 9 1 3 1.3 1.7 1.6 .5 3-2.7 2.9-8.4 2.6-7.1 5.1zM426 1425l-4.5-.1-4-1.5-2-2.4 .5-3 2.5-2 4-1.1 4.5 .3 3.5 1.4 2 2.4-.2 2.5-2.3 2.2zM426 1424.1l-4 0-3.1-1.1-1.8-2 .2-2.5 2.2-1.8 3-.9 3.5 .1 3.1 1.1 1.8 2 0 2-1.8 2zM425 1423l-2.5-.1-2.5-1-1.1-1.4 .6-2 4-1.6 4.5 1.2 1.1 1.4-.2 1.5-1.4 1.3zM425 1420.7l-1.5 .1-1-.8 .5-.7 1.5-.1 1 .8z"/>
<path fill="#f7941d" fill-rule="evenodd" d="M137 596.6l-3.5 .3-3.5-1.4-2.8-3-1.5-4-.1-4.5 1.4-4 2.5-3.1 3.5-1.7 3.5 .1 3 1.6 2.3 2.6 1.5 4 .1 4-1.1 4-2.3 3.2zM135.5 593l-2.5-.1-2-1.2-1.6-2.2-.7-2.5 .2-3 1.1-2.5 1.5-1.6 2.5-1 2 .2 2 1.2 1.6 2.2 .7 2.5-.9 5-1.7 2z"/>
<path fill="none" stroke="#f7941d" d="M137 596.6l-3.5 .3-3.5-1.4-2.8-3-1.5-4-.1-4.5 1.4-4 2.5-3.1 3.5-1.7 3.5 .1 3 1.6 2.3 2.6 1.5 4 .1 4-1.1 4-2.3 3.2zM135.5 593l-2.5-.1-2-1.2-1.6-2.2-.7-2.5 .2-3 1.1-2.5 1.5-1.6 2.5-1 2 .2 2 1.2 1.6 2.2 .7 2.5-.9 5-1.7 2zM136 592.2l-2 .2-2-.8-1.6-1.6-1-2.5-.1-2.5 .8-2.5 1.4-1.8 2-1 2 0 2 1 2.1 3.8-.5 4.5-1.3 2zM135 591.6l-2-.3-1.5-1.1-1.6-3.7 1.1-4.1 1.5-1.4 2-.6 3 1.4 1.6 3.7-1 4zM135 590.6l-3-1.1-1.2-3 .7-3.3 2.5-1.8 3 1.1 1.2 3-.7 3.3zM135.5 589.1l-2.2-.1-1.4-2 .1-2.5 2-1.8 2 .5 1.1 1.8-.1 2.5zM134.5 587.1l-.9-1.1 .9-1.1 .9 1.1z"/>
<path fill="#f7941d" fill-rule="evenodd" d="M257.1 561l-4 .5-3.5-.6-3-1.5-2.5-2.4-1.3-3 0-3 1.3-3 2.5-2.4 4.5-1.9 4.5-.1 4.5 1.6 3 2.8 1.4 3.5-.5 4-2.8 3.5zM255.6 558.1l-5-.3-3.5-2.8-.6-2 .2-2 1.2-2 1.7-1.4 3-.9 3 .2 2.6 1.1 1.9 2 .7 2.5-.7 2.5-1.9 2z"/>
<path fill="none" stroke="#f7941d" d="M257.1 561l-4 .5-3.5-.6-3-1.5-2.5-2.4-1.3-3 0-3 1.3-3 2.5-2.4 4.5-1.9 4.5-.1 4.5 1.6 3 2.8 1.4 3.5-.5 4-2.8 3.5zM255.6 558.1l-5-.3-3.5-2.8-.6-2 .2-2 1.2-2 1.7-1.4 3-.9 3 .2 2.6 1.1 1.9 2 .7 2.5-.7 2.5-1.9 2zM255.1 557.6l-4.5-.5-2.9-2.6-.3-3.5 2.7-2.9 2.5-.8 3 .2 2.5 1.3 1.4 1.7 .5 2.5-.8 2-1.6 1.6zM254.1 557.1l-4-1-2-2.6 0-2 .8-1.5 3.2-1.9 4.5 .5 2.5 2.9 0 2-1 1.7-1.8 1.3zM255.1 556.1l-3 0-2.4-1.6-.7-2.5 1.6-2.4 3.5-.8 3.4 1.7 .7 1.5-.4 2zM254.6 555.1l-2.4-.1-1.6-1.3-.3-1.7 1.3-1.7 3-.4 2 1.4 .1 2.2zM254.1 553.3l-1.5-.3 0-1 1-.4 1 .4z"/>
<path fill="#f7941d" fill-rule="evenodd" d="M1119.8 592.3l-4.5-.2-3.5-2.1-2.9-3.8-1.4-5 .5-5 2.1-4.5 3.2-2.8 4-1.4 4 .6 3.5 2.3 2.5 3.9 1.2 4.5-.4 4.5-1.5 4-2.8 3.2zM1119.8 587.9l-3 .1-2.5-1.2-1.8-2-1.2-3 0-3.5 1.2-3 2.2-2.4 2.5-1 2.5 .2 2.1 1.1 1.7 2 1.2 3 0 3-.9 3-1.5 2.2z"/>
<path fill="none" stroke="#f7941d" d="M1119.8 592.3l-4.5-.2-3.5-2.1-2.9-3.8-1.4-5 .5-5 2.1-4.5 3.2-2.8 4-1.4 4 .6 3.5 2.3 2.5 3.9 1.2 4.5-.4 4.5-1.5 4-2.8 3.2zM1119.8 587.9l-3 .1-2.5-1.2-1.8-2-1.2-3 0-3.5 1.2-3 2.2-2.4 2.5-1 2.5 .2 2.1 1.1 1.7 2 1.2 3 0 3-.9 3-1.5 2.2zM1118.2 587.3l-2.5-.5-1.9-1.5-1.5-2.5-.4-2.5 .3-2.5 1.2-2.5 1.8-1.8 2.5-.8 2.5 .5 2 1.5 1.5 2.5 .4 2.5-.3 2.5-1.2 2.5-1.8 1.8zM1118.8 586.3l-2-.1-2-1.2-1.4-1.8-.7-2.5 .2-2.5 1.1-2.5 1.8-1.5 2-.5 2 .3 1.7 1.2 1.8 4-1 4.6-1.5 1.6zM1119.8 584.8l-1.5 .4-2-.4-1.5-1.3-1-2.2 .5-4 1.1-1.5 1.8-1 3 .7 2 3.2-.2 3.5zM1118.2 583.8l-2.4-1-1-2.5 1-3 2-1.1 2.4 1 1 2.5-1 3zM1118.2 581.3l-1.3-1 .8-1.6 1.4 1z"/>
<path fill="#f7941d" fill-rule="evenodd" d="M1244.5 552.1l-4 .4-3.5-.6-3-1.3-2.3-2.1-1.4-2.5-.2-3 .9-2.5 2-2.3 4-2.1 5-.6 4.5 1.1 3.8 2.9 1.6 3.5-.6 4-2.8 3.2zM1241.5 549.5l-5-1.2-1.5-1.3-1-2 0-2 1-2 4-2.3 3-.2 2.5 .7 2.5 1.8 1 2-.1 2.5-1.4 2-2 1.3z"/>
<path fill="none" stroke="#f7941d" d="M1244.5 552.1l-4 .4-3.5-.6-3-1.3-2.3-2.1-1.4-2.5-.2-3 .9-2.5 2-2.3 4-2.1 5-.6 4.5 1.1 3.8 2.9 1.6 3.5-.6 4-2.8 3.2zM1241.5 549.5l-5-1.2-1.5-1.3-1-2 0-2 1-2 4-2.3 3-.2 2.5 .7 2.5 1.8 1 2-.1 2.5-1.4 2-2 1.3zM1243.5 548.6l-4 .2-3.6-1.8-1.3-3 1.3-3 2.1-1.4 3-.6 3 .6 2.1 1.4 1.2 2-.2 2.5-1.6 2zM1243 548l-3.5 .2-3-1.6-1.1-2.6 1.1-2.6 2-1.3 2.5-.4 2.5 .4 2 1.3 .9 1.6 0 2-1.4 2zM1241.5 547.5l-3-.5-1.9-2 .2-2.5 2.2-1.7 4 0 2.4 2.2 .2 1.5-.8 1.5zM1241.5 546.6l-2-.3-1.6-1.3-.2-1.5 1.3-1.6 3-.4 2.1 1.5-.1 2.2zM1241.5 544.8l-1.5-.3 0-1 2 0z"/>
<path fill="#f7941d" fill-rule="evenodd" d="M130.5 1620l-6 .4-5.5-1.1-4.5-2.4-3.4-3.4-1.9-4.5 .1-4.5 1.8-4 3.9-3.8 7-2.8 7-.2 7 2.4 4.9 4.4 2 5.5-.1 3-1 3-2.1 3-2.7 2.3zM126.5 1616l-4-.4-4-1.8-2.7-2.8-1.1-3 .4-3.5 1.9-3 3-2.2 4-1.2 4.5 .1 4.5 1.7 2.9 2.6 1.4 3.5-.6 4-2.2 3-3.5 2.1z"/>
<path fill="none" stroke="#f7941d" d="M130.5 1620l-6 .4-5.5-1.1-4.5-2.4-3.4-3.4-1.9-4.5 .1-4.5 1.8-4 3.9-3.8 7-2.8 7-.2 7 2.4 4.9 4.4 2 5.5-.1 3-1 3-2.1 3-2.7 2.3zM126.5 1616l-4-.4-4-1.8-2.7-2.8-1.1-3 .4-3.5 1.9-3 3-2.2 4-1.2 4.5 .1 4.5 1.7 2.9 2.6 1.4 3.5-.6 4-2.2 3-3.5 2.1zM129 1615.1l-3.5 .3-3.5-.6-3-1.4-2.4-2.4-1.1-2.5 0-3 1.1-2.5 2.4-2.4 4.5-1.8 4.5-.1 4.5 1.6 2.9 2.7 1.2 3.5-.9 4-2.7 2.9zM128.5 1614.6l-3.5 .2-3-.6-3-1.7-1.8-2-1-2.5 .1-2.5 1.2-2.5 2.5-2.2 4-1.5 4 0 4 1.5 2.8 2.7 1.1 3.5-.9 3.2-2.7 2.8zM127.5 1614.1l-3 0-3-.9-2.5-1.7-1.4-2-.6-2.5 .6-2.5 1.4-2 2.5-1.7 3.5-.9 4 .3 3.5 1.8 1.9 2.5 .6 3-1.1 3-2.9 2.5zM128.5 1613.1l-5.5-.1-4-2.8-1-2.2 0-2 .9-2 1.6-1.7 3-1.4 3.5-.3 3.5 1.1 2.5 2.1 1.1 2.7-.7 3-1.9 2.2zM127 1612.5l-5-.9-2.8-3.1-.2-2 .7-2 3.3-2.5 3-.6 3 .6 2.5 1.5 1.3 2 .1 2.5-1 2-1.9 1.6zM127 1611.5l-4-.6-2.5-2.4 0-3 2.5-2.4 2.5-.7 2.5 .3 2 1 1.5 1.8 .2 2-.7 1.8-1.5 1.4zM127.5 1610.1l-3 0-2-1.3-.6-2.3 1.1-1.8 3.5-1 3 1.5 .5 2.8zM126 1608l-1.2-1 1.2-1 1.2 1z"/>
<path fill="#f7941d" fill-rule="evenodd" d="M257.5 1591.5l-7 .5-7-.6-7-1.7-5-2.1-4-2.8-2.4-3.3-.8-4 1-3.5 2.7-3.2 4.5-3 5.5-2 7-1.4 7-.4 6.5 .6 5.5 1.3 5.5 2.3 4 2.8 2.7 3.5 .8 3.5-.8 3.5-2.7 3.5-4 2.8-5.5 2.3zM255.5 1587l-9.5 0-10.5-2.6-3-1.9-1.6-2-.6-2 .3-2.5 1.9-2.5 2.5-1.7 9-2.5 9.5-.6 8.5 2.1 3.1 1.7 2.4 2.5 .9 2.5-.4 2.5-1.8 2.5-2.7 2z"/>
<path fill="none" stroke="#f7941d" d="M257.5 1591.5l-7 .5-7-.6-7-1.7-5-2.1-4-2.8-2.4-3.3-.8-4 1-3.5 2.7-3.2 4.5-3 5.5-2 7-1.4 7-.4 6.5 .6 5.5 1.3 5.5 2.3 4 2.8 2.7 3.5 .8 3.5-.8 3.5-2.7 3.5-4 2.8-5.5 2.3zM255.5 1587l-9.5 0-10.5-2.6-3-1.9-1.6-2-.6-2 .3-2.5 1.9-2.5 2.5-1.7 9-2.5 9.5-.6 8.5 2.1 3.1 1.7 2.4 2.5 .9 2.5-.4 2.5-1.8 2.5-2.7 2zM254.5 1586.6l-9.5-.3-9.5-2.5-3.9-3.3-.6-2 .4-2.5 1.6-2.1 3-1.9 10-2.4 9.5 0 7.4 2.4 2.6 2 1.3 2 .4 2.5-.6 2-1.6 2-3 2zM253.5 1586l-8.5-.3-9-2.3-2.2-1.4-1.6-2-.5-2 .5-2 1.8-2.1 3-1.7 11.5-2.2 8.5 .5 6.6 3 2.4 3.5 0 2-1 2-4.5 3.3zM255.5 1585l-8 .3-10-2-4.2-2.8-.8-2 .3-2 3.2-3.1 7-2 9-.8 7 1.4 4.6 3 1.1 2 0 2-1.1 2-2.1 1.8zM253.5 1584.5l-7-.1-9-1.8-3.5-2.6-.6-1.5 .3-2 1.8-2 2.5-1.3 10-1.8 7.5 .4 5.4 2.2 2.3 3 0 2-.7 1.5-3.5 2.6zM254 1583.6l-6.5 .1-9-1.6-3.4-2.1-.7-1.5 .2-1.5 2.4-2.5 4.5-1.3 9-1 6 .8 4.2 2.5 1 3-2.2 3zM253.5 1582.6l-5.5 .1-8.5-1.2-3-1.6-.8-2.4 1.6-2 3.7-1.3 8.5-1 5.5 .5 3.5 1.8 1.1 1.5 .2 1.5-1.9 2.5zM251.5 1581.5l-11.1-1-2.4-1.2-.6-1.8 1.1-1.2 1.9-.8 8.6-1 4.5 .3 3.3 1.7 .6 1.5-.9 1.8-2 1.1zM252 1579.1l-3.5 .2-6.6-1.3 8.6-1.4 2.4 .9 0 1z"/>
</g>
<g transform="translate(0,0)" stroke="#231f20" stroke-width="3.6" fill="none">
<path d="M14.1,13.6V946.5M12.299999999999999,15.4H897.5M897.5,13.6V946.5M12.299999999999999,946.5H897.5"/>
<path stroke-width="3.3" d="M14.2,946.5v12.2M39.4,946.5v12.2M64.6,946.5v12.2M89.8,946.5v20M115.0,946.5v12.2M140.2,946.5v12.2M165.4,946.5v12.2M190.6,946.5v12.2M215.8,946.5v20M241.0,946.5v12.2M266.2,946.5v12.2M291.4,946.5v12.2M316.6,946.5v12.2M341.8,946.5v20M367.0,946.5v12.2M392.2,946.5v12.2M417.4,946.5v12.2M442.6,946.5v12.2M467.8,946.5v20M493.0,946.5v12.2M518.2,946.5v12.2M543.4,946.5v12.2M568.6,946.5v12.2M593.8,946.5v20M619.0,946.5v12.2M644.2,946.5v12.2M669.4,946.5v12.2M694.6,946.5v12.2M719.8,946.5v20M745.0,946.5v12.2M770.2,946.5v12.2M795.4,946.5v12.2M820.6,946.5v12.2M845.8,946.5v20M871.0,946.5v12.2M896.2,946.5v12.2M897.5,16.2h13.5M897.5,60.5h21M897.5,104.8h13.5M897.5,149.1h13.5M897.5,193.4h13.5M897.5,237.7h13.5M897.5,282.0h21M897.5,326.3h13.5M897.5,370.6h13.5M897.5,414.9h13.5M897.5,459.2h13.5M897.5,503.5h21M897.5,547.8h13.5M897.5,592.1h13.5M897.5,636.4h13.5M897.5,680.7h13.5M897.5,725.0h21M897.5,769.3h13.5M897.5,813.6h13.5M897.5,857.9h13.5M897.5,902.2h13.5M897.5,946.5h21"/>
</g>
<g transform="translate(0,0)" fill="#231f20" font-family="'Liberation Sans', Arial, Helvetica, sans-serif" font-size="33">
<text x="89.8" y="999" text-anchor="middle">6.0</text>
<text x="215.8" y="999" text-anchor="middle">5.5</text>
<text x="341.8" y="999" text-anchor="middle">5.0</text>
<text x="467.8" y="999" text-anchor="middle">4.5</text>
<text x="593.8" y="999" text-anchor="middle">4.0</text>
<text x="719.8" y="999" text-anchor="middle">3.5</text>
<text x="927.5" y="74.8">50</text>
<text x="927.5" y="296.3">60</text>
<text x="927.5" y="517.8">70</text>
<text x="927.5" y="739.3">80</text>
<text x="918.5" y="929.5" font-size="17">13</text><text x="935.5" y="943.7">C</text>
<text x="858" y="979.5" font-size="17">1</text><text x="868.5" y="995">H</text>
<text x="903" y="981.6" font-size="35.5">ppm</text>
</g>
<g transform="translate(994.8,-2.9)" stroke="#231f20" stroke-width="3.6" fill="none">
<path d="M14.1,13.6V946.5M12.299999999999999,15.4H897.5M897.5,13.6V946.5M12.299999999999999,946.5H897.5"/>
<path stroke-width="3.3" d="M14.2,946.5v12.2M39.4,946.5v12.2M64.6,946.5v12.2M89.8,946.5v20M115.0,946.5v12.2M140.2,946.5v12.2M165.4,946.5v12.2M190.6,946.5v12.2M215.8,946.5v20M241.0,946.5v12.2M266.2,946.5v12.2M291.4,946.5v12.2M316.6,946.5v12.2M341.8,946.5v20M367.0,946.5v12.2M392.2,946.5v12.2M417.4,946.5v12.2M442.6,946.5v12.2M467.8,946.5v20M493.0,946.5v12.2M518.2,946.5v12.2M543.4,946.5v12.2M568.6,946.5v12.2M593.8,946.5v20M619.0,946.5v12.2M644.2,946.5v12.2M669.4,946.5v12.2M694.6,946.5v12.2M719.8,946.5v20M745.0,946.5v12.2M770.2,946.5v12.2M795.4,946.5v12.2M820.6,946.5v12.2M845.8,946.5v20M871.0,946.5v12.2M896.2,946.5v12.2M897.5,16.2h13.5M897.5,60.5h21M897.5,104.8h13.5M897.5,149.1h13.5M897.5,193.4h13.5M897.5,237.7h13.5M897.5,282.0h21M897.5,326.3h13.5M897.5,370.6h13.5M897.5,414.9h13.5M897.5,459.2h13.5M897.5,503.5h21M897.5,547.8h13.5M897.5,592.1h13.5M897.5,636.4h13.5M897.5,680.7h13.5M897.5,725.0h21M897.5,769.3h13.5M897.5,813.6h13.5M897.5,857.9h13.5M897.5,902.2h13.5M897.5,946.5h21"/>
</g>
<g transform="translate(994.8,-2.9)" fill="#231f20" font-family="'Liberation Sans', Arial, Helvetica, sans-serif" font-size="33">
<text x="89.8" y="999" text-anchor="middle">6.0</text>
<text x="215.8" y="999" text-anchor="middle">5.5</text>
<text x="341.8" y="999" text-anchor="middle">5.0</text>
<text x="467.8" y="999" text-anchor="middle">4.5</text>
<text x="593.8" y="999" text-anchor="middle">4.0</text>
<text x="719.8" y="999" text-anchor="middle">3.5</text>
<text x="927.5" y="74.8">50</text>
<text x="927.5" y="296.3">60</text>
<text x="927.5" y="517.8">70</text>
<text x="927.5" y="739.3">80</text>
<text x="918.5" y="929.5" font-size="17">13</text><text x="935.5" y="943.7">C</text>
<text x="858" y="979.5" font-size="17">1</text><text x="868.5" y="995">H</text>
<text x="903" y="981.6" font-size="35.5">ppm</text>
</g>
<g transform="translate(0,1030)" stroke="#231f20" stroke-width="3.6" fill="none">
<path d="M14.1,13.6V946.5M12.299999999999999,15.4H897.5M897.5,13.6V946.5M12.299999999999999,946.5H897.5"/>
<path stroke-width="3.3" d="M14.2,946.5v12.2M39.4,946.5v12.2M64.6,946.5v12.2M89.8,946.5v20M115.0,946.5v12.2M140.2,946.5v12.2M165.4,946.5v12.2M190.6,946.5v12.2M215.8,946.5v20M241.0,946.5v12.2M266.2,946.5v12.2M291.4,946.5v12.2M316.6,946.5v12.2M341.8,946.5v20M367.0,946.5v12.2M392.2,946.5v12.2M417.4,946.5v12.2M442.6,946.5v12.2M467.8,946.5v20M493.0,946.5v12.2M518.2,946.5v12.2M543.4,946.5v12.2M568.6,946.5v12.2M593.8,946.5v20M619.0,946.5v12.2M644.2,946.5v12.2M669.4,946.5v12.2M694.6,946.5v12.2M719.8,946.5v20M745.0,946.5v12.2M770.2,946.5v12.2M795.4,946.5v12.2M820.6,946.5v12.2M845.8,946.5v20M871.0,946.5v12.2M896.2,946.5v12.2M897.5,16.2h13.5M897.5,60.5h21M897.5,104.8h13.5M897.5,149.1h13.5M897.5,193.4h13.5M897.5,237.7h13.5M897.5,282.0h21M897.5,326.3h13.5M897.5,370.6h13.5M897.5,414.9h13.5M897.5,459.2h13.5M897.5,503.5h21M897.5,547.8h13.5M897.5,592.1h13.5M897.5,636.4h13.5M897.5,680.7h13.5M897.5,725.0h21M897.5,769.3h13.5M897.5,813.6h13.5M897.5,857.9h13.5M897.5,902.2h13.5M897.5,946.5h21"/>
</g>
<g transform="translate(0,1030)" fill="#231f20" font-family="'Liberation Sans', Arial, Helvetica, sans-serif" font-size="33">
<text x="89.8" y="999" text-anchor="middle">6.0</text>
<text x="215.8" y="999" text-anchor="middle">5.5</text>
<text x="341.8" y="999" text-anchor="middle">5.0</text>
<text x="467.8" y="999" text-anchor="middle">4.5</text>
<text x="593.8" y="999" text-anchor="middle">4.0</text>
<text x="719.8" y="999" text-anchor="middle">3.5</text>
<text x="927.5" y="74.8">50</text>
<text x="927.5" y="296.3">60</text>
<text x="927.5" y="517.8">70</text>
<text x="927.5" y="739.3">80</text>
<text x="918.5" y="929.5" font-size="17">13</text><text x="935.5" y="943.7">C</text>
<text x="858" y="979.5" font-size="17">1</text><text x="868.5" y="995">H</text>
<text x="903" y="981.6" font-size="35.5">ppm</text>
</g>
<text x="49" y="71.8" fill="#231f20" font-size="45.5" letter-spacing="0.85">wild type</text>
<g font-family="'Liberation Sans', Arial, Helvetica, sans-serif" font-weight="bold" font-size="42">
<text x="48.75" y="138.2" fill="#29a9e0">A:</text><text x="154.8" y="138.2" fill="#29a9e0">77%</text>
<text x="48.75" y="183.1" fill="#00a651">B:</text><text x="154.8" y="183.1" fill="#00a651">15%</text>
<text x="48.75" y="228.0" fill="#92278f">C:</text><text x="154.8" y="228.0" fill="#92278f">6.3%</text>
<text x="48.75" y="272.9" fill="#2e3192">D:</text><text x="154.8" y="272.9" fill="#2e3192">0.9%</text>
<text x="48.75" y="317.8" fill="#e3202a">E:</text><text x="154.8" y="317.8" fill="#e3202a">0.8%</text>
<text x="48.75" y="373.1" fill="#e6168c">X1:</text><text x="154.8" y="373.1" fill="#e6168c">9.8%</text>
<text x="48.75" y="418.0" fill="#f7941d">X2:</text><text x="154.8" y="418.0" fill="#f7941d">1.5%</text>
</g>
<text x="570.7" y="80" fill="#00a651" font-size="37" font-weight="bold">B<tspan font-family="'Liberation Serif', 'Times New Roman', serif">β</tspan></text>
<text x="814.7" y="128.2" fill="#92278f" font-size="37" font-weight="bold">C<tspan font-family="'Liberation Serif', 'Times New Roman', serif">β</tspan></text>
<text x="817.8" y="245.4" fill="#e3202a" font-size="37" font-weight="bold">E<tspan font-family="'Liberation Serif', 'Times New Roman', serif">β</tspan></text>
<text x="337" y="393" fill="#e6168c" font-size="37" font-weight="bold">X1<tspan font-family="'Liberation Serif', 'Times New Roman', serif">γ</tspan></text>
<text x="564" y="444.6" fill="#00a651" font-size="37" font-weight="bold">B<tspan font-family="'Liberation Serif', 'Times New Roman', serif">γ</tspan></text>
<text x="517.8" y="510" fill="#92278f" font-size="37" font-weight="bold">C<tspan font-family="'Liberation Serif', 'Times New Roman', serif">γ</tspan></text>
<text x="610.2" y="510" fill="#92278f" font-size="37" font-weight="bold">C<tspan font-family="'Liberation Serif', 'Times New Roman', serif">γ</tspan></text>
<text x="64" y="551" fill="#29a9e0" font-size="37" font-weight="bold">A<tspan font-family="'Liberation Serif', 'Times New Roman', serif">α</tspan></text>
<text x="135.3" y="635.3" fill="#f7941d" font-size="37" font-weight="bold">X2<tspan font-family="'Liberation Serif', 'Times New Roman', serif">α</tspan></text>
<text x="227.7" y="599.8" fill="#f7941d" font-size="37" font-weight="bold">X2<tspan font-family="'Liberation Serif', 'Times New Roman', serif">β</tspan></text>
<text x="406.9" y="680.2" fill="#29a9e0" font-size="37" font-weight="bold">A<tspan font-family="'Liberation Serif', 'Times New Roman', serif">β</tspan></text>
<text x="555" y="757.8" fill="#2e3192" font-size="37" font-weight="bold">D<tspan font-family="'Liberation Serif', 'Times New Roman', serif">β</tspan></text>
<text x="297.3" y="783.4" fill="#e3202a" font-size="37" font-weight="bold">E<tspan font-family="'Liberation Serif', 'Times New Roman', serif">α</tspan></text>
<text x="336" y="835.6" fill="#2e3192" font-size="37" font-weight="bold">D<tspan font-family="'Liberation Serif', 'Times New Roman', serif">α</tspan></text>
<text x="411.8" y="899.5" fill="#92278f" font-size="37" font-weight="bold">C<tspan font-family="'Liberation Serif', 'Times New Roman', serif">α</tspan></text>
<text x="202" y="872.3" fill="#00a651" font-size="37" font-weight="bold">B<tspan font-family="'Liberation Serif', 'Times New Roman', serif">α</tspan></text>
<text x="620.7" y="419.5" fill="#29a9e0" font-size="37" font-weight="bold">A<tspan font-family="'Liberation Serif', 'Times New Roman', serif">γ</tspan></text><text x="674" y="419.5" fill="#231f20" font-size="37">+</text><text x="706.5" y="419.5" fill="#2e3192" font-size="37" font-weight="bold">D<tspan font-family="'Liberation Serif', 'Times New Roman', serif">γ</tspan></text><text x="757" y="419.5" fill="#231f20" font-size="37" font-weight="bold">...</text>
<text x="1049.5" y="71.2" fill="#231f20" font-size="45.5" font-style="italic" letter-spacing="1.25">med5a/5b</text>
<g font-family="'Liberation Sans', Arial, Helvetica, sans-serif" font-weight="bold" font-size="42">
<text x="1047" y="138.5" fill="#29a9e0">A:</text><text x="1141.7" y="138.5" fill="#29a9e0">73%</text>
<text x="1047" y="183.4" fill="#00a651">B:</text><text x="1141.7" y="183.4" fill="#00a651">18%</text>
<text x="1047" y="228.3" fill="#92278f">C:</text><text x="1141.7" y="228.3" fill="#92278f">8.1%</text>
<text x="1047" y="273.2" fill="#2e3192">D:</text><text x="1141.7" y="273.2" fill="#2e3192">1.0%</text>
<text x="1047" y="318.1" fill="#e3202a">E:</text><text x="1141.7" y="318.1" fill="#e3202a">0.4%</text>
<text x="1047" y="373.4" fill="#e6168c">X1:</text><text x="1141.7" y="373.4" fill="#e6168c">10%</text>
<text x="1047" y="418.3" fill="#f7941d">X2:</text><text x="1141.7" y="418.3" fill="#f7941d">1.6%</text>
</g>
<text x="1565.5" y="66" fill="#00a651" font-size="37" font-weight="bold">B<tspan font-family="'Liberation Serif', 'Times New Roman', serif">β</tspan></text>
<text x="1801" y="118.2" fill="#92278f" font-size="37" font-weight="bold">C<tspan font-family="'Liberation Serif', 'Times New Roman', serif">β</tspan></text>
<text x="1805.2" y="235" fill="#e3202a" font-size="37" font-weight="bold">E<tspan font-family="'Liberation Serif', 'Times New Roman', serif">β</tspan></text>
<text x="1324" y="385" fill="#e6168c" font-size="37" font-weight="bold">X1<tspan font-family="'Liberation Serif', 'Times New Roman', serif">γ</tspan></text>
<text x="1550.5" y="436.3" fill="#00a651" font-size="37" font-weight="bold">B<tspan font-family="'Liberation Serif', 'Times New Roman', serif">γ</tspan></text>
<text x="1503.7" y="502.5" fill="#92278f" font-size="37" font-weight="bold">C<tspan font-family="'Liberation Serif', 'Times New Roman', serif">γ</tspan></text>
<text x="1596.2" y="502.5" fill="#92278f" font-size="37" font-weight="bold">C<tspan font-family="'Liberation Serif', 'Times New Roman', serif">γ</tspan></text>
<text x="1050.4" y="543.4" fill="#29a9e0" font-size="37" font-weight="bold">A<tspan font-family="'Liberation Serif', 'Times New Roman', serif">α</tspan></text>
<text x="1121.4" y="628" fill="#f7941d" font-size="37" font-weight="bold">X2<tspan font-family="'Liberation Serif', 'Times New Roman', serif">α</tspan></text>
<text x="1213.9" y="590.8" fill="#f7941d" font-size="37" font-weight="bold">X2<tspan font-family="'Liberation Serif', 'Times New Roman', serif">β</tspan></text>
<text x="1412.5" y="678.3" fill="#29a9e0" font-size="37" font-weight="bold">A<tspan font-family="'Liberation Serif', 'Times New Roman', serif">β</tspan></text>
<text x="1542" y="750" fill="#2e3192" font-size="37" font-weight="bold">D<tspan font-family="'Liberation Serif', 'Times New Roman', serif">β</tspan></text>
<text x="1323.4" y="827.7" fill="#2e3192" font-size="37" font-weight="bold">D<tspan font-family="'Liberation Serif', 'Times New Roman', serif">α</tspan></text>
<text x="1398" y="893.7" fill="#92278f" font-size="37" font-weight="bold">C<tspan font-family="'Liberation Serif', 'Times New Roman', serif">α</tspan></text>
<text x="1188.6" y="873.1" fill="#00a651" font-size="37" font-weight="bold">B<tspan font-family="'Liberation Serif', 'Times New Roman', serif">α</tspan></text>
<text x="1617.7" y="399.3" fill="#29a9e0" font-size="37" font-weight="bold">A<tspan font-family="'Liberation Serif', 'Times New Roman', serif">γ</tspan></text><text x="1670.5" y="399.3" fill="#231f20" font-size="37">+</text><text x="1704.2" y="399.3" fill="#2e3192" font-size="37" font-weight="bold">D<tspan font-family="'Liberation Serif', 'Times New Roman', serif">γ</tspan></text><text x="1754" y="399.3" fill="#231f20" font-size="37" font-weight="bold">...</text>
<text x="60.7" y="1104.5" fill="#231f20" font-size="45.5" font-style="italic" letter-spacing="0.82">med5a/5b ref8-1</text>
<g font-family="'Liberation Sans', Arial, Helvetica, sans-serif" font-weight="bold" font-size="42">
<text x="58" y="1171.0" fill="#29a9e0">A:</text><text x="151" y="1171.0" fill="#29a9e0">49%</text>
<text x="58" y="1215.9" fill="#00a651">B:</text><text x="151" y="1215.9" fill="#00a651">31%</text>
<text x="58" y="1260.8" fill="#92278f">C:</text><text x="151" y="1260.8" fill="#92278f">19%</text>
<text x="58" y="1305.7" fill="#2e3192">D′:</text><text x="151" y="1305.7" fill="#2e3192">1.0%</text>
<text x="58" y="1350.6" fill="#e3202a">E:</text><text x="151" y="1350.6" fill="#e3202a">0.0%</text>
<text x="58" y="1405.9" fill="#e6168c">X1:</text><text x="151" y="1405.9" fill="#e6168c">11%</text>
<text x="58" y="1450.8" fill="#f7941d">X2:</text><text x="151" y="1450.8" fill="#f7941d">24%</text>
</g>
<text x="573.6" y="1092.6" fill="#00a651" font-size="37" font-weight="bold">B<tspan font-family="'Liberation Serif', 'Times New Roman', serif">β</tspan></text>
<text x="809.7" y="1142" fill="#92278f" font-size="37" font-weight="bold">C<tspan font-family="'Liberation Serif', 'Times New Roman', serif">β</tspan></text>
<text x="333" y="1412.3" fill="#e6168c" font-size="37" font-weight="bold">X1<tspan font-family="'Liberation Serif', 'Times New Roman', serif">γ</tspan></text>
<text x="569" y="1475.8" fill="#00a651" font-size="37" font-weight="bold">B<tspan font-family="'Liberation Serif', 'Times New Roman', serif">γ</tspan></text>
<text x="531.3" y="1528.1" fill="#92278f" font-size="37" font-weight="bold">C<tspan font-family="'Liberation Serif', 'Times New Roman', serif">γ</tspan></text>
<text x="623.3" y="1528.1" fill="#92278f" font-size="37" font-weight="bold">C<tspan font-family="'Liberation Serif', 'Times New Roman', serif">γ</tspan></text>
<text x="51.2" y="1569.9" fill="#29a9e0" font-size="37" font-weight="bold">A<tspan font-family="'Liberation Serif', 'Times New Roman', serif">α</tspan></text>
<text x="117.7" y="1657" fill="#f7941d" font-size="37" font-weight="bold">X2<tspan font-family="'Liberation Serif', 'Times New Roman', serif">α</tspan></text>
<text x="209.5" y="1628.8" fill="#f7941d" font-size="37" font-weight="bold">X2<tspan font-family="'Liberation Serif', 'Times New Roman', serif">β</tspan></text>
<text x="452.5" y="1723.6" fill="#29a9e0" font-size="37" font-weight="bold">A<tspan font-family="'Liberation Serif', 'Times New Roman', serif">β</tspan></text>
<text x="565.2" y="1800.1" fill="#2e3192" font-size="37" font-weight="bold">D′<tspan font-family="'Liberation Serif', 'Times New Roman', serif">β</tspan></text>
<text x="380.4" y="1837.9" fill="#92278f" font-size="37" font-weight="bold">C<tspan font-family="'Liberation Serif', 'Times New Roman', serif">α</tspan></text>
<text x="302.6" y="1862.7" fill="#2e3192" font-size="37" font-weight="bold">D′<tspan font-family="'Liberation Serif', 'Times New Roman', serif">α</tspan></text>
<text x="197.5" y="1883.8" fill="#00a651" font-size="37" font-weight="bold">B<tspan font-family="'Liberation Serif', 'Times New Roman', serif">α</tspan></text>
<text x="631.8" y="1427" fill="#29a9e0" font-size="37" font-weight="bold">A<tspan font-family="'Liberation Serif', 'Times New Roman', serif">γ</tspan></text><text x="684" y="1427" fill="#231f20" font-size="37">+</text><text x="717.5" y="1427" fill="#2e3192" font-size="37" font-weight="bold">D′<tspan font-family="'Liberation Serif', 'Times New Roman', serif">γ</tspan></text><text x="781" y="1427" fill="#231f20" font-size="37">...</text>
<path fill="none" stroke="#29a9e0" stroke-width="2.9" stroke-linecap="butt" stroke-linejoin="round" d="M1146.8 1112.8L1164.8 1123.5M1164.8 1123.5L1164.8 1153.0M1164.8 1153.0L1137.0 1170.0M1137.0 1170.0L1119.5 1160.8M1202.5 1165.2L1219.7 1155.4M1219.7 1155.4L1219.7 1121.8M1225.2 1149.4L1225.2 1127.8M1219.7 1121.8L1246.7 1106.3M1219.7 1155.4L1247.5 1171.0M1247.5 1171.0L1272.9 1150.0M1248.6 1163.0L1264.8 1149.5M1205.0 1114.3L1213.0 1118.7M1247.5 1171.0L1247.5 1191.4M1137.0 1170.0L1137.0 1202.8M1137.0 1202.8L1108.4 1217.6M1134.4 1210.3L1116.1 1219.8M1108.4 1217.6L1108.4 1245.0M1137.0 1202.8L1164.0 1217.6M1164.0 1217.6L1164.0 1245.0M1158.5 1222.5L1158.5 1240.1"/>
<path fill="none" stroke="#29a9e0" stroke-width="2.7" stroke-linejoin="round" d="M1232.8 1084.2L1231.7 1088.7 1239.1 1087.9 1235.2 1094.2 1242.5 1093.4 1238.7 1099.7 1246.0 1098.9 1242.1 1105.2 1249.4 1104.4 1245.6 1110.7 1252.9 1109.9 1249.1 1116.1 1256.4 1115.4 1252.5 1121.6 1259.8 1120.9 1256.0 1127.1 1263.3 1126.3 1259.5 1132.6 1266.8 1131.8 1262.9 1138.1 1270.2 1137.3 1266.4 1143.6 1273.7 1142.8 1269.9 1149.1 1277.2 1148.3 1273.3 1154.6 1280.6 1153.8 1276.8 1160.1 1284.1 1159.3 1280.2 1165.5 1287.6 1164.8 1283.7 1171.0 1291.0 1170.3 1287.2 1176.5 1291.7 1177.5M1080.6 1246.2L1083.8 1249.5 1086.9 1242.9 1090.1 1249.5 1093.2 1242.9 1096.4 1249.5 1099.5 1242.9 1102.7 1249.5 1105.8 1242.9 1109.0 1249.5 1112.1 1242.9 1115.3 1249.5 1118.5 1242.9 1121.6 1249.5 1124.8 1242.9 1127.9 1249.5 1131.1 1242.9 1134.2 1249.5 1137.4 1242.9 1140.5 1249.5 1143.7 1242.9 1146.8 1249.5 1150.0 1242.9 1153.1 1249.5 1156.3 1242.9 1159.5 1249.5 1162.6 1242.9 1165.8 1249.5 1168.9 1242.9 1172.1 1249.5 1175.2 1242.9 1178.4 1249.5 1181.5 1242.9 1184.7 1249.5 1187.8 1242.9 1191.0 1246.2"/>
<path fill="#29a9e0" d="M1164.8 1153.0L1179.8 1168.3L1184.2 1162.1Z"/>
<text x="1111.5" y="1115.6" fill="#29a9e0" font-size="22.5" font-weight="bold">HO</text>
<text x="1084.5" y="1163.6" fill="#29a9e0" font-size="22.5" font-weight="bold">HO</text>
<text x="1183.5" y="1178.3" fill="#29a9e0" font-size="22.5" font-weight="bold">O</text>
<text x="1239.5" y="1210.2" fill="#29a9e0" font-size="22.5" font-weight="bold">OMe</text>
<text x="1172" y="1121" fill="#231f20" font-size="22" font-family="'Liberation Serif', 'Times New Roman', serif">γ</text>
<text x="1132.5" y="1162" fill="#231f20" font-size="22" font-family="'Liberation Serif', 'Times New Roman', serif">α</text>
<text x="1159" y="1175.8" fill="#231f20" font-size="22" font-family="'Liberation Serif', 'Times New Roman', serif">β</text>
<path fill="none" stroke="#00a651" stroke-width="2.9" stroke-linecap="butt" stroke-linejoin="round" d="M1475.5 1063.0L1450.0 1077.3M1473.6 1070.4L1457.3 1079.5M1450.0 1077.3L1450.0 1108.0M1450.0 1108.0L1478.0 1124.3M1457.8 1106.2L1475.7 1116.6M1478.0 1124.3L1503.3 1110.4M1478.0 1124.3L1478.0 1146.4M1466.5 1163.6L1451.0 1173.4M1451.0 1173.4L1434.6 1139.0M1434.6 1139.0L1406.7 1153.0M1406.7 1153.0L1389.6 1143.1M1451.0 1173.4L1451.0 1205.3M1451.0 1205.3L1422.3 1220.9M1448.5 1212.9L1430.1 1222.9M1422.3 1220.9L1422.3 1248.0M1451.0 1205.3L1478.8 1220.9M1478.8 1220.9L1478.8 1248.0M1473.3 1225.8L1473.3 1243.1"/>
<path fill="none" stroke="#00a651" stroke-width="2.7" stroke-linejoin="round" d="M1464.0 1042.5L1462.9 1047.0 1470.2 1046.2 1466.3 1052.4 1473.6 1051.6 1469.7 1057.9 1477.0 1057.1 1473.1 1063.3 1480.4 1062.5 1476.6 1068.7 1483.9 1068.0 1480.0 1074.2 1487.3 1073.4 1483.4 1079.6 1490.7 1078.8 1486.8 1085.1 1494.1 1084.3 1490.2 1090.5 1497.5 1089.7 1493.6 1095.9 1500.9 1095.2 1497.0 1101.4 1504.3 1100.6 1500.4 1106.8 1507.7 1106.0 1503.9 1112.3 1511.1 1111.5 1507.3 1117.7 1514.6 1116.9 1510.7 1123.2 1518.0 1122.4 1514.1 1128.6 1521.4 1127.8 1517.5 1134.0 1522.0 1135.0M1395.3 1249.5L1398.5 1252.8 1401.8 1246.2 1405.0 1252.8 1408.2 1246.2 1411.4 1252.8 1414.7 1246.2 1417.9 1252.8 1421.1 1246.2 1424.3 1252.8 1427.6 1246.2 1430.8 1252.8 1434.0 1246.2 1437.2 1252.8 1440.5 1246.2 1443.7 1252.8 1446.9 1246.2 1450.2 1252.8 1453.4 1246.2 1456.6 1252.8 1459.8 1246.2 1463.1 1252.8 1466.3 1246.2 1469.5 1252.8 1472.7 1246.2 1476.0 1252.8 1479.2 1246.2 1482.4 1252.8 1485.6 1246.2 1488.9 1252.8 1492.1 1246.2 1495.3 1252.8 1498.5 1246.2 1501.8 1252.8 1505.0 1249.5"/>
<path fill="#00a651" d="M1434.6 1139.0L1453.4 1109.7L1446.6 1106.3Z"/>
<text x="1359" y="1145.6" fill="#00a651" font-size="22.5" font-weight="bold">HO</text>
<text x="1470.5" y="1165.2" fill="#00a651" font-size="22.5" font-weight="bold">O</text>
<text x="1435" y="1107.4" fill="#231f20" font-size="19">5</text>
<text x="1422.5" y="1131.6" fill="#231f20" font-size="22" font-family="'Liberation Serif', 'Times New Roman', serif">β</text>
<text x="1401.5" y="1163.6" fill="#231f20" font-size="22" font-family="'Liberation Serif', 'Times New Roman', serif">γ</text>
<text x="1435" y="1180" fill="#231f20" font-size="22" font-family="'Liberation Serif', 'Times New Roman', serif">α</text>
<path fill="none" stroke="#92278f" stroke-width="2.9" stroke-linecap="butt" stroke-linejoin="round" d="M1719.6 1113.7L1736.2 1104.2M1759.2 1104.2L1775.5 1113.2M1719.6 1113.7L1719.6 1145.8M1775.5 1113.2L1775.5 1145.8M1719.6 1145.8L1719.6 1178.6M1719.6 1178.6L1735.4 1188.1M1758.4 1188.1L1775.5 1178.6M1775.5 1178.6L1775.5 1145.8M1775.5 1113.2L1802.8 1098.6M1802.8 1098.6L1802.8 1065.3M1808.3 1092.6L1808.3 1071.3M1802.8 1065.3L1825.7 1052.7M1802.8 1098.6L1830.5 1113.2M1830.5 1113.2L1853.4 1098.6M1831.7 1105.9L1846.3 1096.6M1719.6 1178.6L1691.9 1193.7M1691.9 1193.7L1664.2 1178.6M1684.3 1195.8L1666.6 1186.1M1664.2 1178.6L1640.4 1192.1M1691.9 1193.7L1691.9 1225.3M1691.9 1225.3L1666.5 1240.4M1684.5 1223.3L1668.3 1233.0"/>
<path fill="none" stroke="#92278f" stroke-width="2.7" stroke-linejoin="round" d="M1821.0 1040.0L1819.9 1044.5 1827.2 1043.7 1823.4 1050.0 1830.7 1049.2 1826.8 1055.5 1834.1 1054.7 1830.2 1061.0 1837.5 1060.2 1833.7 1066.5 1841.0 1065.7 1837.1 1072.0 1844.4 1071.2 1840.5 1077.5 1847.8 1076.7 1844.0 1082.9 1851.3 1082.2 1847.4 1088.4 1854.7 1087.7 1850.8 1093.9 1858.1 1093.2 1854.3 1099.4 1861.6 1098.7 1857.7 1104.9 1865.0 1104.2 1861.1 1110.4 1868.4 1109.7 1864.6 1115.9 1871.9 1115.2 1868.0 1121.4 1872.5 1122.4M1625.3 1170.7L1624.2 1175.2 1631.5 1174.4 1627.5 1180.6 1634.8 1179.9 1630.9 1186.1 1638.2 1185.3 1634.2 1191.5 1641.5 1190.8 1637.6 1197.0 1644.9 1196.2 1641.0 1202.4 1648.3 1201.7 1644.3 1207.9 1651.6 1207.1 1647.7 1213.3 1655.0 1212.6 1651.0 1218.8 1658.3 1218.0 1654.4 1224.2 1661.7 1223.5 1657.8 1229.7 1665.1 1229.0 1661.1 1235.1 1668.4 1234.4 1664.5 1240.6 1671.8 1239.9 1667.8 1246.0 1675.1 1245.3 1671.2 1251.5 1678.5 1250.8 1674.6 1257.0 1681.9 1256.2 1677.9 1262.4 1682.4 1263.4"/>
<path stroke="#92278f" stroke-width="6" d="M1719.6 1145.8L1775.5 1145.8"/>
<text x="1740.5" y="1105" fill="#92278f" font-size="22.5" font-weight="bold">O</text>
<text x="1740.5" y="1200.8" fill="#92278f" font-size="22.5" font-weight="bold">O</text>
<text x="1708" y="1113.7" fill="#231f20" font-size="22" font-family="'Liberation Serif', 'Times New Roman', serif">γ</text>
<text x="1705.5" y="1153.3" fill="#231f20" font-size="22" font-family="'Liberation Serif', 'Times New Roman', serif">β</text>
<text x="1716" y="1192.9" fill="#231f20" font-size="22" font-family="'Liberation Serif', 'Times New Roman', serif">α</text>
<path fill="none" stroke="#2e3192" stroke-width="2.9" stroke-linecap="butt" stroke-linejoin="round" d="M1156.0 1408.7L1173.8 1437.3M1160.7 1405.8L1178.5 1434.4M1209.2 1437.3L1225.2 1410.5M1204.5 1434.5L1220.5 1407.7M1173.8 1437.3L1157.8 1466.0M1108.2 1435.4L1125.0 1466.0M1125.0 1466.0L1157.8 1466.0M1130.9 1460.5L1151.9 1460.5M1209.2 1437.3L1225.2 1466.0M1274.0 1435.2L1258.9 1466.0M1225.2 1466.0L1258.9 1466.0M1231.3 1460.5L1252.8 1460.5M1157.8 1466.0L1168.8 1482.0M1225.2 1466.0L1215.0 1482.0M1168.8 1504.7L1160.4 1523.2M1160.4 1523.2L1192.4 1523.2M1192.4 1523.2L1208.4 1551.8M1208.4 1551.8L1230.2 1551.8M1160.4 1523.2L1141.9 1551.8M1141.9 1551.8L1108.2 1551.8M1108.2 1551.8L1093.9 1580.0M1110.5 1559.4L1101.4 1577.4M1141.9 1551.8L1158.7 1580.4M1140.2 1559.7L1150.9 1578.0M1158.7 1580.4L1143.5 1608.5M1125.0 1466.0L1115.8 1482.0M1258.9 1466.0L1268.0 1482.0"/>
<path fill="none" stroke="#2e3192" stroke-width="2.7" stroke-linejoin="round" d="M1088.8 1447.4L1093.3 1448.5 1092.6 1441.2 1098.8 1445.2 1098.1 1437.9 1104.3 1441.8 1103.6 1434.5 1109.8 1438.4 1109.1 1431.1 1115.3 1435.1 1114.6 1427.8 1120.8 1431.7 1120.1 1424.4 1126.3 1428.4 1125.6 1421.0 1131.8 1425.0 1131.2 1417.7 1137.3 1421.6 1136.7 1414.3 1142.9 1418.3 1142.2 1410.9 1148.4 1414.9 1147.7 1407.6 1153.9 1411.5 1153.2 1404.2 1159.4 1408.2 1158.7 1400.9 1164.9 1404.8 1164.2 1397.5 1170.4 1401.4 1169.7 1394.1 1175.9 1398.1 1175.2 1390.8 1179.7 1391.9M1208.4 1398.6L1209.6 1403.0 1215.6 1398.8 1215.2 1406.2 1221.2 1401.9 1220.8 1409.3 1226.8 1405.1 1226.4 1412.4 1232.5 1408.2 1232.1 1415.5 1238.1 1411.3 1237.7 1418.6 1243.7 1414.4 1243.3 1421.7 1249.3 1417.5 1248.9 1424.8 1254.9 1420.6 1254.5 1428.0 1260.5 1423.8 1260.1 1431.1 1266.1 1426.9 1265.7 1434.2 1271.7 1430.0 1271.3 1437.3 1277.3 1433.1 1276.9 1440.4 1283.0 1436.2 1282.6 1443.5 1288.6 1439.3 1288.2 1446.7 1294.2 1442.4 1293.8 1449.8 1299.8 1445.6 1301.0 1450.0M1072.0 1568.6L1073.1 1573.0 1079.2 1568.9 1078.7 1576.2 1084.7 1572.1 1084.3 1579.4 1090.3 1575.2 1089.8 1582.5 1095.9 1578.4 1095.4 1585.7 1101.4 1581.6 1100.9 1588.9 1107.0 1584.7 1106.5 1592.0 1112.5 1587.9 1112.0 1595.2 1118.1 1591.0 1117.6 1598.4 1123.7 1594.2 1123.2 1601.5 1129.2 1597.4 1128.7 1604.7 1134.8 1600.5 1134.3 1607.8 1140.3 1603.7 1139.8 1611.0 1145.9 1606.9 1145.4 1614.2 1151.4 1610.0 1151.0 1617.3 1157.0 1613.2 1156.5 1620.5 1162.6 1616.4 1163.7 1620.8"/>
<path fill="#2e3192" d="M1192.4 1523.2L1206.0 1506.6L1199.0 1502.8Z"/>
<path stroke="#2e3192" stroke-width="6.5" d="M1173.8 1437.3L1209.2 1437.3"/>
<text x="1165.5" y="1500.5" fill="#2e3192" font-size="22.5" font-weight="bold">O</text>
<text x="1205" y="1500.5" fill="#2e3192" font-size="22.5" font-weight="bold">O</text>
<text x="1074.5" y="1500.5" fill="#2e3192" font-size="22.5" font-weight="bold">MeO</text>
<text x="1266.5" y="1500.5" fill="#2e3192" font-size="22.5" font-weight="bold">OMe</text>
<text x="1234.5" y="1560.2" fill="#2e3192" font-size="22.5" font-weight="bold">OH</text>
<text x="1178.5" y="1428.9" fill="#231f20" font-size="19">5</text>
<text x="1196" y="1458.4" fill="#231f20" font-size="19">5</text>
<text x="1144" y="1521.5" fill="#231f20" font-size="22" font-family="'Liberation Serif', 'Times New Roman', serif">α</text>
<text x="1181" y="1540" fill="#231f20" font-size="22" font-family="'Liberation Serif', 'Times New Roman', serif">β</text>
<path fill="none" stroke="#2e3192" stroke-width="2.9" stroke-linecap="butt" stroke-linejoin="round" d="M1418.3 1408.7L1436.1 1437.3M1423.0 1405.8L1440.8 1434.4M1471.5 1437.3L1487.5 1410.5M1466.8 1434.5L1482.8 1407.7M1436.1 1437.3L1420.1 1466.0M1370.5 1435.4L1387.3 1466.0M1387.3 1466.0L1420.1 1466.0M1393.2 1460.5L1414.2 1460.5M1471.5 1437.3L1487.5 1466.0M1536.3 1435.2L1521.2 1466.0M1487.5 1466.0L1521.2 1466.0M1493.6 1460.5L1515.1 1460.5M1420.1 1466.0L1431.1 1482.0M1487.5 1466.0L1477.3 1482.0M1431.1 1504.7L1422.7 1523.2M1422.7 1523.2L1454.7 1523.2M1454.7 1523.2L1470.7 1551.8M1470.7 1551.8L1492.5 1551.8M1422.7 1523.2L1404.2 1551.8M1404.2 1551.8L1370.5 1551.8M1370.5 1551.8L1356.2 1580.0M1372.8 1559.4L1363.7 1577.4M1404.2 1551.8L1421.0 1580.4M1402.5 1559.7L1413.2 1578.0M1421.0 1580.4L1405.8 1608.5"/>
<path fill="none" stroke="#2e3192" stroke-width="2.7" stroke-linejoin="round" d="M1351.1 1447.4L1355.6 1448.5 1354.9 1441.2 1361.1 1445.2 1360.4 1437.9 1366.6 1441.8 1365.9 1434.5 1372.1 1438.4 1371.4 1431.1 1377.6 1435.1 1376.9 1427.8 1383.1 1431.7 1382.4 1424.4 1388.6 1428.4 1387.9 1421.0 1394.1 1425.0 1393.5 1417.7 1399.6 1421.6 1399.0 1414.3 1405.2 1418.3 1404.5 1410.9 1410.7 1414.9 1410.0 1407.6 1416.2 1411.5 1415.5 1404.2 1421.7 1408.2 1421.0 1400.9 1427.2 1404.8 1426.5 1397.5 1432.7 1401.4 1432.0 1394.1 1438.2 1398.1 1437.5 1390.8 1442.0 1391.9M1470.7 1398.6L1471.9 1403.0 1477.9 1398.8 1477.5 1406.2 1483.5 1401.9 1483.1 1409.3 1489.1 1405.1 1488.7 1412.4 1494.8 1408.2 1494.4 1415.5 1500.4 1411.3 1500.0 1418.6 1506.0 1414.4 1505.6 1421.7 1511.6 1417.5 1511.2 1424.8 1517.2 1420.6 1516.8 1428.0 1522.8 1423.8 1522.4 1431.1 1528.4 1426.9 1528.0 1434.2 1534.0 1430.0 1533.6 1437.3 1539.6 1433.1 1539.2 1440.4 1545.3 1436.2 1544.9 1443.5 1550.9 1439.3 1550.5 1446.7 1556.5 1442.4 1556.1 1449.8 1562.1 1445.6 1563.3 1450.0M1334.3 1568.6L1335.4 1573.0 1341.5 1568.9 1341.0 1576.2 1347.0 1572.1 1346.6 1579.4 1352.6 1575.2 1352.1 1582.5 1358.2 1578.4 1357.7 1585.7 1363.7 1581.6 1363.2 1588.9 1369.3 1584.7 1368.8 1592.0 1374.8 1587.9 1374.3 1595.2 1380.4 1591.0 1379.9 1598.4 1386.0 1594.2 1385.5 1601.5 1391.5 1597.4 1391.0 1604.7 1397.1 1600.5 1396.6 1607.8 1402.6 1603.7 1402.1 1611.0 1408.2 1606.9 1407.7 1614.2 1413.7 1610.0 1413.3 1617.3 1419.3 1613.2 1418.8 1620.5 1424.9 1616.4 1426.0 1620.8"/>
<path fill="#2e3192" d="M1454.7 1523.2L1468.3 1506.6L1461.3 1502.8Z"/>
<path stroke="#2e3192" stroke-width="6.5" d="M1436.1 1437.3L1471.5 1437.3"/>
<text x="1427.8" y="1500.5" fill="#2e3192" font-size="22.5" font-weight="bold">O</text>
<text x="1467.3" y="1500.5" fill="#2e3192" font-size="22.5" font-weight="bold">O</text>
<text x="1496.8" y="1560.2" fill="#2e3192" font-size="22.5" font-weight="bold">OH</text>
<text x="1440.8" y="1428.9" fill="#231f20" font-size="19">5</text>
<text x="1458.3" y="1458.4" fill="#231f20" font-size="19">5</text>
<text x="1406.3" y="1521.5" fill="#231f20" font-size="22" font-family="'Liberation Serif', 'Times New Roman', serif">α</text>
<text x="1443.3" y="1540" fill="#231f20" font-size="22" font-family="'Liberation Serif', 'Times New Roman', serif">β</text>
<path fill="none" stroke="#e3202a" stroke-width="2.9" stroke-linecap="butt" stroke-linejoin="round" d="M1662.8 1402.1L1680.5 1429.1M1661.4 1410.0L1672.7 1427.3M1680.5 1429.1L1664.5 1457.0M1664.5 1457.0L1632.4 1457.0M1658.7 1451.5L1638.2 1451.5M1632.4 1457.0L1618.0 1429.1M1664.5 1457.0L1680.5 1484.0M1680.5 1484.0L1700.0 1484.0M1715.2 1493.3L1721.9 1513.6M1680.5 1484.0L1671.2 1513.6M1721.9 1513.6L1698.3 1533.0M1671.2 1513.6L1644.2 1529.7M1644.2 1529.7L1626.5 1520.4M1721.9 1513.6L1749.0 1528.8M1749.0 1528.8L1765.8 1518.7M1749.0 1528.8L1749.0 1561.8M1749.0 1561.8L1765.8 1570.2M1788.7 1519.5L1803.9 1528.8M1803.9 1528.8L1830.0 1513.6M1811.4 1530.8L1828.1 1521.1M1830.0 1513.6L1830.0 1496.7M1830.0 1513.6L1855.4 1528.8M1803.9 1528.8L1803.9 1560.0M1803.9 1560.0L1831.7 1575.3M1811.6 1557.9L1829.3 1567.7M1698.3 1533.0L1669.5 1547.4M1669.5 1547.4L1669.5 1580.3M1675.0 1553.3L1675.0 1574.4M1669.5 1580.3L1698.3 1594.7M1698.3 1594.7L1723.6 1580.3M1723.6 1580.3L1723.6 1547.4M1718.1 1574.4L1718.1 1553.3M1723.6 1547.4L1698.3 1533.0M1723.6 1580.3L1740.5 1589.6M1695.7 1594.7L1695.7 1615.0M1700.9 1594.7L1700.9 1615.0"/>
<path fill="none" stroke="#e3202a" stroke-width="2.7" stroke-linejoin="round" d="M1590.1 1447.7L1594.6 1448.8 1593.8 1441.5 1600.1 1445.4 1599.3 1438.1 1605.6 1441.9 1604.8 1434.6 1611.0 1438.5 1610.3 1431.2 1616.5 1435.1 1615.8 1427.8 1622.0 1431.7 1621.2 1424.4 1627.5 1428.3 1626.7 1420.9 1633.0 1424.8 1632.2 1417.5 1638.4 1421.4 1637.7 1414.1 1643.9 1418.0 1643.2 1410.7 1649.4 1414.6 1648.6 1407.3 1654.9 1411.2 1654.1 1403.8 1660.4 1407.7 1659.6 1400.4 1665.8 1404.3 1665.1 1397.0 1671.3 1400.9 1670.6 1393.6 1676.8 1397.5 1676.0 1390.2 1682.3 1394.0 1681.5 1386.7 1687.8 1390.6 1687.0 1383.3 1691.5 1384.4M1874.0 1501.8L1869.5 1502.9 1873.7 1509.0 1866.3 1508.4 1870.5 1514.5 1863.1 1514.0 1867.3 1520.0 1859.9 1519.5 1864.1 1525.6 1856.7 1525.0 1860.9 1531.1 1853.5 1530.5 1857.7 1536.6 1850.3 1536.1 1854.5 1542.1 1847.1 1541.6 1851.3 1547.6 1843.9 1547.1 1848.1 1553.2 1840.7 1552.6 1844.9 1558.7 1837.5 1558.2 1841.7 1564.2 1834.3 1563.7 1838.5 1569.7 1831.1 1569.2 1835.3 1575.3 1827.9 1574.7 1832.1 1580.8 1824.7 1580.2 1828.9 1586.3 1821.5 1585.8 1825.7 1591.8 1818.3 1591.3 1822.5 1597.4 1815.1 1596.8 1819.3 1602.9 1814.8 1604.0"/>
<path fill="#e3202a" d="M1671.2 1513.6L1696.1 1536.0L1700.5 1530.0Z"/>
<path stroke="#e3202a" stroke-width="2.9" stroke-dasharray="3 2.2" d="M1669.5 1580.3L1651.5 1589.3"/>
<text x="1701.5" y="1491.6" fill="#e3202a" font-size="22.5" font-weight="bold">O</text>
<text x="1592.5" y="1522" fill="#e3202a" font-size="22.5" font-weight="bold">HO</text>
<text x="1768.2" y="1521.2" fill="#e3202a" font-size="22.5" font-weight="bold">O</text>
<text x="1768.2" y="1580.3" fill="#e3202a" font-size="22.5" font-weight="bold">OH</text>
<text x="1822.3" y="1490.3" fill="#e3202a" font-size="22.5" font-weight="bold">OMe</text>
<text x="1741.2" y="1605.7" fill="#e3202a" font-size="22.5" font-weight="bold">OMe</text>
<text x="1688.8" y="1636.1" fill="#e3202a" font-size="22.5" font-weight="bold">O</text>
<text x="1692.5" y="1556.7" fill="#231f20" font-size="19">1</text>
<text x="1662.3" y="1489.1" fill="#231f20" font-size="22" font-family="'Liberation Serif', 'Times New Roman', serif">α</text>
<text x="1664.8" y="1533.9" fill="#231f20" font-size="22" font-family="'Liberation Serif', 'Times New Roman', serif">β</text>
<text x="1716.3" y="1529.7" fill="#231f20" font-size="22" font-family="'Liberation Serif', 'Times New Roman', serif">α</text>
<text x="1747.6" y="1517" fill="#231f20" font-size="22" font-family="'Liberation Serif', 'Times New Roman', serif">β</text>
<path fill="none" stroke="#e6168c" stroke-width="2.9" stroke-linecap="butt" stroke-linejoin="round" d="M1162.8 1891.2L1136.4 1905.8M1160.7 1898.6L1143.8 1908.0M1136.4 1905.8L1136.4 1931.5M1162.8 1891.2L1190.5 1905.8M1190.5 1905.8L1190.5 1931.5M1185.0 1910.4L1185.0 1926.9M1162.8 1891.2L1162.8 1862.2M1162.8 1862.2L1190.5 1846.4M1166.7 1865.8L1191.6 1851.5M1190.5 1846.4L1190.5 1814.7M1190.5 1814.7L1206.3 1805.4"/>
<path fill="none" stroke="#e6168c" stroke-width="2.7" stroke-linejoin="round" d="M1110.8 1932.2L1114.0 1935.5 1117.2 1928.9 1120.3 1935.5 1123.5 1928.9 1126.7 1935.5 1129.9 1928.9 1133.0 1935.5 1136.2 1928.9 1139.4 1935.5 1142.6 1928.9 1145.7 1935.5 1148.9 1928.9 1152.1 1935.5 1155.3 1928.9 1158.4 1935.5 1161.6 1928.9 1164.8 1935.5 1168.0 1928.9 1171.1 1935.5 1174.3 1928.9 1177.5 1935.5 1180.7 1928.9 1183.8 1935.5 1187.0 1928.9 1190.2 1935.5 1193.4 1928.9 1196.5 1935.5 1199.7 1928.9 1202.9 1935.5 1206.1 1928.9 1209.2 1935.5 1212.4 1928.9 1215.6 1932.2"/>
<text x="1208.5" y="1807.5" fill="#e6168c" font-size="22.5" font-weight="bold">OH</text>
<text x="1146.5" y="1864.8" fill="#231f20" font-size="22" font-family="'Liberation Serif', 'Times New Roman', serif">α</text>
<text x="1195.3" y="1854.3" fill="#231f20" font-size="22" font-family="'Liberation Serif', 'Times New Roman', serif">β</text>
<text x="1178" y="1818.6" fill="#231f20" font-size="22" font-family="'Liberation Serif', 'Times New Roman', serif">γ</text>
<path fill="none" stroke="#f7941d" stroke-width="2.9" stroke-linecap="butt" stroke-linejoin="round" d="M1422.8 1889.9L1395.1 1904.4M1420.4 1897.4L1402.6 1906.7M1395.1 1904.4L1395.1 1931.5M1422.8 1889.9L1450.5 1904.4M1450.5 1904.4L1450.5 1931.5M1445.0 1909.3L1445.0 1926.6M1422.8 1889.9L1422.8 1856.9M1422.8 1856.9L1407.0 1847.7M1422.8 1856.9L1450.5 1842.4M1450.5 1842.4L1450.5 1810.7M1450.5 1810.7L1434.7 1800.2M1450.5 1842.4L1465.0 1850.3"/>
<path fill="none" stroke="#f7941d" stroke-width="2.7" stroke-linejoin="round" d="M1367.4 1932.2L1370.6 1935.5 1373.7 1928.9 1376.9 1935.5 1380.1 1928.9 1383.2 1935.5 1386.4 1928.9 1389.6 1935.5 1392.7 1928.9 1395.9 1935.5 1399.1 1928.9 1402.2 1935.5 1405.4 1928.9 1408.6 1935.5 1411.7 1928.9 1414.9 1935.5 1418.1 1928.9 1421.2 1935.5 1424.4 1928.9 1427.5 1935.5 1430.7 1928.9 1433.9 1935.5 1437.0 1928.9 1440.2 1935.5 1443.4 1928.9 1446.5 1935.5 1449.7 1928.9 1452.9 1935.5 1456.0 1928.9 1459.2 1935.5 1462.4 1928.9 1465.5 1935.5 1468.7 1928.9 1471.9 1935.5 1475.0 1928.9 1478.2 1932.2"/>
<text x="1371" y="1851.1" fill="#f7941d" font-size="22.5" font-weight="bold">HO</text>
<text x="1398" y="1802.8" fill="#f7941d" font-size="22.5" font-weight="bold">HO</text>
<text x="1468.5" y="1863" fill="#f7941d" font-size="22.5" font-weight="bold">OH</text>
<text x="1418.3" y="1849" fill="#231f20" font-size="22" font-family="'Liberation Serif', 'Times New Roman', serif">α</text>
<text x="1446" y="1859.6" fill="#231f20" font-size="22" font-family="'Liberation Serif', 'Times New Roman', serif">β</text>
<text x="1454.5" y="1814" fill="#231f20" font-size="22" font-family="'Liberation Serif', 'Times New Roman', serif">γ</text>
<text x="1175.3" y="1293.1" fill="#231f20" font-size="25.5" font-weight="bold" text-anchor="middle">A</text>
<text x="1181.5" y="1326.3" fill="#231f20" font-size="27.2" text-anchor="middle">β-aryl ether</text>
<text x="1176.9" y="1354" fill="#231f20" font-size="27.2" text-anchor="middle">β-O-4</text>
<text x="1457.8" y="1293.1" fill="#231f20" font-size="25.5" font-weight="bold" text-anchor="middle">B</text>
<text x="1466.4" y="1326.3" fill="#231f20" font-size="27.2" text-anchor="middle">phenylcoumaran</text>
<text x="1456.9" y="1354" fill="#231f20" font-size="27.2" text-anchor="middle">β-5</text>
<text x="1733.5" y="1293.1" fill="#231f20" font-size="25.5" font-weight="bold" text-anchor="middle">C</text>
<text x="1736.4" y="1326.3" fill="#231f20" font-size="27.2" text-anchor="middle">resinol</text>
<text x="1736" y="1354" fill="#231f20" font-size="27.2" text-anchor="middle">β-β</text>
<text x="1170.6" y="1657.3" fill="#231f20" font-size="25.5" font-weight="bold" text-anchor="middle">D</text>
<text x="1177.9" y="1690" fill="#231f20" font-size="27.2" text-anchor="middle">dibenzodioxocin</text>
<text x="1173" y="1719.5" fill="#231f20" font-size="27.2" text-anchor="middle">5-5/β-O-4</text>
<text x="1177.4" y="1746.7" fill="#231f20" font-size="27.2" text-anchor="middle">(guaiacyl type)</text>
<text x="1456.7" y="1657.3" fill="#231f20" font-size="25.5" font-weight="bold" text-anchor="middle">D′</text>
<text x="1456.7" y="1690" fill="#231f20" font-size="27.2" text-anchor="middle">dibenzodioxocin</text>
<text x="1451" y="1719.5" fill="#231f20" font-size="27.2" text-anchor="middle">5-5/β-O-4</text>
<text x="1460.5" y="1746.7" fill="#231f20" font-size="27.2" text-anchor="middle">(<tspan font-style="italic">p</tspan>-hydroxyphenyl type)</text>
<text x="1733.7" y="1657.3" fill="#231f20" font-size="25.5" font-weight="bold" text-anchor="middle">E</text>
<text x="1740.5" y="1690" fill="#231f20" font-size="27.2" text-anchor="middle">spirodienone</text>
<text x="1732.6" y="1719.5" fill="#231f20" font-size="27.2" text-anchor="middle">β-1</text>
<text x="1163.7" y="1975.7" fill="#231f20" font-size="25.5" font-weight="bold" text-anchor="middle">X1</text>
<text x="1171.5" y="2008.2" fill="#231f20" font-size="27.2" text-anchor="middle">cinnamyl alcohol</text>
<text x="1170.7" y="2036.4" fill="#231f20" font-size="27.2" text-anchor="middle">end-units</text>
<text x="1421.5" y="1975.7" fill="#231f20" font-size="25.5" font-weight="bold" text-anchor="middle">X2</text>
<text x="1425.2" y="2008.2" fill="#231f20" font-size="27.2" text-anchor="middle">arylglycerol</text>
<text x="1427.6" y="2036.4" fill="#231f20" font-size="27.2" text-anchor="middle">end-units</text>
<rect x="1685.9" y="1804.1" width="95.7" height="23.4" fill="#fbeb1c"/>
<text x="1736.5" y="1862.3" fill="#231f20" font-size="26.6" text-anchor="middle">methoxyl</text>
<rect x="1685.9" y="1909.8" width="95.7" height="23.1" fill="#939498"/>
<text x="1742.5" y="1967.6" fill="#231f20" font-size="26.6" text-anchor="middle">not assigned</text>
<text x="1743.2" y="1998.7" fill="#231f20" font-size="26.6" text-anchor="middle">carbohydrates,</text>
<text x="1741.5" y="2030.8" fill="#231f20" font-size="26.6" text-anchor="middle">solvents, etc.</text>
</svg>
</body></html>
